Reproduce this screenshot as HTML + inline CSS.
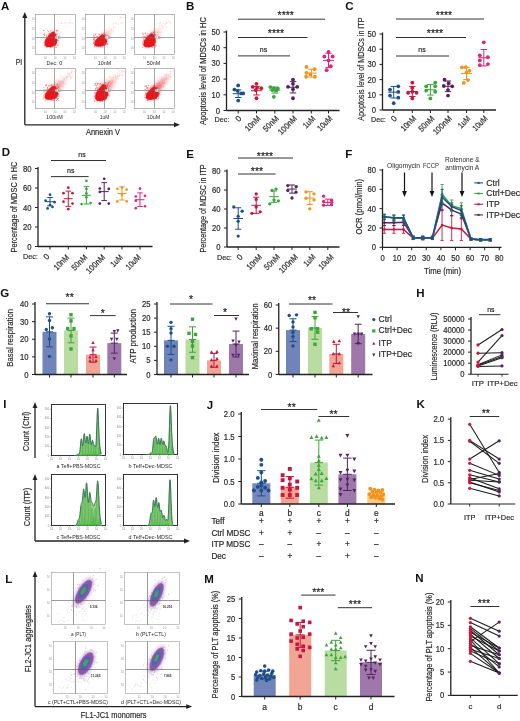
<!DOCTYPE html>
<html><head><meta charset="utf-8"><style>
html,body{margin:0;padding:0;background:#fff;width:520px;height:721px;overflow:hidden;font-family:"Liberation Sans",sans-serif;}
svg{display:block;opacity:0.999;} 
</style></head><body>
<svg width="520" height="721" viewBox="0 0 520 721" font-family="Liberation Sans, sans-serif">
<defs><filter id="blur1" x="-50%" y="-50%" width="200%" height="200%"><feGaussianBlur stdDeviation="1.6"/></filter><filter id="blur2" x="-50%" y="-50%" width="200%" height="200%"><feGaussianBlur stdDeviation="2.5"/></filter><linearGradient id="plume" x1="0" y1="1" x2="1" y2="0"><stop offset="0" stop-color="#e82020" stop-opacity="0.9"/><stop offset="1" stop-color="#f08080" stop-opacity="0.1"/></linearGradient><filter id="blur05" x="-20%" y="-20%" width="140%" height="140%"><feGaussianBlur stdDeviation="0.6"/></filter><linearGradient id="ggrad" x1="0" y1="0" x2="0" y2="1"><stop offset="0" stop-color="#2f9a3c"/><stop offset="1" stop-color="#7cc66a"/></linearGradient></defs>
<rect width="520" height="721" fill="#fff"/>
<text x="1.00" y="9.70" font-size="11.5" text-anchor="start" fill="#111" font-weight="bold">A</text>
<line x1="24.80" y1="16.00" x2="24.80" y2="124.80" stroke="#222" stroke-width="1.3"/>
<path d="M24.8 12 L22.3 18 L27.3 18 Z" fill="#222"/>
<line x1="24.80" y1="124.80" x2="176.00" y2="124.80" stroke="#222" stroke-width="1.3"/>
<path d="M180 124.8 L174 122.3 L174 127.3 Z" fill="#222"/>
<text x="19.00" y="65.00" font-size="9.5" text-anchor="middle" fill="#2a2a2a" stroke="#2a2a2a" stroke-width="0.2" textLength="6.5" lengthAdjust="spacingAndGlyphs">PI</text>
<text x="103.00" y="135.30" font-size="9.5" text-anchor="middle" fill="#2a2a2a" stroke="#2a2a2a" stroke-width="0.2" textLength="34" lengthAdjust="spacingAndGlyphs">Annexin V</text>
<rect x="35.5" y="14.5" width="40.0" height="40.0" fill="#fff" stroke="#9a9a9a" stroke-width="0.7"/>
<ellipse cx="54.3" cy="34.7" rx="5.8" ry="5.3" fill="#f6a0a0" opacity="0.25" transform="rotate(-50 54.3 34.7)" filter="url(#blur2)"/>
<g fill="#f08080" opacity="0.5"><circle cx="58.0" cy="31.0" r="0.45"/><circle cx="56.6" cy="31.5" r="0.45"/><circle cx="65.5" cy="23.8" r="0.45"/><circle cx="56.0" cy="33.0" r="0.45"/><circle cx="69.3" cy="22.3" r="0.45"/><circle cx="67.3" cy="26.9" r="0.45"/><circle cx="70.7" cy="19.6" r="0.45"/><circle cx="64.7" cy="25.9" r="0.45"/><circle cx="61.7" cy="23.2" r="0.4"/><circle cx="61.8" cy="23.4" r="0.4"/><circle cx="64.8" cy="22.9" r="0.4"/><circle cx="61.9" cy="23.3" r="0.4"/><circle cx="61.8" cy="22.8" r="0.4"/><circle cx="59.0" cy="23.4" r="0.4"/><circle cx="70.4" cy="22.5" r="0.4"/><circle cx="61.3" cy="23.0" r="0.4"/><circle cx="72.6" cy="23.5" r="0.4"/><circle cx="63.4" cy="23.1" r="0.4"/><circle cx="68.8" cy="23.0" r="0.4"/><circle cx="64.6" cy="21.9" r="0.4"/><circle cx="70.3" cy="23.1" r="0.4"/><circle cx="66.9" cy="22.9" r="0.4"/><circle cx="71.1" cy="23.7" r="0.4"/><circle cx="66.9" cy="22.7" r="0.4"/></g>
<polygon points="44.5,44.6 45.2,40.1 48.4,35.5 52.3,31.7 54.9,32.5 56.9,37.0 57.5,40.8 55.6,45.4 51.0,46.9 46.5,46.9" fill="#f05050" opacity="0.55" filter="url(#blur1)"/>
<polygon points="44.5,44.6 45.2,40.1 48.4,35.5 52.3,31.7 54.9,32.5 56.9,37.0 57.5,40.8 55.6,45.4 51.0,46.9 46.5,46.9" fill="#e8141c" filter="url(#blur05)"/>
<g fill="#e82020" opacity="0.6"><circle cx="44.0" cy="34.4" r="0.5"/><circle cx="55.4" cy="37.4" r="0.5"/><circle cx="46.1" cy="39.8" r="0.5"/><circle cx="54.0" cy="42.0" r="0.5"/><circle cx="49.1" cy="37.9" r="0.5"/><circle cx="51.1" cy="43.8" r="0.5"/><circle cx="51.3" cy="37.1" r="0.5"/><circle cx="50.8" cy="30.7" r="0.5"/><circle cx="44.2" cy="42.5" r="0.5"/><circle cx="58.2" cy="40.5" r="0.5"/><circle cx="49.4" cy="33.2" r="0.5"/><circle cx="51.0" cy="47.3" r="0.5"/><circle cx="55.0" cy="39.6" r="0.5"/><circle cx="56.3" cy="34.2" r="0.5"/><circle cx="51.2" cy="46.8" r="0.5"/><circle cx="52.1" cy="38.2" r="0.5"/><circle cx="47.5" cy="39.8" r="0.5"/><circle cx="57.8" cy="30.3" r="0.5"/><circle cx="55.2" cy="44.5" r="0.5"/><circle cx="56.7" cy="43.1" r="0.5"/><circle cx="55.6" cy="39.2" r="0.5"/><circle cx="51.9" cy="37.6" r="0.5"/><circle cx="44.3" cy="45.4" r="0.5"/><circle cx="52.0" cy="33.7" r="0.5"/><circle cx="51.0" cy="38.7" r="0.5"/><circle cx="48.8" cy="36.2" r="0.5"/><circle cx="51.5" cy="41.1" r="0.5"/><circle cx="52.6" cy="38.2" r="0.5"/><circle cx="43.9" cy="34.2" r="0.5"/><circle cx="46.1" cy="40.4" r="0.5"/><circle cx="56.3" cy="44.1" r="0.5"/><circle cx="55.4" cy="44.5" r="0.5"/><circle cx="47.3" cy="44.9" r="0.5"/><circle cx="53.5" cy="31.6" r="0.5"/><circle cx="43.8" cy="30.4" r="0.5"/><circle cx="54.8" cy="34.5" r="0.5"/><circle cx="45.1" cy="41.1" r="0.5"/><circle cx="48.6" cy="31.4" r="0.5"/><circle cx="45.9" cy="39.4" r="0.5"/><circle cx="46.0" cy="35.0" r="0.5"/><circle cx="54.1" cy="38.1" r="0.5"/><circle cx="48.3" cy="38.5" r="0.5"/><circle cx="43.9" cy="36.9" r="0.5"/><circle cx="49.8" cy="33.5" r="0.5"/><circle cx="45.1" cy="45.9" r="0.5"/><circle cx="51.1" cy="33.8" r="0.5"/><circle cx="52.5" cy="44.5" r="0.5"/><circle cx="43.8" cy="30.5" r="0.5"/><circle cx="45.7" cy="42.7" r="0.5"/><circle cx="45.9" cy="42.5" r="0.5"/><circle cx="53.6" cy="39.7" r="0.5"/><circle cx="46.8" cy="47.2" r="0.5"/><circle cx="55.4" cy="39.2" r="0.5"/><circle cx="46.8" cy="41.5" r="0.5"/><circle cx="49.4" cy="40.2" r="0.5"/><circle cx="48.3" cy="41.2" r="0.5"/><circle cx="44.4" cy="35.4" r="0.5"/><circle cx="57.9" cy="45.5" r="0.5"/><circle cx="48.1" cy="45.2" r="0.5"/><circle cx="48.1" cy="46.6" r="0.5"/><circle cx="54.6" cy="37.5" r="0.5"/><circle cx="47.3" cy="30.3" r="0.5"/><circle cx="56.6" cy="30.8" r="0.5"/><circle cx="55.7" cy="47.0" r="0.5"/><circle cx="52.0" cy="33.2" r="0.5"/><circle cx="56.4" cy="47.2" r="0.5"/><circle cx="54.0" cy="39.1" r="0.5"/><circle cx="49.1" cy="36.2" r="0.5"/><circle cx="46.6" cy="42.0" r="0.5"/><circle cx="50.0" cy="33.6" r="0.5"/><circle cx="45.1" cy="41.8" r="0.5"/><circle cx="47.9" cy="38.9" r="0.5"/><circle cx="48.4" cy="45.4" r="0.5"/><circle cx="56.9" cy="30.5" r="0.5"/><circle cx="46.5" cy="35.9" r="0.5"/><circle cx="58.2" cy="43.9" r="0.5"/><circle cx="48.6" cy="33.9" r="0.5"/><circle cx="53.6" cy="44.8" r="0.5"/><circle cx="57.4" cy="36.2" r="0.5"/><circle cx="56.7" cy="42.2" r="0.5"/><circle cx="50.7" cy="47.4" r="0.5"/><circle cx="47.0" cy="42.9" r="0.5"/><circle cx="44.8" cy="33.1" r="0.5"/><circle cx="57.1" cy="33.9" r="0.5"/><circle cx="54.8" cy="40.7" r="0.5"/><circle cx="56.0" cy="36.6" r="0.5"/><circle cx="48.6" cy="35.3" r="0.5"/><circle cx="56.4" cy="40.7" r="0.5"/><circle cx="57.7" cy="45.7" r="0.5"/><circle cx="45.5" cy="39.8" r="0.5"/></g>
<line x1="54.50" y1="14.50" x2="54.50" y2="54.50" stroke="#666" stroke-width="0.6"/>
<line x1="35.50" y1="37.50" x2="75.50" y2="37.50" stroke="#666" stroke-width="0.6"/>
<rect x="55.3" y="36.0" width="5" height="3" fill="#fff" opacity="0.8"/>
<text x="55.50" y="38.70" font-size="2.6" text-anchor="start" fill="#555">2.96</text>
<text x="34.50" y="20.30" font-size="2.8" text-anchor="end" fill="#999">10</text>
<text x="34.50" y="29.90" font-size="2.8" text-anchor="end" fill="#999">10</text>
<text x="34.50" y="39.50" font-size="2.8" text-anchor="end" fill="#999">10</text>
<text x="34.50" y="49.10" font-size="2.8" text-anchor="end" fill="#999">10</text>
<text x="45.50" y="58.50" font-size="2.8" text-anchor="middle" fill="#999">10</text>
<text x="55.10" y="58.50" font-size="2.8" text-anchor="middle" fill="#999">10</text>
<text x="64.70" y="58.50" font-size="2.8" text-anchor="middle" fill="#999">10</text>
<text x="74.30" y="58.50" font-size="2.8" text-anchor="middle" fill="#999">10</text>
<text x="54.50" y="64.90" font-size="6.2" text-anchor="middle" fill="#2a2a2a" textLength="15.8" lengthAdjust="spacingAndGlyphs">Dec: 0</text>
<rect x="85.5" y="14.5" width="40.0" height="40.0" fill="#fff" stroke="#9a9a9a" stroke-width="0.7"/>
<ellipse cx="103.9" cy="36.9" rx="6.1" ry="4.2" fill="#f6a0a0" opacity="0.27" transform="rotate(-50 103.9 36.9)" filter="url(#blur2)"/>
<g fill="#f08080" opacity="0.5"><circle cx="121.9" cy="18.7" r="0.45"/><circle cx="106.8" cy="33.7" r="0.45"/><circle cx="114.8" cy="27.2" r="0.45"/><circle cx="113.5" cy="26.0" r="0.45"/><circle cx="109.0" cy="31.6" r="0.45"/><circle cx="124.2" cy="17.4" r="0.45"/><circle cx="111.2" cy="30.1" r="0.45"/><circle cx="103.4" cy="37.0" r="0.45"/><circle cx="111.6" cy="29.7" r="0.45"/><circle cx="113.5" cy="27.7" r="0.45"/><circle cx="110.4" cy="33.4" r="0.45"/><circle cx="121.9" cy="17.0" r="0.45"/><circle cx="120.9" cy="17.8" r="0.45"/><circle cx="120.6" cy="17.2" r="0.45"/><circle cx="113.7" cy="30.9" r="0.45"/><circle cx="106.6" cy="32.2" r="0.45"/><circle cx="115.2" cy="22.6" r="0.4"/><circle cx="121.6" cy="23.2" r="0.4"/><circle cx="115.7" cy="23.6" r="0.4"/><circle cx="121.1" cy="22.8" r="0.4"/><circle cx="121.3" cy="22.5" r="0.4"/><circle cx="121.6" cy="23.5" r="0.4"/><circle cx="118.8" cy="22.9" r="0.4"/><circle cx="113.2" cy="23.3" r="0.4"/><circle cx="118.5" cy="24.0" r="0.4"/><circle cx="112.5" cy="24.4" r="0.4"/><circle cx="121.5" cy="22.7" r="0.4"/><circle cx="118.6" cy="24.7" r="0.4"/><circle cx="115.8" cy="22.4" r="0.4"/><circle cx="116.9" cy="23.2" r="0.4"/><circle cx="113.1" cy="23.5" r="0.4"/><circle cx="121.8" cy="24.0" r="0.4"/></g>
<polygon points="100.1,36.3 110.7,26.1 114.7,30.1 106.5,39.9" fill="url(#plume)" opacity="0.38" filter="url(#blur1)"/>
<polygon points="94.3,44.7 94.9,41.1 98.1,37.5 102.0,34.5 104.5,35.1 106.5,38.7 107.1,41.7 105.2,45.3 100.7,46.5 96.2,46.5" fill="#f05050" opacity="0.55" filter="url(#blur1)"/>
<polygon points="94.3,44.7 94.9,41.1 98.1,37.5 102.0,34.5 104.5,35.1 106.5,38.7 107.1,41.7 105.2,45.3 100.7,46.5 96.2,46.5" fill="#e8141c" filter="url(#blur05)"/>
<g fill="#e82020" opacity="0.6"><circle cx="102.5" cy="34.3" r="0.5"/><circle cx="105.4" cy="43.3" r="0.5"/><circle cx="106.6" cy="35.9" r="0.5"/><circle cx="104.2" cy="34.1" r="0.5"/><circle cx="102.9" cy="37.1" r="0.5"/><circle cx="96.6" cy="45.4" r="0.5"/><circle cx="94.8" cy="40.5" r="0.5"/><circle cx="105.8" cy="36.7" r="0.5"/><circle cx="96.4" cy="45.5" r="0.5"/><circle cx="99.5" cy="43.2" r="0.5"/><circle cx="93.7" cy="38.3" r="0.5"/><circle cx="95.8" cy="42.6" r="0.5"/><circle cx="94.5" cy="46.5" r="0.5"/><circle cx="93.6" cy="43.4" r="0.5"/><circle cx="93.6" cy="36.8" r="0.5"/><circle cx="105.2" cy="35.5" r="0.5"/><circle cx="96.0" cy="42.8" r="0.5"/><circle cx="99.0" cy="33.9" r="0.5"/><circle cx="107.8" cy="35.4" r="0.5"/><circle cx="93.8" cy="38.0" r="0.5"/><circle cx="102.3" cy="43.5" r="0.5"/><circle cx="94.9" cy="38.0" r="0.5"/><circle cx="93.7" cy="39.5" r="0.5"/><circle cx="104.6" cy="43.5" r="0.5"/><circle cx="106.6" cy="43.7" r="0.5"/><circle cx="106.0" cy="43.0" r="0.5"/><circle cx="100.2" cy="36.4" r="0.5"/><circle cx="103.0" cy="37.7" r="0.5"/><circle cx="94.8" cy="39.5" r="0.5"/><circle cx="106.2" cy="35.1" r="0.5"/><circle cx="101.9" cy="38.7" r="0.5"/><circle cx="100.9" cy="35.3" r="0.5"/><circle cx="107.4" cy="36.9" r="0.5"/><circle cx="102.2" cy="39.1" r="0.5"/><circle cx="93.5" cy="41.0" r="0.5"/><circle cx="95.3" cy="34.1" r="0.5"/><circle cx="93.8" cy="35.5" r="0.5"/><circle cx="94.7" cy="42.1" r="0.5"/><circle cx="100.8" cy="46.9" r="0.5"/><circle cx="107.0" cy="47.0" r="0.5"/><circle cx="96.7" cy="39.4" r="0.5"/><circle cx="97.0" cy="41.5" r="0.5"/><circle cx="102.5" cy="44.3" r="0.5"/><circle cx="103.7" cy="36.8" r="0.5"/><circle cx="99.5" cy="40.6" r="0.5"/><circle cx="93.3" cy="33.8" r="0.5"/><circle cx="99.3" cy="34.8" r="0.5"/><circle cx="103.9" cy="36.6" r="0.5"/><circle cx="94.7" cy="35.8" r="0.5"/><circle cx="96.7" cy="36.3" r="0.5"/><circle cx="100.9" cy="39.7" r="0.5"/><circle cx="97.8" cy="42.2" r="0.5"/><circle cx="96.4" cy="45.8" r="0.5"/><circle cx="107.5" cy="43.4" r="0.5"/><circle cx="99.7" cy="40.4" r="0.5"/><circle cx="101.8" cy="34.0" r="0.5"/><circle cx="99.4" cy="40.5" r="0.5"/><circle cx="95.9" cy="34.6" r="0.5"/><circle cx="105.1" cy="38.4" r="0.5"/><circle cx="100.9" cy="46.0" r="0.5"/><circle cx="102.3" cy="37.3" r="0.5"/><circle cx="107.8" cy="38.4" r="0.5"/><circle cx="93.6" cy="42.8" r="0.5"/><circle cx="94.8" cy="37.5" r="0.5"/><circle cx="105.6" cy="42.6" r="0.5"/><circle cx="93.5" cy="39.5" r="0.5"/><circle cx="99.3" cy="40.0" r="0.5"/><circle cx="96.3" cy="41.4" r="0.5"/><circle cx="94.4" cy="37.2" r="0.5"/><circle cx="98.8" cy="46.2" r="0.5"/><circle cx="94.4" cy="43.7" r="0.5"/><circle cx="96.1" cy="41.2" r="0.5"/><circle cx="99.0" cy="39.7" r="0.5"/><circle cx="104.4" cy="38.8" r="0.5"/><circle cx="95.1" cy="35.0" r="0.5"/><circle cx="94.5" cy="45.0" r="0.5"/><circle cx="102.7" cy="46.5" r="0.5"/><circle cx="103.5" cy="33.6" r="0.5"/><circle cx="103.0" cy="44.0" r="0.5"/><circle cx="103.9" cy="40.2" r="0.5"/><circle cx="98.5" cy="39.6" r="0.5"/><circle cx="105.0" cy="37.0" r="0.5"/><circle cx="101.0" cy="39.9" r="0.5"/><circle cx="107.3" cy="44.4" r="0.5"/><circle cx="107.0" cy="44.8" r="0.5"/><circle cx="97.6" cy="36.5" r="0.5"/><circle cx="100.5" cy="36.9" r="0.5"/><circle cx="99.6" cy="42.7" r="0.5"/><circle cx="106.8" cy="41.4" r="0.5"/><circle cx="105.3" cy="34.6" r="0.5"/></g>
<line x1="104.50" y1="14.50" x2="104.50" y2="54.50" stroke="#666" stroke-width="0.6"/>
<line x1="85.50" y1="37.50" x2="125.50" y2="37.50" stroke="#666" stroke-width="0.6"/>
<rect x="105.3" y="36.0" width="5" height="3" fill="#fff" opacity="0.8"/>
<text x="105.50" y="38.70" font-size="2.6" text-anchor="start" fill="#555">2.96</text>
<text x="84.50" y="20.30" font-size="2.8" text-anchor="end" fill="#999">10</text>
<text x="84.50" y="29.90" font-size="2.8" text-anchor="end" fill="#999">10</text>
<text x="84.50" y="39.50" font-size="2.8" text-anchor="end" fill="#999">10</text>
<text x="84.50" y="49.10" font-size="2.8" text-anchor="end" fill="#999">10</text>
<text x="95.50" y="58.50" font-size="2.8" text-anchor="middle" fill="#999">10</text>
<text x="105.10" y="58.50" font-size="2.8" text-anchor="middle" fill="#999">10</text>
<text x="114.70" y="58.50" font-size="2.8" text-anchor="middle" fill="#999">10</text>
<text x="124.30" y="58.50" font-size="2.8" text-anchor="middle" fill="#999">10</text>
<text x="104.50" y="64.90" font-size="6.2" text-anchor="middle" fill="#2a2a2a" textLength="13.4" lengthAdjust="spacingAndGlyphs">10nM</text>
<rect x="134.5" y="14.5" width="40.0" height="40.0" fill="#fff" stroke="#9a9a9a" stroke-width="0.7"/>
<ellipse cx="152.8" cy="36.1" rx="6.4" ry="4.9" fill="#f6a0a0" opacity="0.29" transform="rotate(-50 152.8 36.1)" filter="url(#blur2)"/>
<g fill="#f08080" opacity="0.5"><circle cx="155.1" cy="32.4" r="0.45"/><circle cx="162.8" cy="25.7" r="0.45"/><circle cx="154.1" cy="34.9" r="0.45"/><circle cx="158.3" cy="32.8" r="0.45"/><circle cx="165.6" cy="21.6" r="0.45"/><circle cx="153.1" cy="31.8" r="0.45"/><circle cx="161.5" cy="25.3" r="0.45"/><circle cx="154.2" cy="33.3" r="0.45"/><circle cx="160.8" cy="32.4" r="0.45"/><circle cx="160.0" cy="25.4" r="0.45"/><circle cx="166.8" cy="23.1" r="0.45"/><circle cx="163.6" cy="23.3" r="0.45"/><circle cx="169.5" cy="20.9" r="0.45"/><circle cx="157.9" cy="32.8" r="0.45"/><circle cx="163.0" cy="27.4" r="0.45"/><circle cx="157.8" cy="32.0" r="0.45"/><circle cx="164.8" cy="25.1" r="0.45"/><circle cx="172.9" cy="15.4" r="0.45"/><circle cx="166.2" cy="27.4" r="0.45"/><circle cx="172.3" cy="17.3" r="0.45"/><circle cx="166.1" cy="26.8" r="0.45"/><circle cx="162.5" cy="27.2" r="0.45"/><circle cx="168.9" cy="20.9" r="0.45"/><circle cx="166.4" cy="22.5" r="0.45"/><circle cx="157.9" cy="28.6" r="0.45"/><circle cx="153.4" cy="35.3" r="0.45"/><circle cx="163.8" cy="26.6" r="0.45"/><circle cx="165.1" cy="18.0" r="0.45"/><circle cx="162.0" cy="24.0" r="0.4"/><circle cx="158.1" cy="23.7" r="0.4"/><circle cx="160.5" cy="22.6" r="0.4"/><circle cx="159.9" cy="23.8" r="0.4"/><circle cx="158.3" cy="23.7" r="0.4"/><circle cx="171.1" cy="22.9" r="0.4"/><circle cx="170.3" cy="22.8" r="0.4"/><circle cx="165.0" cy="23.8" r="0.4"/><circle cx="166.7" cy="22.7" r="0.4"/><circle cx="166.4" cy="22.9" r="0.4"/><circle cx="170.9" cy="22.7" r="0.4"/><circle cx="167.8" cy="23.3" r="0.4"/><circle cx="161.0" cy="22.8" r="0.4"/><circle cx="165.0" cy="24.9" r="0.4"/><circle cx="165.4" cy="23.9" r="0.4"/><circle cx="165.8" cy="23.3" r="0.4"/></g>
<polygon points="149.0,35.4 160.3,25.6 164.3,29.6 155.3,39.6" fill="url(#plume)" opacity="0.41" filter="url(#blur1)"/>
<polygon points="143.3,45.2 143.9,41.0 147.1,36.8 150.9,33.3 153.4,34.0 155.3,38.2 155.9,41.7 154.0,45.9 149.6,47.3 145.2,47.3" fill="#f05050" opacity="0.55" filter="url(#blur1)"/>
<polygon points="143.3,45.2 143.9,41.0 147.1,36.8 150.9,33.3 153.4,34.0 155.3,38.2 155.9,41.7 154.0,45.9 149.6,47.3 145.2,47.3" fill="#e8141c" filter="url(#blur05)"/>
<g fill="#e82020" opacity="0.6"><circle cx="142.6" cy="41.8" r="0.5"/><circle cx="151.5" cy="32.9" r="0.5"/><circle cx="151.4" cy="39.4" r="0.5"/><circle cx="152.1" cy="37.6" r="0.5"/><circle cx="152.5" cy="43.8" r="0.5"/><circle cx="142.6" cy="32.9" r="0.5"/><circle cx="152.1" cy="47.4" r="0.5"/><circle cx="145.9" cy="39.2" r="0.5"/><circle cx="150.9" cy="37.1" r="0.5"/><circle cx="147.6" cy="36.9" r="0.5"/><circle cx="147.6" cy="41.5" r="0.5"/><circle cx="146.6" cy="38.0" r="0.5"/><circle cx="153.5" cy="32.3" r="0.5"/><circle cx="150.5" cy="43.7" r="0.5"/><circle cx="146.8" cy="35.5" r="0.5"/><circle cx="153.9" cy="35.7" r="0.5"/><circle cx="145.0" cy="38.9" r="0.5"/><circle cx="152.4" cy="33.5" r="0.5"/><circle cx="147.0" cy="37.3" r="0.5"/><circle cx="154.4" cy="39.0" r="0.5"/><circle cx="154.7" cy="34.6" r="0.5"/><circle cx="147.2" cy="42.4" r="0.5"/><circle cx="155.1" cy="39.2" r="0.5"/><circle cx="145.6" cy="33.8" r="0.5"/><circle cx="150.0" cy="35.0" r="0.5"/><circle cx="154.0" cy="45.4" r="0.5"/><circle cx="145.0" cy="36.4" r="0.5"/><circle cx="154.0" cy="42.2" r="0.5"/><circle cx="154.0" cy="37.5" r="0.5"/><circle cx="144.2" cy="36.6" r="0.5"/><circle cx="153.8" cy="36.3" r="0.5"/><circle cx="147.3" cy="38.6" r="0.5"/><circle cx="148.4" cy="38.5" r="0.5"/><circle cx="155.6" cy="34.4" r="0.5"/><circle cx="142.4" cy="47.1" r="0.5"/><circle cx="155.0" cy="47.8" r="0.5"/><circle cx="148.6" cy="47.2" r="0.5"/><circle cx="155.7" cy="35.5" r="0.5"/><circle cx="153.1" cy="45.4" r="0.5"/><circle cx="151.9" cy="40.3" r="0.5"/><circle cx="146.5" cy="37.4" r="0.5"/><circle cx="145.6" cy="33.0" r="0.5"/><circle cx="150.8" cy="36.5" r="0.5"/><circle cx="154.0" cy="32.6" r="0.5"/><circle cx="155.4" cy="43.1" r="0.5"/><circle cx="155.7" cy="46.3" r="0.5"/><circle cx="155.3" cy="41.2" r="0.5"/><circle cx="142.5" cy="43.9" r="0.5"/><circle cx="144.8" cy="36.7" r="0.5"/><circle cx="151.9" cy="40.4" r="0.5"/><circle cx="148.3" cy="47.0" r="0.5"/><circle cx="151.2" cy="37.4" r="0.5"/><circle cx="146.0" cy="45.8" r="0.5"/><circle cx="149.2" cy="44.5" r="0.5"/><circle cx="147.4" cy="35.1" r="0.5"/><circle cx="150.0" cy="45.1" r="0.5"/><circle cx="144.8" cy="44.6" r="0.5"/><circle cx="155.6" cy="44.9" r="0.5"/><circle cx="154.2" cy="32.0" r="0.5"/><circle cx="151.4" cy="45.8" r="0.5"/><circle cx="143.0" cy="36.3" r="0.5"/><circle cx="146.2" cy="40.4" r="0.5"/><circle cx="148.4" cy="39.5" r="0.5"/><circle cx="153.5" cy="31.9" r="0.5"/><circle cx="143.1" cy="33.9" r="0.5"/><circle cx="144.1" cy="33.0" r="0.5"/><circle cx="156.4" cy="45.7" r="0.5"/><circle cx="143.5" cy="40.0" r="0.5"/><circle cx="146.9" cy="37.0" r="0.5"/><circle cx="147.4" cy="42.3" r="0.5"/><circle cx="150.8" cy="37.7" r="0.5"/><circle cx="145.1" cy="37.2" r="0.5"/><circle cx="144.1" cy="40.8" r="0.5"/><circle cx="152.7" cy="38.0" r="0.5"/><circle cx="143.4" cy="34.8" r="0.5"/><circle cx="147.7" cy="41.6" r="0.5"/><circle cx="153.6" cy="38.0" r="0.5"/><circle cx="153.9" cy="41.9" r="0.5"/><circle cx="148.5" cy="37.9" r="0.5"/><circle cx="149.5" cy="43.2" r="0.5"/><circle cx="148.4" cy="43.1" r="0.5"/><circle cx="149.0" cy="35.8" r="0.5"/><circle cx="150.1" cy="43.1" r="0.5"/><circle cx="143.3" cy="38.7" r="0.5"/><circle cx="148.5" cy="46.1" r="0.5"/><circle cx="155.9" cy="37.9" r="0.5"/><circle cx="155.3" cy="44.6" r="0.5"/><circle cx="146.1" cy="39.4" r="0.5"/><circle cx="144.1" cy="45.0" r="0.5"/><circle cx="151.9" cy="46.2" r="0.5"/></g>
<line x1="154.50" y1="14.50" x2="154.50" y2="54.50" stroke="#666" stroke-width="0.6"/>
<line x1="134.50" y1="37.50" x2="174.50" y2="37.50" stroke="#666" stroke-width="0.6"/>
<rect x="155.3" y="36.0" width="5" height="3" fill="#fff" opacity="0.8"/>
<text x="155.50" y="38.70" font-size="2.6" text-anchor="start" fill="#555">2.96</text>
<text x="133.50" y="20.30" font-size="2.8" text-anchor="end" fill="#999">10</text>
<text x="133.50" y="29.90" font-size="2.8" text-anchor="end" fill="#999">10</text>
<text x="133.50" y="39.50" font-size="2.8" text-anchor="end" fill="#999">10</text>
<text x="133.50" y="49.10" font-size="2.8" text-anchor="end" fill="#999">10</text>
<text x="144.50" y="58.50" font-size="2.8" text-anchor="middle" fill="#999">10</text>
<text x="154.10" y="58.50" font-size="2.8" text-anchor="middle" fill="#999">10</text>
<text x="163.70" y="58.50" font-size="2.8" text-anchor="middle" fill="#999">10</text>
<text x="173.30" y="58.50" font-size="2.8" text-anchor="middle" fill="#999">10</text>
<text x="153.50" y="64.90" font-size="6.2" text-anchor="middle" fill="#2a2a2a" textLength="13.4" lengthAdjust="spacingAndGlyphs">50nM</text>
<rect x="35.5" y="68.5" width="40.0" height="40.0" fill="#fff" stroke="#9a9a9a" stroke-width="0.7"/>
<ellipse cx="54.9" cy="88.5" rx="9.5" ry="4.9" fill="#f6a0a0" opacity="0.40" transform="rotate(-50 54.9 88.5)" filter="url(#blur2)"/>
<g fill="#f08080" opacity="0.5"><circle cx="59.9" cy="86.5" r="0.45"/><circle cx="58.9" cy="87.3" r="0.45"/><circle cx="71.7" cy="70.6" r="0.45"/><circle cx="57.1" cy="85.4" r="0.45"/><circle cx="58.5" cy="87.1" r="0.45"/><circle cx="72.4" cy="70.4" r="0.45"/><circle cx="69.0" cy="76.8" r="0.45"/><circle cx="64.9" cy="75.7" r="0.45"/><circle cx="72.0" cy="75.0" r="0.45"/><circle cx="65.1" cy="77.9" r="0.45"/><circle cx="65.6" cy="83.6" r="0.45"/><circle cx="68.5" cy="73.8" r="0.45"/><circle cx="67.7" cy="71.9" r="0.45"/><circle cx="67.8" cy="74.5" r="0.45"/><circle cx="63.9" cy="79.7" r="0.45"/><circle cx="59.8" cy="84.0" r="0.45"/><circle cx="55.1" cy="87.1" r="0.45"/><circle cx="62.1" cy="80.7" r="0.45"/><circle cx="73.0" cy="73.1" r="0.45"/><circle cx="57.2" cy="85.0" r="0.45"/><circle cx="60.5" cy="82.2" r="0.45"/><circle cx="64.6" cy="79.6" r="0.45"/><circle cx="56.5" cy="90.6" r="0.45"/><circle cx="65.1" cy="80.4" r="0.45"/><circle cx="57.2" cy="86.5" r="0.45"/><circle cx="69.7" cy="75.0" r="0.45"/><circle cx="67.6" cy="76.7" r="0.45"/><circle cx="62.1" cy="84.1" r="0.45"/><circle cx="63.5" cy="81.9" r="0.45"/><circle cx="68.6" cy="76.1" r="0.45"/><circle cx="63.0" cy="83.3" r="0.45"/><circle cx="71.6" cy="72.5" r="0.45"/><circle cx="57.3" cy="90.5" r="0.45"/><circle cx="60.4" cy="84.2" r="0.45"/><circle cx="71.2" cy="72.4" r="0.45"/><circle cx="57.1" cy="88.3" r="0.45"/><circle cx="66.5" cy="78.2" r="0.45"/><circle cx="62.8" cy="86.8" r="0.45"/><circle cx="54.2" cy="86.6" r="0.45"/><circle cx="63.2" cy="82.5" r="0.45"/><circle cx="58.3" cy="85.6" r="0.45"/><circle cx="61.6" cy="85.8" r="0.45"/><circle cx="68.7" cy="74.9" r="0.45"/><circle cx="58.9" cy="86.3" r="0.45"/><circle cx="59.1" cy="84.9" r="0.45"/><circle cx="57.9" cy="87.1" r="0.45"/><circle cx="69.5" cy="73.7" r="0.45"/><circle cx="66.4" cy="75.7" r="0.45"/><circle cx="63.8" cy="81.8" r="0.45"/><circle cx="72.9" cy="71.9" r="0.45"/><circle cx="58.6" cy="81.5" r="0.45"/><circle cx="66.3" cy="76.7" r="0.45"/><circle cx="65.3" cy="77.1" r="0.45"/><circle cx="71.6" cy="72.9" r="0.45"/><circle cx="74.2" cy="71.5" r="0.45"/><circle cx="56.7" cy="87.6" r="0.45"/><circle cx="71.6" cy="71.6" r="0.45"/><circle cx="56.2" cy="85.0" r="0.45"/><circle cx="68.5" cy="76.0" r="0.45"/><circle cx="55.8" cy="88.4" r="0.45"/><circle cx="72.2" cy="75.9" r="0.45"/><circle cx="69.7" cy="74.4" r="0.45"/><circle cx="70.8" cy="76.2" r="0.45"/><circle cx="62.2" cy="82.3" r="0.45"/><circle cx="62.1" cy="81.5" r="0.45"/><circle cx="54.3" cy="87.2" r="0.45"/><circle cx="69.1" cy="73.7" r="0.45"/><circle cx="60.8" cy="81.5" r="0.45"/><circle cx="57.2" cy="85.9" r="0.45"/><circle cx="55.0" cy="87.2" r="0.45"/><circle cx="67.9" cy="76.8" r="0.45"/><circle cx="63.4" cy="81.2" r="0.45"/><circle cx="54.4" cy="84.9" r="0.45"/><circle cx="60.3" cy="82.2" r="0.45"/><circle cx="71.1" cy="77.3" r="0.45"/><circle cx="57.0" cy="89.0" r="0.45"/><circle cx="61.9" cy="81.5" r="0.45"/><circle cx="70.4" cy="74.8" r="0.45"/><circle cx="61.8" cy="82.9" r="0.45"/><circle cx="70.5" cy="73.3" r="0.45"/><circle cx="58.0" cy="83.8" r="0.45"/><circle cx="66.3" cy="77.2" r="0.45"/><circle cx="59.6" cy="84.1" r="0.45"/><circle cx="70.1" cy="75.9" r="0.45"/><circle cx="65.1" cy="77.0" r="0.45"/><circle cx="67.3" cy="74.0" r="0.45"/><circle cx="61.6" cy="82.3" r="0.45"/><circle cx="64.2" cy="79.4" r="0.45"/><circle cx="66.4" cy="77.9" r="0.45"/><circle cx="57.9" cy="87.4" r="0.45"/><circle cx="70.2" cy="78.4" r="0.45"/><circle cx="59.4" cy="82.6" r="0.45"/><circle cx="66.5" cy="79.8" r="0.45"/><circle cx="71.8" cy="77.7" r="0.4"/><circle cx="63.3" cy="78.1" r="0.4"/><circle cx="62.9" cy="77.4" r="0.4"/><circle cx="72.0" cy="77.3" r="0.4"/><circle cx="70.3" cy="77.6" r="0.4"/><circle cx="72.0" cy="76.3" r="0.4"/><circle cx="60.9" cy="76.7" r="0.4"/><circle cx="66.7" cy="76.9" r="0.4"/><circle cx="71.8" cy="77.4" r="0.4"/><circle cx="60.3" cy="75.7" r="0.4"/><circle cx="67.8" cy="76.9" r="0.4"/><circle cx="67.4" cy="76.4" r="0.4"/><circle cx="70.3" cy="76.9" r="0.4"/><circle cx="64.4" cy="78.6" r="0.4"/><circle cx="67.1" cy="78.0" r="0.4"/><circle cx="63.0" cy="76.7" r="0.4"/></g>
<polygon points="50.8,87.8 64.3,76.9 68.3,80.9 57.6,92.0" fill="url(#plume)" opacity="0.60" filter="url(#blur1)"/>
<polygon points="44.7,97.6 45.4,93.4 48.8,89.2 52.9,85.7 55.6,86.4 57.6,90.6 58.3,94.1 56.3,98.3 51.5,99.7 46.7,99.7" fill="#f05050" opacity="0.55" filter="url(#blur1)"/>
<polygon points="44.7,97.6 45.4,93.4 48.8,89.2 52.9,85.7 55.6,86.4 57.6,90.6 58.3,94.1 56.3,98.3 51.5,99.7 46.7,99.7" fill="#e8141c" filter="url(#blur05)"/>
<g fill="#e82020" opacity="0.6"><circle cx="47.2" cy="89.6" r="0.5"/><circle cx="53.4" cy="100.3" r="0.5"/><circle cx="57.7" cy="90.7" r="0.5"/><circle cx="49.9" cy="97.5" r="0.5"/><circle cx="48.1" cy="90.9" r="0.5"/><circle cx="43.8" cy="87.3" r="0.5"/><circle cx="52.1" cy="95.5" r="0.5"/><circle cx="53.2" cy="90.2" r="0.5"/><circle cx="58.5" cy="94.3" r="0.5"/><circle cx="46.1" cy="85.4" r="0.5"/><circle cx="58.8" cy="100.2" r="0.5"/><circle cx="58.0" cy="94.0" r="0.5"/><circle cx="48.5" cy="85.8" r="0.5"/><circle cx="47.6" cy="87.9" r="0.5"/><circle cx="58.1" cy="98.7" r="0.5"/><circle cx="55.8" cy="86.7" r="0.5"/><circle cx="47.3" cy="89.1" r="0.5"/><circle cx="58.4" cy="86.9" r="0.5"/><circle cx="56.0" cy="95.3" r="0.5"/><circle cx="52.2" cy="99.7" r="0.5"/><circle cx="47.7" cy="92.7" r="0.5"/><circle cx="46.1" cy="85.9" r="0.5"/><circle cx="44.1" cy="89.4" r="0.5"/><circle cx="45.5" cy="85.3" r="0.5"/><circle cx="59.1" cy="89.0" r="0.5"/><circle cx="57.5" cy="95.6" r="0.5"/><circle cx="55.0" cy="94.8" r="0.5"/><circle cx="58.5" cy="98.4" r="0.5"/><circle cx="54.9" cy="93.3" r="0.5"/><circle cx="54.5" cy="96.0" r="0.5"/><circle cx="52.3" cy="92.4" r="0.5"/><circle cx="46.0" cy="97.9" r="0.5"/><circle cx="51.2" cy="85.4" r="0.5"/><circle cx="46.2" cy="98.4" r="0.5"/><circle cx="47.6" cy="90.6" r="0.5"/><circle cx="54.3" cy="98.2" r="0.5"/><circle cx="48.7" cy="90.5" r="0.5"/><circle cx="50.2" cy="84.8" r="0.5"/><circle cx="57.3" cy="84.6" r="0.5"/><circle cx="58.6" cy="86.8" r="0.5"/><circle cx="46.1" cy="98.0" r="0.5"/><circle cx="56.5" cy="88.0" r="0.5"/><circle cx="52.3" cy="92.0" r="0.5"/><circle cx="54.9" cy="87.3" r="0.5"/><circle cx="56.5" cy="100.3" r="0.5"/><circle cx="54.7" cy="99.1" r="0.5"/><circle cx="58.3" cy="90.4" r="0.5"/><circle cx="56.9" cy="97.7" r="0.5"/><circle cx="52.8" cy="86.0" r="0.5"/><circle cx="53.3" cy="99.0" r="0.5"/><circle cx="48.4" cy="94.7" r="0.5"/><circle cx="57.6" cy="94.0" r="0.5"/><circle cx="44.2" cy="94.5" r="0.5"/><circle cx="47.6" cy="98.1" r="0.5"/><circle cx="54.0" cy="89.2" r="0.5"/><circle cx="57.6" cy="94.4" r="0.5"/><circle cx="48.9" cy="97.7" r="0.5"/><circle cx="57.6" cy="98.7" r="0.5"/><circle cx="57.4" cy="94.9" r="0.5"/><circle cx="54.5" cy="94.0" r="0.5"/><circle cx="51.9" cy="100.2" r="0.5"/><circle cx="49.1" cy="85.6" r="0.5"/><circle cx="54.8" cy="92.3" r="0.5"/><circle cx="52.1" cy="93.9" r="0.5"/><circle cx="47.5" cy="87.5" r="0.5"/><circle cx="44.7" cy="96.9" r="0.5"/><circle cx="57.8" cy="95.5" r="0.5"/><circle cx="45.4" cy="100.1" r="0.5"/><circle cx="56.5" cy="92.5" r="0.5"/><circle cx="43.6" cy="97.9" r="0.5"/><circle cx="53.4" cy="94.3" r="0.5"/><circle cx="43.9" cy="96.1" r="0.5"/><circle cx="44.1" cy="92.0" r="0.5"/><circle cx="45.9" cy="90.1" r="0.5"/><circle cx="57.5" cy="96.3" r="0.5"/><circle cx="56.4" cy="89.1" r="0.5"/><circle cx="49.7" cy="94.0" r="0.5"/><circle cx="44.1" cy="90.9" r="0.5"/><circle cx="58.9" cy="96.4" r="0.5"/><circle cx="57.1" cy="89.1" r="0.5"/><circle cx="54.4" cy="97.0" r="0.5"/><circle cx="54.6" cy="91.3" r="0.5"/><circle cx="46.3" cy="84.6" r="0.5"/><circle cx="57.5" cy="99.3" r="0.5"/><circle cx="47.9" cy="96.5" r="0.5"/><circle cx="50.0" cy="94.4" r="0.5"/><circle cx="56.8" cy="89.5" r="0.5"/><circle cx="53.3" cy="88.4" r="0.5"/><circle cx="51.6" cy="84.8" r="0.5"/><circle cx="47.7" cy="88.9" r="0.5"/></g>
<line x1="54.50" y1="68.50" x2="54.50" y2="108.50" stroke="#666" stroke-width="0.6"/>
<line x1="35.50" y1="90.50" x2="75.50" y2="90.50" stroke="#666" stroke-width="0.6"/>
<rect x="55.3" y="89.0" width="5" height="3" fill="#fff" opacity="0.8"/>
<text x="55.50" y="91.70" font-size="2.6" text-anchor="start" fill="#555">2.96</text>
<text x="34.50" y="74.30" font-size="2.8" text-anchor="end" fill="#999">10</text>
<text x="34.50" y="83.90" font-size="2.8" text-anchor="end" fill="#999">10</text>
<text x="34.50" y="93.50" font-size="2.8" text-anchor="end" fill="#999">10</text>
<text x="34.50" y="103.10" font-size="2.8" text-anchor="end" fill="#999">10</text>
<text x="45.50" y="112.50" font-size="2.8" text-anchor="middle" fill="#999">10</text>
<text x="55.10" y="112.50" font-size="2.8" text-anchor="middle" fill="#999">10</text>
<text x="64.70" y="112.50" font-size="2.8" text-anchor="middle" fill="#999">10</text>
<text x="74.30" y="112.50" font-size="2.8" text-anchor="middle" fill="#999">10</text>
<text x="54.50" y="118.90" font-size="6.2" text-anchor="middle" fill="#2a2a2a" textLength="16.8" lengthAdjust="spacingAndGlyphs">100nM</text>
<rect x="85.5" y="68.5" width="40.0" height="40.0" fill="#fff" stroke="#9a9a9a" stroke-width="0.7"/>
<ellipse cx="105.0" cy="87.5" rx="9.9" ry="5.9" fill="#f6a0a0" opacity="0.43" transform="rotate(-50 105.0 87.5)" filter="url(#blur2)"/>
<g fill="#f08080" opacity="0.5"><circle cx="115.1" cy="75.5" r="0.45"/><circle cx="102.2" cy="88.1" r="0.45"/><circle cx="116.3" cy="77.4" r="0.45"/><circle cx="112.5" cy="83.0" r="0.45"/><circle cx="115.4" cy="79.3" r="0.45"/><circle cx="111.7" cy="82.6" r="0.45"/><circle cx="107.8" cy="84.8" r="0.45"/><circle cx="115.2" cy="78.5" r="0.45"/><circle cx="120.2" cy="74.9" r="0.45"/><circle cx="123.1" cy="70.7" r="0.45"/><circle cx="119.4" cy="71.5" r="0.45"/><circle cx="110.5" cy="84.2" r="0.45"/><circle cx="122.9" cy="71.2" r="0.45"/><circle cx="111.1" cy="83.5" r="0.45"/><circle cx="105.6" cy="88.9" r="0.45"/><circle cx="105.0" cy="86.1" r="0.45"/><circle cx="110.6" cy="81.8" r="0.45"/><circle cx="107.4" cy="83.7" r="0.45"/><circle cx="106.5" cy="86.9" r="0.45"/><circle cx="117.8" cy="75.8" r="0.45"/><circle cx="116.9" cy="76.9" r="0.45"/><circle cx="106.7" cy="87.7" r="0.45"/><circle cx="122.5" cy="74.7" r="0.45"/><circle cx="122.5" cy="72.2" r="0.45"/><circle cx="107.8" cy="82.4" r="0.45"/><circle cx="106.8" cy="83.5" r="0.45"/><circle cx="123.5" cy="74.9" r="0.45"/><circle cx="105.4" cy="88.4" r="0.45"/><circle cx="118.9" cy="76.0" r="0.45"/><circle cx="113.3" cy="81.0" r="0.45"/><circle cx="108.6" cy="85.9" r="0.45"/><circle cx="117.4" cy="77.1" r="0.45"/><circle cx="108.1" cy="86.9" r="0.45"/><circle cx="111.5" cy="84.1" r="0.45"/><circle cx="117.5" cy="75.1" r="0.45"/><circle cx="106.5" cy="86.7" r="0.45"/><circle cx="113.3" cy="79.8" r="0.45"/><circle cx="119.4" cy="75.7" r="0.45"/><circle cx="119.7" cy="76.4" r="0.45"/><circle cx="108.1" cy="84.7" r="0.45"/><circle cx="115.3" cy="81.2" r="0.45"/><circle cx="120.3" cy="72.3" r="0.45"/><circle cx="115.9" cy="76.6" r="0.45"/><circle cx="112.3" cy="83.3" r="0.45"/><circle cx="124.5" cy="71.0" r="0.45"/><circle cx="112.6" cy="81.0" r="0.45"/><circle cx="109.8" cy="80.9" r="0.45"/><circle cx="111.3" cy="80.0" r="0.45"/><circle cx="115.2" cy="74.7" r="0.45"/><circle cx="110.3" cy="81.4" r="0.45"/><circle cx="113.1" cy="78.3" r="0.45"/><circle cx="111.7" cy="83.0" r="0.45"/><circle cx="116.5" cy="79.2" r="0.45"/><circle cx="108.0" cy="82.8" r="0.45"/><circle cx="117.2" cy="72.5" r="0.45"/><circle cx="108.8" cy="80.9" r="0.45"/><circle cx="117.3" cy="77.1" r="0.45"/><circle cx="118.3" cy="69.8" r="0.45"/><circle cx="119.7" cy="72.0" r="0.45"/><circle cx="109.6" cy="82.4" r="0.45"/><circle cx="111.7" cy="78.4" r="0.45"/><circle cx="118.5" cy="78.9" r="0.45"/><circle cx="113.6" cy="77.6" r="0.45"/><circle cx="115.6" cy="76.1" r="0.45"/><circle cx="118.0" cy="76.7" r="0.45"/><circle cx="111.3" cy="80.5" r="0.45"/><circle cx="116.1" cy="76.9" r="0.45"/><circle cx="112.6" cy="81.4" r="0.45"/><circle cx="106.7" cy="86.9" r="0.45"/><circle cx="109.8" cy="85.6" r="0.45"/><circle cx="109.3" cy="81.0" r="0.45"/><circle cx="108.7" cy="84.6" r="0.45"/><circle cx="111.1" cy="83.6" r="0.45"/><circle cx="107.7" cy="84.9" r="0.45"/><circle cx="105.4" cy="86.7" r="0.45"/><circle cx="112.7" cy="81.5" r="0.45"/><circle cx="122.4" cy="70.6" r="0.45"/><circle cx="117.9" cy="73.7" r="0.45"/><circle cx="105.6" cy="84.7" r="0.45"/><circle cx="123.8" cy="71.7" r="0.45"/><circle cx="110.5" cy="82.8" r="0.45"/><circle cx="104.8" cy="85.5" r="0.45"/><circle cx="104.9" cy="83.5" r="0.45"/><circle cx="109.8" cy="83.0" r="0.45"/><circle cx="111.0" cy="83.5" r="0.45"/><circle cx="123.6" cy="71.0" r="0.45"/><circle cx="110.9" cy="84.0" r="0.45"/><circle cx="109.6" cy="86.0" r="0.45"/><circle cx="112.4" cy="82.4" r="0.45"/><circle cx="105.8" cy="85.0" r="0.45"/><circle cx="110.1" cy="80.8" r="0.45"/><circle cx="104.5" cy="87.1" r="0.45"/><circle cx="121.5" cy="71.4" r="0.45"/><circle cx="111.8" cy="88.1" r="0.45"/><circle cx="108.1" cy="82.6" r="0.45"/><circle cx="113.5" cy="76.3" r="0.45"/><circle cx="107.0" cy="84.9" r="0.45"/><circle cx="112.9" cy="81.0" r="0.45"/><circle cx="112.1" cy="80.3" r="0.45"/><circle cx="117.1" cy="75.9" r="0.45"/><circle cx="105.5" cy="85.4" r="0.45"/><circle cx="120.0" cy="73.4" r="0.45"/><circle cx="116.3" cy="76.4" r="0.45"/><circle cx="115.6" cy="75.5" r="0.45"/><circle cx="119.6" cy="74.1" r="0.45"/><circle cx="120.0" cy="75.4" r="0.45"/><circle cx="121.9" cy="75.8" r="0.45"/><circle cx="115.4" cy="77.6" r="0.45"/><circle cx="118.9" cy="75.0" r="0.45"/><circle cx="115.4" cy="76.6" r="0.4"/><circle cx="113.3" cy="77.1" r="0.4"/><circle cx="110.8" cy="76.4" r="0.4"/><circle cx="109.7" cy="76.7" r="0.4"/><circle cx="111.9" cy="77.8" r="0.4"/><circle cx="118.0" cy="76.3" r="0.4"/><circle cx="109.1" cy="77.0" r="0.4"/><circle cx="122.7" cy="75.7" r="0.4"/><circle cx="118.5" cy="78.4" r="0.4"/><circle cx="111.8" cy="77.6" r="0.4"/><circle cx="117.7" cy="78.2" r="0.4"/><circle cx="110.6" cy="77.0" r="0.4"/><circle cx="112.8" cy="77.6" r="0.4"/><circle cx="117.2" cy="77.1" r="0.4"/><circle cx="114.5" cy="77.7" r="0.4"/><circle cx="109.3" cy="78.0" r="0.4"/></g>
<polygon points="101.0,86.6 115.1,76.2 119.1,80.2 107.6,91.7" fill="url(#plume)" opacity="0.65" filter="url(#blur1)"/>
<polygon points="95.1,98.4 95.8,93.3 99.1,88.3 103.0,84.1 105.7,84.9 107.6,90.0 108.3,94.2 106.3,99.2 101.7,100.9 97.1,100.9" fill="#f05050" opacity="0.55" filter="url(#blur1)"/>
<polygon points="95.1,98.4 95.8,93.3 99.1,88.3 103.0,84.1 105.7,84.9 107.6,90.0 108.3,94.2 106.3,99.2 101.7,100.9 97.1,100.9" fill="#e8141c" filter="url(#blur05)"/>
<g fill="#e82020" opacity="0.6"><circle cx="95.7" cy="89.7" r="0.5"/><circle cx="95.1" cy="83.5" r="0.5"/><circle cx="102.8" cy="96.8" r="0.5"/><circle cx="107.4" cy="85.0" r="0.5"/><circle cx="100.6" cy="88.5" r="0.5"/><circle cx="103.2" cy="91.9" r="0.5"/><circle cx="108.3" cy="89.6" r="0.5"/><circle cx="94.9" cy="95.9" r="0.5"/><circle cx="96.3" cy="94.6" r="0.5"/><circle cx="101.7" cy="100.0" r="0.5"/><circle cx="102.5" cy="94.4" r="0.5"/><circle cx="98.0" cy="93.1" r="0.5"/><circle cx="97.9" cy="96.9" r="0.5"/><circle cx="101.9" cy="85.0" r="0.5"/><circle cx="97.6" cy="89.6" r="0.5"/><circle cx="105.2" cy="85.9" r="0.5"/><circle cx="104.9" cy="95.1" r="0.5"/><circle cx="95.3" cy="95.3" r="0.5"/><circle cx="95.4" cy="84.8" r="0.5"/><circle cx="103.1" cy="87.0" r="0.5"/><circle cx="107.4" cy="91.7" r="0.5"/><circle cx="99.0" cy="97.8" r="0.5"/><circle cx="94.5" cy="96.4" r="0.5"/><circle cx="94.9" cy="85.3" r="0.5"/><circle cx="108.5" cy="95.6" r="0.5"/><circle cx="97.4" cy="84.7" r="0.5"/><circle cx="108.8" cy="95.3" r="0.5"/><circle cx="106.5" cy="85.1" r="0.5"/><circle cx="103.5" cy="89.3" r="0.5"/><circle cx="97.6" cy="88.9" r="0.5"/><circle cx="103.4" cy="89.2" r="0.5"/><circle cx="99.9" cy="85.1" r="0.5"/><circle cx="106.7" cy="94.9" r="0.5"/><circle cx="106.3" cy="90.8" r="0.5"/><circle cx="107.0" cy="92.4" r="0.5"/><circle cx="103.0" cy="93.5" r="0.5"/><circle cx="105.3" cy="90.1" r="0.5"/><circle cx="95.5" cy="83.1" r="0.5"/><circle cx="97.1" cy="83.2" r="0.5"/><circle cx="107.5" cy="91.7" r="0.5"/><circle cx="105.6" cy="82.4" r="0.5"/><circle cx="101.2" cy="99.6" r="0.5"/><circle cx="103.4" cy="90.7" r="0.5"/><circle cx="101.1" cy="84.3" r="0.5"/><circle cx="96.4" cy="85.5" r="0.5"/><circle cx="99.7" cy="89.9" r="0.5"/><circle cx="107.4" cy="85.4" r="0.5"/><circle cx="97.9" cy="87.8" r="0.5"/><circle cx="96.5" cy="88.0" r="0.5"/><circle cx="97.6" cy="91.7" r="0.5"/><circle cx="94.5" cy="100.3" r="0.5"/><circle cx="99.6" cy="100.5" r="0.5"/><circle cx="104.5" cy="95.4" r="0.5"/><circle cx="101.2" cy="100.7" r="0.5"/><circle cx="95.8" cy="95.3" r="0.5"/><circle cx="98.5" cy="95.5" r="0.5"/><circle cx="105.1" cy="85.6" r="0.5"/><circle cx="97.1" cy="82.9" r="0.5"/><circle cx="97.5" cy="83.9" r="0.5"/><circle cx="100.1" cy="101.2" r="0.5"/><circle cx="99.6" cy="88.4" r="0.5"/><circle cx="101.1" cy="87.9" r="0.5"/><circle cx="105.2" cy="96.3" r="0.5"/><circle cx="96.5" cy="87.1" r="0.5"/><circle cx="104.2" cy="100.6" r="0.5"/><circle cx="103.8" cy="90.7" r="0.5"/><circle cx="108.9" cy="82.5" r="0.5"/><circle cx="95.0" cy="97.5" r="0.5"/><circle cx="100.3" cy="83.3" r="0.5"/><circle cx="102.4" cy="101.5" r="0.5"/><circle cx="101.9" cy="89.2" r="0.5"/><circle cx="95.5" cy="83.8" r="0.5"/><circle cx="107.7" cy="91.9" r="0.5"/><circle cx="108.2" cy="83.5" r="0.5"/><circle cx="97.7" cy="83.4" r="0.5"/><circle cx="100.1" cy="83.6" r="0.5"/><circle cx="97.9" cy="90.3" r="0.5"/><circle cx="98.7" cy="83.4" r="0.5"/><circle cx="94.6" cy="101.2" r="0.5"/><circle cx="96.8" cy="92.2" r="0.5"/><circle cx="100.2" cy="92.7" r="0.5"/><circle cx="95.3" cy="88.5" r="0.5"/><circle cx="95.7" cy="92.9" r="0.5"/><circle cx="108.0" cy="94.0" r="0.5"/><circle cx="107.0" cy="86.6" r="0.5"/><circle cx="94.3" cy="92.8" r="0.5"/><circle cx="101.4" cy="93.5" r="0.5"/><circle cx="99.8" cy="94.5" r="0.5"/><circle cx="105.1" cy="100.1" r="0.5"/><circle cx="98.7" cy="91.1" r="0.5"/></g>
<line x1="104.50" y1="68.50" x2="104.50" y2="108.50" stroke="#666" stroke-width="0.6"/>
<line x1="85.50" y1="90.50" x2="125.50" y2="90.50" stroke="#666" stroke-width="0.6"/>
<rect x="105.3" y="89.0" width="5" height="3" fill="#fff" opacity="0.8"/>
<text x="105.50" y="91.70" font-size="2.6" text-anchor="start" fill="#555">2.96</text>
<text x="84.50" y="74.30" font-size="2.8" text-anchor="end" fill="#999">10</text>
<text x="84.50" y="83.90" font-size="2.8" text-anchor="end" fill="#999">10</text>
<text x="84.50" y="93.50" font-size="2.8" text-anchor="end" fill="#999">10</text>
<text x="84.50" y="103.10" font-size="2.8" text-anchor="end" fill="#999">10</text>
<text x="95.50" y="112.50" font-size="2.8" text-anchor="middle" fill="#999">10</text>
<text x="105.10" y="112.50" font-size="2.8" text-anchor="middle" fill="#999">10</text>
<text x="114.70" y="112.50" font-size="2.8" text-anchor="middle" fill="#999">10</text>
<text x="124.30" y="112.50" font-size="2.8" text-anchor="middle" fill="#999">10</text>
<text x="104.50" y="118.90" font-size="6.2" text-anchor="middle" fill="#2a2a2a" textLength="9.5" lengthAdjust="spacingAndGlyphs">1uM</text>
<rect x="134.5" y="68.5" width="40.0" height="40.0" fill="#fff" stroke="#9a9a9a" stroke-width="0.7"/>
<ellipse cx="155.6" cy="89.1" rx="11.9" ry="4.6" fill="#f6a0a0" opacity="0.52" transform="rotate(-50 155.6 89.1)" filter="url(#blur2)"/>
<g fill="#f08080" opacity="0.5"><circle cx="168.8" cy="74.2" r="0.45"/><circle cx="161.7" cy="85.6" r="0.45"/><circle cx="162.6" cy="80.5" r="0.45"/><circle cx="167.2" cy="79.2" r="0.45"/><circle cx="165.2" cy="78.1" r="0.45"/><circle cx="166.8" cy="80.0" r="0.45"/><circle cx="167.9" cy="78.5" r="0.45"/><circle cx="166.9" cy="76.8" r="0.45"/><circle cx="158.1" cy="85.4" r="0.45"/><circle cx="163.0" cy="83.1" r="0.45"/><circle cx="164.2" cy="82.8" r="0.45"/><circle cx="165.2" cy="82.1" r="0.45"/><circle cx="164.0" cy="82.5" r="0.45"/><circle cx="161.7" cy="79.3" r="0.45"/><circle cx="168.6" cy="75.5" r="0.45"/><circle cx="159.7" cy="83.2" r="0.45"/><circle cx="167.3" cy="81.6" r="0.45"/><circle cx="165.2" cy="82.6" r="0.45"/><circle cx="160.7" cy="86.5" r="0.45"/><circle cx="158.5" cy="90.6" r="0.45"/><circle cx="169.1" cy="78.0" r="0.45"/><circle cx="154.7" cy="92.0" r="0.45"/><circle cx="164.5" cy="80.7" r="0.45"/><circle cx="166.0" cy="88.3" r="0.45"/><circle cx="154.4" cy="89.8" r="0.45"/><circle cx="162.6" cy="83.2" r="0.45"/><circle cx="173.2" cy="70.5" r="0.45"/><circle cx="166.9" cy="74.9" r="0.45"/><circle cx="166.3" cy="75.6" r="0.45"/><circle cx="165.9" cy="78.0" r="0.45"/><circle cx="167.0" cy="78.6" r="0.45"/><circle cx="168.0" cy="76.3" r="0.45"/><circle cx="156.2" cy="86.9" r="0.45"/><circle cx="155.8" cy="86.8" r="0.45"/><circle cx="156.5" cy="87.5" r="0.45"/><circle cx="164.7" cy="81.2" r="0.45"/><circle cx="163.6" cy="83.1" r="0.45"/><circle cx="160.5" cy="83.6" r="0.45"/><circle cx="169.2" cy="77.8" r="0.45"/><circle cx="159.9" cy="82.9" r="0.45"/><circle cx="158.6" cy="83.5" r="0.45"/><circle cx="170.5" cy="73.1" r="0.45"/><circle cx="162.6" cy="82.6" r="0.45"/><circle cx="169.6" cy="77.9" r="0.45"/><circle cx="163.7" cy="82.8" r="0.45"/><circle cx="158.2" cy="92.1" r="0.45"/><circle cx="162.4" cy="80.7" r="0.45"/><circle cx="166.6" cy="75.5" r="0.45"/><circle cx="156.7" cy="88.7" r="0.45"/><circle cx="164.4" cy="78.6" r="0.45"/><circle cx="165.8" cy="79.5" r="0.45"/><circle cx="162.1" cy="79.6" r="0.45"/><circle cx="164.9" cy="78.3" r="0.45"/><circle cx="170.6" cy="76.2" r="0.45"/><circle cx="173.0" cy="71.6" r="0.45"/><circle cx="161.3" cy="79.7" r="0.45"/><circle cx="161.0" cy="86.3" r="0.45"/><circle cx="162.4" cy="80.9" r="0.45"/><circle cx="159.4" cy="84.8" r="0.45"/><circle cx="169.4" cy="75.5" r="0.45"/><circle cx="173.4" cy="74.4" r="0.45"/><circle cx="161.3" cy="85.0" r="0.45"/><circle cx="171.0" cy="73.4" r="0.45"/><circle cx="167.1" cy="73.9" r="0.45"/><circle cx="157.2" cy="90.2" r="0.45"/><circle cx="159.4" cy="88.5" r="0.45"/><circle cx="170.4" cy="71.2" r="0.45"/><circle cx="156.9" cy="87.5" r="0.45"/><circle cx="162.0" cy="81.1" r="0.45"/><circle cx="158.7" cy="89.2" r="0.45"/><circle cx="155.6" cy="88.7" r="0.45"/><circle cx="160.9" cy="87.0" r="0.45"/><circle cx="161.4" cy="84.6" r="0.45"/><circle cx="165.5" cy="79.4" r="0.45"/><circle cx="157.5" cy="88.2" r="0.45"/><circle cx="164.7" cy="78.1" r="0.45"/><circle cx="157.6" cy="88.2" r="0.45"/><circle cx="157.6" cy="85.9" r="0.45"/><circle cx="162.5" cy="78.4" r="0.45"/><circle cx="165.9" cy="77.3" r="0.45"/><circle cx="166.7" cy="78.2" r="0.45"/><circle cx="164.7" cy="79.5" r="0.45"/><circle cx="156.6" cy="88.0" r="0.45"/><circle cx="167.8" cy="78.4" r="0.45"/><circle cx="153.8" cy="88.1" r="0.45"/><circle cx="155.5" cy="84.8" r="0.45"/><circle cx="157.3" cy="85.6" r="0.45"/><circle cx="170.4" cy="76.5" r="0.45"/><circle cx="161.0" cy="90.7" r="0.45"/><circle cx="159.0" cy="87.4" r="0.45"/><circle cx="165.7" cy="75.9" r="0.45"/><circle cx="158.7" cy="85.6" r="0.45"/><circle cx="169.7" cy="71.7" r="0.45"/><circle cx="157.7" cy="85.7" r="0.45"/><circle cx="167.8" cy="70.7" r="0.45"/><circle cx="165.4" cy="75.0" r="0.45"/><circle cx="156.8" cy="87.9" r="0.45"/><circle cx="163.8" cy="86.5" r="0.45"/><circle cx="159.9" cy="87.1" r="0.45"/><circle cx="162.2" cy="82.2" r="0.45"/><circle cx="158.3" cy="87.5" r="0.45"/><circle cx="156.6" cy="88.5" r="0.45"/><circle cx="164.4" cy="80.7" r="0.45"/><circle cx="163.5" cy="87.0" r="0.45"/><circle cx="159.5" cy="82.4" r="0.45"/><circle cx="163.9" cy="79.3" r="0.45"/><circle cx="158.5" cy="86.9" r="0.45"/><circle cx="162.9" cy="80.5" r="0.45"/><circle cx="171.5" cy="70.9" r="0.45"/><circle cx="156.0" cy="86.8" r="0.45"/><circle cx="166.8" cy="74.0" r="0.45"/><circle cx="165.3" cy="76.1" r="0.45"/><circle cx="171.9" cy="76.7" r="0.45"/><circle cx="170.3" cy="73.2" r="0.45"/><circle cx="160.3" cy="86.9" r="0.45"/><circle cx="169.0" cy="74.7" r="0.45"/><circle cx="161.9" cy="86.0" r="0.45"/><circle cx="168.2" cy="76.0" r="0.45"/><circle cx="163.6" cy="86.1" r="0.45"/><circle cx="164.8" cy="74.5" r="0.45"/><circle cx="163.6" cy="79.3" r="0.45"/><circle cx="163.9" cy="83.8" r="0.45"/><circle cx="166.1" cy="78.1" r="0.45"/><circle cx="168.9" cy="76.1" r="0.45"/><circle cx="155.3" cy="86.4" r="0.45"/><circle cx="157.1" cy="87.2" r="0.45"/><circle cx="166.3" cy="77.3" r="0.45"/><circle cx="171.0" cy="71.3" r="0.45"/><circle cx="162.1" cy="86.3" r="0.45"/><circle cx="170.7" cy="74.2" r="0.45"/><circle cx="166.8" cy="77.1" r="0.45"/><circle cx="164.0" cy="83.7" r="0.45"/><circle cx="163.0" cy="80.3" r="0.45"/><circle cx="169.2" cy="76.6" r="0.45"/><circle cx="170.1" cy="73.5" r="0.45"/><circle cx="163.5" cy="82.8" r="0.45"/><circle cx="165.1" cy="78.8" r="0.45"/><circle cx="158.1" cy="86.7" r="0.45"/><circle cx="170.1" cy="77.0" r="0.45"/><circle cx="162.2" cy="82.2" r="0.45"/><circle cx="163.9" cy="80.3" r="0.45"/><circle cx="167.3" cy="82.9" r="0.45"/><circle cx="170.4" cy="70.6" r="0.45"/><circle cx="158.7" cy="90.1" r="0.45"/><circle cx="171.2" cy="75.6" r="0.45"/><circle cx="161.9" cy="84.6" r="0.45"/><circle cx="157.4" cy="83.3" r="0.45"/><circle cx="164.8" cy="82.1" r="0.45"/><circle cx="156.6" cy="86.4" r="0.45"/><circle cx="168.3" cy="79.3" r="0.45"/><circle cx="162.0" cy="81.4" r="0.45"/><circle cx="157.6" cy="88.9" r="0.45"/><circle cx="160.3" cy="85.4" r="0.45"/><circle cx="165.9" cy="74.0" r="0.45"/><circle cx="158.5" cy="84.2" r="0.45"/><circle cx="158.2" cy="87.1" r="0.45"/><circle cx="159.8" cy="90.1" r="0.45"/><circle cx="157.3" cy="87.6" r="0.45"/><circle cx="160.4" cy="83.4" r="0.45"/><circle cx="160.0" cy="81.6" r="0.45"/><circle cx="166.2" cy="77.2" r="0.4"/><circle cx="171.3" cy="78.1" r="0.4"/><circle cx="164.5" cy="76.6" r="0.4"/><circle cx="161.2" cy="76.4" r="0.4"/><circle cx="161.4" cy="77.8" r="0.4"/><circle cx="163.7" cy="77.2" r="0.4"/><circle cx="162.9" cy="78.1" r="0.4"/><circle cx="170.2" cy="77.3" r="0.4"/><circle cx="160.0" cy="77.1" r="0.4"/><circle cx="162.2" cy="78.2" r="0.4"/><circle cx="167.0" cy="77.1" r="0.4"/><circle cx="159.3" cy="77.3" r="0.4"/><circle cx="163.8" cy="76.9" r="0.4"/><circle cx="161.4" cy="77.2" r="0.4"/><circle cx="157.7" cy="77.2" r="0.4"/><circle cx="163.1" cy="77.8" r="0.4"/></g>
<polygon points="151.6,88.5 166.5,74.0 170.5,78.0 158.2,92.4" fill="url(#plume)" opacity="0.80" filter="url(#blur1)"/>
<polygon points="145.7,97.7 146.4,93.8 149.7,89.8 153.6,86.5 156.3,87.2 158.2,91.1 158.9,94.4 156.9,98.4 152.3,99.7 147.7,99.7" fill="#f05050" opacity="0.55" filter="url(#blur1)"/>
<polygon points="145.7,97.7 146.4,93.8 149.7,89.8 153.6,86.5 156.3,87.2 158.2,91.1 158.9,94.4 156.9,98.4 152.3,99.7 147.7,99.7" fill="#e8141c" filter="url(#blur05)"/>
<g fill="#e82020" opacity="0.6"><circle cx="153.6" cy="98.1" r="0.5"/><circle cx="155.5" cy="96.4" r="0.5"/><circle cx="148.9" cy="92.7" r="0.5"/><circle cx="155.7" cy="98.7" r="0.5"/><circle cx="148.3" cy="85.4" r="0.5"/><circle cx="145.4" cy="93.0" r="0.5"/><circle cx="157.9" cy="87.5" r="0.5"/><circle cx="156.5" cy="94.9" r="0.5"/><circle cx="157.8" cy="98.9" r="0.5"/><circle cx="146.3" cy="97.2" r="0.5"/><circle cx="146.7" cy="87.0" r="0.5"/><circle cx="150.7" cy="92.6" r="0.5"/><circle cx="145.7" cy="89.4" r="0.5"/><circle cx="147.3" cy="87.2" r="0.5"/><circle cx="146.1" cy="85.5" r="0.5"/><circle cx="147.9" cy="90.1" r="0.5"/><circle cx="151.0" cy="95.7" r="0.5"/><circle cx="153.9" cy="92.6" r="0.5"/><circle cx="149.5" cy="94.5" r="0.5"/><circle cx="147.6" cy="87.9" r="0.5"/><circle cx="146.4" cy="95.3" r="0.5"/><circle cx="146.8" cy="88.6" r="0.5"/><circle cx="150.0" cy="93.7" r="0.5"/><circle cx="154.5" cy="94.2" r="0.5"/><circle cx="153.7" cy="88.1" r="0.5"/><circle cx="158.5" cy="96.4" r="0.5"/><circle cx="150.8" cy="91.2" r="0.5"/><circle cx="153.4" cy="87.0" r="0.5"/><circle cx="154.4" cy="98.9" r="0.5"/><circle cx="150.2" cy="92.8" r="0.5"/><circle cx="148.5" cy="99.0" r="0.5"/><circle cx="150.4" cy="90.7" r="0.5"/><circle cx="155.5" cy="90.8" r="0.5"/><circle cx="158.4" cy="91.4" r="0.5"/><circle cx="153.6" cy="89.8" r="0.5"/><circle cx="153.6" cy="92.3" r="0.5"/><circle cx="146.2" cy="98.7" r="0.5"/><circle cx="147.1" cy="93.9" r="0.5"/><circle cx="154.9" cy="92.3" r="0.5"/><circle cx="149.6" cy="92.1" r="0.5"/><circle cx="159.8" cy="85.4" r="0.5"/><circle cx="158.1" cy="94.4" r="0.5"/><circle cx="151.9" cy="94.9" r="0.5"/><circle cx="154.4" cy="97.8" r="0.5"/><circle cx="159.5" cy="93.0" r="0.5"/><circle cx="150.0" cy="90.7" r="0.5"/><circle cx="158.5" cy="92.5" r="0.5"/><circle cx="145.7" cy="94.1" r="0.5"/><circle cx="146.4" cy="90.4" r="0.5"/><circle cx="154.5" cy="94.5" r="0.5"/><circle cx="152.8" cy="97.8" r="0.5"/><circle cx="153.9" cy="99.9" r="0.5"/><circle cx="157.0" cy="89.2" r="0.5"/><circle cx="156.5" cy="90.7" r="0.5"/><circle cx="159.0" cy="94.6" r="0.5"/><circle cx="151.0" cy="87.8" r="0.5"/><circle cx="157.5" cy="90.5" r="0.5"/><circle cx="144.9" cy="97.4" r="0.5"/><circle cx="144.7" cy="85.9" r="0.5"/><circle cx="145.1" cy="95.0" r="0.5"/><circle cx="153.2" cy="92.5" r="0.5"/><circle cx="158.8" cy="92.3" r="0.5"/><circle cx="147.8" cy="100.3" r="0.5"/><circle cx="146.3" cy="85.9" r="0.5"/><circle cx="148.0" cy="100.0" r="0.5"/><circle cx="151.0" cy="90.6" r="0.5"/><circle cx="150.3" cy="90.8" r="0.5"/><circle cx="156.1" cy="94.9" r="0.5"/><circle cx="148.9" cy="88.1" r="0.5"/><circle cx="157.0" cy="93.7" r="0.5"/><circle cx="152.3" cy="88.2" r="0.5"/><circle cx="159.5" cy="93.2" r="0.5"/><circle cx="158.6" cy="95.4" r="0.5"/><circle cx="154.3" cy="85.6" r="0.5"/><circle cx="158.5" cy="98.2" r="0.5"/><circle cx="145.8" cy="86.4" r="0.5"/><circle cx="154.9" cy="95.3" r="0.5"/><circle cx="147.6" cy="100.2" r="0.5"/><circle cx="146.1" cy="93.8" r="0.5"/><circle cx="152.0" cy="90.2" r="0.5"/><circle cx="154.8" cy="91.9" r="0.5"/><circle cx="156.3" cy="96.9" r="0.5"/><circle cx="144.8" cy="90.1" r="0.5"/><circle cx="152.9" cy="89.7" r="0.5"/><circle cx="153.8" cy="85.6" r="0.5"/><circle cx="146.2" cy="93.0" r="0.5"/><circle cx="147.9" cy="88.3" r="0.5"/><circle cx="150.9" cy="94.2" r="0.5"/><circle cx="154.6" cy="94.3" r="0.5"/><circle cx="152.2" cy="91.8" r="0.5"/></g>
<line x1="154.50" y1="68.50" x2="154.50" y2="108.50" stroke="#666" stroke-width="0.6"/>
<line x1="134.50" y1="90.50" x2="174.50" y2="90.50" stroke="#666" stroke-width="0.6"/>
<rect x="155.3" y="89.0" width="5" height="3" fill="#fff" opacity="0.8"/>
<text x="155.50" y="91.70" font-size="2.6" text-anchor="start" fill="#555">2.96</text>
<text x="133.50" y="74.30" font-size="2.8" text-anchor="end" fill="#999">10</text>
<text x="133.50" y="83.90" font-size="2.8" text-anchor="end" fill="#999">10</text>
<text x="133.50" y="93.50" font-size="2.8" text-anchor="end" fill="#999">10</text>
<text x="133.50" y="103.10" font-size="2.8" text-anchor="end" fill="#999">10</text>
<text x="144.50" y="112.50" font-size="2.8" text-anchor="middle" fill="#999">10</text>
<text x="154.10" y="112.50" font-size="2.8" text-anchor="middle" fill="#999">10</text>
<text x="163.70" y="112.50" font-size="2.8" text-anchor="middle" fill="#999">10</text>
<text x="173.30" y="112.50" font-size="2.8" text-anchor="middle" fill="#999">10</text>
<text x="153.50" y="118.90" font-size="6.2" text-anchor="middle" fill="#2a2a2a" textLength="13.4" lengthAdjust="spacingAndGlyphs">10uM</text>
<text x="186.10" y="9.80" font-size="11.5" text-anchor="start" fill="#111" font-weight="bold">B</text>
<line x1="226.50" y1="30.50" x2="226.50" y2="110.50" stroke="#222" stroke-width="1.3"/>
<line x1="223.50" y1="110.50" x2="226.50" y2="110.50" stroke="#222" stroke-width="1.0"/>
<text x="219.90" y="113.56" font-size="8.5" text-anchor="end" fill="#2a2a2a" stroke="#2a2a2a" stroke-width="0.2" textLength="4.25" lengthAdjust="spacingAndGlyphs">0</text>
<line x1="223.50" y1="94.80" x2="226.50" y2="94.80" stroke="#222" stroke-width="1.0"/>
<text x="219.90" y="97.86" font-size="8.5" text-anchor="end" fill="#2a2a2a" stroke="#2a2a2a" stroke-width="0.2" textLength="8.50" lengthAdjust="spacingAndGlyphs">10</text>
<line x1="223.50" y1="79.10" x2="226.50" y2="79.10" stroke="#222" stroke-width="1.0"/>
<text x="219.90" y="82.16" font-size="8.5" text-anchor="end" fill="#2a2a2a" stroke="#2a2a2a" stroke-width="0.2" textLength="8.50" lengthAdjust="spacingAndGlyphs">20</text>
<line x1="223.50" y1="63.40" x2="226.50" y2="63.40" stroke="#222" stroke-width="1.0"/>
<text x="219.90" y="66.46" font-size="8.5" text-anchor="end" fill="#2a2a2a" stroke="#2a2a2a" stroke-width="0.2" textLength="8.50" lengthAdjust="spacingAndGlyphs">30</text>
<line x1="223.50" y1="47.70" x2="226.50" y2="47.70" stroke="#222" stroke-width="1.0"/>
<text x="219.90" y="50.76" font-size="8.5" text-anchor="end" fill="#2a2a2a" stroke="#2a2a2a" stroke-width="0.2" textLength="8.50" lengthAdjust="spacingAndGlyphs">40</text>
<line x1="223.50" y1="32.00" x2="226.50" y2="32.00" stroke="#222" stroke-width="1.0"/>
<text x="219.90" y="35.06" font-size="8.5" text-anchor="end" fill="#2a2a2a" stroke="#2a2a2a" stroke-width="0.2" textLength="8.50" lengthAdjust="spacingAndGlyphs">50</text>
<line x1="226.50" y1="110.50" x2="339.50" y2="110.50" stroke="#222" stroke-width="1.3"/>
<line x1="238.20" y1="110.50" x2="238.20" y2="113.50" stroke="#222" stroke-width="1.0"/>
<text x="242.00" y="119.00" font-size="8.3" text-anchor="end" fill="#2a2a2a" stroke="#2a2a2a" stroke-width="0.2" transform="rotate(-45 242.00 119.00)">0</text>
<line x1="256.50" y1="110.50" x2="256.50" y2="113.50" stroke="#222" stroke-width="1.0"/>
<text x="261.00" y="119.10" font-size="8.3" text-anchor="end" fill="#2a2a2a" stroke="#2a2a2a" stroke-width="0.2" textLength="18.0" lengthAdjust="spacingAndGlyphs" transform="rotate(-45 261.00 119.10)">10nM</text>
<line x1="274.80" y1="110.50" x2="274.80" y2="113.50" stroke="#222" stroke-width="1.0"/>
<text x="279.30" y="119.10" font-size="8.3" text-anchor="end" fill="#2a2a2a" stroke="#2a2a2a" stroke-width="0.2" textLength="18.5" lengthAdjust="spacingAndGlyphs" transform="rotate(-45 279.30 119.10)">50nM</text>
<line x1="293.00" y1="110.50" x2="293.00" y2="113.50" stroke="#222" stroke-width="1.0"/>
<text x="297.50" y="119.10" font-size="8.3" text-anchor="end" fill="#2a2a2a" stroke="#2a2a2a" stroke-width="0.2" textLength="23.0" lengthAdjust="spacingAndGlyphs" transform="rotate(-45 297.50 119.10)">100nM</text>
<line x1="311.30" y1="110.50" x2="311.30" y2="113.50" stroke="#222" stroke-width="1.0"/>
<text x="315.80" y="119.10" font-size="8.3" text-anchor="end" fill="#2a2a2a" stroke="#2a2a2a" stroke-width="0.2" textLength="13.5" lengthAdjust="spacingAndGlyphs" transform="rotate(-45 315.80 119.10)">1uM</text>
<line x1="328.50" y1="110.50" x2="328.50" y2="113.50" stroke="#222" stroke-width="1.0"/>
<text x="333.00" y="119.10" font-size="8.3" text-anchor="end" fill="#2a2a2a" stroke="#2a2a2a" stroke-width="0.2" textLength="17.5" lengthAdjust="spacingAndGlyphs" transform="rotate(-45 333.00 119.10)">10uM</text>
<text x="214.60" y="121.50" font-size="8" text-anchor="start" fill="#2a2a2a" stroke="#2a2a2a" stroke-width="0.2" textLength="14.8" lengthAdjust="spacingAndGlyphs">Dec:</text>
<circle cx="238.20" cy="85.38" r="1.9" fill="#1d4f8a"/>
<circle cx="234.40" cy="89.62" r="1.9" fill="#1d4f8a"/>
<circle cx="237.70" cy="90.88" r="1.9" fill="#1d4f8a"/>
<circle cx="241.20" cy="93.39" r="1.9" fill="#1d4f8a"/>
<circle cx="243.20" cy="93.39" r="1.9" fill="#1d4f8a"/>
<circle cx="238.20" cy="100.61" r="1.9" fill="#1d4f8a"/>
<line x1="232.70" y1="93.70" x2="243.70" y2="93.70" stroke="#1d4f8a" stroke-width="1.0"/>
<line x1="238.20" y1="89.93" x2="238.20" y2="97.47" stroke="#1d4f8a" stroke-width="1.0"/>
<line x1="235.00" y1="89.93" x2="241.40" y2="89.93" stroke="#1d4f8a" stroke-width="1.0"/>
<line x1="235.00" y1="97.47" x2="241.40" y2="97.47" stroke="#1d4f8a" stroke-width="1.0"/>
<circle cx="256.50" cy="83.81" r="1.9" fill="#c8173e"/>
<circle cx="252.70" cy="86.95" r="1.9" fill="#c8173e"/>
<circle cx="257.10" cy="87.73" r="1.9" fill="#c8173e"/>
<circle cx="261.30" cy="88.21" r="1.9" fill="#c8173e"/>
<circle cx="255.70" cy="90.09" r="1.9" fill="#c8173e"/>
<circle cx="256.50" cy="98.25" r="1.9" fill="#c8173e"/>
<line x1="251.00" y1="90.72" x2="262.00" y2="90.72" stroke="#c8173e" stroke-width="1.0"/>
<line x1="256.50" y1="86.48" x2="256.50" y2="94.96" stroke="#c8173e" stroke-width="1.0"/>
<line x1="253.30" y1="86.48" x2="259.70" y2="86.48" stroke="#c8173e" stroke-width="1.0"/>
<line x1="253.30" y1="94.96" x2="259.70" y2="94.96" stroke="#c8173e" stroke-width="1.0"/>
<circle cx="270.30" cy="87.11" r="1.9" fill="#3aa63a"/>
<circle cx="273.80" cy="88.05" r="1.9" fill="#3aa63a"/>
<circle cx="277.80" cy="88.52" r="1.9" fill="#3aa63a"/>
<circle cx="272.40" cy="90.09" r="1.9" fill="#3aa63a"/>
<circle cx="276.30" cy="90.40" r="1.9" fill="#3aa63a"/>
<circle cx="273.80" cy="96.84" r="1.9" fill="#3aa63a"/>
<line x1="269.30" y1="90.09" x2="280.30" y2="90.09" stroke="#3aa63a" stroke-width="1.0"/>
<line x1="274.80" y1="87.11" x2="274.80" y2="93.07" stroke="#3aa63a" stroke-width="1.0"/>
<line x1="271.60" y1="87.11" x2="278.00" y2="87.11" stroke="#3aa63a" stroke-width="1.0"/>
<line x1="271.60" y1="93.07" x2="278.00" y2="93.07" stroke="#3aa63a" stroke-width="1.0"/>
<circle cx="293.00" cy="79.57" r="1.9" fill="#55235f"/>
<circle cx="293.00" cy="83.81" r="1.9" fill="#55235f"/>
<circle cx="288.00" cy="86.79" r="1.9" fill="#55235f"/>
<circle cx="297.20" cy="86.79" r="1.9" fill="#55235f"/>
<circle cx="293.00" cy="89.31" r="1.9" fill="#55235f"/>
<circle cx="293.00" cy="98.25" r="1.9" fill="#55235f"/>
<line x1="287.50" y1="87.26" x2="298.50" y2="87.26" stroke="#55235f" stroke-width="1.0"/>
<line x1="293.00" y1="81.61" x2="293.00" y2="92.92" stroke="#55235f" stroke-width="1.0"/>
<line x1="289.80" y1="81.61" x2="296.20" y2="81.61" stroke="#55235f" stroke-width="1.0"/>
<line x1="289.80" y1="92.92" x2="296.20" y2="92.92" stroke="#55235f" stroke-width="1.0"/>
<circle cx="306.50" cy="67.01" r="1.9" fill="#f0941e"/>
<circle cx="314.60" cy="69.21" r="1.9" fill="#f0941e"/>
<circle cx="306.50" cy="72.82" r="1.9" fill="#f0941e"/>
<circle cx="310.50" cy="74.39" r="1.9" fill="#f0941e"/>
<circle cx="306.10" cy="76.75" r="1.9" fill="#f0941e"/>
<circle cx="314.90" cy="76.75" r="1.9" fill="#f0941e"/>
<line x1="305.80" y1="73.13" x2="316.80" y2="73.13" stroke="#f0941e" stroke-width="1.0"/>
<line x1="311.30" y1="69.21" x2="311.30" y2="77.06" stroke="#f0941e" stroke-width="1.0"/>
<line x1="308.10" y1="69.21" x2="314.50" y2="69.21" stroke="#f0941e" stroke-width="1.0"/>
<line x1="308.10" y1="77.06" x2="314.50" y2="77.06" stroke="#f0941e" stroke-width="1.0"/>
<circle cx="328.50" cy="51.94" r="1.9" fill="#e0257a"/>
<circle cx="324.30" cy="56.49" r="1.9" fill="#e0257a"/>
<circle cx="332.70" cy="56.49" r="1.9" fill="#e0257a"/>
<circle cx="328.50" cy="60.42" r="1.9" fill="#e0257a"/>
<circle cx="330.80" cy="66.23" r="1.9" fill="#e0257a"/>
<circle cx="326.60" cy="70.15" r="1.9" fill="#e0257a"/>
<line x1="323.00" y1="60.42" x2="334.00" y2="60.42" stroke="#e0257a" stroke-width="1.0"/>
<line x1="328.50" y1="53.20" x2="328.50" y2="67.64" stroke="#e0257a" stroke-width="1.0"/>
<line x1="325.30" y1="53.20" x2="331.70" y2="53.20" stroke="#e0257a" stroke-width="1.0"/>
<line x1="325.30" y1="67.64" x2="331.70" y2="67.64" stroke="#e0257a" stroke-width="1.0"/>
<line x1="238.00" y1="19.20" x2="325.00" y2="19.20" stroke="#333" stroke-width="1.0"/>
<text x="285.75" y="18.80" font-size="10.5" text-anchor="middle" fill="#222" stroke="#2a2a2a" stroke-width="0.2">****</text>
<line x1="238.00" y1="37.50" x2="307.50" y2="37.50" stroke="#333" stroke-width="1.0"/>
<text x="276.00" y="36.70" font-size="10.5" text-anchor="middle" fill="#222" stroke="#2a2a2a" stroke-width="0.2">****</text>
<line x1="238.00" y1="55.90" x2="290.00" y2="55.90" stroke="#333" stroke-width="1.0"/>
<text x="263.50" y="51.50" font-size="8.1" text-anchor="middle" fill="#222" stroke="#2a2a2a" stroke-width="0.2" textLength="7.4" lengthAdjust="spacingAndGlyphs">ns</text>
<text x="205.80" y="71.00" font-size="9.6" text-anchor="middle" fill="#2a2a2a" stroke="#2a2a2a" stroke-width="0.2" textLength="108" lengthAdjust="spacingAndGlyphs" transform="rotate(-90 205.80 71.00)">Apoptosis level of MDSCs in HC</text>
<text x="345.30" y="9.80" font-size="11.5" text-anchor="start" fill="#111" font-weight="bold">C</text>
<line x1="382.50" y1="32.50" x2="382.50" y2="110.00" stroke="#222" stroke-width="1.3"/>
<line x1="379.50" y1="110.00" x2="382.50" y2="110.00" stroke="#222" stroke-width="1.0"/>
<text x="375.90" y="113.06" font-size="8.5" text-anchor="end" fill="#2a2a2a" stroke="#2a2a2a" stroke-width="0.2" textLength="4.25" lengthAdjust="spacingAndGlyphs">0</text>
<line x1="379.50" y1="94.80" x2="382.50" y2="94.80" stroke="#222" stroke-width="1.0"/>
<text x="375.90" y="97.86" font-size="8.5" text-anchor="end" fill="#2a2a2a" stroke="#2a2a2a" stroke-width="0.2" textLength="8.50" lengthAdjust="spacingAndGlyphs">10</text>
<line x1="379.50" y1="79.60" x2="382.50" y2="79.60" stroke="#222" stroke-width="1.0"/>
<text x="375.90" y="82.66" font-size="8.5" text-anchor="end" fill="#2a2a2a" stroke="#2a2a2a" stroke-width="0.2" textLength="8.50" lengthAdjust="spacingAndGlyphs">20</text>
<line x1="379.50" y1="64.40" x2="382.50" y2="64.40" stroke="#222" stroke-width="1.0"/>
<text x="375.90" y="67.46" font-size="8.5" text-anchor="end" fill="#2a2a2a" stroke="#2a2a2a" stroke-width="0.2" textLength="8.50" lengthAdjust="spacingAndGlyphs">30</text>
<line x1="379.50" y1="49.20" x2="382.50" y2="49.20" stroke="#222" stroke-width="1.0"/>
<text x="375.90" y="52.26" font-size="8.5" text-anchor="end" fill="#2a2a2a" stroke="#2a2a2a" stroke-width="0.2" textLength="8.50" lengthAdjust="spacingAndGlyphs">40</text>
<line x1="379.50" y1="34.00" x2="382.50" y2="34.00" stroke="#222" stroke-width="1.0"/>
<text x="375.90" y="37.06" font-size="8.5" text-anchor="end" fill="#2a2a2a" stroke="#2a2a2a" stroke-width="0.2" textLength="8.50" lengthAdjust="spacingAndGlyphs">50</text>
<line x1="382.50" y1="110.00" x2="496.00" y2="110.00" stroke="#222" stroke-width="1.3"/>
<line x1="393.70" y1="110.00" x2="393.70" y2="113.00" stroke="#222" stroke-width="1.0"/>
<text x="397.50" y="119.00" font-size="8.3" text-anchor="end" fill="#2a2a2a" stroke="#2a2a2a" stroke-width="0.2" transform="rotate(-45 397.50 119.00)">0</text>
<line x1="412.30" y1="110.00" x2="412.30" y2="113.00" stroke="#222" stroke-width="1.0"/>
<text x="416.70" y="119.10" font-size="8.3" text-anchor="end" fill="#2a2a2a" stroke="#2a2a2a" stroke-width="0.2" textLength="18.0" lengthAdjust="spacingAndGlyphs" transform="rotate(-45 416.70 119.10)">10nM</text>
<line x1="430.40" y1="110.00" x2="430.40" y2="113.00" stroke="#222" stroke-width="1.0"/>
<text x="434.80" y="119.10" font-size="8.3" text-anchor="end" fill="#2a2a2a" stroke="#2a2a2a" stroke-width="0.2" textLength="18.5" lengthAdjust="spacingAndGlyphs" transform="rotate(-45 434.80 119.10)">50nM</text>
<line x1="448.00" y1="110.00" x2="448.00" y2="113.00" stroke="#222" stroke-width="1.0"/>
<text x="452.40" y="119.10" font-size="8.3" text-anchor="end" fill="#2a2a2a" stroke="#2a2a2a" stroke-width="0.2" textLength="23.0" lengthAdjust="spacingAndGlyphs" transform="rotate(-45 452.40 119.10)">100nM</text>
<line x1="466.50" y1="110.00" x2="466.50" y2="113.00" stroke="#222" stroke-width="1.0"/>
<text x="470.90" y="119.10" font-size="8.3" text-anchor="end" fill="#2a2a2a" stroke="#2a2a2a" stroke-width="0.2" textLength="13.5" lengthAdjust="spacingAndGlyphs" transform="rotate(-45 470.90 119.10)">1uM</text>
<line x1="483.80" y1="110.00" x2="483.80" y2="113.00" stroke="#222" stroke-width="1.0"/>
<text x="488.20" y="119.10" font-size="8.3" text-anchor="end" fill="#2a2a2a" stroke="#2a2a2a" stroke-width="0.2" textLength="17.5" lengthAdjust="spacingAndGlyphs" transform="rotate(-45 488.20 119.10)">10uM</text>
<text x="371.00" y="121.50" font-size="8" text-anchor="start" fill="#2a2a2a" stroke="#2a2a2a" stroke-width="0.2" textLength="14.8" lengthAdjust="spacingAndGlyphs">Dec:</text>
<circle cx="398.30" cy="86.29" r="1.9" fill="#1d4f8a"/>
<circle cx="390.00" cy="89.63" r="1.9" fill="#1d4f8a"/>
<circle cx="398.30" cy="91.91" r="1.9" fill="#1d4f8a"/>
<circle cx="390.00" cy="95.56" r="1.9" fill="#1d4f8a"/>
<circle cx="398.30" cy="97.69" r="1.9" fill="#1d4f8a"/>
<circle cx="393.70" cy="103.16" r="1.9" fill="#1d4f8a"/>
<line x1="388.20" y1="92.22" x2="399.20" y2="92.22" stroke="#1d4f8a" stroke-width="1.0"/>
<line x1="393.70" y1="86.44" x2="393.70" y2="97.99" stroke="#1d4f8a" stroke-width="1.0"/>
<line x1="390.50" y1="86.44" x2="396.90" y2="86.44" stroke="#1d4f8a" stroke-width="1.0"/>
<line x1="390.50" y1="97.99" x2="396.90" y2="97.99" stroke="#1d4f8a" stroke-width="1.0"/>
<circle cx="412.30" cy="82.64" r="1.9" fill="#c8173e"/>
<circle cx="412.30" cy="87.96" r="1.9" fill="#c8173e"/>
<circle cx="408.10" cy="92.82" r="1.9" fill="#c8173e"/>
<circle cx="412.30" cy="91.76" r="1.9" fill="#c8173e"/>
<circle cx="416.50" cy="92.82" r="1.9" fill="#c8173e"/>
<circle cx="412.30" cy="98.45" r="1.9" fill="#c8173e"/>
<line x1="406.80" y1="91.46" x2="417.80" y2="91.46" stroke="#c8173e" stroke-width="1.0"/>
<line x1="412.30" y1="86.44" x2="412.30" y2="96.47" stroke="#c8173e" stroke-width="1.0"/>
<line x1="409.10" y1="86.44" x2="415.50" y2="86.44" stroke="#c8173e" stroke-width="1.0"/>
<line x1="409.10" y1="96.47" x2="415.50" y2="96.47" stroke="#c8173e" stroke-width="1.0"/>
<circle cx="435.20" cy="82.64" r="1.9" fill="#3aa63a"/>
<circle cx="426.20" cy="86.29" r="1.9" fill="#3aa63a"/>
<circle cx="435.20" cy="86.29" r="1.9" fill="#3aa63a"/>
<circle cx="426.20" cy="90.54" r="1.9" fill="#3aa63a"/>
<circle cx="435.20" cy="91.76" r="1.9" fill="#3aa63a"/>
<circle cx="430.40" cy="98.45" r="1.9" fill="#3aa63a"/>
<line x1="424.90" y1="89.78" x2="435.90" y2="89.78" stroke="#3aa63a" stroke-width="1.0"/>
<line x1="430.40" y1="84.46" x2="430.40" y2="95.10" stroke="#3aa63a" stroke-width="1.0"/>
<line x1="427.20" y1="84.46" x2="433.60" y2="84.46" stroke="#3aa63a" stroke-width="1.0"/>
<line x1="427.20" y1="95.10" x2="433.60" y2="95.10" stroke="#3aa63a" stroke-width="1.0"/>
<circle cx="444.50" cy="79.75" r="1.9" fill="#55235f"/>
<circle cx="448.70" cy="83.25" r="1.9" fill="#55235f"/>
<circle cx="443.80" cy="85.98" r="1.9" fill="#55235f"/>
<circle cx="452.20" cy="86.29" r="1.9" fill="#55235f"/>
<circle cx="448.00" cy="90.09" r="1.9" fill="#55235f"/>
<circle cx="448.00" cy="95.56" r="1.9" fill="#55235f"/>
<line x1="442.50" y1="86.29" x2="453.50" y2="86.29" stroke="#55235f" stroke-width="1.0"/>
<line x1="448.00" y1="80.97" x2="448.00" y2="91.61" stroke="#55235f" stroke-width="1.0"/>
<line x1="444.80" y1="80.97" x2="451.20" y2="80.97" stroke="#55235f" stroke-width="1.0"/>
<line x1="444.80" y1="91.61" x2="451.20" y2="91.61" stroke="#55235f" stroke-width="1.0"/>
<circle cx="461.90" cy="67.44" r="1.9" fill="#f0941e"/>
<circle cx="465.70" cy="67.14" r="1.9" fill="#f0941e"/>
<circle cx="469.50" cy="70.63" r="1.9" fill="#f0941e"/>
<circle cx="466.50" cy="72.61" r="1.9" fill="#f0941e"/>
<circle cx="468.00" cy="80.06" r="1.9" fill="#f0941e"/>
<circle cx="463.80" cy="82.94" r="1.9" fill="#f0941e"/>
<line x1="461.00" y1="73.52" x2="472.00" y2="73.52" stroke="#f0941e" stroke-width="1.0"/>
<line x1="466.50" y1="67.44" x2="466.50" y2="79.60" stroke="#f0941e" stroke-width="1.0"/>
<line x1="463.30" y1="67.44" x2="469.70" y2="67.44" stroke="#f0941e" stroke-width="1.0"/>
<line x1="463.30" y1="79.60" x2="469.70" y2="79.60" stroke="#f0941e" stroke-width="1.0"/>
<circle cx="483.80" cy="42.36" r="1.9" fill="#e0257a"/>
<circle cx="479.80" cy="55.28" r="1.9" fill="#e0257a"/>
<circle cx="487.90" cy="57.26" r="1.9" fill="#e0257a"/>
<circle cx="479.80" cy="60.45" r="1.9" fill="#e0257a"/>
<circle cx="479.80" cy="65.16" r="1.9" fill="#e0257a"/>
<circle cx="487.90" cy="64.10" r="1.9" fill="#e0257a"/>
<line x1="478.30" y1="57.71" x2="489.30" y2="57.71" stroke="#e0257a" stroke-width="1.0"/>
<line x1="483.80" y1="49.50" x2="483.80" y2="65.92" stroke="#e0257a" stroke-width="1.0"/>
<line x1="480.60" y1="49.50" x2="487.00" y2="49.50" stroke="#e0257a" stroke-width="1.0"/>
<line x1="480.60" y1="65.92" x2="487.00" y2="65.92" stroke="#e0257a" stroke-width="1.0"/>
<line x1="396.00" y1="19.00" x2="484.00" y2="19.00" stroke="#333" stroke-width="1.0"/>
<text x="444.00" y="18.70" font-size="10.5" text-anchor="middle" fill="#222" stroke="#2a2a2a" stroke-width="0.2">****</text>
<line x1="396.00" y1="37.50" x2="466.00" y2="37.50" stroke="#333" stroke-width="1.0"/>
<text x="435.00" y="36.70" font-size="10.5" text-anchor="middle" fill="#222" stroke="#2a2a2a" stroke-width="0.2">****</text>
<line x1="396.00" y1="56.00" x2="449.00" y2="56.00" stroke="#333" stroke-width="1.0"/>
<text x="422.00" y="51.60" font-size="8.1" text-anchor="middle" fill="#222" stroke="#2a2a2a" stroke-width="0.2" textLength="7.4" lengthAdjust="spacingAndGlyphs">ns</text>
<text x="364.00" y="69.15" font-size="9.6" text-anchor="middle" fill="#2a2a2a" stroke="#2a2a2a" stroke-width="0.2" textLength="103.3" lengthAdjust="spacingAndGlyphs" transform="rotate(-90 364.00 69.15)">Apoptosis level of MDSCs in ITP</text>
<text x="1.80" y="155.50" font-size="11.5" text-anchor="start" fill="#111" font-weight="bold">D</text>
<line x1="38.00" y1="167.00" x2="38.00" y2="246.50" stroke="#222" stroke-width="1.3"/>
<line x1="35.00" y1="246.50" x2="38.00" y2="246.50" stroke="#222" stroke-width="1.0"/>
<text x="31.40" y="249.56" font-size="8.5" text-anchor="end" fill="#2a2a2a" stroke="#2a2a2a" stroke-width="0.2" textLength="4.25" lengthAdjust="spacingAndGlyphs">0</text>
<line x1="35.00" y1="227.00" x2="38.00" y2="227.00" stroke="#222" stroke-width="1.0"/>
<text x="31.40" y="230.06" font-size="8.5" text-anchor="end" fill="#2a2a2a" stroke="#2a2a2a" stroke-width="0.2" textLength="8.50" lengthAdjust="spacingAndGlyphs">20</text>
<line x1="35.00" y1="207.50" x2="38.00" y2="207.50" stroke="#222" stroke-width="1.0"/>
<text x="31.40" y="210.56" font-size="8.5" text-anchor="end" fill="#2a2a2a" stroke="#2a2a2a" stroke-width="0.2" textLength="8.50" lengthAdjust="spacingAndGlyphs">40</text>
<line x1="35.00" y1="188.00" x2="38.00" y2="188.00" stroke="#222" stroke-width="1.0"/>
<text x="31.40" y="191.06" font-size="8.5" text-anchor="end" fill="#2a2a2a" stroke="#2a2a2a" stroke-width="0.2" textLength="8.50" lengthAdjust="spacingAndGlyphs">60</text>
<line x1="35.00" y1="168.50" x2="38.00" y2="168.50" stroke="#222" stroke-width="1.0"/>
<text x="31.40" y="171.56" font-size="8.5" text-anchor="end" fill="#2a2a2a" stroke="#2a2a2a" stroke-width="0.2" textLength="8.50" lengthAdjust="spacingAndGlyphs">80</text>
<line x1="38.00" y1="246.50" x2="152.50" y2="246.50" stroke="#222" stroke-width="1.3"/>
<line x1="50.00" y1="246.50" x2="50.00" y2="249.50" stroke="#222" stroke-width="1.0"/>
<text x="50.00" y="257.10" font-size="8.3" text-anchor="end" fill="#2a2a2a" stroke="#2a2a2a" stroke-width="0.2" transform="rotate(-45 50.00 257.10)">0</text>
<line x1="68.30" y1="246.50" x2="68.30" y2="249.50" stroke="#222" stroke-width="1.0"/>
<text x="69.70" y="257.90" font-size="8.3" text-anchor="end" fill="#2a2a2a" stroke="#2a2a2a" stroke-width="0.2" textLength="18.0" lengthAdjust="spacingAndGlyphs" transform="rotate(-45 69.70 257.90)">10nM</text>
<line x1="86.40" y1="246.50" x2="86.40" y2="249.50" stroke="#222" stroke-width="1.0"/>
<text x="87.80" y="257.90" font-size="8.3" text-anchor="end" fill="#2a2a2a" stroke="#2a2a2a" stroke-width="0.2" textLength="18.5" lengthAdjust="spacingAndGlyphs" transform="rotate(-45 87.80 257.90)">50nM</text>
<line x1="104.20" y1="246.50" x2="104.20" y2="249.50" stroke="#222" stroke-width="1.0"/>
<text x="105.60" y="257.90" font-size="8.3" text-anchor="end" fill="#2a2a2a" stroke="#2a2a2a" stroke-width="0.2" textLength="23.0" lengthAdjust="spacingAndGlyphs" transform="rotate(-45 105.60 257.90)">100nM</text>
<line x1="122.00" y1="246.50" x2="122.00" y2="249.50" stroke="#222" stroke-width="1.0"/>
<text x="123.40" y="257.90" font-size="8.3" text-anchor="end" fill="#2a2a2a" stroke="#2a2a2a" stroke-width="0.2" textLength="13.5" lengthAdjust="spacingAndGlyphs" transform="rotate(-45 123.40 257.90)">1uM</text>
<line x1="140.00" y1="246.50" x2="140.00" y2="249.50" stroke="#222" stroke-width="1.0"/>
<text x="141.40" y="257.90" font-size="8.3" text-anchor="end" fill="#2a2a2a" stroke="#2a2a2a" stroke-width="0.2" textLength="17.5" lengthAdjust="spacingAndGlyphs" transform="rotate(-45 141.40 257.90)">10uM</text>
<text x="23.00" y="259.20" font-size="8" text-anchor="start" fill="#2a2a2a" stroke="#2a2a2a" stroke-width="0.2" textLength="14.8" lengthAdjust="spacingAndGlyphs">Dec:</text>
<circle cx="50.00" cy="194.63" r="1.35" fill="#1d4f8a"/>
<circle cx="45.60" cy="200.68" r="1.35" fill="#1d4f8a"/>
<circle cx="54.60" cy="202.14" r="1.35" fill="#1d4f8a"/>
<circle cx="50.00" cy="205.06" r="1.35" fill="#1d4f8a"/>
<circle cx="47.60" cy="208.47" r="1.35" fill="#1d4f8a"/>
<circle cx="52.50" cy="207.01" r="1.35" fill="#1d4f8a"/>
<line x1="45.50" y1="201.65" x2="54.50" y2="201.65" stroke="#1d4f8a" stroke-width="1.0"/>
<line x1="50.00" y1="197.56" x2="50.00" y2="205.75" stroke="#1d4f8a" stroke-width="1.0"/>
<line x1="47.20" y1="197.56" x2="52.80" y2="197.56" stroke="#1d4f8a" stroke-width="1.0"/>
<line x1="47.20" y1="205.75" x2="52.80" y2="205.75" stroke="#1d4f8a" stroke-width="1.0"/>
<circle cx="68.30" cy="187.71" r="1.35" fill="#c8173e"/>
<circle cx="63.50" cy="193.17" r="1.35" fill="#c8173e"/>
<circle cx="72.50" cy="193.17" r="1.35" fill="#c8173e"/>
<circle cx="63.50" cy="201.65" r="1.35" fill="#c8173e"/>
<circle cx="72.50" cy="203.60" r="1.35" fill="#c8173e"/>
<circle cx="68.30" cy="209.16" r="1.35" fill="#c8173e"/>
<line x1="63.80" y1="198.72" x2="72.80" y2="198.72" stroke="#c8173e" stroke-width="1.0"/>
<line x1="68.30" y1="191.12" x2="68.30" y2="206.33" stroke="#c8173e" stroke-width="1.0"/>
<line x1="65.50" y1="191.12" x2="71.10" y2="191.12" stroke="#c8173e" stroke-width="1.0"/>
<line x1="65.50" y1="206.33" x2="71.10" y2="206.33" stroke="#c8173e" stroke-width="1.0"/>
<circle cx="86.40" cy="180.78" r="1.35" fill="#3aa63a"/>
<circle cx="86.40" cy="189.07" r="1.35" fill="#3aa63a"/>
<circle cx="86.40" cy="193.46" r="1.35" fill="#3aa63a"/>
<circle cx="86.40" cy="197.36" r="1.35" fill="#3aa63a"/>
<circle cx="81.60" cy="204.09" r="1.35" fill="#3aa63a"/>
<circle cx="90.60" cy="203.11" r="1.35" fill="#3aa63a"/>
<line x1="81.90" y1="195.31" x2="90.90" y2="195.31" stroke="#3aa63a" stroke-width="1.0"/>
<line x1="86.40" y1="186.63" x2="86.40" y2="203.99" stroke="#3aa63a" stroke-width="1.0"/>
<line x1="83.60" y1="186.63" x2="89.20" y2="186.63" stroke="#3aa63a" stroke-width="1.0"/>
<line x1="83.60" y1="203.99" x2="89.20" y2="203.99" stroke="#3aa63a" stroke-width="1.0"/>
<circle cx="104.20" cy="178.74" r="1.35" fill="#55235f"/>
<circle cx="99.80" cy="188.49" r="1.35" fill="#55235f"/>
<circle cx="108.80" cy="188.97" r="1.35" fill="#55235f"/>
<circle cx="99.80" cy="191.90" r="1.35" fill="#55235f"/>
<circle cx="99.80" cy="203.60" r="1.35" fill="#55235f"/>
<circle cx="108.80" cy="203.60" r="1.35" fill="#55235f"/>
<line x1="99.70" y1="191.61" x2="108.70" y2="191.61" stroke="#55235f" stroke-width="1.0"/>
<line x1="104.20" y1="182.64" x2="104.20" y2="200.58" stroke="#55235f" stroke-width="1.0"/>
<line x1="101.40" y1="182.64" x2="107.00" y2="182.64" stroke="#55235f" stroke-width="1.0"/>
<line x1="101.40" y1="200.58" x2="107.00" y2="200.58" stroke="#55235f" stroke-width="1.0"/>
<circle cx="117.40" cy="188.78" r="1.35" fill="#f0941e"/>
<circle cx="122.00" cy="187.61" r="1.35" fill="#f0941e"/>
<circle cx="126.60" cy="189.56" r="1.35" fill="#f0941e"/>
<circle cx="122.00" cy="194.82" r="1.35" fill="#f0941e"/>
<circle cx="117.40" cy="201.45" r="1.35" fill="#f0941e"/>
<circle cx="126.60" cy="201.45" r="1.35" fill="#f0941e"/>
<line x1="117.50" y1="193.46" x2="126.50" y2="193.46" stroke="#f0941e" stroke-width="1.0"/>
<line x1="122.00" y1="186.93" x2="122.00" y2="199.99" stroke="#f0941e" stroke-width="1.0"/>
<line x1="119.20" y1="186.93" x2="124.80" y2="186.93" stroke="#f0941e" stroke-width="1.0"/>
<line x1="119.20" y1="199.99" x2="124.80" y2="199.99" stroke="#f0941e" stroke-width="1.0"/>
<circle cx="140.00" cy="188.68" r="1.35" fill="#e0257a"/>
<circle cx="135.80" cy="196.48" r="1.35" fill="#e0257a"/>
<circle cx="145.00" cy="195.80" r="1.35" fill="#e0257a"/>
<circle cx="135.80" cy="200.68" r="1.35" fill="#e0257a"/>
<circle cx="135.80" cy="208.18" r="1.35" fill="#e0257a"/>
<circle cx="145.00" cy="206.23" r="1.35" fill="#e0257a"/>
<line x1="135.50" y1="199.70" x2="144.50" y2="199.70" stroke="#e0257a" stroke-width="1.0"/>
<line x1="140.00" y1="192.88" x2="140.00" y2="206.53" stroke="#e0257a" stroke-width="1.0"/>
<line x1="137.20" y1="192.88" x2="142.80" y2="192.88" stroke="#e0257a" stroke-width="1.0"/>
<line x1="137.20" y1="206.53" x2="142.80" y2="206.53" stroke="#e0257a" stroke-width="1.0"/>
<line x1="51.00" y1="160.50" x2="106.00" y2="160.50" stroke="#333" stroke-width="1.0"/>
<text x="82.00" y="157.10" font-size="8.1" text-anchor="middle" fill="#222" stroke="#2a2a2a" stroke-width="0.2" textLength="7.4" lengthAdjust="spacingAndGlyphs">ns</text>
<line x1="51.00" y1="176.60" x2="88.60" y2="176.60" stroke="#333" stroke-width="1.0"/>
<text x="70.80" y="173.40" font-size="8.1" text-anchor="middle" fill="#222" stroke="#2a2a2a" stroke-width="0.2" textLength="7.4" lengthAdjust="spacingAndGlyphs">ns</text>
<text x="17.20" y="207.00" font-size="9.6" text-anchor="middle" fill="#2a2a2a" stroke="#2a2a2a" stroke-width="0.2" textLength="91" lengthAdjust="spacingAndGlyphs" transform="rotate(-90 17.20 207.00)">Percentage of MDSC in HC</text>
<text x="186.30" y="158.00" font-size="11.5" text-anchor="start" fill="#111" font-weight="bold">E</text>
<line x1="227.00" y1="169.50" x2="227.00" y2="247.00" stroke="#222" stroke-width="1.3"/>
<line x1="224.00" y1="247.00" x2="227.00" y2="247.00" stroke="#222" stroke-width="1.0"/>
<text x="220.40" y="250.06" font-size="8.5" text-anchor="end" fill="#2a2a2a" stroke="#2a2a2a" stroke-width="0.2" textLength="4.25" lengthAdjust="spacingAndGlyphs">0</text>
<line x1="224.00" y1="228.00" x2="227.00" y2="228.00" stroke="#222" stroke-width="1.0"/>
<text x="220.40" y="231.06" font-size="8.5" text-anchor="end" fill="#2a2a2a" stroke="#2a2a2a" stroke-width="0.2" textLength="8.50" lengthAdjust="spacingAndGlyphs">20</text>
<line x1="224.00" y1="209.00" x2="227.00" y2="209.00" stroke="#222" stroke-width="1.0"/>
<text x="220.40" y="212.06" font-size="8.5" text-anchor="end" fill="#2a2a2a" stroke="#2a2a2a" stroke-width="0.2" textLength="8.50" lengthAdjust="spacingAndGlyphs">40</text>
<line x1="224.00" y1="190.00" x2="227.00" y2="190.00" stroke="#222" stroke-width="1.0"/>
<text x="220.40" y="193.06" font-size="8.5" text-anchor="end" fill="#2a2a2a" stroke="#2a2a2a" stroke-width="0.2" textLength="8.50" lengthAdjust="spacingAndGlyphs">60</text>
<line x1="224.00" y1="171.00" x2="227.00" y2="171.00" stroke="#222" stroke-width="1.0"/>
<text x="220.40" y="174.06" font-size="8.5" text-anchor="end" fill="#2a2a2a" stroke="#2a2a2a" stroke-width="0.2" textLength="8.50" lengthAdjust="spacingAndGlyphs">80</text>
<line x1="227.00" y1="247.00" x2="339.50" y2="247.00" stroke="#222" stroke-width="1.3"/>
<line x1="238.20" y1="247.00" x2="238.20" y2="250.00" stroke="#222" stroke-width="1.0"/>
<text x="243.20" y="257.40" font-size="8.3" text-anchor="end" fill="#2a2a2a" stroke="#2a2a2a" stroke-width="0.2" transform="rotate(-45 243.20 257.40)">0</text>
<line x1="256.20" y1="247.00" x2="256.20" y2="250.00" stroke="#222" stroke-width="1.0"/>
<text x="262.60" y="257.50" font-size="8.3" text-anchor="end" fill="#2a2a2a" stroke="#2a2a2a" stroke-width="0.2" textLength="18.0" lengthAdjust="spacingAndGlyphs" transform="rotate(-45 262.60 257.50)">10nM</text>
<line x1="274.00" y1="247.00" x2="274.00" y2="250.00" stroke="#222" stroke-width="1.0"/>
<text x="280.40" y="257.50" font-size="8.3" text-anchor="end" fill="#2a2a2a" stroke="#2a2a2a" stroke-width="0.2" textLength="18.5" lengthAdjust="spacingAndGlyphs" transform="rotate(-45 280.40 257.50)">50nM</text>
<line x1="292.00" y1="247.00" x2="292.00" y2="250.00" stroke="#222" stroke-width="1.0"/>
<text x="298.40" y="257.50" font-size="8.3" text-anchor="end" fill="#2a2a2a" stroke="#2a2a2a" stroke-width="0.2" textLength="23.0" lengthAdjust="spacingAndGlyphs" transform="rotate(-45 298.40 257.50)">100nM</text>
<line x1="309.80" y1="247.00" x2="309.80" y2="250.00" stroke="#222" stroke-width="1.0"/>
<text x="316.20" y="257.50" font-size="8.3" text-anchor="end" fill="#2a2a2a" stroke="#2a2a2a" stroke-width="0.2" textLength="13.5" lengthAdjust="spacingAndGlyphs" transform="rotate(-45 316.20 257.50)">1uM</text>
<line x1="327.80" y1="247.00" x2="327.80" y2="250.00" stroke="#222" stroke-width="1.0"/>
<text x="334.20" y="257.50" font-size="8.3" text-anchor="end" fill="#2a2a2a" stroke="#2a2a2a" stroke-width="0.2" textLength="17.5" lengthAdjust="spacingAndGlyphs" transform="rotate(-45 334.20 257.50)">10uM</text>
<text x="217.00" y="259.70" font-size="8" text-anchor="start" fill="#2a2a2a" stroke="#2a2a2a" stroke-width="0.2" textLength="14.8" lengthAdjust="spacingAndGlyphs">Dec:</text>
<circle cx="233.80" cy="207.00" r="1.65" fill="#1d4f8a"/>
<circle cx="242.10" cy="211.19" r="1.65" fill="#1d4f8a"/>
<circle cx="238.20" cy="216.31" r="1.65" fill="#1d4f8a"/>
<circle cx="238.20" cy="221.35" r="1.65" fill="#1d4f8a"/>
<circle cx="238.20" cy="236.07" r="1.65" fill="#1d4f8a"/>
<line x1="233.40" y1="218.50" x2="243.00" y2="218.50" stroke="#1d4f8a" stroke-width="1.0"/>
<line x1="238.20" y1="207.77" x2="238.20" y2="229.24" stroke="#1d4f8a" stroke-width="1.0"/>
<line x1="235.20" y1="207.77" x2="241.20" y2="207.77" stroke="#1d4f8a" stroke-width="1.0"/>
<line x1="235.20" y1="229.24" x2="241.20" y2="229.24" stroke="#1d4f8a" stroke-width="1.0"/>
<circle cx="256.20" cy="193.90" r="1.65" fill="#c8173e"/>
<circle cx="256.20" cy="199.41" r="1.65" fill="#c8173e"/>
<circle cx="256.20" cy="207.00" r="1.65" fill="#c8173e"/>
<circle cx="251.90" cy="213.28" r="1.65" fill="#c8173e"/>
<circle cx="260.20" cy="211.85" r="1.65" fill="#c8173e"/>
<line x1="251.40" y1="205.30" x2="261.00" y2="205.30" stroke="#c8173e" stroke-width="1.0"/>
<line x1="256.20" y1="197.22" x2="256.20" y2="213.37" stroke="#c8173e" stroke-width="1.0"/>
<line x1="253.20" y1="197.22" x2="259.20" y2="197.22" stroke="#c8173e" stroke-width="1.0"/>
<line x1="253.20" y1="213.37" x2="259.20" y2="213.37" stroke="#c8173e" stroke-width="1.0"/>
<circle cx="272.00" cy="190.47" r="1.65" fill="#3aa63a"/>
<circle cx="276.00" cy="189.05" r="1.65" fill="#3aa63a"/>
<circle cx="274.00" cy="200.07" r="1.65" fill="#3aa63a"/>
<circle cx="269.80" cy="203.78" r="1.65" fill="#3aa63a"/>
<circle cx="278.40" cy="200.93" r="1.65" fill="#3aa63a"/>
<line x1="269.20" y1="196.65" x2="278.80" y2="196.65" stroke="#3aa63a" stroke-width="1.0"/>
<line x1="274.00" y1="190.95" x2="274.00" y2="202.35" stroke="#3aa63a" stroke-width="1.0"/>
<line x1="271.00" y1="190.95" x2="277.00" y2="190.95" stroke="#3aa63a" stroke-width="1.0"/>
<line x1="271.00" y1="202.35" x2="277.00" y2="202.35" stroke="#3aa63a" stroke-width="1.0"/>
<circle cx="287.80" cy="185.53" r="1.65" fill="#55235f"/>
<circle cx="296.20" cy="186.58" r="1.65" fill="#55235f"/>
<circle cx="287.80" cy="190.38" r="1.65" fill="#55235f"/>
<circle cx="296.00" cy="192.19" r="1.65" fill="#55235f"/>
<circle cx="292.00" cy="197.98" r="1.65" fill="#55235f"/>
<line x1="287.20" y1="189.05" x2="296.80" y2="189.05" stroke="#55235f" stroke-width="1.0"/>
<line x1="292.00" y1="184.97" x2="292.00" y2="193.13" stroke="#55235f" stroke-width="1.0"/>
<line x1="289.00" y1="184.97" x2="295.00" y2="184.97" stroke="#55235f" stroke-width="1.0"/>
<line x1="289.00" y1="193.13" x2="295.00" y2="193.13" stroke="#55235f" stroke-width="1.0"/>
<circle cx="306.00" cy="191.90" r="1.65" fill="#f0941e"/>
<circle cx="314.00" cy="193.80" r="1.65" fill="#f0941e"/>
<circle cx="306.00" cy="198.27" r="1.65" fill="#f0941e"/>
<circle cx="314.00" cy="199.97" r="1.65" fill="#f0941e"/>
<circle cx="309.80" cy="208.81" r="1.65" fill="#f0941e"/>
<line x1="305.00" y1="198.07" x2="314.60" y2="198.07" stroke="#f0941e" stroke-width="1.0"/>
<line x1="309.80" y1="191.71" x2="309.80" y2="204.44" stroke="#f0941e" stroke-width="1.0"/>
<line x1="306.80" y1="191.71" x2="312.80" y2="191.71" stroke="#f0941e" stroke-width="1.0"/>
<line x1="306.80" y1="204.44" x2="312.80" y2="204.44" stroke="#f0941e" stroke-width="1.0"/>
<circle cx="323.60" cy="196.18" r="1.65" fill="#e0257a"/>
<circle cx="331.60" cy="200.17" r="1.65" fill="#e0257a"/>
<circle cx="323.60" cy="201.50" r="1.65" fill="#e0257a"/>
<circle cx="331.60" cy="202.35" r="1.65" fill="#e0257a"/>
<circle cx="323.60" cy="205.20" r="1.65" fill="#e0257a"/>
<circle cx="331.60" cy="204.72" r="1.65" fill="#e0257a"/>
<line x1="323.00" y1="202.35" x2="332.60" y2="202.35" stroke="#e0257a" stroke-width="1.0"/>
<line x1="327.80" y1="199.12" x2="327.80" y2="205.58" stroke="#e0257a" stroke-width="1.0"/>
<line x1="324.80" y1="199.12" x2="330.80" y2="199.12" stroke="#e0257a" stroke-width="1.0"/>
<line x1="324.80" y1="205.58" x2="330.80" y2="205.58" stroke="#e0257a" stroke-width="1.0"/>
<line x1="238.00" y1="158.00" x2="293.00" y2="158.00" stroke="#333" stroke-width="1.0"/>
<text x="265.00" y="159.70" font-size="10.5" text-anchor="middle" fill="#222" stroke="#2a2a2a" stroke-width="0.2">****</text>
<line x1="238.00" y1="174.00" x2="275.50" y2="174.00" stroke="#333" stroke-width="1.0"/>
<text x="257.00" y="175.20" font-size="10.5" text-anchor="middle" fill="#222" stroke="#2a2a2a" stroke-width="0.2">***</text>
<text x="206.30" y="208.50" font-size="9.6" text-anchor="middle" fill="#2a2a2a" stroke="#2a2a2a" stroke-width="0.2" textLength="88" lengthAdjust="spacingAndGlyphs" transform="rotate(-90 206.30 208.50)">Percentage of MDSC in ITP</text>
<text x="345.30" y="158.00" font-size="11.5" text-anchor="start" fill="#111" font-weight="bold">F</text>
<line x1="382.50" y1="169.00" x2="382.50" y2="247.30" stroke="#222" stroke-width="1.3"/>
<line x1="379.50" y1="247.30" x2="382.50" y2="247.30" stroke="#222" stroke-width="1.0"/>
<text x="375.90" y="250.36" font-size="8.5" text-anchor="end" fill="#2a2a2a" stroke="#2a2a2a" stroke-width="0.2" textLength="4.25" lengthAdjust="spacingAndGlyphs">0</text>
<line x1="379.50" y1="227.98" x2="382.50" y2="227.98" stroke="#222" stroke-width="1.0"/>
<text x="375.90" y="231.04" font-size="8.5" text-anchor="end" fill="#2a2a2a" stroke="#2a2a2a" stroke-width="0.2" textLength="8.50" lengthAdjust="spacingAndGlyphs">20</text>
<line x1="379.50" y1="208.65" x2="382.50" y2="208.65" stroke="#222" stroke-width="1.0"/>
<text x="375.90" y="211.71" font-size="8.5" text-anchor="end" fill="#2a2a2a" stroke="#2a2a2a" stroke-width="0.2" textLength="8.50" lengthAdjust="spacingAndGlyphs">40</text>
<line x1="379.50" y1="189.32" x2="382.50" y2="189.32" stroke="#222" stroke-width="1.0"/>
<text x="375.90" y="192.38" font-size="8.5" text-anchor="end" fill="#2a2a2a" stroke="#2a2a2a" stroke-width="0.2" textLength="8.50" lengthAdjust="spacingAndGlyphs">60</text>
<line x1="379.50" y1="170.00" x2="382.50" y2="170.00" stroke="#222" stroke-width="1.0"/>
<text x="375.90" y="173.06" font-size="8.5" text-anchor="end" fill="#2a2a2a" stroke="#2a2a2a" stroke-width="0.2" textLength="8.50" lengthAdjust="spacingAndGlyphs">80</text>
<line x1="382.50" y1="247.30" x2="501.50" y2="247.30" stroke="#222" stroke-width="1.3"/>
<line x1="382.50" y1="247.30" x2="382.50" y2="250.30" stroke="#222" stroke-width="1.0"/>
<text x="382.50" y="260.50" font-size="8.5" text-anchor="middle" fill="#2a2a2a" stroke="#2a2a2a" stroke-width="0.2" textLength="4.25" lengthAdjust="spacingAndGlyphs">0</text>
<line x1="397.10" y1="247.30" x2="397.10" y2="250.30" stroke="#222" stroke-width="1.0"/>
<text x="397.10" y="260.50" font-size="8.5" text-anchor="middle" fill="#2a2a2a" stroke="#2a2a2a" stroke-width="0.2" textLength="8.50" lengthAdjust="spacingAndGlyphs">10</text>
<line x1="411.70" y1="247.30" x2="411.70" y2="250.30" stroke="#222" stroke-width="1.0"/>
<text x="411.70" y="260.50" font-size="8.5" text-anchor="middle" fill="#2a2a2a" stroke="#2a2a2a" stroke-width="0.2" textLength="8.50" lengthAdjust="spacingAndGlyphs">20</text>
<line x1="426.30" y1="247.30" x2="426.30" y2="250.30" stroke="#222" stroke-width="1.0"/>
<text x="426.30" y="260.50" font-size="8.5" text-anchor="middle" fill="#2a2a2a" stroke="#2a2a2a" stroke-width="0.2" textLength="8.50" lengthAdjust="spacingAndGlyphs">30</text>
<line x1="440.90" y1="247.30" x2="440.90" y2="250.30" stroke="#222" stroke-width="1.0"/>
<text x="440.90" y="260.50" font-size="8.5" text-anchor="middle" fill="#2a2a2a" stroke="#2a2a2a" stroke-width="0.2" textLength="8.50" lengthAdjust="spacingAndGlyphs">40</text>
<line x1="455.50" y1="247.30" x2="455.50" y2="250.30" stroke="#222" stroke-width="1.0"/>
<text x="455.50" y="260.50" font-size="8.5" text-anchor="middle" fill="#2a2a2a" stroke="#2a2a2a" stroke-width="0.2" textLength="8.50" lengthAdjust="spacingAndGlyphs">50</text>
<line x1="470.10" y1="247.30" x2="470.10" y2="250.30" stroke="#222" stroke-width="1.0"/>
<text x="470.10" y="260.50" font-size="8.5" text-anchor="middle" fill="#2a2a2a" stroke="#2a2a2a" stroke-width="0.2" textLength="8.50" lengthAdjust="spacingAndGlyphs">60</text>
<line x1="484.70" y1="247.30" x2="484.70" y2="250.30" stroke="#222" stroke-width="1.0"/>
<text x="484.70" y="260.50" font-size="8.5" text-anchor="middle" fill="#2a2a2a" stroke="#2a2a2a" stroke-width="0.2" textLength="8.50" lengthAdjust="spacingAndGlyphs">70</text>
<line x1="499.30" y1="247.30" x2="499.30" y2="250.30" stroke="#222" stroke-width="1.0"/>
<text x="499.30" y="260.50" font-size="8.5" text-anchor="middle" fill="#2a2a2a" stroke="#2a2a2a" stroke-width="0.2" textLength="8.50" lengthAdjust="spacingAndGlyphs">80</text>
<text x="442.50" y="274.00" font-size="9.4" text-anchor="middle" fill="#2a2a2a" stroke="#2a2a2a" stroke-width="0.2" textLength="37" lengthAdjust="spacingAndGlyphs">Time (min)</text>
<text x="361.70" y="206.75" font-size="9.6" text-anchor="middle" fill="#2a2a2a" stroke="#2a2a2a" stroke-width="0.2" textLength="55.7" lengthAdjust="spacingAndGlyphs" transform="rotate(-90 361.70 206.75)">OCR (pmol/min)</text>
<line x1="384.25" y1="225.56" x2="384.25" y2="233.29" stroke="#c8173e" stroke-width="0.9"/>
<line x1="382.65" y1="225.56" x2="385.85" y2="225.56" stroke="#c8173e" stroke-width="0.9"/>
<line x1="382.65" y1="233.29" x2="385.85" y2="233.29" stroke="#c8173e" stroke-width="0.9"/>
<line x1="393.89" y1="225.56" x2="393.89" y2="233.29" stroke="#c8173e" stroke-width="0.9"/>
<line x1="392.29" y1="225.56" x2="395.49" y2="225.56" stroke="#c8173e" stroke-width="0.9"/>
<line x1="392.29" y1="233.29" x2="395.49" y2="233.29" stroke="#c8173e" stroke-width="0.9"/>
<line x1="403.52" y1="225.56" x2="403.52" y2="233.29" stroke="#c8173e" stroke-width="0.9"/>
<line x1="401.92" y1="225.56" x2="405.12" y2="225.56" stroke="#c8173e" stroke-width="0.9"/>
<line x1="401.92" y1="233.29" x2="405.12" y2="233.29" stroke="#c8173e" stroke-width="0.9"/>
<line x1="413.16" y1="236.67" x2="413.16" y2="239.57" stroke="#c8173e" stroke-width="0.9"/>
<line x1="411.56" y1="236.67" x2="414.76" y2="236.67" stroke="#c8173e" stroke-width="0.9"/>
<line x1="411.56" y1="239.57" x2="414.76" y2="239.57" stroke="#c8173e" stroke-width="0.9"/>
<line x1="422.80" y1="237.15" x2="422.80" y2="240.05" stroke="#c8173e" stroke-width="0.9"/>
<line x1="421.20" y1="237.15" x2="424.40" y2="237.15" stroke="#c8173e" stroke-width="0.9"/>
<line x1="421.20" y1="240.05" x2="424.40" y2="240.05" stroke="#c8173e" stroke-width="0.9"/>
<line x1="432.43" y1="236.67" x2="432.43" y2="239.57" stroke="#c8173e" stroke-width="0.9"/>
<line x1="430.83" y1="236.67" x2="434.03" y2="236.67" stroke="#c8173e" stroke-width="0.9"/>
<line x1="430.83" y1="239.57" x2="434.03" y2="239.57" stroke="#c8173e" stroke-width="0.9"/>
<line x1="442.07" y1="209.62" x2="442.07" y2="240.54" stroke="#c8173e" stroke-width="0.9"/>
<line x1="440.47" y1="209.62" x2="443.67" y2="209.62" stroke="#c8173e" stroke-width="0.9"/>
<line x1="440.47" y1="240.54" x2="443.67" y2="240.54" stroke="#c8173e" stroke-width="0.9"/>
<line x1="451.70" y1="215.41" x2="451.70" y2="240.54" stroke="#c8173e" stroke-width="0.9"/>
<line x1="450.10" y1="215.41" x2="453.30" y2="215.41" stroke="#c8173e" stroke-width="0.9"/>
<line x1="450.10" y1="240.54" x2="453.30" y2="240.54" stroke="#c8173e" stroke-width="0.9"/>
<line x1="461.34" y1="217.35" x2="461.34" y2="240.54" stroke="#c8173e" stroke-width="0.9"/>
<line x1="459.74" y1="217.35" x2="462.94" y2="217.35" stroke="#c8173e" stroke-width="0.9"/>
<line x1="459.74" y1="240.54" x2="462.94" y2="240.54" stroke="#c8173e" stroke-width="0.9"/>
<line x1="470.98" y1="238.12" x2="470.98" y2="240.05" stroke="#c8173e" stroke-width="0.9"/>
<line x1="469.38" y1="238.12" x2="472.58" y2="238.12" stroke="#c8173e" stroke-width="0.9"/>
<line x1="469.38" y1="240.05" x2="472.58" y2="240.05" stroke="#c8173e" stroke-width="0.9"/>
<line x1="480.61" y1="239.09" x2="480.61" y2="241.02" stroke="#c8173e" stroke-width="0.9"/>
<line x1="479.01" y1="239.09" x2="482.21" y2="239.09" stroke="#c8173e" stroke-width="0.9"/>
<line x1="479.01" y1="241.02" x2="482.21" y2="241.02" stroke="#c8173e" stroke-width="0.9"/>
<line x1="490.25" y1="239.09" x2="490.25" y2="241.02" stroke="#c8173e" stroke-width="0.9"/>
<line x1="488.65" y1="239.09" x2="491.85" y2="239.09" stroke="#c8173e" stroke-width="0.9"/>
<line x1="488.65" y1="241.02" x2="491.85" y2="241.02" stroke="#c8173e" stroke-width="0.9"/>
<polyline points="384.25,229.42 393.89,229.42 403.52,229.42 413.16,238.12 422.80,238.60 432.43,238.12 442.07,225.08 451.70,227.98 461.34,228.94 470.98,239.09 480.61,240.05 490.25,240.05" fill="none" stroke="#c8173e" stroke-width="1.5"/>
<rect x="383.15" y="228.32" width="2.20" height="2.20" fill="#c8173e"/>
<rect x="392.79" y="228.32" width="2.20" height="2.20" fill="#c8173e"/>
<rect x="402.42" y="228.32" width="2.20" height="2.20" fill="#c8173e"/>
<rect x="412.06" y="237.02" width="2.20" height="2.20" fill="#c8173e"/>
<rect x="421.70" y="237.50" width="2.20" height="2.20" fill="#c8173e"/>
<rect x="431.33" y="237.02" width="2.20" height="2.20" fill="#c8173e"/>
<rect x="440.97" y="223.98" width="2.20" height="2.20" fill="#c8173e"/>
<rect x="450.60" y="226.88" width="2.20" height="2.20" fill="#c8173e"/>
<rect x="460.24" y="227.84" width="2.20" height="2.20" fill="#c8173e"/>
<rect x="469.88" y="237.99" width="2.20" height="2.20" fill="#c8173e"/>
<rect x="479.51" y="238.95" width="2.20" height="2.20" fill="#c8173e"/>
<rect x="489.15" y="238.95" width="2.20" height="2.20" fill="#c8173e"/>
<line x1="384.25" y1="219.76" x2="384.25" y2="225.56" stroke="#55235f" stroke-width="0.9"/>
<line x1="382.65" y1="219.76" x2="385.85" y2="219.76" stroke="#55235f" stroke-width="0.9"/>
<line x1="382.65" y1="225.56" x2="385.85" y2="225.56" stroke="#55235f" stroke-width="0.9"/>
<line x1="393.89" y1="219.76" x2="393.89" y2="225.56" stroke="#55235f" stroke-width="0.9"/>
<line x1="392.29" y1="219.76" x2="395.49" y2="219.76" stroke="#55235f" stroke-width="0.9"/>
<line x1="392.29" y1="225.56" x2="395.49" y2="225.56" stroke="#55235f" stroke-width="0.9"/>
<line x1="403.52" y1="219.28" x2="403.52" y2="225.08" stroke="#55235f" stroke-width="0.9"/>
<line x1="401.92" y1="219.28" x2="405.12" y2="219.28" stroke="#55235f" stroke-width="0.9"/>
<line x1="401.92" y1="225.08" x2="405.12" y2="225.08" stroke="#55235f" stroke-width="0.9"/>
<line x1="413.16" y1="236.19" x2="413.16" y2="239.09" stroke="#55235f" stroke-width="0.9"/>
<line x1="411.56" y1="236.19" x2="414.76" y2="236.19" stroke="#55235f" stroke-width="0.9"/>
<line x1="411.56" y1="239.09" x2="414.76" y2="239.09" stroke="#55235f" stroke-width="0.9"/>
<line x1="422.80" y1="236.19" x2="422.80" y2="239.09" stroke="#55235f" stroke-width="0.9"/>
<line x1="421.20" y1="236.19" x2="424.40" y2="236.19" stroke="#55235f" stroke-width="0.9"/>
<line x1="421.20" y1="239.09" x2="424.40" y2="239.09" stroke="#55235f" stroke-width="0.9"/>
<line x1="432.43" y1="236.19" x2="432.43" y2="239.09" stroke="#55235f" stroke-width="0.9"/>
<line x1="430.83" y1="236.19" x2="434.03" y2="236.19" stroke="#55235f" stroke-width="0.9"/>
<line x1="430.83" y1="239.09" x2="434.03" y2="239.09" stroke="#55235f" stroke-width="0.9"/>
<line x1="442.07" y1="195.12" x2="442.07" y2="210.58" stroke="#55235f" stroke-width="0.9"/>
<line x1="440.47" y1="195.12" x2="443.67" y2="195.12" stroke="#55235f" stroke-width="0.9"/>
<line x1="440.47" y1="210.58" x2="443.67" y2="210.58" stroke="#55235f" stroke-width="0.9"/>
<line x1="451.70" y1="204.30" x2="451.70" y2="215.90" stroke="#55235f" stroke-width="0.9"/>
<line x1="450.10" y1="204.30" x2="453.30" y2="204.30" stroke="#55235f" stroke-width="0.9"/>
<line x1="450.10" y1="215.90" x2="453.30" y2="215.90" stroke="#55235f" stroke-width="0.9"/>
<line x1="461.34" y1="209.13" x2="461.34" y2="218.80" stroke="#55235f" stroke-width="0.9"/>
<line x1="459.74" y1="209.13" x2="462.94" y2="209.13" stroke="#55235f" stroke-width="0.9"/>
<line x1="459.74" y1="218.80" x2="462.94" y2="218.80" stroke="#55235f" stroke-width="0.9"/>
<line x1="470.98" y1="238.12" x2="470.98" y2="240.05" stroke="#55235f" stroke-width="0.9"/>
<line x1="469.38" y1="238.12" x2="472.58" y2="238.12" stroke="#55235f" stroke-width="0.9"/>
<line x1="469.38" y1="240.05" x2="472.58" y2="240.05" stroke="#55235f" stroke-width="0.9"/>
<line x1="480.61" y1="239.09" x2="480.61" y2="241.02" stroke="#55235f" stroke-width="0.9"/>
<line x1="479.01" y1="239.09" x2="482.21" y2="239.09" stroke="#55235f" stroke-width="0.9"/>
<line x1="479.01" y1="241.02" x2="482.21" y2="241.02" stroke="#55235f" stroke-width="0.9"/>
<line x1="490.25" y1="239.09" x2="490.25" y2="241.02" stroke="#55235f" stroke-width="0.9"/>
<line x1="488.65" y1="239.09" x2="491.85" y2="239.09" stroke="#55235f" stroke-width="0.9"/>
<line x1="488.65" y1="241.02" x2="491.85" y2="241.02" stroke="#55235f" stroke-width="0.9"/>
<polyline points="384.25,222.66 393.89,222.66 403.52,222.18 413.16,237.64 422.80,237.64 432.43,237.64 442.07,202.85 451.70,210.10 461.34,213.96 470.98,239.09 480.61,240.05 490.25,240.05" fill="none" stroke="#55235f" stroke-width="1.5"/>
<rect x="383.15" y="221.56" width="2.20" height="2.20" fill="#55235f"/>
<rect x="392.79" y="221.56" width="2.20" height="2.20" fill="#55235f"/>
<rect x="402.42" y="221.08" width="2.20" height="2.20" fill="#55235f"/>
<rect x="412.06" y="236.54" width="2.20" height="2.20" fill="#55235f"/>
<rect x="421.70" y="236.54" width="2.20" height="2.20" fill="#55235f"/>
<rect x="431.33" y="236.54" width="2.20" height="2.20" fill="#55235f"/>
<rect x="440.97" y="201.75" width="2.20" height="2.20" fill="#55235f"/>
<rect x="450.60" y="209.00" width="2.20" height="2.20" fill="#55235f"/>
<rect x="460.24" y="212.86" width="2.20" height="2.20" fill="#55235f"/>
<rect x="469.88" y="237.99" width="2.20" height="2.20" fill="#55235f"/>
<rect x="479.51" y="238.95" width="2.20" height="2.20" fill="#55235f"/>
<rect x="489.15" y="238.95" width="2.20" height="2.20" fill="#55235f"/>
<line x1="384.25" y1="213.96" x2="384.25" y2="218.80" stroke="#3aa63a" stroke-width="0.9"/>
<line x1="382.65" y1="213.96" x2="385.85" y2="213.96" stroke="#3aa63a" stroke-width="0.9"/>
<line x1="382.65" y1="218.80" x2="385.85" y2="218.80" stroke="#3aa63a" stroke-width="0.9"/>
<line x1="393.89" y1="215.41" x2="393.89" y2="221.21" stroke="#3aa63a" stroke-width="0.9"/>
<line x1="392.29" y1="215.41" x2="395.49" y2="215.41" stroke="#3aa63a" stroke-width="0.9"/>
<line x1="392.29" y1="221.21" x2="395.49" y2="221.21" stroke="#3aa63a" stroke-width="0.9"/>
<line x1="403.52" y1="215.41" x2="403.52" y2="221.21" stroke="#3aa63a" stroke-width="0.9"/>
<line x1="401.92" y1="215.41" x2="405.12" y2="215.41" stroke="#3aa63a" stroke-width="0.9"/>
<line x1="401.92" y1="221.21" x2="405.12" y2="221.21" stroke="#3aa63a" stroke-width="0.9"/>
<line x1="413.16" y1="236.19" x2="413.16" y2="239.09" stroke="#3aa63a" stroke-width="0.9"/>
<line x1="411.56" y1="236.19" x2="414.76" y2="236.19" stroke="#3aa63a" stroke-width="0.9"/>
<line x1="411.56" y1="239.09" x2="414.76" y2="239.09" stroke="#3aa63a" stroke-width="0.9"/>
<line x1="422.80" y1="236.19" x2="422.80" y2="239.09" stroke="#3aa63a" stroke-width="0.9"/>
<line x1="421.20" y1="236.19" x2="424.40" y2="236.19" stroke="#3aa63a" stroke-width="0.9"/>
<line x1="421.20" y1="239.09" x2="424.40" y2="239.09" stroke="#3aa63a" stroke-width="0.9"/>
<line x1="432.43" y1="236.19" x2="432.43" y2="239.09" stroke="#3aa63a" stroke-width="0.9"/>
<line x1="430.83" y1="236.19" x2="434.03" y2="236.19" stroke="#3aa63a" stroke-width="0.9"/>
<line x1="430.83" y1="239.09" x2="434.03" y2="239.09" stroke="#3aa63a" stroke-width="0.9"/>
<line x1="442.07" y1="184.49" x2="442.07" y2="203.82" stroke="#3aa63a" stroke-width="0.9"/>
<line x1="440.47" y1="184.49" x2="443.67" y2="184.49" stroke="#3aa63a" stroke-width="0.9"/>
<line x1="440.47" y1="203.82" x2="443.67" y2="203.82" stroke="#3aa63a" stroke-width="0.9"/>
<line x1="451.70" y1="199.95" x2="451.70" y2="211.55" stroke="#3aa63a" stroke-width="0.9"/>
<line x1="450.10" y1="199.95" x2="453.30" y2="199.95" stroke="#3aa63a" stroke-width="0.9"/>
<line x1="450.10" y1="211.55" x2="453.30" y2="211.55" stroke="#3aa63a" stroke-width="0.9"/>
<line x1="461.34" y1="202.85" x2="461.34" y2="214.45" stroke="#3aa63a" stroke-width="0.9"/>
<line x1="459.74" y1="202.85" x2="462.94" y2="202.85" stroke="#3aa63a" stroke-width="0.9"/>
<line x1="459.74" y1="214.45" x2="462.94" y2="214.45" stroke="#3aa63a" stroke-width="0.9"/>
<line x1="470.98" y1="238.12" x2="470.98" y2="240.05" stroke="#3aa63a" stroke-width="0.9"/>
<line x1="469.38" y1="238.12" x2="472.58" y2="238.12" stroke="#3aa63a" stroke-width="0.9"/>
<line x1="469.38" y1="240.05" x2="472.58" y2="240.05" stroke="#3aa63a" stroke-width="0.9"/>
<line x1="480.61" y1="239.09" x2="480.61" y2="241.02" stroke="#3aa63a" stroke-width="0.9"/>
<line x1="479.01" y1="239.09" x2="482.21" y2="239.09" stroke="#3aa63a" stroke-width="0.9"/>
<line x1="479.01" y1="241.02" x2="482.21" y2="241.02" stroke="#3aa63a" stroke-width="0.9"/>
<line x1="490.25" y1="239.09" x2="490.25" y2="241.02" stroke="#3aa63a" stroke-width="0.9"/>
<line x1="488.65" y1="239.09" x2="491.85" y2="239.09" stroke="#3aa63a" stroke-width="0.9"/>
<line x1="488.65" y1="241.02" x2="491.85" y2="241.02" stroke="#3aa63a" stroke-width="0.9"/>
<polyline points="384.25,216.38 393.89,218.31 403.52,218.31 413.16,237.64 422.80,237.64 432.43,237.64 442.07,194.16 451.70,205.75 461.34,208.65 470.98,239.09 480.61,240.05 490.25,240.05" fill="none" stroke="#3aa63a" stroke-width="1.5"/>
<rect x="383.15" y="215.28" width="2.20" height="2.20" fill="#3aa63a"/>
<rect x="392.79" y="217.21" width="2.20" height="2.20" fill="#3aa63a"/>
<rect x="402.42" y="217.21" width="2.20" height="2.20" fill="#3aa63a"/>
<rect x="412.06" y="236.54" width="2.20" height="2.20" fill="#3aa63a"/>
<rect x="421.70" y="236.54" width="2.20" height="2.20" fill="#3aa63a"/>
<rect x="431.33" y="236.54" width="2.20" height="2.20" fill="#3aa63a"/>
<rect x="440.97" y="193.06" width="2.20" height="2.20" fill="#3aa63a"/>
<rect x="450.60" y="204.65" width="2.20" height="2.20" fill="#3aa63a"/>
<rect x="460.24" y="207.55" width="2.20" height="2.20" fill="#3aa63a"/>
<rect x="469.88" y="237.99" width="2.20" height="2.20" fill="#3aa63a"/>
<rect x="479.51" y="238.95" width="2.20" height="2.20" fill="#3aa63a"/>
<rect x="489.15" y="238.95" width="2.20" height="2.20" fill="#3aa63a"/>
<line x1="384.25" y1="214.45" x2="384.25" y2="219.28" stroke="#1d4f8a" stroke-width="0.9"/>
<line x1="382.65" y1="214.45" x2="385.85" y2="214.45" stroke="#1d4f8a" stroke-width="0.9"/>
<line x1="382.65" y1="219.28" x2="385.85" y2="219.28" stroke="#1d4f8a" stroke-width="0.9"/>
<line x1="393.89" y1="214.93" x2="393.89" y2="220.73" stroke="#1d4f8a" stroke-width="0.9"/>
<line x1="392.29" y1="214.93" x2="395.49" y2="214.93" stroke="#1d4f8a" stroke-width="0.9"/>
<line x1="392.29" y1="220.73" x2="395.49" y2="220.73" stroke="#1d4f8a" stroke-width="0.9"/>
<line x1="403.52" y1="214.93" x2="403.52" y2="220.73" stroke="#1d4f8a" stroke-width="0.9"/>
<line x1="401.92" y1="214.93" x2="405.12" y2="214.93" stroke="#1d4f8a" stroke-width="0.9"/>
<line x1="401.92" y1="220.73" x2="405.12" y2="220.73" stroke="#1d4f8a" stroke-width="0.9"/>
<line x1="413.16" y1="236.19" x2="413.16" y2="239.09" stroke="#1d4f8a" stroke-width="0.9"/>
<line x1="411.56" y1="236.19" x2="414.76" y2="236.19" stroke="#1d4f8a" stroke-width="0.9"/>
<line x1="411.56" y1="239.09" x2="414.76" y2="239.09" stroke="#1d4f8a" stroke-width="0.9"/>
<line x1="422.80" y1="236.19" x2="422.80" y2="239.09" stroke="#1d4f8a" stroke-width="0.9"/>
<line x1="421.20" y1="236.19" x2="424.40" y2="236.19" stroke="#1d4f8a" stroke-width="0.9"/>
<line x1="421.20" y1="239.09" x2="424.40" y2="239.09" stroke="#1d4f8a" stroke-width="0.9"/>
<line x1="432.43" y1="236.19" x2="432.43" y2="239.09" stroke="#1d4f8a" stroke-width="0.9"/>
<line x1="430.83" y1="236.19" x2="434.03" y2="236.19" stroke="#1d4f8a" stroke-width="0.9"/>
<line x1="430.83" y1="239.09" x2="434.03" y2="239.09" stroke="#1d4f8a" stroke-width="0.9"/>
<line x1="442.07" y1="189.32" x2="442.07" y2="204.78" stroke="#1d4f8a" stroke-width="0.9"/>
<line x1="440.47" y1="189.32" x2="443.67" y2="189.32" stroke="#1d4f8a" stroke-width="0.9"/>
<line x1="440.47" y1="204.78" x2="443.67" y2="204.78" stroke="#1d4f8a" stroke-width="0.9"/>
<line x1="451.70" y1="202.85" x2="451.70" y2="210.58" stroke="#1d4f8a" stroke-width="0.9"/>
<line x1="450.10" y1="202.85" x2="453.30" y2="202.85" stroke="#1d4f8a" stroke-width="0.9"/>
<line x1="450.10" y1="210.58" x2="453.30" y2="210.58" stroke="#1d4f8a" stroke-width="0.9"/>
<line x1="461.34" y1="205.75" x2="461.34" y2="215.41" stroke="#1d4f8a" stroke-width="0.9"/>
<line x1="459.74" y1="205.75" x2="462.94" y2="205.75" stroke="#1d4f8a" stroke-width="0.9"/>
<line x1="459.74" y1="215.41" x2="462.94" y2="215.41" stroke="#1d4f8a" stroke-width="0.9"/>
<line x1="470.98" y1="238.12" x2="470.98" y2="240.05" stroke="#1d4f8a" stroke-width="0.9"/>
<line x1="469.38" y1="238.12" x2="472.58" y2="238.12" stroke="#1d4f8a" stroke-width="0.9"/>
<line x1="469.38" y1="240.05" x2="472.58" y2="240.05" stroke="#1d4f8a" stroke-width="0.9"/>
<line x1="480.61" y1="238.60" x2="480.61" y2="240.54" stroke="#1d4f8a" stroke-width="0.9"/>
<line x1="479.01" y1="238.60" x2="482.21" y2="238.60" stroke="#1d4f8a" stroke-width="0.9"/>
<line x1="479.01" y1="240.54" x2="482.21" y2="240.54" stroke="#1d4f8a" stroke-width="0.9"/>
<line x1="490.25" y1="238.60" x2="490.25" y2="240.54" stroke="#1d4f8a" stroke-width="0.9"/>
<line x1="488.65" y1="238.60" x2="491.85" y2="238.60" stroke="#1d4f8a" stroke-width="0.9"/>
<line x1="488.65" y1="240.54" x2="491.85" y2="240.54" stroke="#1d4f8a" stroke-width="0.9"/>
<polyline points="384.25,216.86 393.89,217.83 403.52,217.83 413.16,237.64 422.80,237.64 432.43,237.64 442.07,197.06 451.70,206.72 461.34,210.58 470.98,239.09 480.61,239.57 490.25,239.57" fill="none" stroke="#1d4f8a" stroke-width="1.5"/>
<rect x="383.15" y="215.76" width="2.20" height="2.20" fill="#1d4f8a"/>
<rect x="392.79" y="216.73" width="2.20" height="2.20" fill="#1d4f8a"/>
<rect x="402.42" y="216.73" width="2.20" height="2.20" fill="#1d4f8a"/>
<rect x="412.06" y="236.54" width="2.20" height="2.20" fill="#1d4f8a"/>
<rect x="421.70" y="236.54" width="2.20" height="2.20" fill="#1d4f8a"/>
<rect x="431.33" y="236.54" width="2.20" height="2.20" fill="#1d4f8a"/>
<rect x="440.97" y="195.96" width="2.20" height="2.20" fill="#1d4f8a"/>
<rect x="450.60" y="205.62" width="2.20" height="2.20" fill="#1d4f8a"/>
<rect x="460.24" y="209.48" width="2.20" height="2.20" fill="#1d4f8a"/>
<rect x="469.88" y="237.99" width="2.20" height="2.20" fill="#1d4f8a"/>
<rect x="479.51" y="238.47" width="2.20" height="2.20" fill="#1d4f8a"/>
<rect x="489.15" y="238.47" width="2.20" height="2.20" fill="#1d4f8a"/>
<text x="403.50" y="168.30" font-size="6.6" text-anchor="middle" fill="#2a2a2a" textLength="33" lengthAdjust="spacingAndGlyphs">Oligomycin</text>
<text x="431.00" y="168.30" font-size="6.6" text-anchor="middle" fill="#2a2a2a" textLength="16" lengthAdjust="spacingAndGlyphs">FCCP</text>
<text x="462.30" y="161.80" font-size="6.6" text-anchor="middle" fill="#2a2a2a" textLength="34.5" lengthAdjust="spacingAndGlyphs">Rotenone &amp;</text>
<text x="462.30" y="170.30" font-size="6.6" text-anchor="middle" fill="#2a2a2a" textLength="34" lengthAdjust="spacingAndGlyphs">antimycin A</text>
<line x1="404.50" y1="172.50" x2="404.50" y2="192.00" stroke="#111" stroke-width="1.2"/>
<path d="M404.5 197 L402.1 191 L406.9 191 Z" fill="#111"/>
<line x1="432.00" y1="172.50" x2="432.00" y2="192.00" stroke="#111" stroke-width="1.2"/>
<path d="M432 197 L429.6 191 L434.4 191 Z" fill="#111"/>
<line x1="462.00" y1="172.50" x2="462.00" y2="192.00" stroke="#111" stroke-width="1.2"/>
<path d="M462 197 L459.6 191 L464.4 191 Z" fill="#111"/>
<line x1="474.30" y1="182.90" x2="483.00" y2="182.90" stroke="#1d4f8a" stroke-width="1.1"/>
<rect x="477.60" y="181.90" width="2.00" height="2.00" fill="#1d4f8a"/>
<text x="486.30" y="185.60" font-size="8.6" text-anchor="start" fill="#2a2a2a" stroke="#2a2a2a" stroke-width="0.2">Ctrl</text>
<line x1="474.30" y1="193.50" x2="483.00" y2="193.50" stroke="#3aa63a" stroke-width="1.1"/>
<rect x="477.60" y="192.50" width="2.00" height="2.00" fill="#3aa63a"/>
<text x="486.30" y="196.20" font-size="8.6" text-anchor="start" fill="#2a2a2a" stroke="#2a2a2a" stroke-width="0.2">Ctrl+Dec</text>
<line x1="474.30" y1="204.30" x2="483.00" y2="204.30" stroke="#c8173e" stroke-width="1.1"/>
<rect x="477.60" y="203.30" width="2.00" height="2.00" fill="#c8173e"/>
<text x="486.30" y="207.00" font-size="8.6" text-anchor="start" fill="#2a2a2a" stroke="#2a2a2a" stroke-width="0.2">ITP</text>
<line x1="474.30" y1="214.90" x2="483.00" y2="214.90" stroke="#55235f" stroke-width="1.1"/>
<rect x="477.60" y="213.90" width="2.00" height="2.00" fill="#55235f"/>
<text x="486.30" y="217.60" font-size="8.6" text-anchor="start" fill="#2a2a2a" stroke="#2a2a2a" stroke-width="0.2">ITP+Dec</text>
<text x="0.30" y="297.00" font-size="11.5" text-anchor="start" fill="#111" font-weight="bold">G</text>
<rect x="42.50" y="331.85" width="14.00" height="42.65" fill="#7184b9"/>
<rect x="64.00" y="330.44" width="14.00" height="44.06" fill="#b9dca1"/>
<rect x="86.00" y="354.67" width="14.00" height="19.83" fill="#f2a593"/>
<rect x="107.30" y="343.13" width="14.00" height="31.37" fill="#9f78ab"/>
<line x1="35.00" y1="302.00" x2="35.00" y2="374.50" stroke="#222" stroke-width="1.3"/>
<line x1="32.00" y1="374.50" x2="35.00" y2="374.50" stroke="#222" stroke-width="1.0"/>
<text x="28.40" y="377.56" font-size="8.5" text-anchor="end" fill="#2a2a2a" stroke="#2a2a2a" stroke-width="0.2" textLength="4.25" lengthAdjust="spacingAndGlyphs">0</text>
<line x1="32.00" y1="356.88" x2="35.00" y2="356.88" stroke="#222" stroke-width="1.0"/>
<text x="28.40" y="359.94" font-size="8.5" text-anchor="end" fill="#2a2a2a" stroke="#2a2a2a" stroke-width="0.2" textLength="8.50" lengthAdjust="spacingAndGlyphs">10</text>
<line x1="32.00" y1="339.25" x2="35.00" y2="339.25" stroke="#222" stroke-width="1.0"/>
<text x="28.40" y="342.31" font-size="8.5" text-anchor="end" fill="#2a2a2a" stroke="#2a2a2a" stroke-width="0.2" textLength="8.50" lengthAdjust="spacingAndGlyphs">20</text>
<line x1="32.00" y1="321.62" x2="35.00" y2="321.62" stroke="#222" stroke-width="1.0"/>
<text x="28.40" y="324.69" font-size="8.5" text-anchor="end" fill="#2a2a2a" stroke="#2a2a2a" stroke-width="0.2" textLength="8.50" lengthAdjust="spacingAndGlyphs">30</text>
<line x1="32.00" y1="304.00" x2="35.00" y2="304.00" stroke="#222" stroke-width="1.0"/>
<text x="28.40" y="307.06" font-size="8.5" text-anchor="end" fill="#2a2a2a" stroke="#2a2a2a" stroke-width="0.2" textLength="8.50" lengthAdjust="spacingAndGlyphs">40</text>
<line x1="35.00" y1="374.50" x2="127.00" y2="374.50" stroke="#222" stroke-width="1.3"/>
<line x1="49.50" y1="374.50" x2="49.50" y2="377.50" stroke="#222" stroke-width="1.0"/>
<circle cx="49.50" cy="313.69" r="1.7" fill="#1d4f8a"/>
<circle cx="49.50" cy="320.57" r="1.7" fill="#1d4f8a"/>
<circle cx="46.30" cy="329.56" r="1.7" fill="#1d4f8a"/>
<circle cx="52.40" cy="327.79" r="1.7" fill="#1d4f8a"/>
<circle cx="49.50" cy="339.07" r="1.7" fill="#1d4f8a"/>
<circle cx="49.50" cy="356.35" r="1.7" fill="#1d4f8a"/>
<line x1="46.00" y1="331.85" x2="53.00" y2="331.85" stroke="#1d4f8a" stroke-width="1.0"/>
<line x1="49.50" y1="316.87" x2="49.50" y2="346.83" stroke="#1d4f8a" stroke-width="1.0"/>
<line x1="46.00" y1="316.87" x2="53.00" y2="316.87" stroke="#1d4f8a" stroke-width="1.0"/>
<line x1="46.00" y1="346.83" x2="53.00" y2="346.83" stroke="#1d4f8a" stroke-width="1.0"/>
<line x1="71.00" y1="374.50" x2="71.00" y2="377.50" stroke="#222" stroke-width="1.0"/>
<rect x="69.30" y="313.05" width="3.40" height="3.40" fill="#3aa63a"/>
<rect x="69.30" y="319.22" width="3.40" height="3.40" fill="#3aa63a"/>
<rect x="66.00" y="326.98" width="3.40" height="3.40" fill="#3aa63a"/>
<rect x="72.30" y="326.98" width="3.40" height="3.40" fill="#3aa63a"/>
<rect x="69.30" y="334.20" width="3.40" height="3.40" fill="#3aa63a"/>
<rect x="69.30" y="347.24" width="3.40" height="3.40" fill="#3aa63a"/>
<line x1="67.50" y1="330.44" x2="74.50" y2="330.44" stroke="#3aa63a" stroke-width="1.0"/>
<line x1="71.00" y1="318.10" x2="71.00" y2="342.77" stroke="#3aa63a" stroke-width="1.0"/>
<line x1="67.50" y1="318.10" x2="74.50" y2="318.10" stroke="#3aa63a" stroke-width="1.0"/>
<line x1="67.50" y1="342.77" x2="74.50" y2="342.77" stroke="#3aa63a" stroke-width="1.0"/>
<line x1="93.00" y1="374.50" x2="93.00" y2="377.50" stroke="#222" stroke-width="1.0"/>
<path d="M93.00 340.73L94.70 343.96L91.30 343.96Z" fill="#c8173e"/>
<path d="M93.00 348.13L94.70 351.36L91.30 351.36Z" fill="#c8173e"/>
<path d="M90.00 355.18L91.70 358.41L88.30 358.41Z" fill="#c8173e"/>
<path d="M96.00 354.65L97.70 357.88L94.30 357.88Z" fill="#c8173e"/>
<path d="M90.00 359.06L91.70 362.29L88.30 362.29Z" fill="#c8173e"/>
<path d="M96.00 358.71L97.70 361.94L94.30 361.94Z" fill="#c8173e"/>
<line x1="89.50" y1="354.67" x2="96.50" y2="354.67" stroke="#c8173e" stroke-width="1.0"/>
<line x1="93.00" y1="347.09" x2="93.00" y2="362.25" stroke="#c8173e" stroke-width="1.0"/>
<line x1="89.50" y1="347.09" x2="96.50" y2="347.09" stroke="#c8173e" stroke-width="1.0"/>
<line x1="89.50" y1="362.25" x2="96.50" y2="362.25" stroke="#c8173e" stroke-width="1.0"/>
<line x1="114.30" y1="374.50" x2="114.30" y2="377.50" stroke="#222" stroke-width="1.0"/>
<path d="M114.30 333.19L116.00 329.96L112.60 329.96Z" fill="#55235f"/>
<path d="M117.80 332.48L119.50 329.25L116.10 329.25Z" fill="#55235f"/>
<path d="M111.60 340.94L113.30 337.71L109.90 337.71Z" fill="#55235f"/>
<path d="M116.80 340.94L118.50 337.71L115.10 337.71Z" fill="#55235f"/>
<path d="M114.30 360.51L116.00 357.28L112.60 357.28Z" fill="#55235f"/>
<line x1="110.80" y1="343.13" x2="117.80" y2="343.13" stroke="#55235f" stroke-width="1.0"/>
<line x1="114.30" y1="333.08" x2="114.30" y2="353.17" stroke="#55235f" stroke-width="1.0"/>
<line x1="110.80" y1="333.08" x2="117.80" y2="333.08" stroke="#55235f" stroke-width="1.0"/>
<line x1="110.80" y1="353.17" x2="117.80" y2="353.17" stroke="#55235f" stroke-width="1.0"/>
<rect x="164.00" y="340.38" width="14.00" height="34.12" fill="#7184b9"/>
<rect x="185.50" y="339.53" width="14.00" height="34.97" fill="#b9dca1"/>
<rect x="207.00" y="360.40" width="14.00" height="14.10" fill="#f2a593"/>
<rect x="229.00" y="344.04" width="14.00" height="30.46" fill="#9f78ab"/>
<line x1="157.00" y1="302.00" x2="157.00" y2="374.50" stroke="#222" stroke-width="1.3"/>
<line x1="154.00" y1="374.50" x2="157.00" y2="374.50" stroke="#222" stroke-width="1.0"/>
<text x="150.40" y="377.56" font-size="8.5" text-anchor="end" fill="#2a2a2a" stroke="#2a2a2a" stroke-width="0.2" textLength="4.25" lengthAdjust="spacingAndGlyphs">0</text>
<line x1="154.00" y1="360.40" x2="157.00" y2="360.40" stroke="#222" stroke-width="1.0"/>
<text x="150.40" y="363.46" font-size="8.5" text-anchor="end" fill="#2a2a2a" stroke="#2a2a2a" stroke-width="0.2" textLength="4.25" lengthAdjust="spacingAndGlyphs">5</text>
<line x1="154.00" y1="346.30" x2="157.00" y2="346.30" stroke="#222" stroke-width="1.0"/>
<text x="150.40" y="349.36" font-size="8.5" text-anchor="end" fill="#2a2a2a" stroke="#2a2a2a" stroke-width="0.2" textLength="8.50" lengthAdjust="spacingAndGlyphs">10</text>
<line x1="154.00" y1="332.20" x2="157.00" y2="332.20" stroke="#222" stroke-width="1.0"/>
<text x="150.40" y="335.26" font-size="8.5" text-anchor="end" fill="#2a2a2a" stroke="#2a2a2a" stroke-width="0.2" textLength="8.50" lengthAdjust="spacingAndGlyphs">15</text>
<line x1="154.00" y1="318.10" x2="157.00" y2="318.10" stroke="#222" stroke-width="1.0"/>
<text x="150.40" y="321.16" font-size="8.5" text-anchor="end" fill="#2a2a2a" stroke="#2a2a2a" stroke-width="0.2" textLength="8.50" lengthAdjust="spacingAndGlyphs">20</text>
<line x1="154.00" y1="304.00" x2="157.00" y2="304.00" stroke="#222" stroke-width="1.0"/>
<text x="150.40" y="307.06" font-size="8.5" text-anchor="end" fill="#2a2a2a" stroke="#2a2a2a" stroke-width="0.2" textLength="8.50" lengthAdjust="spacingAndGlyphs">25</text>
<line x1="157.00" y1="374.50" x2="249.00" y2="374.50" stroke="#222" stroke-width="1.3"/>
<line x1="171.00" y1="374.50" x2="171.00" y2="377.50" stroke="#222" stroke-width="1.0"/>
<circle cx="171.00" cy="322.33" r="1.7" fill="#1d4f8a"/>
<circle cx="171.00" cy="328.82" r="1.7" fill="#1d4f8a"/>
<circle cx="171.00" cy="333.05" r="1.7" fill="#1d4f8a"/>
<circle cx="167.50" cy="346.30" r="1.7" fill="#1d4f8a"/>
<circle cx="174.00" cy="346.30" r="1.7" fill="#1d4f8a"/>
<circle cx="171.00" cy="359.84" r="1.7" fill="#1d4f8a"/>
<line x1="167.50" y1="340.38" x2="174.50" y2="340.38" stroke="#1d4f8a" stroke-width="1.0"/>
<line x1="171.00" y1="326.28" x2="171.00" y2="354.48" stroke="#1d4f8a" stroke-width="1.0"/>
<line x1="167.50" y1="326.28" x2="174.50" y2="326.28" stroke="#1d4f8a" stroke-width="1.0"/>
<line x1="167.50" y1="354.48" x2="174.50" y2="354.48" stroke="#1d4f8a" stroke-width="1.0"/>
<line x1="192.50" y1="374.50" x2="192.50" y2="377.50" stroke="#222" stroke-width="1.0"/>
<rect x="190.80" y="317.53" width="3.40" height="3.40" fill="#3aa63a"/>
<rect x="187.30" y="331.63" width="3.40" height="3.40" fill="#3aa63a"/>
<rect x="193.80" y="332.76" width="3.40" height="3.40" fill="#3aa63a"/>
<rect x="190.80" y="339.81" width="3.40" height="3.40" fill="#3aa63a"/>
<rect x="190.80" y="344.32" width="3.40" height="3.40" fill="#3aa63a"/>
<rect x="190.80" y="355.88" width="3.40" height="3.40" fill="#3aa63a"/>
<line x1="189.00" y1="339.53" x2="196.00" y2="339.53" stroke="#3aa63a" stroke-width="1.0"/>
<line x1="192.50" y1="326.84" x2="192.50" y2="352.22" stroke="#3aa63a" stroke-width="1.0"/>
<line x1="189.00" y1="326.84" x2="196.00" y2="326.84" stroke="#3aa63a" stroke-width="1.0"/>
<line x1="189.00" y1="352.22" x2="196.00" y2="352.22" stroke="#3aa63a" stroke-width="1.0"/>
<line x1="214.00" y1="374.50" x2="214.00" y2="377.50" stroke="#222" stroke-width="1.0"/>
<path d="M211.50 350.35L213.20 353.58L209.80 353.58Z" fill="#c8173e"/>
<path d="M217.00 349.79L218.70 353.02L215.30 353.02Z" fill="#c8173e"/>
<path d="M211.50 357.97L213.20 361.20L209.80 361.20Z" fill="#c8173e"/>
<path d="M217.00 356.84L218.70 360.07L215.30 360.07Z" fill="#c8173e"/>
<path d="M211.50 364.17L213.20 367.40L209.80 367.40Z" fill="#c8173e"/>
<path d="M217.00 364.17L218.70 367.40L215.30 367.40Z" fill="#c8173e"/>
<line x1="210.50" y1="360.40" x2="217.50" y2="360.40" stroke="#c8173e" stroke-width="1.0"/>
<line x1="214.00" y1="353.49" x2="214.00" y2="367.31" stroke="#c8173e" stroke-width="1.0"/>
<line x1="210.50" y1="353.49" x2="217.50" y2="353.49" stroke="#c8173e" stroke-width="1.0"/>
<line x1="210.50" y1="367.31" x2="217.50" y2="367.31" stroke="#c8173e" stroke-width="1.0"/>
<line x1="236.00" y1="374.50" x2="236.00" y2="377.50" stroke="#222" stroke-width="1.0"/>
<path d="M236.00 320.82L237.70 317.59L234.30 317.59Z" fill="#55235f"/>
<path d="M233.00 342.81L234.70 339.58L231.30 339.58Z" fill="#55235f"/>
<path d="M239.00 343.66L240.70 340.43L237.30 340.43Z" fill="#55235f"/>
<path d="M236.00 347.04L237.70 343.81L234.30 343.81Z" fill="#55235f"/>
<path d="M233.00 356.91L234.70 353.68L231.30 353.68Z" fill="#55235f"/>
<path d="M238.50 356.91L240.20 353.68L236.80 353.68Z" fill="#55235f"/>
<line x1="232.50" y1="344.04" x2="239.50" y2="344.04" stroke="#55235f" stroke-width="1.0"/>
<line x1="236.00" y1="331.07" x2="236.00" y2="357.02" stroke="#55235f" stroke-width="1.0"/>
<line x1="232.50" y1="331.07" x2="239.50" y2="331.07" stroke="#55235f" stroke-width="1.0"/>
<line x1="232.50" y1="357.02" x2="239.50" y2="357.02" stroke="#55235f" stroke-width="1.0"/>
<rect x="286.00" y="330.14" width="14.00" height="44.36" fill="#7184b9"/>
<rect x="308.00" y="327.94" width="14.00" height="46.56" fill="#b9dca1"/>
<rect x="329.30" y="353.88" width="14.00" height="20.62" fill="#f2a593"/>
<rect x="351.20" y="333.96" width="14.00" height="40.54" fill="#9f78ab"/>
<line x1="278.75" y1="303.00" x2="278.75" y2="374.50" stroke="#222" stroke-width="1.3"/>
<line x1="275.75" y1="374.50" x2="278.75" y2="374.50" stroke="#222" stroke-width="1.0"/>
<text x="272.15" y="377.56" font-size="8.5" text-anchor="end" fill="#2a2a2a" stroke="#2a2a2a" stroke-width="0.2" textLength="4.25" lengthAdjust="spacingAndGlyphs">0</text>
<line x1="275.75" y1="351.33" x2="278.75" y2="351.33" stroke="#222" stroke-width="1.0"/>
<text x="272.15" y="354.39" font-size="8.5" text-anchor="end" fill="#2a2a2a" stroke="#2a2a2a" stroke-width="0.2" textLength="8.50" lengthAdjust="spacingAndGlyphs">20</text>
<line x1="275.75" y1="328.17" x2="278.75" y2="328.17" stroke="#222" stroke-width="1.0"/>
<text x="272.15" y="331.23" font-size="8.5" text-anchor="end" fill="#2a2a2a" stroke="#2a2a2a" stroke-width="0.2" textLength="8.50" lengthAdjust="spacingAndGlyphs">40</text>
<line x1="275.75" y1="305.00" x2="278.75" y2="305.00" stroke="#222" stroke-width="1.0"/>
<text x="272.15" y="308.06" font-size="8.5" text-anchor="end" fill="#2a2a2a" stroke="#2a2a2a" stroke-width="0.2" textLength="8.50" lengthAdjust="spacingAndGlyphs">60</text>
<line x1="278.75" y1="374.50" x2="372.50" y2="374.50" stroke="#222" stroke-width="1.3"/>
<line x1="293.00" y1="374.50" x2="293.00" y2="377.50" stroke="#222" stroke-width="1.0"/>
<circle cx="289.20" cy="315.43" r="1.7" fill="#1d4f8a"/>
<circle cx="296.50" cy="314.85" r="1.7" fill="#1d4f8a"/>
<circle cx="293.00" cy="321.91" r="1.7" fill="#1d4f8a"/>
<circle cx="293.00" cy="327.01" r="1.7" fill="#1d4f8a"/>
<circle cx="293.00" cy="332.22" r="1.7" fill="#1d4f8a"/>
<circle cx="293.00" cy="336.62" r="1.7" fill="#1d4f8a"/>
<circle cx="293.00" cy="346.00" r="1.7" fill="#1d4f8a"/>
<line x1="289.50" y1="330.14" x2="296.50" y2="330.14" stroke="#1d4f8a" stroke-width="1.0"/>
<line x1="293.00" y1="318.78" x2="293.00" y2="341.49" stroke="#1d4f8a" stroke-width="1.0"/>
<line x1="289.50" y1="318.78" x2="296.50" y2="318.78" stroke="#1d4f8a" stroke-width="1.0"/>
<line x1="289.50" y1="341.49" x2="296.50" y2="341.49" stroke="#1d4f8a" stroke-width="1.0"/>
<line x1="315.00" y1="374.50" x2="315.00" y2="377.50" stroke="#222" stroke-width="1.0"/>
<rect x="313.30" y="310.71" width="3.40" height="3.40" fill="#3aa63a"/>
<rect x="313.30" y="316.04" width="3.40" height="3.40" fill="#3aa63a"/>
<rect x="309.50" y="327.05" width="3.40" height="3.40" fill="#3aa63a"/>
<rect x="315.90" y="327.05" width="3.40" height="3.40" fill="#3aa63a"/>
<rect x="315.90" y="330.52" width="3.40" height="3.40" fill="#3aa63a"/>
<rect x="313.30" y="342.68" width="3.40" height="3.40" fill="#3aa63a"/>
<line x1="311.50" y1="327.94" x2="318.50" y2="327.94" stroke="#3aa63a" stroke-width="1.0"/>
<line x1="315.00" y1="316.58" x2="315.00" y2="339.29" stroke="#3aa63a" stroke-width="1.0"/>
<line x1="311.50" y1="316.58" x2="318.50" y2="316.58" stroke="#3aa63a" stroke-width="1.0"/>
<line x1="311.50" y1="339.29" x2="318.50" y2="339.29" stroke="#3aa63a" stroke-width="1.0"/>
<line x1="336.30" y1="374.50" x2="336.30" y2="377.50" stroke="#222" stroke-width="1.0"/>
<path d="M333.80 339.85L335.50 343.08L332.10 343.08Z" fill="#c8173e"/>
<path d="M339.30 339.04L341.00 342.27L337.60 342.27Z" fill="#c8173e"/>
<path d="M333.30 352.01L335.00 355.24L331.60 355.24Z" fill="#c8173e"/>
<path d="M339.30 352.01L341.00 355.24L337.60 355.24Z" fill="#c8173e"/>
<path d="M333.30 364.06L335.00 367.29L331.60 367.29Z" fill="#c8173e"/>
<path d="M339.30 361.05L341.00 364.28L337.60 364.28Z" fill="#c8173e"/>
<line x1="332.80" y1="353.88" x2="339.80" y2="353.88" stroke="#c8173e" stroke-width="1.0"/>
<line x1="336.30" y1="344.27" x2="336.30" y2="363.50" stroke="#c8173e" stroke-width="1.0"/>
<line x1="332.80" y1="344.27" x2="339.80" y2="344.27" stroke="#c8173e" stroke-width="1.0"/>
<line x1="332.80" y1="363.50" x2="339.80" y2="363.50" stroke="#c8173e" stroke-width="1.0"/>
<line x1="358.20" y1="374.50" x2="358.20" y2="377.50" stroke="#222" stroke-width="1.0"/>
<path d="M358.20 318.45L359.90 315.22L356.50 315.22Z" fill="#55235f"/>
<path d="M354.40 335.83L356.10 332.60L352.70 332.60Z" fill="#55235f"/>
<path d="M358.20 335.83L359.90 332.60L356.50 332.60Z" fill="#55235f"/>
<path d="M361.70 335.83L363.40 332.60L360.00 332.60Z" fill="#55235f"/>
<path d="M358.20 345.33L359.90 342.10L356.50 342.10Z" fill="#55235f"/>
<line x1="354.70" y1="333.96" x2="361.70" y2="333.96" stroke="#55235f" stroke-width="1.0"/>
<line x1="358.20" y1="324.23" x2="358.20" y2="343.69" stroke="#55235f" stroke-width="1.0"/>
<line x1="354.70" y1="324.23" x2="361.70" y2="324.23" stroke="#55235f" stroke-width="1.0"/>
<line x1="354.70" y1="343.69" x2="361.70" y2="343.69" stroke="#55235f" stroke-width="1.0"/>
<line x1="46.00" y1="303.75" x2="89.00" y2="303.75" stroke="#333" stroke-width="1.0"/>
<text x="69.70" y="301.45" font-size="10.5" text-anchor="middle" fill="#222" stroke="#2a2a2a" stroke-width="0.2">**</text>
<line x1="90.00" y1="315.60" x2="115.60" y2="315.60" stroke="#333" stroke-width="1.0"/>
<text x="102.70" y="316.70" font-size="10.5" text-anchor="middle" fill="#222" stroke="#2a2a2a" stroke-width="0.2">*</text>
<line x1="170.00" y1="304.00" x2="212.50" y2="304.00" stroke="#333" stroke-width="1.0"/>
<text x="191.00" y="303.20" font-size="10.5" text-anchor="middle" fill="#222" stroke="#2a2a2a" stroke-width="0.2">*</text>
<line x1="214.00" y1="315.50" x2="239.00" y2="315.50" stroke="#333" stroke-width="1.0"/>
<text x="225.00" y="316.20" font-size="10.5" text-anchor="middle" fill="#222" stroke="#2a2a2a" stroke-width="0.2">*</text>
<line x1="289.00" y1="304.00" x2="332.50" y2="304.00" stroke="#333" stroke-width="1.0"/>
<text x="312.00" y="303.70" font-size="10.5" text-anchor="middle" fill="#222" stroke="#2a2a2a" stroke-width="0.2">**</text>
<line x1="333.00" y1="312.50" x2="358.00" y2="312.50" stroke="#333" stroke-width="1.0"/>
<text x="346.00" y="315.70" font-size="10.5" text-anchor="middle" fill="#222" stroke="#2a2a2a" stroke-width="0.2">**</text>
<text x="13.50" y="337.80" font-size="9.4" text-anchor="middle" fill="#2a2a2a" stroke="#2a2a2a" stroke-width="0.2" textLength="57.8" lengthAdjust="spacingAndGlyphs" transform="rotate(-90 13.50 337.80)">Basal respiration</text>
<text x="136.25" y="336.20" font-size="9.4" text-anchor="middle" fill="#2a2a2a" stroke="#2a2a2a" stroke-width="0.2" textLength="54.6" lengthAdjust="spacingAndGlyphs" transform="rotate(-90 136.25 336.20)">ATP production</text>
<text x="258.10" y="336.35" font-size="9.4" text-anchor="middle" fill="#2a2a2a" stroke="#2a2a2a" stroke-width="0.2" textLength="66" lengthAdjust="spacingAndGlyphs" transform="rotate(-90 258.10 336.35)">Maximal respiration</text>
<circle cx="373.80" cy="319.60" r="1.6" fill="#1d4f8a"/>
<text x="378.60" y="322.10" font-size="8.5" text-anchor="start" fill="#2a2a2a" stroke="#2a2a2a" stroke-width="0.2">Ctrl</text>
<rect x="372.20" y="329.30" width="3.20" height="3.20" fill="#3aa63a"/>
<text x="378.60" y="333.40" font-size="8.5" text-anchor="start" fill="#2a2a2a" stroke="#2a2a2a" stroke-width="0.2">Ctrl+Dec</text>
<path d="M373.80 341.74L375.40 344.78L372.20 344.78Z" fill="#c8173e"/>
<text x="378.60" y="346.00" font-size="8.5" text-anchor="start" fill="#2a2a2a" stroke="#2a2a2a" stroke-width="0.2">ITP</text>
<path d="M373.80 356.66L375.40 353.62L372.20 353.62Z" fill="#55235f"/>
<text x="378.60" y="357.40" font-size="8.5" text-anchor="start" fill="#2a2a2a" stroke="#2a2a2a" stroke-width="0.2">ITP+Dec</text>
<text x="416.30" y="297.00" font-size="11.5" text-anchor="start" fill="#111" font-weight="bold">H</text>
<line x1="471.00" y1="317.00" x2="471.00" y2="374.20" stroke="#222" stroke-width="1.3"/>
<line x1="468.00" y1="374.20" x2="471.00" y2="374.20" stroke="#222" stroke-width="1.0"/>
<text x="464.40" y="377.26" font-size="8.5" text-anchor="end" fill="#2a2a2a" stroke="#2a2a2a" stroke-width="0.2" textLength="4.25" lengthAdjust="spacingAndGlyphs">0</text>
<line x1="468.00" y1="363.16" x2="471.00" y2="363.16" stroke="#222" stroke-width="1.0"/>
<text x="464.40" y="366.22" font-size="8.5" text-anchor="end" fill="#2a2a2a" stroke="#2a2a2a" stroke-width="0.2" textLength="21.25" lengthAdjust="spacingAndGlyphs">10000</text>
<line x1="468.00" y1="352.12" x2="471.00" y2="352.12" stroke="#222" stroke-width="1.0"/>
<text x="464.40" y="355.18" font-size="8.5" text-anchor="end" fill="#2a2a2a" stroke="#2a2a2a" stroke-width="0.2" textLength="21.25" lengthAdjust="spacingAndGlyphs">20000</text>
<line x1="468.00" y1="341.08" x2="471.00" y2="341.08" stroke="#222" stroke-width="1.0"/>
<text x="464.40" y="344.14" font-size="8.5" text-anchor="end" fill="#2a2a2a" stroke="#2a2a2a" stroke-width="0.2" textLength="21.25" lengthAdjust="spacingAndGlyphs">30000</text>
<line x1="468.00" y1="330.04" x2="471.00" y2="330.04" stroke="#222" stroke-width="1.0"/>
<text x="464.40" y="333.10" font-size="8.5" text-anchor="end" fill="#2a2a2a" stroke="#2a2a2a" stroke-width="0.2" textLength="21.25" lengthAdjust="spacingAndGlyphs">40000</text>
<line x1="468.00" y1="319.00" x2="471.00" y2="319.00" stroke="#222" stroke-width="1.0"/>
<text x="464.40" y="322.06" font-size="8.5" text-anchor="end" fill="#2a2a2a" stroke="#2a2a2a" stroke-width="0.2" textLength="21.25" lengthAdjust="spacingAndGlyphs">50000</text>
<line x1="471.00" y1="374.20" x2="508.50" y2="374.20" stroke="#222" stroke-width="1.1"/>
<line x1="478.00" y1="374.20" x2="478.00" y2="376.70" stroke="#222" stroke-width="0.9"/>
<line x1="502.00" y1="374.20" x2="502.00" y2="376.70" stroke="#222" stroke-width="0.9"/>
<line x1="478.00" y1="344.94" x2="502.00" y2="329.49" stroke="#1a1a1a" stroke-width="1.05"/>
<line x1="478.00" y1="353.22" x2="502.00" y2="352.67" stroke="#1a1a1a" stroke-width="1.05"/>
<line x1="478.00" y1="362.06" x2="502.00" y2="335.56" stroke="#1a1a1a" stroke-width="1.05"/>
<line x1="478.00" y1="364.82" x2="502.00" y2="354.88" stroke="#1a1a1a" stroke-width="1.05"/>
<line x1="478.00" y1="365.37" x2="502.00" y2="356.54" stroke="#1a1a1a" stroke-width="1.05"/>
<line x1="478.00" y1="365.92" x2="502.00" y2="357.64" stroke="#1a1a1a" stroke-width="1.05"/>
<line x1="478.00" y1="366.47" x2="502.00" y2="365.92" stroke="#1a1a1a" stroke-width="1.05"/>
<circle cx="478.00" cy="344.94" r="1.6" fill="#c8173e"/>
<circle cx="502.00" cy="329.49" r="1.6" fill="#55235f"/>
<circle cx="478.00" cy="353.22" r="1.6" fill="#c8173e"/>
<circle cx="502.00" cy="352.67" r="1.6" fill="#55235f"/>
<circle cx="478.00" cy="362.06" r="1.6" fill="#c8173e"/>
<circle cx="502.00" cy="335.56" r="1.6" fill="#55235f"/>
<circle cx="478.00" cy="364.82" r="1.6" fill="#c8173e"/>
<circle cx="502.00" cy="354.88" r="1.6" fill="#55235f"/>
<circle cx="478.00" cy="365.37" r="1.6" fill="#c8173e"/>
<circle cx="502.00" cy="356.54" r="1.6" fill="#55235f"/>
<circle cx="478.00" cy="365.92" r="1.6" fill="#c8173e"/>
<circle cx="502.00" cy="357.64" r="1.6" fill="#55235f"/>
<circle cx="478.00" cy="366.47" r="1.6" fill="#c8173e"/>
<circle cx="502.00" cy="365.92" r="1.6" fill="#55235f"/>
<line x1="479.00" y1="314.70" x2="500.40" y2="314.70" stroke="#333" stroke-width="1.0"/>
<text x="490.85" y="312.10" font-size="8.1" text-anchor="middle" fill="#222" stroke="#2a2a2a" stroke-width="0.2" textLength="7.4" lengthAdjust="spacingAndGlyphs">ns</text>
<text x="477.80" y="385.50" font-size="7.8" text-anchor="middle" fill="#2a2a2a" stroke="#2a2a2a" stroke-width="0.2">ITP</text>
<text x="502.50" y="385.50" font-size="7.8" text-anchor="middle" fill="#2a2a2a" stroke="#2a2a2a" stroke-width="0.2">ITP+Dec</text>
<text x="437.00" y="346.50" font-size="9.4" text-anchor="middle" fill="#2a2a2a" stroke="#2a2a2a" stroke-width="0.2" textLength="67.7" lengthAdjust="spacingAndGlyphs" transform="rotate(-90 437.00 346.50)">Luminescence (RLU)</text>
<text x="3.30" y="407.50" font-size="11.5" text-anchor="start" fill="#111" font-weight="bold">I</text>
<line x1="35.00" y1="406.00" x2="35.00" y2="458.00" stroke="#222" stroke-width="1.3"/>
<path d="M35 402 L32.6 408 L37.4 408 Z" fill="#222"/>
<line x1="35.00" y1="478.00" x2="35.00" y2="541.00" stroke="#222" stroke-width="1.3"/>
<path d="M35 474 L32.6 480 L37.4 480 Z" fill="#222"/>
<line x1="35.00" y1="541.00" x2="186.00" y2="541.00" stroke="#222" stroke-width="1.3"/>
<path d="M190 541 L184 538.6 L184 543.4 Z" fill="#222"/>
<text x="29.50" y="431.40" font-size="9.6" text-anchor="middle" fill="#2a2a2a" stroke="#2a2a2a" stroke-width="0.2" textLength="39.6" lengthAdjust="spacingAndGlyphs" transform="rotate(-90 29.50 431.40)">Count (Ctrl)</text>
<text x="29.50" y="507.00" font-size="9.6" text-anchor="middle" fill="#2a2a2a" stroke="#2a2a2a" stroke-width="0.2" textLength="38.5" lengthAdjust="spacingAndGlyphs" transform="rotate(-90 29.50 507.00)">Count (ITP)</text>
<rect x="51.5" y="404.5" width="54.0" height="51.0" fill="#fff" stroke="#222" stroke-width="0.9"/>
<path d="M74.2 455.5 L74.4 455.5 L74.7 455.5 L74.9 455.5 L75.2 455.5 L75.4 455.5 L75.7 455.4 L75.9 455.4 L76.2 455.3 L76.4 455.2 L76.7 455.0 L76.9 454.8 L77.2 454.5 L77.4 454.3 L77.6 454.1 L77.9 454.0 L78.1 454.0 L78.4 454.1 L78.6 454.2 L78.9 454.3 L79.1 454.2 L79.4 453.8 L79.6 452.9 L79.9 451.3 L80.1 449.2 L80.4 446.6 L80.6 443.8 L80.9 441.2 L81.1 439.4 L81.4 438.7 L81.6 439.2 L81.9 440.7 L82.1 442.8 L82.4 444.7 L82.6 445.8 L82.8 445.7 L83.1 444.3 L83.3 441.8 L83.6 438.8 L83.8 436.0 L84.1 434.1 L84.3 433.6 L84.6 434.6 L84.8 436.7 L85.1 439.3 L85.3 441.6 L85.6 442.9 L85.8 442.9 L86.1 441.6 L86.3 439.7 L86.6 437.7 L86.8 436.4 L87.1 436.2 L87.3 437.2 L87.6 439.2 L87.8 441.4 L88.1 443.1 L88.3 443.8 L88.5 443.1 L88.8 441.3 L89.0 438.8 L89.3 436.2 L89.5 434.5 L89.8 434.1 L90.0 435.2 L90.3 437.4 L90.5 440.1 L90.8 442.6 L91.0 444.2 L91.3 444.8 L91.5 444.2 L91.8 442.9 L92.0 441.5 L92.3 440.5 L92.5 440.2 L92.8 440.8 L93.0 442.1 L93.3 443.5 L93.5 444.7 L93.7 445.4 L94.0 445.6 L94.2 445.4 L94.5 445.2 L94.7 445.3 L95.0 445.8 L95.2 446.5 L95.5 447.0 L95.7 446.6 L96.0 444.9 L96.2 441.3 L96.5 435.8 L96.7 428.8 L97.0 421.2 L97.2 414.3 L97.5 409.6 L97.7 408.0 L98.0 409.8 L98.2 414.4 L98.5 420.6 L98.7 427.1 L99.0 433.0 L99.2 437.8 L99.4 441.4 L99.7 444.2 L99.9 446.4 L100.2 448.4 L100.4 450.2 L100.7 451.8 L100.9 453.0 L101.2 454.0 L101.18 455.5 L74.18 455.5 Z" fill="#9ad785"/>
<path d="M74.2 455.5 L74.4 455.5 L74.7 455.5 L74.9 455.5 L75.2 455.5 L75.4 455.5 L75.7 455.5 L75.9 455.5 L76.2 455.5 L76.4 455.5 L76.7 455.5 L76.9 455.5 L77.2 455.5 L77.4 455.5 L77.6 455.5 L77.9 455.5 L78.1 455.5 L78.4 455.4 L78.6 455.4 L78.9 455.2 L79.1 454.8 L79.4 454.2 L79.6 453.1 L79.9 451.5 L80.1 449.3 L80.4 446.6 L80.6 443.8 L80.9 441.2 L81.1 439.4 L81.4 438.8 L81.6 439.4 L81.9 441.2 L82.1 443.8 L82.4 446.7 L82.6 449.3 L82.8 451.5 L83.1 453.1 L83.3 454.2 L83.6 454.8 L83.8 455.2 L84.1 455.4 L84.3 455.4 L84.6 455.5 L84.8 455.5 L85.1 455.5 L85.3 455.5 L85.6 455.5 L85.8 455.5 L86.1 455.5 L86.3 455.5 L86.6 455.5 L86.8 455.5 L87.1 455.5 L87.3 455.5 L87.6 455.5 L87.8 455.5 L88.1 455.5 L88.3 455.5 L88.5 455.5 L88.8 455.5 L89.0 455.5 L89.3 455.5 L89.5 455.5 L89.8 455.5 L90.0 455.5 L90.3 455.5 L90.5 455.5 L90.8 455.5 L91.0 455.5 L91.3 455.5 L91.5 455.5 L91.8 455.5 L92.0 455.5 L92.3 455.5 L92.5 455.5 L92.8 455.5 L93.0 455.5 L93.3 455.5 L93.5 455.5 L93.7 455.5 L94.0 455.5 L94.2 455.5 L94.5 455.5 L94.7 455.5 L95.0 455.5 L95.2 455.5 L95.5 455.5 L95.7 455.5 L96.0 455.5 L96.2 455.5 L96.5 455.5 L96.7 455.5 L97.0 455.5 L97.2 455.5 L97.5 455.5 L97.7 455.5 L98.0 455.5 L98.2 455.5 L98.5 455.5 L98.7 455.5 L99.0 455.5 L99.2 455.5 L99.4 455.5 L99.7 455.5 L99.9 455.5 L100.2 455.5 L100.4 455.5 L100.7 455.5 L100.9 455.5 L101.2 455.5 Z" fill="#5cb84f" fill-opacity="0.45" stroke="#3f9a45" stroke-width="0.35"/>
<path d="M74.2 455.5 L74.4 455.5 L74.7 455.5 L74.9 455.5 L75.2 455.5 L75.4 455.5 L75.7 455.5 L75.9 455.5 L76.2 455.5 L76.4 455.5 L76.7 455.5 L76.9 455.5 L77.2 455.5 L77.4 455.5 L77.6 455.5 L77.9 455.5 L78.1 455.5 L78.4 455.5 L78.6 455.5 L78.9 455.5 L79.1 455.5 L79.4 455.5 L79.6 455.5 L79.9 455.5 L80.1 455.5 L80.4 455.5 L80.6 455.5 L80.9 455.5 L81.1 455.5 L81.4 455.4 L81.6 455.3 L81.9 455.0 L82.1 454.5 L82.4 453.5 L82.6 452.0 L82.8 449.7 L83.1 446.7 L83.3 443.2 L83.6 439.5 L83.8 436.3 L84.1 434.3 L84.3 433.9 L84.6 435.1 L84.8 437.7 L85.1 441.2 L85.3 444.9 L85.6 448.2 L85.8 450.9 L86.1 452.8 L86.3 454.0 L86.6 454.8 L86.8 455.2 L87.1 455.4 L87.3 455.4 L87.6 455.5 L87.8 455.5 L88.1 455.5 L88.3 455.5 L88.5 455.5 L88.8 455.5 L89.0 455.5 L89.3 455.5 L89.5 455.5 L89.8 455.5 L90.0 455.5 L90.3 455.5 L90.5 455.5 L90.8 455.5 L91.0 455.5 L91.3 455.5 L91.5 455.5 L91.8 455.5 L92.0 455.5 L92.3 455.5 L92.5 455.5 L92.8 455.5 L93.0 455.5 L93.3 455.5 L93.5 455.5 L93.7 455.5 L94.0 455.5 L94.2 455.5 L94.5 455.5 L94.7 455.5 L95.0 455.5 L95.2 455.5 L95.5 455.5 L95.7 455.5 L96.0 455.5 L96.2 455.5 L96.5 455.5 L96.7 455.5 L97.0 455.5 L97.2 455.5 L97.5 455.5 L97.7 455.5 L98.0 455.5 L98.2 455.5 L98.5 455.5 L98.7 455.5 L99.0 455.5 L99.2 455.5 L99.4 455.5 L99.7 455.5 L99.9 455.5 L100.2 455.5 L100.4 455.5 L100.7 455.5 L100.9 455.5 L101.2 455.5 Z" fill="#5cb84f" fill-opacity="0.45" stroke="#3f9a45" stroke-width="0.35"/>
<path d="M74.2 455.5 L74.4 455.5 L74.7 455.5 L74.9 455.5 L75.2 455.5 L75.4 455.5 L75.7 455.5 L75.9 455.5 L76.2 455.5 L76.4 455.5 L76.7 455.5 L76.9 455.5 L77.2 455.5 L77.4 455.5 L77.6 455.5 L77.9 455.5 L78.1 455.5 L78.4 455.5 L78.6 455.5 L78.9 455.5 L79.1 455.5 L79.4 455.5 L79.6 455.5 L79.9 455.5 L80.1 455.5 L80.4 455.5 L80.6 455.5 L80.9 455.5 L81.1 455.5 L81.4 455.5 L81.6 455.5 L81.9 455.5 L82.1 455.5 L82.4 455.5 L82.6 455.5 L82.8 455.5 L83.1 455.5 L83.3 455.5 L83.6 455.5 L83.8 455.5 L84.1 455.4 L84.3 455.3 L84.6 455.0 L84.8 454.5 L85.1 453.7 L85.3 452.2 L85.6 450.2 L85.8 447.5 L86.1 444.3 L86.3 441.2 L86.6 438.5 L86.8 436.8 L87.1 436.6 L87.3 437.8 L87.6 440.2 L87.8 443.3 L88.1 446.5 L88.3 449.4 L88.5 451.6 L88.8 453.3 L89.0 454.3 L89.3 454.9 L89.5 455.2 L89.8 455.4 L90.0 455.5 L90.3 455.5 L90.5 455.5 L90.8 455.5 L91.0 455.5 L91.3 455.5 L91.5 455.5 L91.8 455.5 L92.0 455.5 L92.3 455.5 L92.5 455.5 L92.8 455.5 L93.0 455.5 L93.3 455.5 L93.5 455.5 L93.7 455.5 L94.0 455.5 L94.2 455.5 L94.5 455.5 L94.7 455.5 L95.0 455.5 L95.2 455.5 L95.5 455.5 L95.7 455.5 L96.0 455.5 L96.2 455.5 L96.5 455.5 L96.7 455.5 L97.0 455.5 L97.2 455.5 L97.5 455.5 L97.7 455.5 L98.0 455.5 L98.2 455.5 L98.5 455.5 L98.7 455.5 L99.0 455.5 L99.2 455.5 L99.4 455.5 L99.7 455.5 L99.9 455.5 L100.2 455.5 L100.4 455.5 L100.7 455.5 L100.9 455.5 L101.2 455.5 Z" fill="#5cb84f" fill-opacity="0.45" stroke="#3f9a45" stroke-width="0.35"/>
<path d="M74.2 455.5 L74.4 455.5 L74.7 455.5 L74.9 455.5 L75.2 455.5 L75.4 455.5 L75.7 455.5 L75.9 455.5 L76.2 455.5 L76.4 455.5 L76.7 455.5 L76.9 455.5 L77.2 455.5 L77.4 455.5 L77.6 455.5 L77.9 455.5 L78.1 455.5 L78.4 455.5 L78.6 455.5 L78.9 455.5 L79.1 455.5 L79.4 455.5 L79.6 455.5 L79.9 455.5 L80.1 455.5 L80.4 455.5 L80.6 455.5 L80.9 455.5 L81.1 455.5 L81.4 455.5 L81.6 455.5 L81.9 455.5 L82.1 455.5 L82.4 455.5 L82.6 455.5 L82.8 455.5 L83.1 455.5 L83.3 455.5 L83.6 455.5 L83.8 455.5 L84.1 455.5 L84.3 455.5 L84.6 455.5 L84.8 455.5 L85.1 455.5 L85.3 455.5 L85.6 455.5 L85.8 455.5 L86.1 455.5 L86.3 455.5 L86.6 455.5 L86.8 455.4 L87.1 455.3 L87.3 455.0 L87.6 454.5 L87.8 453.6 L88.1 452.1 L88.3 449.9 L88.5 447.0 L88.8 443.5 L89.0 440.0 L89.3 436.9 L89.5 434.9 L89.8 434.4 L90.0 435.6 L90.3 438.1 L90.5 441.5 L90.8 445.1 L91.0 448.3 L91.3 451.0 L91.5 452.8 L91.8 454.1 L92.0 454.8 L92.3 455.2 L92.5 455.4 L92.8 455.4 L93.0 455.5 L93.3 455.5 L93.5 455.5 L93.7 455.5 L94.0 455.5 L94.2 455.5 L94.5 455.5 L94.7 455.5 L95.0 455.5 L95.2 455.5 L95.5 455.5 L95.7 455.5 L96.0 455.5 L96.2 455.5 L96.5 455.5 L96.7 455.5 L97.0 455.5 L97.2 455.5 L97.5 455.5 L97.7 455.5 L98.0 455.5 L98.2 455.5 L98.5 455.5 L98.7 455.5 L99.0 455.5 L99.2 455.5 L99.4 455.5 L99.7 455.5 L99.9 455.5 L100.2 455.5 L100.4 455.5 L100.7 455.5 L100.9 455.5 L101.2 455.5 Z" fill="#5cb84f" fill-opacity="0.45" stroke="#3f9a45" stroke-width="0.35"/>
<path d="M74.2 455.5 L74.4 455.5 L74.7 455.5 L74.9 455.5 L75.2 455.5 L75.4 455.5 L75.7 455.5 L75.9 455.5 L76.2 455.5 L76.4 455.5 L76.7 455.5 L76.9 455.5 L77.2 455.5 L77.4 455.5 L77.6 455.5 L77.9 455.5 L78.1 455.5 L78.4 455.5 L78.6 455.5 L78.9 455.5 L79.1 455.5 L79.4 455.5 L79.6 455.5 L79.9 455.5 L80.1 455.5 L80.4 455.5 L80.6 455.5 L80.9 455.5 L81.1 455.5 L81.4 455.5 L81.6 455.5 L81.9 455.5 L82.1 455.5 L82.4 455.5 L82.6 455.5 L82.8 455.5 L83.1 455.5 L83.3 455.5 L83.6 455.5 L83.8 455.5 L84.1 455.5 L84.3 455.5 L84.6 455.5 L84.8 455.5 L85.1 455.5 L85.3 455.5 L85.6 455.5 L85.8 455.5 L86.1 455.5 L86.3 455.5 L86.6 455.5 L86.8 455.5 L87.1 455.5 L87.3 455.5 L87.6 455.5 L87.8 455.5 L88.1 455.5 L88.3 455.5 L88.5 455.5 L88.8 455.5 L89.0 455.5 L89.3 455.5 L89.5 455.4 L89.8 455.3 L90.0 455.1 L90.3 454.8 L90.5 454.1 L90.8 453.0 L91.0 451.4 L91.3 449.3 L91.5 446.9 L91.8 444.4 L92.0 442.3 L92.3 441.0 L92.5 440.8 L92.8 441.7 L93.0 443.6 L93.3 446.0 L93.5 448.5 L93.7 450.7 L94.0 452.5 L94.2 453.7 L94.5 454.6 L94.7 455.0 L95.0 455.3 L95.2 455.4 L95.5 455.5 L95.7 455.5 L96.0 455.5 L96.2 455.5 L96.5 455.5 L96.7 455.5 L97.0 455.5 L97.2 455.5 L97.5 455.5 L97.7 455.5 L98.0 455.5 L98.2 455.5 L98.5 455.5 L98.7 455.5 L99.0 455.5 L99.2 455.5 L99.4 455.5 L99.7 455.5 L99.9 455.5 L100.2 455.5 L100.4 455.5 L100.7 455.5 L100.9 455.5 L101.2 455.5 Z" fill="#5cb84f" fill-opacity="0.45" stroke="#3f9a45" stroke-width="0.35"/>
<path d="M74.2 455.5 L74.4 455.5 L74.7 455.5 L74.9 455.5 L75.2 455.5 L75.4 455.5 L75.7 455.5 L75.9 455.5 L76.2 455.5 L76.4 455.5 L76.7 455.5 L76.9 455.5 L77.2 455.5 L77.4 455.5 L77.6 455.5 L77.9 455.5 L78.1 455.5 L78.4 455.5 L78.6 455.5 L78.9 455.5 L79.1 455.5 L79.4 455.5 L79.6 455.5 L79.9 455.5 L80.1 455.5 L80.4 455.5 L80.6 455.5 L80.9 455.5 L81.1 455.5 L81.4 455.5 L81.6 455.5 L81.9 455.5 L82.1 455.5 L82.4 455.5 L82.6 455.5 L82.8 455.5 L83.1 455.5 L83.3 455.5 L83.6 455.5 L83.8 455.5 L84.1 455.5 L84.3 455.5 L84.6 455.5 L84.8 455.5 L85.1 455.5 L85.3 455.5 L85.6 455.5 L85.8 455.5 L86.1 455.5 L86.3 455.5 L86.6 455.5 L86.8 455.5 L87.1 455.5 L87.3 455.5 L87.6 455.5 L87.8 455.5 L88.1 455.5 L88.3 455.5 L88.5 455.5 L88.8 455.5 L89.0 455.5 L89.3 455.5 L89.5 455.5 L89.8 455.5 L90.0 455.5 L90.3 455.5 L90.5 455.5 L90.8 455.5 L91.0 455.5 L91.3 455.5 L91.5 455.5 L91.8 455.5 L92.0 455.4 L92.3 455.3 L92.5 455.1 L92.8 454.7 L93.0 454.0 L93.3 453.0 L93.5 451.8 L93.7 450.2 L94.0 448.6 L94.2 447.2 L94.5 446.2 L94.7 446.0 L95.0 446.5 L95.2 447.6 L95.5 449.1 L95.7 450.7 L96.0 452.2 L96.2 453.4 L96.5 454.3 L96.7 454.8 L97.0 455.2 L97.2 455.3 L97.5 455.4 L97.7 455.5 L98.0 455.5 L98.2 455.5 L98.5 455.5 L98.7 455.5 L99.0 455.5 L99.2 455.5 L99.4 455.5 L99.7 455.5 L99.9 455.5 L100.2 455.5 L100.4 455.5 L100.7 455.5 L100.9 455.5 L101.2 455.5 Z" fill="#5cb84f" fill-opacity="0.45" stroke="#3f9a45" stroke-width="0.35"/>
<path d="M74.2 455.5 L74.4 455.5 L74.7 455.5 L74.9 455.5 L75.2 455.5 L75.4 455.5 L75.7 455.5 L75.9 455.5 L76.2 455.5 L76.4 455.5 L76.7 455.5 L76.9 455.5 L77.2 455.5 L77.4 455.5 L77.6 455.5 L77.9 455.5 L78.1 455.5 L78.4 455.5 L78.6 455.5 L78.9 455.5 L79.1 455.5 L79.4 455.5 L79.6 455.5 L79.9 455.5 L80.1 455.5 L80.4 455.5 L80.6 455.5 L80.9 455.5 L81.1 455.5 L81.4 455.5 L81.6 455.5 L81.9 455.5 L82.1 455.5 L82.4 455.5 L82.6 455.5 L82.8 455.5 L83.1 455.5 L83.3 455.5 L83.6 455.5 L83.8 455.5 L84.1 455.5 L84.3 455.5 L84.6 455.5 L84.8 455.5 L85.1 455.5 L85.3 455.5 L85.6 455.5 L85.8 455.5 L86.1 455.5 L86.3 455.5 L86.6 455.5 L86.8 455.5 L87.1 455.5 L87.3 455.5 L87.6 455.5 L87.8 455.5 L88.1 455.5 L88.3 455.5 L88.5 455.5 L88.8 455.5 L89.0 455.5 L89.3 455.5 L89.5 455.5 L89.8 455.5 L90.0 455.5 L90.3 455.5 L90.5 455.5 L90.8 455.5 L91.0 455.5 L91.3 455.5 L91.5 455.5 L91.8 455.5 L92.0 455.5 L92.3 455.5 L92.5 455.5 L92.8 455.5 L93.0 455.5 L93.3 455.5 L93.5 455.5 L93.7 455.5 L94.0 455.5 L94.2 455.5 L94.5 455.4 L94.7 455.3 L95.0 455.1 L95.2 454.5 L95.5 453.4 L95.7 451.4 L96.0 448.2 L96.2 443.4 L96.5 437.1 L96.7 429.5 L97.0 421.6 L97.2 414.7 L97.5 410.2 L97.7 409.0 L98.0 411.4 L98.2 416.9 L98.5 424.3 L98.7 432.2 L99.0 439.4 L99.2 445.3 L99.4 449.5 L99.7 452.2 L99.9 453.9 L100.2 454.7 L100.4 455.2 L100.7 455.4 L100.9 455.5 L101.2 455.5 Z" fill="#5cb84f" fill-opacity="0.45" stroke="#3f9a45" stroke-width="0.35"/>
<path d="M74.2 455.5 L74.4 455.5 L74.7 455.5 L74.9 455.5 L75.2 455.5 L75.4 455.5 L75.7 455.5 L75.9 455.5 L76.2 455.5 L76.4 455.5 L76.7 455.5 L76.9 455.5 L77.2 455.5 L77.4 455.5 L77.6 455.5 L77.9 455.5 L78.1 455.5 L78.4 455.5 L78.6 455.5 L78.9 455.5 L79.1 455.5 L79.4 455.5 L79.6 455.5 L79.9 455.5 L80.1 455.5 L80.4 455.5 L80.6 455.5 L80.9 455.5 L81.1 455.5 L81.4 455.5 L81.6 455.5 L81.9 455.5 L82.1 455.5 L82.4 455.5 L82.6 455.5 L82.8 455.5 L83.1 455.5 L83.3 455.5 L83.6 455.5 L83.8 455.5 L84.1 455.5 L84.3 455.5 L84.6 455.5 L84.8 455.5 L85.1 455.5 L85.3 455.5 L85.6 455.5 L85.8 455.5 L86.1 455.5 L86.3 455.5 L86.6 455.5 L86.8 455.5 L87.1 455.5 L87.3 455.5 L87.6 455.5 L87.8 455.5 L88.1 455.5 L88.3 455.5 L88.5 455.5 L88.8 455.5 L89.0 455.5 L89.3 455.5 L89.5 455.5 L89.8 455.5 L90.0 455.5 L90.3 455.5 L90.5 455.5 L90.8 455.5 L91.0 455.5 L91.3 455.5 L91.5 455.5 L91.8 455.5 L92.0 455.5 L92.3 455.5 L92.5 455.5 L92.8 455.5 L93.0 455.5 L93.3 455.5 L93.5 455.5 L93.7 455.5 L94.0 455.5 L94.2 455.5 L94.5 455.5 L94.7 455.5 L95.0 455.5 L95.2 455.5 L95.5 455.5 L95.7 455.5 L96.0 455.5 L96.2 455.5 L96.5 455.5 L96.7 455.5 L97.0 455.4 L97.2 455.3 L97.5 455.0 L97.7 454.6 L98.0 454.0 L98.2 453.0 L98.5 451.8 L98.7 450.4 L99.0 449.1 L99.2 448.0 L99.4 447.4 L99.7 447.4 L99.9 448.1 L100.2 449.2 L100.4 450.5 L100.7 451.9 L100.9 453.1 L101.2 454.0 Z" fill="#5cb84f" fill-opacity="0.45" stroke="#3f9a45" stroke-width="0.35"/>
<path d="M74.2 455.5 L74.4 455.5 L74.7 455.5 L74.9 455.5 L75.2 455.5 L75.4 455.5 L75.7 455.4 L75.9 455.4 L76.2 455.3 L76.4 455.2 L76.7 455.0 L76.9 454.8 L77.2 454.5 L77.4 454.3 L77.6 454.1 L77.9 454.0 L78.1 454.0 L78.4 454.1 L78.6 454.2 L78.9 454.3 L79.1 454.2 L79.4 453.8 L79.6 452.9 L79.9 451.3 L80.1 449.2 L80.4 446.6 L80.6 443.8 L80.9 441.2 L81.1 439.4 L81.4 438.7 L81.6 439.2 L81.9 440.7 L82.1 442.8 L82.4 444.7 L82.6 445.8 L82.8 445.7 L83.1 444.3 L83.3 441.8 L83.6 438.8 L83.8 436.0 L84.1 434.1 L84.3 433.6 L84.6 434.6 L84.8 436.7 L85.1 439.3 L85.3 441.6 L85.6 442.9 L85.8 442.9 L86.1 441.6 L86.3 439.7 L86.6 437.7 L86.8 436.4 L87.1 436.2 L87.3 437.2 L87.6 439.2 L87.8 441.4 L88.1 443.1 L88.3 443.8 L88.5 443.1 L88.8 441.3 L89.0 438.8 L89.3 436.2 L89.5 434.5 L89.8 434.1 L90.0 435.2 L90.3 437.4 L90.5 440.1 L90.8 442.6 L91.0 444.2 L91.3 444.8 L91.5 444.2 L91.8 442.9 L92.0 441.5 L92.3 440.5 L92.5 440.2 L92.8 440.8 L93.0 442.1 L93.3 443.5 L93.5 444.7 L93.7 445.4 L94.0 445.6 L94.2 445.4 L94.5 445.2 L94.7 445.3 L95.0 445.8 L95.2 446.5 L95.5 447.0 L95.7 446.6 L96.0 444.9 L96.2 441.3 L96.5 435.8 L96.7 428.8 L97.0 421.2 L97.2 414.3 L97.5 409.6 L97.7 408.0 L98.0 409.8 L98.2 414.4 L98.5 420.6 L98.7 427.1 L99.0 433.0 L99.2 437.8 L99.4 441.4 L99.7 444.2 L99.9 446.4 L100.2 448.4 L100.4 450.2 L100.7 451.8 L100.9 453.0 L101.2 454.0" fill="none" stroke="#2f6e50" stroke-width="0.9"/>
<text x="49.30" y="456.50" font-size="2.7" text-anchor="end" fill="#888">0</text>
<line x1="50.20" y1="455.50" x2="51.50" y2="455.50" stroke="#444" stroke-width="0.4"/>
<text x="49.30" y="447.23" font-size="2.7" text-anchor="end" fill="#888">100</text>
<line x1="50.20" y1="446.23" x2="51.50" y2="446.23" stroke="#444" stroke-width="0.4"/>
<text x="49.30" y="437.95" font-size="2.7" text-anchor="end" fill="#888">200</text>
<line x1="50.20" y1="436.95" x2="51.50" y2="436.95" stroke="#444" stroke-width="0.4"/>
<text x="49.30" y="428.68" font-size="2.7" text-anchor="end" fill="#888">300</text>
<line x1="50.20" y1="427.68" x2="51.50" y2="427.68" stroke="#444" stroke-width="0.4"/>
<text x="49.30" y="419.41" font-size="2.7" text-anchor="end" fill="#888">400</text>
<line x1="50.20" y1="418.41" x2="51.50" y2="418.41" stroke="#444" stroke-width="0.4"/>
<text x="49.30" y="410.14" font-size="2.7" text-anchor="end" fill="#888">500</text>
<line x1="50.20" y1="409.14" x2="51.50" y2="409.14" stroke="#444" stroke-width="0.4"/>
<text x="51.50" y="460.30" font-size="2.7" text-anchor="middle" fill="#888">10</text>
<line x1="51.50" y1="455.50" x2="51.50" y2="456.70" stroke="#444" stroke-width="0.4"/>
<text x="60.50" y="460.30" font-size="2.7" text-anchor="middle" fill="#888">10</text>
<line x1="60.50" y1="455.50" x2="60.50" y2="456.70" stroke="#444" stroke-width="0.4"/>
<text x="69.50" y="460.30" font-size="2.7" text-anchor="middle" fill="#888">10</text>
<line x1="69.50" y1="455.50" x2="69.50" y2="456.70" stroke="#444" stroke-width="0.4"/>
<text x="78.50" y="460.30" font-size="2.7" text-anchor="middle" fill="#888">10</text>
<line x1="78.50" y1="455.50" x2="78.50" y2="456.70" stroke="#444" stroke-width="0.4"/>
<text x="87.50" y="460.30" font-size="2.7" text-anchor="middle" fill="#888">10</text>
<line x1="87.50" y1="455.50" x2="87.50" y2="456.70" stroke="#444" stroke-width="0.4"/>
<text x="96.50" y="460.30" font-size="2.7" text-anchor="middle" fill="#888">10</text>
<line x1="96.50" y1="455.50" x2="96.50" y2="456.70" stroke="#444" stroke-width="0.4"/>
<text x="105.50" y="460.30" font-size="2.7" text-anchor="middle" fill="#888">10</text>
<line x1="105.50" y1="455.50" x2="105.50" y2="456.70" stroke="#444" stroke-width="0.4"/>
<text x="78.50" y="467.50" font-size="6.2" text-anchor="middle" fill="#2a2a2a" textLength="44" lengthAdjust="spacingAndGlyphs">a Teff+PBS-MDSC</text>
<rect x="123.5" y="403.5" width="54.0" height="51.0" fill="#fff" stroke="#222" stroke-width="0.9"/>
<path d="M146.7 454.5 L147.0 454.5 L147.2 454.5 L147.5 454.5 L147.7 454.5 L148.0 454.5 L148.2 454.4 L148.5 454.4 L148.7 454.3 L149.0 454.2 L149.2 454.0 L149.5 453.7 L149.7 453.5 L150.0 453.2 L150.2 453.1 L150.5 453.0 L150.7 453.0 L151.0 453.1 L151.2 453.3 L151.5 453.3 L151.7 453.2 L152.0 452.8 L152.2 451.9 L152.5 450.4 L152.7 448.3 L153.0 445.8 L153.2 443.2 L153.5 440.8 L153.7 439.0 L154.0 438.0 L154.2 437.7 L154.5 437.8 L154.7 437.8 L155.0 437.6 L155.2 436.9 L155.5 436.2 L155.7 435.9 L156.0 436.4 L156.2 437.7 L156.5 439.7 L156.7 441.8 L157.0 443.5 L157.2 444.3 L157.5 444.0 L157.7 442.7 L158.0 441.0 L158.2 439.3 L158.5 438.3 L158.7 438.3 L159.0 439.4 L159.2 441.1 L159.5 442.9 L159.7 444.3 L160.0 444.7 L160.2 444.0 L160.5 442.5 L160.7 440.7 L161.0 439.1 L161.2 438.2 L161.5 438.4 L161.7 439.6 L162.0 441.4 L162.2 443.2 L162.5 444.4 L162.7 444.7 L163.0 444.2 L163.2 443.0 L163.5 441.8 L163.7 440.9 L164.0 440.8 L164.2 441.4 L164.5 442.6 L164.7 443.9 L165.0 445.0 L165.2 445.7 L165.5 445.8 L165.7 445.7 L166.0 445.7 L166.2 446.0 L166.5 446.7 L166.7 447.8 L167.0 449.2 L167.2 450.5 L167.5 451.7 L167.7 452.3 L168.0 452.4 L168.2 451.5 L168.5 449.5 L168.7 446.0 L169.0 440.7 L169.2 433.7 L169.5 425.7 L169.7 417.5 L170.0 410.7 L170.2 406.4 L170.5 405.6 L170.7 408.2 L171.0 413.4 L171.2 419.9 L171.5 426.6 L171.7 432.5 L172.0 437.4 L172.2 441.2 L172.5 444.3 L172.7 446.8 L173.0 448.9 L173.2 450.6 L173.5 452.0 L173.7 453.0 L174.0 453.7 L173.99 454.5 L146.72 454.5 Z" fill="#9ad785"/>
<path d="M146.7 454.5 L147.0 454.5 L147.2 454.5 L147.5 454.5 L147.7 454.5 L148.0 454.5 L148.2 454.5 L148.5 454.5 L148.7 454.5 L149.0 454.5 L149.2 454.5 L149.5 454.5 L149.7 454.5 L150.0 454.5 L150.2 454.5 L150.5 454.5 L150.7 454.5 L151.0 454.4 L151.2 454.4 L151.5 454.2 L151.7 453.8 L152.0 453.1 L152.2 452.1 L152.5 450.5 L152.7 448.4 L153.0 445.9 L153.2 443.3 L153.5 441.1 L153.7 439.8 L154.0 439.5 L154.2 440.5 L154.5 442.4 L154.7 444.8 L155.0 447.4 L155.2 449.7 L155.5 451.5 L155.7 452.8 L156.0 453.6 L156.2 454.0 L156.5 454.3 L156.7 454.4 L157.0 454.5 L157.2 454.5 L157.5 454.5 L157.7 454.5 L158.0 454.5 L158.2 454.5 L158.5 454.5 L158.7 454.5 L159.0 454.5 L159.2 454.5 L159.5 454.5 L159.7 454.5 L160.0 454.5 L160.2 454.5 L160.5 454.5 L160.7 454.5 L161.0 454.5 L161.2 454.5 L161.5 454.5 L161.7 454.5 L162.0 454.5 L162.2 454.5 L162.5 454.5 L162.7 454.5 L163.0 454.5 L163.2 454.5 L163.5 454.5 L163.7 454.5 L164.0 454.5 L164.2 454.5 L164.5 454.5 L164.7 454.5 L165.0 454.5 L165.2 454.5 L165.5 454.5 L165.7 454.5 L166.0 454.5 L166.2 454.5 L166.5 454.5 L166.7 454.5 L167.0 454.5 L167.2 454.5 L167.5 454.5 L167.7 454.5 L168.0 454.5 L168.2 454.5 L168.5 454.5 L168.7 454.5 L169.0 454.5 L169.2 454.5 L169.5 454.5 L169.7 454.5 L170.0 454.5 L170.2 454.5 L170.5 454.5 L170.7 454.5 L171.0 454.5 L171.2 454.5 L171.5 454.5 L171.7 454.5 L172.0 454.5 L172.2 454.5 L172.5 454.5 L172.7 454.5 L173.0 454.5 L173.2 454.5 L173.5 454.5 L173.7 454.5 L174.0 454.5 Z" fill="#5cb84f" fill-opacity="0.45" stroke="#3f9a45" stroke-width="0.35"/>
<path d="M146.7 454.5 L147.0 454.5 L147.2 454.5 L147.5 454.5 L147.7 454.5 L148.0 454.5 L148.2 454.5 L148.5 454.5 L148.7 454.5 L149.0 454.5 L149.2 454.5 L149.5 454.5 L149.7 454.5 L150.0 454.5 L150.2 454.5 L150.5 454.5 L150.7 454.5 L151.0 454.5 L151.2 454.5 L151.5 454.5 L151.7 454.5 L152.0 454.5 L152.2 454.5 L152.5 454.5 L152.7 454.5 L153.0 454.4 L153.2 454.3 L153.5 454.1 L153.7 453.7 L154.0 453.0 L154.2 451.7 L154.5 449.9 L154.7 447.5 L155.0 444.7 L155.2 441.8 L155.5 439.3 L155.7 437.7 L156.0 437.5 L156.2 438.6 L156.5 440.7 L156.7 443.5 L157.0 446.4 L157.2 449.1 L157.5 451.1 L157.7 452.5 L158.0 453.5 L158.2 454.0 L158.5 454.3 L158.7 454.4 L159.0 454.5 L159.2 454.5 L159.5 454.5 L159.7 454.5 L160.0 454.5 L160.2 454.5 L160.5 454.5 L160.7 454.5 L161.0 454.5 L161.2 454.5 L161.5 454.5 L161.7 454.5 L162.0 454.5 L162.2 454.5 L162.5 454.5 L162.7 454.5 L163.0 454.5 L163.2 454.5 L163.5 454.5 L163.7 454.5 L164.0 454.5 L164.2 454.5 L164.5 454.5 L164.7 454.5 L165.0 454.5 L165.2 454.5 L165.5 454.5 L165.7 454.5 L166.0 454.5 L166.2 454.5 L166.5 454.5 L166.7 454.5 L167.0 454.5 L167.2 454.5 L167.5 454.5 L167.7 454.5 L168.0 454.5 L168.2 454.5 L168.5 454.5 L168.7 454.5 L169.0 454.5 L169.2 454.5 L169.5 454.5 L169.7 454.5 L170.0 454.5 L170.2 454.5 L170.5 454.5 L170.7 454.5 L171.0 454.5 L171.2 454.5 L171.5 454.5 L171.7 454.5 L172.0 454.5 L172.2 454.5 L172.5 454.5 L172.7 454.5 L173.0 454.5 L173.2 454.5 L173.5 454.5 L173.7 454.5 L174.0 454.5 Z" fill="#5cb84f" fill-opacity="0.45" stroke="#3f9a45" stroke-width="0.35"/>
<path d="M146.7 454.5 L147.0 454.5 L147.2 454.5 L147.5 454.5 L147.7 454.5 L148.0 454.5 L148.2 454.5 L148.5 454.5 L148.7 454.5 L149.0 454.5 L149.2 454.5 L149.5 454.5 L149.7 454.5 L150.0 454.5 L150.2 454.5 L150.5 454.5 L150.7 454.5 L151.0 454.5 L151.2 454.5 L151.5 454.5 L151.7 454.5 L152.0 454.5 L152.2 454.5 L152.5 454.5 L152.7 454.5 L153.0 454.5 L153.2 454.5 L153.5 454.5 L153.7 454.5 L154.0 454.5 L154.2 454.5 L154.5 454.5 L154.7 454.5 L155.0 454.5 L155.2 454.5 L155.5 454.5 L155.7 454.4 L156.0 454.3 L156.2 454.1 L156.5 453.6 L156.7 452.8 L157.0 451.6 L157.2 449.8 L157.5 447.4 L157.7 444.7 L158.0 442.0 L158.2 439.8 L158.5 438.6 L158.7 438.6 L159.0 439.9 L159.2 442.1 L159.5 444.8 L159.7 447.5 L160.0 449.8 L160.2 451.6 L160.5 452.9 L160.7 453.7 L161.0 454.1 L161.2 454.3 L161.5 454.4 L161.7 454.5 L162.0 454.5 L162.2 454.5 L162.5 454.5 L162.7 454.5 L163.0 454.5 L163.2 454.5 L163.5 454.5 L163.7 454.5 L164.0 454.5 L164.2 454.5 L164.5 454.5 L164.7 454.5 L165.0 454.5 L165.2 454.5 L165.5 454.5 L165.7 454.5 L166.0 454.5 L166.2 454.5 L166.5 454.5 L166.7 454.5 L167.0 454.5 L167.2 454.5 L167.5 454.5 L167.7 454.5 L168.0 454.5 L168.2 454.5 L168.5 454.5 L168.7 454.5 L169.0 454.5 L169.2 454.5 L169.5 454.5 L169.7 454.5 L170.0 454.5 L170.2 454.5 L170.5 454.5 L170.7 454.5 L171.0 454.5 L171.2 454.5 L171.5 454.5 L171.7 454.5 L172.0 454.5 L172.2 454.5 L172.5 454.5 L172.7 454.5 L173.0 454.5 L173.2 454.5 L173.5 454.5 L173.7 454.5 L174.0 454.5 Z" fill="#5cb84f" fill-opacity="0.45" stroke="#3f9a45" stroke-width="0.35"/>
<path d="M146.7 454.5 L147.0 454.5 L147.2 454.5 L147.5 454.5 L147.7 454.5 L148.0 454.5 L148.2 454.5 L148.5 454.5 L148.7 454.5 L149.0 454.5 L149.2 454.5 L149.5 454.5 L149.7 454.5 L150.0 454.5 L150.2 454.5 L150.5 454.5 L150.7 454.5 L151.0 454.5 L151.2 454.5 L151.5 454.5 L151.7 454.5 L152.0 454.5 L152.2 454.5 L152.5 454.5 L152.7 454.5 L153.0 454.5 L153.2 454.5 L153.5 454.5 L153.7 454.5 L154.0 454.5 L154.2 454.5 L154.5 454.5 L154.7 454.5 L155.0 454.5 L155.2 454.5 L155.5 454.5 L155.7 454.5 L156.0 454.5 L156.2 454.5 L156.5 454.5 L156.7 454.5 L157.0 454.5 L157.2 454.5 L157.5 454.5 L157.7 454.5 L158.0 454.5 L158.2 454.5 L158.5 454.4 L158.7 454.3 L159.0 454.0 L159.2 453.5 L159.5 452.6 L159.7 451.3 L160.0 449.3 L160.2 446.9 L160.5 444.1 L160.7 441.5 L161.0 439.5 L161.2 438.5 L161.5 438.8 L161.7 440.3 L162.0 442.7 L162.2 445.4 L162.5 448.0 L162.7 450.3 L163.0 451.9 L163.2 453.1 L163.5 453.8 L163.7 454.2 L164.0 454.3 L164.2 454.4 L164.5 454.5 L164.7 454.5 L165.0 454.5 L165.2 454.5 L165.5 454.5 L165.7 454.5 L166.0 454.5 L166.2 454.5 L166.5 454.5 L166.7 454.5 L167.0 454.5 L167.2 454.5 L167.5 454.5 L167.7 454.5 L168.0 454.5 L168.2 454.5 L168.5 454.5 L168.7 454.5 L169.0 454.5 L169.2 454.5 L169.5 454.5 L169.7 454.5 L170.0 454.5 L170.2 454.5 L170.5 454.5 L170.7 454.5 L171.0 454.5 L171.2 454.5 L171.5 454.5 L171.7 454.5 L172.0 454.5 L172.2 454.5 L172.5 454.5 L172.7 454.5 L173.0 454.5 L173.2 454.5 L173.5 454.5 L173.7 454.5 L174.0 454.5 Z" fill="#5cb84f" fill-opacity="0.45" stroke="#3f9a45" stroke-width="0.35"/>
<path d="M146.7 454.5 L147.0 454.5 L147.2 454.5 L147.5 454.5 L147.7 454.5 L148.0 454.5 L148.2 454.5 L148.5 454.5 L148.7 454.5 L149.0 454.5 L149.2 454.5 L149.5 454.5 L149.7 454.5 L150.0 454.5 L150.2 454.5 L150.5 454.5 L150.7 454.5 L151.0 454.5 L151.2 454.5 L151.5 454.5 L151.7 454.5 L152.0 454.5 L152.2 454.5 L152.5 454.5 L152.7 454.5 L153.0 454.5 L153.2 454.5 L153.5 454.5 L153.7 454.5 L154.0 454.5 L154.2 454.5 L154.5 454.5 L154.7 454.5 L155.0 454.5 L155.2 454.5 L155.5 454.5 L155.7 454.5 L156.0 454.5 L156.2 454.5 L156.5 454.5 L156.7 454.5 L157.0 454.5 L157.2 454.5 L157.5 454.5 L157.7 454.5 L158.0 454.5 L158.2 454.5 L158.5 454.5 L158.7 454.5 L159.0 454.5 L159.2 454.5 L159.5 454.5 L159.7 454.5 L160.0 454.5 L160.2 454.5 L160.5 454.5 L160.7 454.5 L161.0 454.4 L161.2 454.4 L161.5 454.2 L161.7 453.9 L162.0 453.3 L162.2 452.3 L162.5 450.8 L162.7 449.0 L163.0 446.7 L163.2 444.5 L163.5 442.6 L163.7 441.4 L164.0 441.3 L164.2 442.2 L164.5 443.9 L164.7 446.1 L165.0 448.4 L165.2 450.4 L165.5 451.9 L165.7 453.0 L166.0 453.7 L166.2 454.1 L166.5 454.3 L166.7 454.4 L167.0 454.5 L167.2 454.5 L167.5 454.5 L167.7 454.5 L168.0 454.5 L168.2 454.5 L168.5 454.5 L168.7 454.5 L169.0 454.5 L169.2 454.5 L169.5 454.5 L169.7 454.5 L170.0 454.5 L170.2 454.5 L170.5 454.5 L170.7 454.5 L171.0 454.5 L171.2 454.5 L171.5 454.5 L171.7 454.5 L172.0 454.5 L172.2 454.5 L172.5 454.5 L172.7 454.5 L173.0 454.5 L173.2 454.5 L173.5 454.5 L173.7 454.5 L174.0 454.5 Z" fill="#5cb84f" fill-opacity="0.45" stroke="#3f9a45" stroke-width="0.35"/>
<path d="M146.7 454.5 L147.0 454.5 L147.2 454.5 L147.5 454.5 L147.7 454.5 L148.0 454.5 L148.2 454.5 L148.5 454.5 L148.7 454.5 L149.0 454.5 L149.2 454.5 L149.5 454.5 L149.7 454.5 L150.0 454.5 L150.2 454.5 L150.5 454.5 L150.7 454.5 L151.0 454.5 L151.2 454.5 L151.5 454.5 L151.7 454.5 L152.0 454.5 L152.2 454.5 L152.5 454.5 L152.7 454.5 L153.0 454.5 L153.2 454.5 L153.5 454.5 L153.7 454.5 L154.0 454.5 L154.2 454.5 L154.5 454.5 L154.7 454.5 L155.0 454.5 L155.2 454.5 L155.5 454.5 L155.7 454.5 L156.0 454.5 L156.2 454.5 L156.5 454.5 L156.7 454.5 L157.0 454.5 L157.2 454.5 L157.5 454.5 L157.7 454.5 L158.0 454.5 L158.2 454.5 L158.5 454.5 L158.7 454.5 L159.0 454.5 L159.2 454.5 L159.5 454.5 L159.7 454.5 L160.0 454.5 L160.2 454.5 L160.5 454.5 L160.7 454.5 L161.0 454.5 L161.2 454.5 L161.5 454.5 L161.7 454.5 L162.0 454.5 L162.2 454.5 L162.5 454.5 L162.7 454.5 L163.0 454.5 L163.2 454.5 L163.5 454.4 L163.7 454.3 L164.0 454.1 L164.2 453.8 L164.5 453.2 L164.7 452.3 L165.0 451.2 L165.2 449.8 L165.5 448.4 L165.7 447.2 L166.0 446.5 L166.2 446.3 L166.5 446.8 L166.7 447.9 L167.0 449.2 L167.2 450.6 L167.5 451.9 L167.7 452.9 L168.0 453.6 L168.2 454.0 L168.5 454.3 L168.7 454.4 L169.0 454.5 L169.2 454.5 L169.5 454.5 L169.7 454.5 L170.0 454.5 L170.2 454.5 L170.5 454.5 L170.7 454.5 L171.0 454.5 L171.2 454.5 L171.5 454.5 L171.7 454.5 L172.0 454.5 L172.2 454.5 L172.5 454.5 L172.7 454.5 L173.0 454.5 L173.2 454.5 L173.5 454.5 L173.7 454.5 L174.0 454.5 Z" fill="#5cb84f" fill-opacity="0.45" stroke="#3f9a45" stroke-width="0.35"/>
<path d="M146.7 454.5 L147.0 454.5 L147.2 454.5 L147.5 454.5 L147.7 454.5 L148.0 454.5 L148.2 454.5 L148.5 454.5 L148.7 454.5 L149.0 454.5 L149.2 454.5 L149.5 454.5 L149.7 454.5 L150.0 454.5 L150.2 454.5 L150.5 454.5 L150.7 454.5 L151.0 454.5 L151.2 454.5 L151.5 454.5 L151.7 454.5 L152.0 454.5 L152.2 454.5 L152.5 454.5 L152.7 454.5 L153.0 454.5 L153.2 454.5 L153.5 454.5 L153.7 454.5 L154.0 454.5 L154.2 454.5 L154.5 454.5 L154.7 454.5 L155.0 454.5 L155.2 454.5 L155.5 454.5 L155.7 454.5 L156.0 454.5 L156.2 454.5 L156.5 454.5 L156.7 454.5 L157.0 454.5 L157.2 454.5 L157.5 454.5 L157.7 454.5 L158.0 454.5 L158.2 454.5 L158.5 454.5 L158.7 454.5 L159.0 454.5 L159.2 454.5 L159.5 454.5 L159.7 454.5 L160.0 454.5 L160.2 454.5 L160.5 454.5 L160.7 454.5 L161.0 454.5 L161.2 454.5 L161.5 454.5 L161.7 454.5 L162.0 454.5 L162.2 454.5 L162.5 454.5 L162.7 454.5 L163.0 454.5 L163.2 454.5 L163.5 454.5 L163.7 454.5 L164.0 454.5 L164.2 454.5 L164.5 454.5 L164.7 454.5 L165.0 454.5 L165.2 454.5 L165.5 454.5 L165.7 454.5 L166.0 454.5 L166.2 454.5 L166.5 454.5 L166.7 454.5 L167.0 454.5 L167.2 454.4 L167.5 454.3 L167.7 454.0 L168.0 453.3 L168.2 452.0 L168.5 449.7 L168.7 446.1 L169.0 440.7 L169.2 433.8 L169.5 425.8 L169.7 417.7 L170.0 411.1 L170.2 407.3 L170.5 407.2 L170.7 410.7 L171.0 417.2 L171.2 425.1 L171.5 433.2 L171.7 440.3 L172.0 445.7 L172.2 449.5 L172.5 451.9 L172.7 453.2 L173.0 453.9 L173.2 454.3 L173.5 454.4 L173.7 454.5 L174.0 454.5 Z" fill="#5cb84f" fill-opacity="0.45" stroke="#3f9a45" stroke-width="0.35"/>
<path d="M146.7 454.5 L147.0 454.5 L147.2 454.5 L147.5 454.5 L147.7 454.5 L148.0 454.5 L148.2 454.5 L148.5 454.5 L148.7 454.5 L149.0 454.5 L149.2 454.5 L149.5 454.5 L149.7 454.5 L150.0 454.5 L150.2 454.5 L150.5 454.5 L150.7 454.5 L151.0 454.5 L151.2 454.5 L151.5 454.5 L151.7 454.5 L152.0 454.5 L152.2 454.5 L152.5 454.5 L152.7 454.5 L153.0 454.5 L153.2 454.5 L153.5 454.5 L153.7 454.5 L154.0 454.5 L154.2 454.5 L154.5 454.5 L154.7 454.5 L155.0 454.5 L155.2 454.5 L155.5 454.5 L155.7 454.5 L156.0 454.5 L156.2 454.5 L156.5 454.5 L156.7 454.5 L157.0 454.5 L157.2 454.5 L157.5 454.5 L157.7 454.5 L158.0 454.5 L158.2 454.5 L158.5 454.5 L158.7 454.5 L159.0 454.5 L159.2 454.5 L159.5 454.5 L159.7 454.5 L160.0 454.5 L160.2 454.5 L160.5 454.5 L160.7 454.5 L161.0 454.5 L161.2 454.5 L161.5 454.5 L161.7 454.5 L162.0 454.5 L162.2 454.5 L162.5 454.5 L162.7 454.5 L163.0 454.5 L163.2 454.5 L163.5 454.5 L163.7 454.5 L164.0 454.5 L164.2 454.5 L164.5 454.5 L164.7 454.5 L165.0 454.5 L165.2 454.5 L165.5 454.5 L165.7 454.5 L166.0 454.5 L166.2 454.5 L166.5 454.5 L166.7 454.5 L167.0 454.5 L167.2 454.5 L167.5 454.5 L167.7 454.5 L168.0 454.5 L168.2 454.5 L168.5 454.5 L168.7 454.5 L169.0 454.5 L169.2 454.5 L169.5 454.4 L169.7 454.3 L170.0 454.0 L170.2 453.6 L170.5 452.9 L170.7 452.0 L171.0 450.7 L171.2 449.3 L171.5 447.9 L171.7 446.8 L172.0 446.2 L172.2 446.2 L172.5 446.9 L172.7 448.0 L173.0 449.5 L173.2 450.9 L173.5 452.1 L173.7 453.0 L174.0 453.7 Z" fill="#5cb84f" fill-opacity="0.45" stroke="#3f9a45" stroke-width="0.35"/>
<path d="M146.7 454.5 L147.0 454.5 L147.2 454.5 L147.5 454.5 L147.7 454.5 L148.0 454.5 L148.2 454.4 L148.5 454.4 L148.7 454.3 L149.0 454.2 L149.2 454.0 L149.5 453.7 L149.7 453.5 L150.0 453.2 L150.2 453.1 L150.5 453.0 L150.7 453.0 L151.0 453.1 L151.2 453.3 L151.5 453.3 L151.7 453.2 L152.0 452.8 L152.2 451.9 L152.5 450.4 L152.7 448.3 L153.0 445.8 L153.2 443.2 L153.5 440.8 L153.7 439.0 L154.0 438.0 L154.2 437.7 L154.5 437.8 L154.7 437.8 L155.0 437.6 L155.2 436.9 L155.5 436.2 L155.7 435.9 L156.0 436.4 L156.2 437.7 L156.5 439.7 L156.7 441.8 L157.0 443.5 L157.2 444.3 L157.5 444.0 L157.7 442.7 L158.0 441.0 L158.2 439.3 L158.5 438.3 L158.7 438.3 L159.0 439.4 L159.2 441.1 L159.5 442.9 L159.7 444.3 L160.0 444.7 L160.2 444.0 L160.5 442.5 L160.7 440.7 L161.0 439.1 L161.2 438.2 L161.5 438.4 L161.7 439.6 L162.0 441.4 L162.2 443.2 L162.5 444.4 L162.7 444.7 L163.0 444.2 L163.2 443.0 L163.5 441.8 L163.7 440.9 L164.0 440.8 L164.2 441.4 L164.5 442.6 L164.7 443.9 L165.0 445.0 L165.2 445.7 L165.5 445.8 L165.7 445.7 L166.0 445.7 L166.2 446.0 L166.5 446.7 L166.7 447.8 L167.0 449.2 L167.2 450.5 L167.5 451.7 L167.7 452.3 L168.0 452.4 L168.2 451.5 L168.5 449.5 L168.7 446.0 L169.0 440.7 L169.2 433.7 L169.5 425.7 L169.7 417.5 L170.0 410.7 L170.2 406.4 L170.5 405.6 L170.7 408.2 L171.0 413.4 L171.2 419.9 L171.5 426.6 L171.7 432.5 L172.0 437.4 L172.2 441.2 L172.5 444.3 L172.7 446.8 L173.0 448.9 L173.2 450.6 L173.5 452.0 L173.7 453.0 L174.0 453.7" fill="none" stroke="#2f6e50" stroke-width="0.9"/>
<text x="121.30" y="455.50" font-size="2.7" text-anchor="end" fill="#888">0</text>
<line x1="122.20" y1="454.50" x2="123.50" y2="454.50" stroke="#444" stroke-width="0.4"/>
<text x="121.30" y="446.23" font-size="2.7" text-anchor="end" fill="#888">100</text>
<line x1="122.20" y1="445.23" x2="123.50" y2="445.23" stroke="#444" stroke-width="0.4"/>
<text x="121.30" y="436.95" font-size="2.7" text-anchor="end" fill="#888">200</text>
<line x1="122.20" y1="435.95" x2="123.50" y2="435.95" stroke="#444" stroke-width="0.4"/>
<text x="121.30" y="427.68" font-size="2.7" text-anchor="end" fill="#888">300</text>
<line x1="122.20" y1="426.68" x2="123.50" y2="426.68" stroke="#444" stroke-width="0.4"/>
<text x="121.30" y="418.41" font-size="2.7" text-anchor="end" fill="#888">400</text>
<line x1="122.20" y1="417.41" x2="123.50" y2="417.41" stroke="#444" stroke-width="0.4"/>
<text x="121.30" y="409.14" font-size="2.7" text-anchor="end" fill="#888">500</text>
<line x1="122.20" y1="408.14" x2="123.50" y2="408.14" stroke="#444" stroke-width="0.4"/>
<text x="123.50" y="459.30" font-size="2.7" text-anchor="middle" fill="#888">10</text>
<line x1="123.50" y1="454.50" x2="123.50" y2="455.70" stroke="#444" stroke-width="0.4"/>
<text x="132.50" y="459.30" font-size="2.7" text-anchor="middle" fill="#888">10</text>
<line x1="132.50" y1="454.50" x2="132.50" y2="455.70" stroke="#444" stroke-width="0.4"/>
<text x="141.50" y="459.30" font-size="2.7" text-anchor="middle" fill="#888">10</text>
<line x1="141.50" y1="454.50" x2="141.50" y2="455.70" stroke="#444" stroke-width="0.4"/>
<text x="150.50" y="459.30" font-size="2.7" text-anchor="middle" fill="#888">10</text>
<line x1="150.50" y1="454.50" x2="150.50" y2="455.70" stroke="#444" stroke-width="0.4"/>
<text x="159.50" y="459.30" font-size="2.7" text-anchor="middle" fill="#888">10</text>
<line x1="159.50" y1="454.50" x2="159.50" y2="455.70" stroke="#444" stroke-width="0.4"/>
<text x="168.50" y="459.30" font-size="2.7" text-anchor="middle" fill="#888">10</text>
<line x1="168.50" y1="454.50" x2="168.50" y2="455.70" stroke="#444" stroke-width="0.4"/>
<text x="177.50" y="459.30" font-size="2.7" text-anchor="middle" fill="#888">10</text>
<line x1="177.50" y1="454.50" x2="177.50" y2="455.70" stroke="#444" stroke-width="0.4"/>
<text x="150.50" y="467.50" font-size="6.2" text-anchor="middle" fill="#2a2a2a" textLength="44" lengthAdjust="spacingAndGlyphs">b Teff+Dec-MDSC</text>
<rect x="51.5" y="474.5" width="54.0" height="51.0" fill="#fff" stroke="#222" stroke-width="0.9"/>
<path d="M74.7 525.5 L75.0 525.5 L75.2 525.5 L75.5 525.4 L75.7 525.4 L75.9 525.2 L76.2 525.1 L76.4 524.8 L76.7 524.3 L76.9 523.8 L77.2 523.1 L77.4 522.3 L77.7 521.5 L77.9 520.7 L78.2 520.1 L78.4 519.6 L78.6 519.2 L78.9 518.8 L79.1 518.4 L79.4 517.6 L79.6 516.4 L79.9 514.8 L80.1 512.7 L80.4 510.4 L80.6 508.0 L80.9 506.0 L81.1 504.5 L81.3 503.6 L81.6 503.0 L81.8 502.5 L82.1 501.7 L82.3 500.2 L82.6 498.0 L82.8 495.4 L83.1 492.6 L83.3 490.2 L83.5 488.9 L83.8 489.0 L84.0 490.3 L84.3 492.5 L84.5 494.9 L84.8 496.8 L85.0 497.5 L85.3 496.6 L85.5 494.3 L85.8 490.9 L86.0 487.3 L86.2 484.3 L86.5 482.8 L86.7 483.1 L87.0 485.3 L87.2 488.9 L87.5 493.3 L87.7 497.6 L88.0 500.8 L88.2 502.6 L88.5 502.6 L88.7 501.2 L88.9 498.8 L89.2 496.1 L89.4 493.8 L89.7 492.5 L89.9 492.4 L90.2 493.4 L90.4 495.3 L90.7 497.4 L90.9 499.4 L91.2 500.9 L91.4 501.8 L91.6 502.2 L91.9 502.4 L92.1 502.6 L92.4 503.0 L92.6 503.7 L92.9 504.4 L93.1 505.2 L93.4 505.8 L93.6 506.1 L93.8 506.0 L94.1 505.6 L94.3 504.9 L94.6 504.2 L94.8 503.4 L95.1 502.9 L95.3 502.4 L95.6 501.9 L95.8 501.1 L96.1 499.6 L96.3 497.2 L96.5 493.9 L96.8 490.1 L97.0 486.1 L97.3 482.9 L97.5 480.9 L97.8 480.8 L98.0 482.5 L98.3 486.0 L98.5 490.5 L98.8 495.6 L99.0 500.6 L99.2 505.2 L99.5 509.2 L99.7 512.5 L100.0 515.2 L100.2 517.5 L100.5 519.4 L100.7 521.0 L101.0 522.3 L101.2 523.3 L101.5 524.1 L101.45 525.5 L74.72 525.5 Z" fill="#9ad785"/>
<path d="M74.7 525.5 L75.0 525.5 L75.2 525.5 L75.5 525.4 L75.7 525.4 L75.9 525.2 L76.2 525.1 L76.4 524.8 L76.7 524.3 L76.9 523.8 L77.2 523.1 L77.4 522.3 L77.7 521.5 L77.9 520.8 L78.2 520.3 L78.4 520.0 L78.6 520.1 L78.9 520.4 L79.1 521.0 L79.4 521.7 L79.6 522.5 L79.9 523.2 L80.1 523.9 L80.4 524.4 L80.6 524.8 L80.9 525.1 L81.1 525.3 L81.3 525.4 L81.6 525.4 L81.8 525.5 L82.1 525.5 L82.3 525.5 L82.6 525.5 L82.8 525.5 L83.1 525.5 L83.3 525.5 L83.5 525.5 L83.8 525.5 L84.0 525.5 L84.3 525.5 L84.5 525.5 L84.8 525.5 L85.0 525.5 L85.3 525.5 L85.5 525.5 L85.8 525.5 L86.0 525.5 L86.2 525.5 L86.5 525.5 L86.7 525.5 L87.0 525.5 L87.2 525.5 L87.5 525.5 L87.7 525.5 L88.0 525.5 L88.2 525.5 L88.5 525.5 L88.7 525.5 L88.9 525.5 L89.2 525.5 L89.4 525.5 L89.7 525.5 L89.9 525.5 L90.2 525.5 L90.4 525.5 L90.7 525.5 L90.9 525.5 L91.2 525.5 L91.4 525.5 L91.6 525.5 L91.9 525.5 L92.1 525.5 L92.4 525.5 L92.6 525.5 L92.9 525.5 L93.1 525.5 L93.4 525.5 L93.6 525.5 L93.8 525.5 L94.1 525.5 L94.3 525.5 L94.6 525.5 L94.8 525.5 L95.1 525.5 L95.3 525.5 L95.6 525.5 L95.8 525.5 L96.1 525.5 L96.3 525.5 L96.5 525.5 L96.8 525.5 L97.0 525.5 L97.3 525.5 L97.5 525.5 L97.8 525.5 L98.0 525.5 L98.3 525.5 L98.5 525.5 L98.8 525.5 L99.0 525.5 L99.2 525.5 L99.5 525.5 L99.7 525.5 L100.0 525.5 L100.2 525.5 L100.5 525.5 L100.7 525.5 L101.0 525.5 L101.2 525.5 L101.5 525.5 Z" fill="#5cb84f" fill-opacity="0.45" stroke="#3f9a45" stroke-width="0.35"/>
<path d="M74.7 525.5 L75.0 525.5 L75.2 525.5 L75.5 525.5 L75.7 525.5 L75.9 525.5 L76.2 525.5 L76.4 525.5 L76.7 525.5 L76.9 525.5 L77.2 525.5 L77.4 525.5 L77.7 525.4 L77.9 525.4 L78.2 525.3 L78.4 525.0 L78.6 524.6 L78.9 523.9 L79.1 522.9 L79.4 521.4 L79.6 519.5 L79.9 517.1 L80.1 514.4 L80.4 511.6 L80.6 509.1 L80.9 507.3 L81.1 506.3 L81.3 506.4 L81.6 507.5 L81.8 509.5 L82.1 512.0 L82.3 514.8 L82.6 517.5 L82.8 519.8 L83.1 521.7 L83.3 523.1 L83.5 524.1 L83.8 524.7 L84.0 525.1 L84.3 525.3 L84.5 525.4 L84.8 525.5 L85.0 525.5 L85.3 525.5 L85.5 525.5 L85.8 525.5 L86.0 525.5 L86.2 525.5 L86.5 525.5 L86.7 525.5 L87.0 525.5 L87.2 525.5 L87.5 525.5 L87.7 525.5 L88.0 525.5 L88.2 525.5 L88.5 525.5 L88.7 525.5 L88.9 525.5 L89.2 525.5 L89.4 525.5 L89.7 525.5 L89.9 525.5 L90.2 525.5 L90.4 525.5 L90.7 525.5 L90.9 525.5 L91.2 525.5 L91.4 525.5 L91.6 525.5 L91.9 525.5 L92.1 525.5 L92.4 525.5 L92.6 525.5 L92.9 525.5 L93.1 525.5 L93.4 525.5 L93.6 525.5 L93.8 525.5 L94.1 525.5 L94.3 525.5 L94.6 525.5 L94.8 525.5 L95.1 525.5 L95.3 525.5 L95.6 525.5 L95.8 525.5 L96.1 525.5 L96.3 525.5 L96.5 525.5 L96.8 525.5 L97.0 525.5 L97.3 525.5 L97.5 525.5 L97.8 525.5 L98.0 525.5 L98.3 525.5 L98.5 525.5 L98.8 525.5 L99.0 525.5 L99.2 525.5 L99.5 525.5 L99.7 525.5 L100.0 525.5 L100.2 525.5 L100.5 525.5 L100.7 525.5 L101.0 525.5 L101.2 525.5 L101.5 525.5 Z" fill="#5cb84f" fill-opacity="0.45" stroke="#3f9a45" stroke-width="0.35"/>
<path d="M74.7 525.5 L75.0 525.5 L75.2 525.5 L75.5 525.5 L75.7 525.5 L75.9 525.5 L76.2 525.5 L76.4 525.5 L76.7 525.5 L76.9 525.5 L77.2 525.5 L77.4 525.5 L77.7 525.5 L77.9 525.5 L78.2 525.5 L78.4 525.5 L78.6 525.5 L78.9 525.5 L79.1 525.5 L79.4 525.5 L79.6 525.5 L79.9 525.5 L80.1 525.4 L80.4 525.3 L80.6 525.1 L80.9 524.7 L81.1 524.0 L81.3 522.9 L81.6 521.1 L81.8 518.6 L82.1 515.1 L82.3 510.9 L82.6 506.1 L82.8 501.1 L83.1 496.5 L83.3 492.9 L83.5 490.9 L83.8 490.8 L84.0 492.6 L84.3 496.0 L84.5 500.6 L84.8 505.6 L85.0 510.4 L85.3 514.7 L85.5 518.2 L85.8 520.9 L86.0 522.7 L86.2 523.9 L86.5 524.6 L86.7 525.1 L87.0 525.3 L87.2 525.4 L87.5 525.5 L87.7 525.5 L88.0 525.5 L88.2 525.5 L88.5 525.5 L88.7 525.5 L88.9 525.5 L89.2 525.5 L89.4 525.5 L89.7 525.5 L89.9 525.5 L90.2 525.5 L90.4 525.5 L90.7 525.5 L90.9 525.5 L91.2 525.5 L91.4 525.5 L91.6 525.5 L91.9 525.5 L92.1 525.5 L92.4 525.5 L92.6 525.5 L92.9 525.5 L93.1 525.5 L93.4 525.5 L93.6 525.5 L93.8 525.5 L94.1 525.5 L94.3 525.5 L94.6 525.5 L94.8 525.5 L95.1 525.5 L95.3 525.5 L95.6 525.5 L95.8 525.5 L96.1 525.5 L96.3 525.5 L96.5 525.5 L96.8 525.5 L97.0 525.5 L97.3 525.5 L97.5 525.5 L97.8 525.5 L98.0 525.5 L98.3 525.5 L98.5 525.5 L98.8 525.5 L99.0 525.5 L99.2 525.5 L99.5 525.5 L99.7 525.5 L100.0 525.5 L100.2 525.5 L100.5 525.5 L100.7 525.5 L101.0 525.5 L101.2 525.5 L101.5 525.5 Z" fill="#5cb84f" fill-opacity="0.45" stroke="#3f9a45" stroke-width="0.35"/>
<path d="M74.7 525.5 L75.0 525.5 L75.2 525.5 L75.5 525.5 L75.7 525.5 L75.9 525.5 L76.2 525.5 L76.4 525.5 L76.7 525.5 L76.9 525.5 L77.2 525.5 L77.4 525.5 L77.7 525.5 L77.9 525.5 L78.2 525.5 L78.4 525.5 L78.6 525.5 L78.9 525.5 L79.1 525.5 L79.4 525.5 L79.6 525.5 L79.9 525.5 L80.1 525.5 L80.4 525.5 L80.6 525.5 L80.9 525.5 L81.1 525.5 L81.3 525.5 L81.6 525.5 L81.8 525.5 L82.1 525.5 L82.3 525.5 L82.6 525.5 L82.8 525.5 L83.1 525.4 L83.3 525.2 L83.5 525.0 L83.8 524.5 L84.0 523.6 L84.3 522.1 L84.5 519.9 L84.8 516.8 L85.0 512.6 L85.3 507.4 L85.5 501.5 L85.8 495.6 L86.0 490.1 L86.2 486.0 L86.5 483.8 L86.7 484.0 L87.0 486.4 L87.2 490.7 L87.5 496.2 L87.7 502.2 L88.0 508.0 L88.2 513.1 L88.5 517.2 L88.7 520.2 L88.9 522.3 L89.2 523.7 L89.4 524.5 L89.7 525.0 L89.9 525.3 L90.2 525.4 L90.4 525.5 L90.7 525.5 L90.9 525.5 L91.2 525.5 L91.4 525.5 L91.6 525.5 L91.9 525.5 L92.1 525.5 L92.4 525.5 L92.6 525.5 L92.9 525.5 L93.1 525.5 L93.4 525.5 L93.6 525.5 L93.8 525.5 L94.1 525.5 L94.3 525.5 L94.6 525.5 L94.8 525.5 L95.1 525.5 L95.3 525.5 L95.6 525.5 L95.8 525.5 L96.1 525.5 L96.3 525.5 L96.5 525.5 L96.8 525.5 L97.0 525.5 L97.3 525.5 L97.5 525.5 L97.8 525.5 L98.0 525.5 L98.3 525.5 L98.5 525.5 L98.8 525.5 L99.0 525.5 L99.2 525.5 L99.5 525.5 L99.7 525.5 L100.0 525.5 L100.2 525.5 L100.5 525.5 L100.7 525.5 L101.0 525.5 L101.2 525.5 L101.5 525.5 Z" fill="#5cb84f" fill-opacity="0.45" stroke="#3f9a45" stroke-width="0.35"/>
<path d="M74.7 525.5 L75.0 525.5 L75.2 525.5 L75.5 525.5 L75.7 525.5 L75.9 525.5 L76.2 525.5 L76.4 525.5 L76.7 525.5 L76.9 525.5 L77.2 525.5 L77.4 525.5 L77.7 525.5 L77.9 525.5 L78.2 525.5 L78.4 525.5 L78.6 525.5 L78.9 525.5 L79.1 525.5 L79.4 525.5 L79.6 525.5 L79.9 525.5 L80.1 525.5 L80.4 525.5 L80.6 525.5 L80.9 525.5 L81.1 525.5 L81.3 525.5 L81.6 525.5 L81.8 525.5 L82.1 525.5 L82.3 525.5 L82.6 525.5 L82.8 525.5 L83.1 525.5 L83.3 525.5 L83.5 525.5 L83.8 525.5 L84.0 525.5 L84.3 525.5 L84.5 525.5 L84.8 525.5 L85.0 525.5 L85.3 525.5 L85.5 525.5 L85.8 525.5 L86.0 525.5 L86.2 525.4 L86.5 525.3 L86.7 525.0 L87.0 524.6 L87.2 523.9 L87.5 522.7 L87.7 520.9 L88.0 518.3 L88.2 515.0 L88.5 511.0 L88.7 506.5 L88.9 502.1 L89.2 498.2 L89.4 495.4 L89.7 494.2 L89.9 494.7 L90.2 496.9 L90.4 500.3 L90.7 504.6 L90.9 509.1 L91.2 513.3 L91.4 517.0 L91.6 519.9 L91.9 522.0 L92.1 523.4 L92.4 524.3 L92.6 524.9 L92.9 525.2 L93.1 525.4 L93.4 525.4 L93.6 525.5 L93.8 525.5 L94.1 525.5 L94.3 525.5 L94.6 525.5 L94.8 525.5 L95.1 525.5 L95.3 525.5 L95.6 525.5 L95.8 525.5 L96.1 525.5 L96.3 525.5 L96.5 525.5 L96.8 525.5 L97.0 525.5 L97.3 525.5 L97.5 525.5 L97.8 525.5 L98.0 525.5 L98.3 525.5 L98.5 525.5 L98.8 525.5 L99.0 525.5 L99.2 525.5 L99.5 525.5 L99.7 525.5 L100.0 525.5 L100.2 525.5 L100.5 525.5 L100.7 525.5 L101.0 525.5 L101.2 525.5 L101.5 525.5 Z" fill="#5cb84f" fill-opacity="0.45" stroke="#3f9a45" stroke-width="0.35"/>
<path d="M74.7 525.5 L75.0 525.5 L75.2 525.5 L75.5 525.5 L75.7 525.5 L75.9 525.5 L76.2 525.5 L76.4 525.5 L76.7 525.5 L76.9 525.5 L77.2 525.5 L77.4 525.5 L77.7 525.5 L77.9 525.5 L78.2 525.5 L78.4 525.5 L78.6 525.5 L78.9 525.5 L79.1 525.5 L79.4 525.5 L79.6 525.5 L79.9 525.5 L80.1 525.5 L80.4 525.5 L80.6 525.5 L80.9 525.5 L81.1 525.5 L81.3 525.5 L81.6 525.5 L81.8 525.5 L82.1 525.5 L82.3 525.5 L82.6 525.5 L82.8 525.5 L83.1 525.5 L83.3 525.5 L83.5 525.5 L83.8 525.5 L84.0 525.5 L84.3 525.5 L84.5 525.5 L84.8 525.5 L85.0 525.5 L85.3 525.5 L85.5 525.5 L85.8 525.5 L86.0 525.5 L86.2 525.5 L86.5 525.5 L86.7 525.5 L87.0 525.5 L87.2 525.5 L87.5 525.5 L87.7 525.5 L88.0 525.5 L88.2 525.5 L88.5 525.5 L88.7 525.4 L88.9 525.3 L89.2 525.1 L89.4 524.8 L89.7 524.3 L89.9 523.4 L90.2 522.2 L90.4 520.5 L90.7 518.4 L90.9 516.0 L91.2 513.5 L91.4 511.2 L91.6 509.3 L91.9 508.1 L92.1 508.0 L92.4 508.7 L92.6 510.4 L92.9 512.6 L93.1 515.1 L93.4 517.6 L93.6 519.8 L93.8 521.6 L94.1 523.0 L94.3 524.0 L94.6 524.6 L94.8 525.0 L95.1 525.3 L95.3 525.4 L95.6 525.4 L95.8 525.5 L96.1 525.5 L96.3 525.5 L96.5 525.5 L96.8 525.5 L97.0 525.5 L97.3 525.5 L97.5 525.5 L97.8 525.5 L98.0 525.5 L98.3 525.5 L98.5 525.5 L98.8 525.5 L99.0 525.5 L99.2 525.5 L99.5 525.5 L99.7 525.5 L100.0 525.5 L100.2 525.5 L100.5 525.5 L100.7 525.5 L101.0 525.5 L101.2 525.5 L101.5 525.5 Z" fill="#5cb84f" fill-opacity="0.45" stroke="#3f9a45" stroke-width="0.35"/>
<path d="M74.7 525.5 L75.0 525.5 L75.2 525.5 L75.5 525.5 L75.7 525.5 L75.9 525.5 L76.2 525.5 L76.4 525.5 L76.7 525.5 L76.9 525.5 L77.2 525.5 L77.4 525.5 L77.7 525.5 L77.9 525.5 L78.2 525.5 L78.4 525.5 L78.6 525.5 L78.9 525.5 L79.1 525.5 L79.4 525.5 L79.6 525.5 L79.9 525.5 L80.1 525.5 L80.4 525.5 L80.6 525.5 L80.9 525.5 L81.1 525.5 L81.3 525.5 L81.6 525.5 L81.8 525.5 L82.1 525.5 L82.3 525.5 L82.6 525.5 L82.8 525.5 L83.1 525.5 L83.3 525.5 L83.5 525.5 L83.8 525.5 L84.0 525.5 L84.3 525.5 L84.5 525.5 L84.8 525.5 L85.0 525.5 L85.3 525.5 L85.5 525.5 L85.8 525.5 L86.0 525.5 L86.2 525.5 L86.5 525.5 L86.7 525.5 L87.0 525.5 L87.2 525.5 L87.5 525.5 L87.7 525.5 L88.0 525.5 L88.2 525.5 L88.5 525.5 L88.7 525.5 L88.9 525.5 L89.2 525.5 L89.4 525.5 L89.7 525.5 L89.9 525.5 L90.2 525.5 L90.4 525.4 L90.7 525.4 L90.9 525.2 L91.2 525.0 L91.4 524.7 L91.6 524.1 L91.9 523.4 L92.1 522.5 L92.4 521.3 L92.6 520.1 L92.9 518.9 L93.1 517.8 L93.4 517.1 L93.6 516.9 L93.8 517.1 L94.1 517.7 L94.3 518.7 L94.6 519.9 L94.8 521.1 L95.1 522.3 L95.3 523.3 L95.6 524.0 L95.8 524.6 L96.1 525.0 L96.3 525.2 L96.5 525.3 L96.8 525.4 L97.0 525.5 L97.3 525.5 L97.5 525.5 L97.8 525.5 L98.0 525.5 L98.3 525.5 L98.5 525.5 L98.8 525.5 L99.0 525.5 L99.2 525.5 L99.5 525.5 L99.7 525.5 L100.0 525.5 L100.2 525.5 L100.5 525.5 L100.7 525.5 L101.0 525.5 L101.2 525.5 L101.5 525.5 Z" fill="#5cb84f" fill-opacity="0.45" stroke="#3f9a45" stroke-width="0.35"/>
<path d="M74.7 525.5 L75.0 525.5 L75.2 525.5 L75.5 525.5 L75.7 525.5 L75.9 525.5 L76.2 525.5 L76.4 525.5 L76.7 525.5 L76.9 525.5 L77.2 525.5 L77.4 525.5 L77.7 525.5 L77.9 525.5 L78.2 525.5 L78.4 525.5 L78.6 525.5 L78.9 525.5 L79.1 525.5 L79.4 525.5 L79.6 525.5 L79.9 525.5 L80.1 525.5 L80.4 525.5 L80.6 525.5 L80.9 525.5 L81.1 525.5 L81.3 525.5 L81.6 525.5 L81.8 525.5 L82.1 525.5 L82.3 525.5 L82.6 525.5 L82.8 525.5 L83.1 525.5 L83.3 525.5 L83.5 525.5 L83.8 525.5 L84.0 525.5 L84.3 525.5 L84.5 525.5 L84.8 525.5 L85.0 525.5 L85.3 525.5 L85.5 525.5 L85.8 525.5 L86.0 525.5 L86.2 525.5 L86.5 525.5 L86.7 525.5 L87.0 525.5 L87.2 525.5 L87.5 525.5 L87.7 525.5 L88.0 525.5 L88.2 525.5 L88.5 525.5 L88.7 525.5 L88.9 525.5 L89.2 525.5 L89.4 525.5 L89.7 525.5 L89.9 525.5 L90.2 525.5 L90.4 525.5 L90.7 525.5 L90.9 525.5 L91.2 525.5 L91.4 525.5 L91.6 525.5 L91.9 525.4 L92.1 525.3 L92.4 525.1 L92.6 524.8 L92.9 524.3 L93.1 523.4 L93.4 522.2 L93.6 520.5 L93.8 518.4 L94.1 516.0 L94.3 513.5 L94.6 511.1 L94.8 509.2 L95.1 508.1 L95.3 507.9 L95.6 508.7 L95.8 510.4 L96.1 512.6 L96.3 515.1 L96.5 517.6 L96.8 519.8 L97.0 521.6 L97.3 523.0 L97.5 524.0 L97.8 524.6 L98.0 525.0 L98.3 525.3 L98.5 525.4 L98.8 525.4 L99.0 525.5 L99.2 525.5 L99.5 525.5 L99.7 525.5 L100.0 525.5 L100.2 525.5 L100.5 525.5 L100.7 525.5 L101.0 525.5 L101.2 525.5 L101.5 525.5 Z" fill="#5cb84f" fill-opacity="0.45" stroke="#3f9a45" stroke-width="0.35"/>
<path d="M74.7 525.5 L75.0 525.5 L75.2 525.5 L75.5 525.5 L75.7 525.5 L75.9 525.5 L76.2 525.5 L76.4 525.5 L76.7 525.5 L76.9 525.5 L77.2 525.5 L77.4 525.5 L77.7 525.5 L77.9 525.5 L78.2 525.5 L78.4 525.5 L78.6 525.5 L78.9 525.5 L79.1 525.5 L79.4 525.5 L79.6 525.5 L79.9 525.5 L80.1 525.5 L80.4 525.5 L80.6 525.5 L80.9 525.5 L81.1 525.5 L81.3 525.5 L81.6 525.5 L81.8 525.5 L82.1 525.5 L82.3 525.5 L82.6 525.5 L82.8 525.5 L83.1 525.5 L83.3 525.5 L83.5 525.5 L83.8 525.5 L84.0 525.5 L84.3 525.5 L84.5 525.5 L84.8 525.5 L85.0 525.5 L85.3 525.5 L85.5 525.5 L85.8 525.5 L86.0 525.5 L86.2 525.5 L86.5 525.5 L86.7 525.5 L87.0 525.5 L87.2 525.5 L87.5 525.5 L87.7 525.5 L88.0 525.5 L88.2 525.5 L88.5 525.5 L88.7 525.5 L88.9 525.5 L89.2 525.5 L89.4 525.5 L89.7 525.5 L89.9 525.5 L90.2 525.5 L90.4 525.5 L90.7 525.5 L90.9 525.5 L91.2 525.5 L91.4 525.5 L91.6 525.5 L91.9 525.5 L92.1 525.5 L92.4 525.5 L92.6 525.5 L92.9 525.5 L93.1 525.5 L93.4 525.5 L93.6 525.5 L93.8 525.5 L94.1 525.4 L94.3 525.3 L94.6 525.0 L94.8 524.5 L95.1 523.7 L95.3 522.3 L95.6 520.2 L95.8 517.2 L96.1 513.1 L96.3 508.0 L96.5 502.1 L96.8 496.0 L97.0 490.4 L97.3 486.0 L97.5 483.5 L97.8 483.3 L98.0 485.4 L98.3 489.5 L98.5 495.0 L98.8 501.1 L99.0 507.0 L99.2 512.3 L99.5 516.5 L99.7 519.8 L100.0 522.0 L100.2 523.5 L100.5 524.4 L100.7 525.0 L101.0 525.2 L101.2 525.4 L101.5 525.4 Z" fill="#5cb84f" fill-opacity="0.45" stroke="#3f9a45" stroke-width="0.35"/>
<path d="M74.7 525.5 L75.0 525.5 L75.2 525.5 L75.5 525.5 L75.7 525.5 L75.9 525.5 L76.2 525.5 L76.4 525.5 L76.7 525.5 L76.9 525.5 L77.2 525.5 L77.4 525.5 L77.7 525.5 L77.9 525.5 L78.2 525.5 L78.4 525.5 L78.6 525.5 L78.9 525.5 L79.1 525.5 L79.4 525.5 L79.6 525.5 L79.9 525.5 L80.1 525.5 L80.4 525.5 L80.6 525.5 L80.9 525.5 L81.1 525.5 L81.3 525.5 L81.6 525.5 L81.8 525.5 L82.1 525.5 L82.3 525.5 L82.6 525.5 L82.8 525.5 L83.1 525.5 L83.3 525.5 L83.5 525.5 L83.8 525.5 L84.0 525.5 L84.3 525.5 L84.5 525.5 L84.8 525.5 L85.0 525.5 L85.3 525.5 L85.5 525.5 L85.8 525.5 L86.0 525.5 L86.2 525.5 L86.5 525.5 L86.7 525.5 L87.0 525.5 L87.2 525.5 L87.5 525.5 L87.7 525.5 L88.0 525.5 L88.2 525.5 L88.5 525.5 L88.7 525.5 L88.9 525.5 L89.2 525.5 L89.4 525.5 L89.7 525.5 L89.9 525.5 L90.2 525.5 L90.4 525.5 L90.7 525.5 L90.9 525.5 L91.2 525.5 L91.4 525.5 L91.6 525.5 L91.9 525.5 L92.1 525.5 L92.4 525.5 L92.6 525.5 L92.9 525.5 L93.1 525.5 L93.4 525.5 L93.6 525.5 L93.8 525.5 L94.1 525.5 L94.3 525.5 L94.6 525.5 L94.8 525.5 L95.1 525.5 L95.3 525.5 L95.6 525.5 L95.8 525.5 L96.1 525.5 L96.3 525.5 L96.5 525.4 L96.8 525.3 L97.0 525.1 L97.3 524.9 L97.5 524.4 L97.8 523.9 L98.0 523.1 L98.3 522.2 L98.5 521.1 L98.8 520.1 L99.0 519.1 L99.2 518.4 L99.5 518.1 L99.7 518.2 L100.0 518.7 L100.2 519.5 L100.5 520.5 L100.7 521.5 L101.0 522.6 L101.2 523.4 L101.5 524.1 Z" fill="#5cb84f" fill-opacity="0.45" stroke="#3f9a45" stroke-width="0.35"/>
<path d="M74.7 525.5 L75.0 525.5 L75.2 525.5 L75.5 525.4 L75.7 525.4 L75.9 525.2 L76.2 525.1 L76.4 524.8 L76.7 524.3 L76.9 523.8 L77.2 523.1 L77.4 522.3 L77.7 521.5 L77.9 520.7 L78.2 520.1 L78.4 519.6 L78.6 519.2 L78.9 518.8 L79.1 518.4 L79.4 517.6 L79.6 516.4 L79.9 514.8 L80.1 512.7 L80.4 510.4 L80.6 508.0 L80.9 506.0 L81.1 504.5 L81.3 503.6 L81.6 503.0 L81.8 502.5 L82.1 501.7 L82.3 500.2 L82.6 498.0 L82.8 495.4 L83.1 492.6 L83.3 490.2 L83.5 488.9 L83.8 489.0 L84.0 490.3 L84.3 492.5 L84.5 494.9 L84.8 496.8 L85.0 497.5 L85.3 496.6 L85.5 494.3 L85.8 490.9 L86.0 487.3 L86.2 484.3 L86.5 482.8 L86.7 483.1 L87.0 485.3 L87.2 488.9 L87.5 493.3 L87.7 497.6 L88.0 500.8 L88.2 502.6 L88.5 502.6 L88.7 501.2 L88.9 498.8 L89.2 496.1 L89.4 493.8 L89.7 492.5 L89.9 492.4 L90.2 493.4 L90.4 495.3 L90.7 497.4 L90.9 499.4 L91.2 500.9 L91.4 501.8 L91.6 502.2 L91.9 502.4 L92.1 502.6 L92.4 503.0 L92.6 503.7 L92.9 504.4 L93.1 505.2 L93.4 505.8 L93.6 506.1 L93.8 506.0 L94.1 505.6 L94.3 504.9 L94.6 504.2 L94.8 503.4 L95.1 502.9 L95.3 502.4 L95.6 501.9 L95.8 501.1 L96.1 499.6 L96.3 497.2 L96.5 493.9 L96.8 490.1 L97.0 486.1 L97.3 482.9 L97.5 480.9 L97.8 480.8 L98.0 482.5 L98.3 486.0 L98.5 490.5 L98.8 495.6 L99.0 500.6 L99.2 505.2 L99.5 509.2 L99.7 512.5 L100.0 515.2 L100.2 517.5 L100.5 519.4 L100.7 521.0 L101.0 522.3 L101.2 523.3 L101.5 524.1" fill="none" stroke="#2f6e50" stroke-width="0.9"/>
<text x="49.30" y="526.50" font-size="2.7" text-anchor="end" fill="#888">0</text>
<line x1="50.20" y1="525.50" x2="51.50" y2="525.50" stroke="#444" stroke-width="0.4"/>
<text x="49.30" y="517.23" font-size="2.7" text-anchor="end" fill="#888">100</text>
<line x1="50.20" y1="516.23" x2="51.50" y2="516.23" stroke="#444" stroke-width="0.4"/>
<text x="49.30" y="507.95" font-size="2.7" text-anchor="end" fill="#888">200</text>
<line x1="50.20" y1="506.95" x2="51.50" y2="506.95" stroke="#444" stroke-width="0.4"/>
<text x="49.30" y="498.68" font-size="2.7" text-anchor="end" fill="#888">300</text>
<line x1="50.20" y1="497.68" x2="51.50" y2="497.68" stroke="#444" stroke-width="0.4"/>
<text x="49.30" y="489.41" font-size="2.7" text-anchor="end" fill="#888">400</text>
<line x1="50.20" y1="488.41" x2="51.50" y2="488.41" stroke="#444" stroke-width="0.4"/>
<text x="49.30" y="480.14" font-size="2.7" text-anchor="end" fill="#888">500</text>
<line x1="50.20" y1="479.14" x2="51.50" y2="479.14" stroke="#444" stroke-width="0.4"/>
<text x="51.50" y="530.30" font-size="2.7" text-anchor="middle" fill="#888">10</text>
<line x1="51.50" y1="525.50" x2="51.50" y2="526.70" stroke="#444" stroke-width="0.4"/>
<text x="60.50" y="530.30" font-size="2.7" text-anchor="middle" fill="#888">10</text>
<line x1="60.50" y1="525.50" x2="60.50" y2="526.70" stroke="#444" stroke-width="0.4"/>
<text x="69.50" y="530.30" font-size="2.7" text-anchor="middle" fill="#888">10</text>
<line x1="69.50" y1="525.50" x2="69.50" y2="526.70" stroke="#444" stroke-width="0.4"/>
<text x="78.50" y="530.30" font-size="2.7" text-anchor="middle" fill="#888">10</text>
<line x1="78.50" y1="525.50" x2="78.50" y2="526.70" stroke="#444" stroke-width="0.4"/>
<text x="87.50" y="530.30" font-size="2.7" text-anchor="middle" fill="#888">10</text>
<line x1="87.50" y1="525.50" x2="87.50" y2="526.70" stroke="#444" stroke-width="0.4"/>
<text x="96.50" y="530.30" font-size="2.7" text-anchor="middle" fill="#888">10</text>
<line x1="96.50" y1="525.50" x2="96.50" y2="526.70" stroke="#444" stroke-width="0.4"/>
<text x="105.50" y="530.30" font-size="2.7" text-anchor="middle" fill="#888">10</text>
<line x1="105.50" y1="525.50" x2="105.50" y2="526.70" stroke="#444" stroke-width="0.4"/>
<text x="78.50" y="538.50" font-size="6.2" text-anchor="middle" fill="#2a2a2a" textLength="44" lengthAdjust="spacingAndGlyphs">c Teff+PBS-MDSC</text>
<rect x="123.5" y="474.5" width="54.0" height="51.0" fill="#fff" stroke="#222" stroke-width="0.9"/>
<path d="M147.3 525.5 L147.5 525.4 L147.7 525.4 L148.0 525.3 L148.2 525.2 L148.4 525.1 L148.7 524.8 L148.9 524.5 L149.1 523.9 L149.4 523.2 L149.6 522.1 L149.8 520.7 L150.1 519.1 L150.3 517.3 L150.6 515.6 L150.8 514.2 L151.0 513.3 L151.3 512.9 L151.5 512.9 L151.7 513.0 L152.0 512.8 L152.2 512.1 L152.4 510.6 L152.7 508.3 L152.9 505.5 L153.1 502.9 L153.4 500.9 L153.6 500.0 L153.8 500.4 L154.1 501.8 L154.3 503.7 L154.6 505.4 L154.8 506.4 L155.0 506.2 L155.3 504.7 L155.5 502.5 L155.7 500.1 L156.0 498.2 L156.2 497.5 L156.4 498.0 L156.7 499.8 L156.9 502.4 L157.1 504.9 L157.4 506.7 L157.6 507.5 L157.8 507.2 L158.1 505.9 L158.3 504.4 L158.6 503.1 L158.8 502.5 L159.0 503.1 L159.3 504.5 L159.5 506.6 L159.7 508.7 L160.0 510.4 L160.2 511.3 L160.4 511.5 L160.7 511.1 L160.9 510.5 L161.1 510.1 L161.4 510.3 L161.6 511.2 L161.8 512.6 L162.1 514.2 L162.3 515.8 L162.6 516.9 L162.8 517.4 L163.0 517.4 L163.3 516.8 L163.5 516.1 L163.7 515.5 L164.0 515.3 L164.2 515.6 L164.4 516.3 L164.7 517.4 L164.9 518.5 L165.1 519.5 L165.4 520.2 L165.6 520.5 L165.9 520.4 L166.1 520.0 L166.3 519.6 L166.6 519.4 L166.8 519.4 L167.0 519.7 L167.3 520.0 L167.5 520.3 L167.7 520.2 L168.0 519.3 L168.2 517.2 L168.4 513.8 L168.7 508.8 L168.9 502.6 L169.1 495.7 L169.4 489.0 L169.6 483.6 L169.9 480.3 L170.1 479.7 L170.3 482.0 L170.6 486.7 L170.8 492.9 L171.0 499.6 L171.3 506.0 L171.5 511.5 L171.7 515.8 L172.0 519.0 L172.2 521.3 L172.4 522.8 L172.7 523.8 L172.9 524.5 L172.91 525.5 L147.26 525.5 Z" fill="#9ad785"/>
<path d="M147.3 525.5 L147.5 525.5 L147.7 525.5 L148.0 525.5 L148.2 525.4 L148.4 525.4 L148.7 525.2 L148.9 524.9 L149.1 524.4 L149.4 523.7 L149.6 522.6 L149.8 521.2 L150.1 519.5 L150.3 517.7 L150.6 516.0 L150.8 514.6 L151.0 513.8 L151.3 513.8 L151.5 514.5 L151.7 515.9 L152.0 517.6 L152.2 519.4 L152.4 521.1 L152.7 522.5 L152.9 523.6 L153.1 524.4 L153.4 524.9 L153.6 525.2 L153.8 525.3 L154.1 525.4 L154.3 525.5 L154.6 525.5 L154.8 525.5 L155.0 525.5 L155.3 525.5 L155.5 525.5 L155.7 525.5 L156.0 525.5 L156.2 525.5 L156.4 525.5 L156.7 525.5 L156.9 525.5 L157.1 525.5 L157.4 525.5 L157.6 525.5 L157.8 525.5 L158.1 525.5 L158.3 525.5 L158.6 525.5 L158.8 525.5 L159.0 525.5 L159.3 525.5 L159.5 525.5 L159.7 525.5 L160.0 525.5 L160.2 525.5 L160.4 525.5 L160.7 525.5 L160.9 525.5 L161.1 525.5 L161.4 525.5 L161.6 525.5 L161.8 525.5 L162.1 525.5 L162.3 525.5 L162.6 525.5 L162.8 525.5 L163.0 525.5 L163.3 525.5 L163.5 525.5 L163.7 525.5 L164.0 525.5 L164.2 525.5 L164.4 525.5 L164.7 525.5 L164.9 525.5 L165.1 525.5 L165.4 525.5 L165.6 525.5 L165.9 525.5 L166.1 525.5 L166.3 525.5 L166.6 525.5 L166.8 525.5 L167.0 525.5 L167.3 525.5 L167.5 525.5 L167.7 525.5 L168.0 525.5 L168.2 525.5 L168.4 525.5 L168.7 525.5 L168.9 525.5 L169.1 525.5 L169.4 525.5 L169.6 525.5 L169.9 525.5 L170.1 525.5 L170.3 525.5 L170.6 525.5 L170.8 525.5 L171.0 525.5 L171.3 525.5 L171.5 525.5 L171.7 525.5 L172.0 525.5 L172.2 525.5 L172.4 525.5 L172.7 525.5 L172.9 525.5 Z" fill="#5cb84f" fill-opacity="0.45" stroke="#3f9a45" stroke-width="0.35"/>
<path d="M147.3 525.5 L147.5 525.5 L147.7 525.5 L148.0 525.5 L148.2 525.5 L148.4 525.5 L148.7 525.5 L148.9 525.5 L149.1 525.5 L149.4 525.5 L149.6 525.5 L149.8 525.5 L150.1 525.5 L150.3 525.5 L150.6 525.4 L150.8 525.3 L151.0 525.1 L151.3 524.6 L151.5 523.9 L151.7 522.6 L152.0 520.8 L152.2 518.2 L152.4 514.9 L152.7 511.2 L152.9 507.4 L153.1 504.1 L153.4 501.7 L153.6 500.8 L153.8 501.5 L154.1 503.6 L154.3 506.9 L154.6 510.6 L154.8 514.4 L155.0 517.7 L155.3 520.4 L155.5 522.4 L155.7 523.7 L156.0 524.5 L156.2 525.0 L156.4 525.3 L156.7 525.4 L156.9 525.5 L157.1 525.5 L157.4 525.5 L157.6 525.5 L157.8 525.5 L158.1 525.5 L158.3 525.5 L158.6 525.5 L158.8 525.5 L159.0 525.5 L159.3 525.5 L159.5 525.5 L159.7 525.5 L160.0 525.5 L160.2 525.5 L160.4 525.5 L160.7 525.5 L160.9 525.5 L161.1 525.5 L161.4 525.5 L161.6 525.5 L161.8 525.5 L162.1 525.5 L162.3 525.5 L162.6 525.5 L162.8 525.5 L163.0 525.5 L163.3 525.5 L163.5 525.5 L163.7 525.5 L164.0 525.5 L164.2 525.5 L164.4 525.5 L164.7 525.5 L164.9 525.5 L165.1 525.5 L165.4 525.5 L165.6 525.5 L165.9 525.5 L166.1 525.5 L166.3 525.5 L166.6 525.5 L166.8 525.5 L167.0 525.5 L167.3 525.5 L167.5 525.5 L167.7 525.5 L168.0 525.5 L168.2 525.5 L168.4 525.5 L168.7 525.5 L168.9 525.5 L169.1 525.5 L169.4 525.5 L169.6 525.5 L169.9 525.5 L170.1 525.5 L170.3 525.5 L170.6 525.5 L170.8 525.5 L171.0 525.5 L171.3 525.5 L171.5 525.5 L171.7 525.5 L172.0 525.5 L172.2 525.5 L172.4 525.5 L172.7 525.5 L172.9 525.5 Z" fill="#5cb84f" fill-opacity="0.45" stroke="#3f9a45" stroke-width="0.35"/>
<path d="M147.3 525.5 L147.5 525.5 L147.7 525.5 L148.0 525.5 L148.2 525.5 L148.4 525.5 L148.7 525.5 L148.9 525.5 L149.1 525.5 L149.4 525.5 L149.6 525.5 L149.8 525.5 L150.1 525.5 L150.3 525.5 L150.6 525.5 L150.8 525.5 L151.0 525.5 L151.3 525.5 L151.5 525.5 L151.7 525.5 L152.0 525.5 L152.2 525.5 L152.4 525.5 L152.7 525.5 L152.9 525.5 L153.1 525.4 L153.4 525.3 L153.6 525.0 L153.8 524.6 L154.1 523.7 L154.3 522.4 L154.6 520.3 L154.8 517.5 L155.0 513.9 L155.3 509.8 L155.5 505.7 L155.7 502.0 L156.0 499.4 L156.2 498.3 L156.4 499.0 L156.7 501.4 L156.9 504.9 L157.1 509.1 L157.4 513.2 L157.6 516.9 L157.8 519.9 L158.1 522.0 L158.3 523.5 L158.6 524.4 L158.8 525.0 L159.0 525.2 L159.3 525.4 L159.5 525.5 L159.7 525.5 L160.0 525.5 L160.2 525.5 L160.4 525.5 L160.7 525.5 L160.9 525.5 L161.1 525.5 L161.4 525.5 L161.6 525.5 L161.8 525.5 L162.1 525.5 L162.3 525.5 L162.6 525.5 L162.8 525.5 L163.0 525.5 L163.3 525.5 L163.5 525.5 L163.7 525.5 L164.0 525.5 L164.2 525.5 L164.4 525.5 L164.7 525.5 L164.9 525.5 L165.1 525.5 L165.4 525.5 L165.6 525.5 L165.9 525.5 L166.1 525.5 L166.3 525.5 L166.6 525.5 L166.8 525.5 L167.0 525.5 L167.3 525.5 L167.5 525.5 L167.7 525.5 L168.0 525.5 L168.2 525.5 L168.4 525.5 L168.7 525.5 L168.9 525.5 L169.1 525.5 L169.4 525.5 L169.6 525.5 L169.9 525.5 L170.1 525.5 L170.3 525.5 L170.6 525.5 L170.8 525.5 L171.0 525.5 L171.3 525.5 L171.5 525.5 L171.7 525.5 L172.0 525.5 L172.2 525.5 L172.4 525.5 L172.7 525.5 L172.9 525.5 Z" fill="#5cb84f" fill-opacity="0.45" stroke="#3f9a45" stroke-width="0.35"/>
<path d="M147.3 525.5 L147.5 525.5 L147.7 525.5 L148.0 525.5 L148.2 525.5 L148.4 525.5 L148.7 525.5 L148.9 525.5 L149.1 525.5 L149.4 525.5 L149.6 525.5 L149.8 525.5 L150.1 525.5 L150.3 525.5 L150.6 525.5 L150.8 525.5 L151.0 525.5 L151.3 525.5 L151.5 525.5 L151.7 525.5 L152.0 525.5 L152.2 525.5 L152.4 525.5 L152.7 525.5 L152.9 525.5 L153.1 525.5 L153.4 525.5 L153.6 525.5 L153.8 525.5 L154.1 525.5 L154.3 525.5 L154.6 525.5 L154.8 525.5 L155.0 525.5 L155.3 525.5 L155.5 525.5 L155.7 525.4 L156.0 525.3 L156.2 525.1 L156.4 524.7 L156.7 524.1 L156.9 523.0 L157.1 521.3 L157.4 519.0 L157.6 516.2 L157.8 512.8 L158.1 509.4 L158.3 506.4 L158.6 504.3 L158.8 503.4 L159.0 504.0 L159.3 505.9 L159.5 508.7 L159.7 512.1 L160.0 515.5 L160.2 518.5 L160.4 520.9 L160.7 522.7 L160.9 523.9 L161.1 524.6 L161.4 525.1 L161.6 525.3 L161.8 525.4 L162.1 525.5 L162.3 525.5 L162.6 525.5 L162.8 525.5 L163.0 525.5 L163.3 525.5 L163.5 525.5 L163.7 525.5 L164.0 525.5 L164.2 525.5 L164.4 525.5 L164.7 525.5 L164.9 525.5 L165.1 525.5 L165.4 525.5 L165.6 525.5 L165.9 525.5 L166.1 525.5 L166.3 525.5 L166.6 525.5 L166.8 525.5 L167.0 525.5 L167.3 525.5 L167.5 525.5 L167.7 525.5 L168.0 525.5 L168.2 525.5 L168.4 525.5 L168.7 525.5 L168.9 525.5 L169.1 525.5 L169.4 525.5 L169.6 525.5 L169.9 525.5 L170.1 525.5 L170.3 525.5 L170.6 525.5 L170.8 525.5 L171.0 525.5 L171.3 525.5 L171.5 525.5 L171.7 525.5 L172.0 525.5 L172.2 525.5 L172.4 525.5 L172.7 525.5 L172.9 525.5 Z" fill="#5cb84f" fill-opacity="0.45" stroke="#3f9a45" stroke-width="0.35"/>
<path d="M147.3 525.5 L147.5 525.5 L147.7 525.5 L148.0 525.5 L148.2 525.5 L148.4 525.5 L148.7 525.5 L148.9 525.5 L149.1 525.5 L149.4 525.5 L149.6 525.5 L149.8 525.5 L150.1 525.5 L150.3 525.5 L150.6 525.5 L150.8 525.5 L151.0 525.5 L151.3 525.5 L151.5 525.5 L151.7 525.5 L152.0 525.5 L152.2 525.5 L152.4 525.5 L152.7 525.5 L152.9 525.5 L153.1 525.5 L153.4 525.5 L153.6 525.5 L153.8 525.5 L154.1 525.5 L154.3 525.5 L154.6 525.5 L154.8 525.5 L155.0 525.5 L155.3 525.5 L155.5 525.5 L155.7 525.5 L156.0 525.5 L156.2 525.5 L156.4 525.5 L156.7 525.5 L156.9 525.5 L157.1 525.5 L157.4 525.5 L157.6 525.5 L157.8 525.5 L158.1 525.5 L158.3 525.4 L158.6 525.3 L158.8 525.2 L159.0 524.8 L159.3 524.3 L159.5 523.4 L159.7 522.1 L160.0 520.4 L160.2 518.4 L160.4 516.1 L160.7 513.9 L160.9 512.2 L161.1 511.1 L161.4 510.9 L161.6 511.7 L161.8 513.3 L162.1 515.4 L162.3 517.6 L162.6 519.8 L162.8 521.6 L163.0 523.0 L163.3 524.0 L163.5 524.7 L163.7 525.1 L164.0 525.3 L164.2 525.4 L164.4 525.5 L164.7 525.5 L164.9 525.5 L165.1 525.5 L165.4 525.5 L165.6 525.5 L165.9 525.5 L166.1 525.5 L166.3 525.5 L166.6 525.5 L166.8 525.5 L167.0 525.5 L167.3 525.5 L167.5 525.5 L167.7 525.5 L168.0 525.5 L168.2 525.5 L168.4 525.5 L168.7 525.5 L168.9 525.5 L169.1 525.5 L169.4 525.5 L169.6 525.5 L169.9 525.5 L170.1 525.5 L170.3 525.5 L170.6 525.5 L170.8 525.5 L171.0 525.5 L171.3 525.5 L171.5 525.5 L171.7 525.5 L172.0 525.5 L172.2 525.5 L172.4 525.5 L172.7 525.5 L172.9 525.5 Z" fill="#5cb84f" fill-opacity="0.45" stroke="#3f9a45" stroke-width="0.35"/>
<path d="M147.3 525.5 L147.5 525.5 L147.7 525.5 L148.0 525.5 L148.2 525.5 L148.4 525.5 L148.7 525.5 L148.9 525.5 L149.1 525.5 L149.4 525.5 L149.6 525.5 L149.8 525.5 L150.1 525.5 L150.3 525.5 L150.6 525.5 L150.8 525.5 L151.0 525.5 L151.3 525.5 L151.5 525.5 L151.7 525.5 L152.0 525.5 L152.2 525.5 L152.4 525.5 L152.7 525.5 L152.9 525.5 L153.1 525.5 L153.4 525.5 L153.6 525.5 L153.8 525.5 L154.1 525.5 L154.3 525.5 L154.6 525.5 L154.8 525.5 L155.0 525.5 L155.3 525.5 L155.5 525.5 L155.7 525.5 L156.0 525.5 L156.2 525.5 L156.4 525.5 L156.7 525.5 L156.9 525.5 L157.1 525.5 L157.4 525.5 L157.6 525.5 L157.8 525.5 L158.1 525.5 L158.3 525.5 L158.6 525.5 L158.8 525.5 L159.0 525.5 L159.3 525.5 L159.5 525.5 L159.7 525.5 L160.0 525.5 L160.2 525.5 L160.4 525.5 L160.7 525.5 L160.9 525.5 L161.1 525.4 L161.4 525.3 L161.6 525.2 L161.8 524.9 L162.1 524.4 L162.3 523.6 L162.6 522.6 L162.8 521.3 L163.0 519.9 L163.3 518.3 L163.5 517.0 L163.7 516.0 L164.0 515.6 L164.2 515.8 L164.4 516.6 L164.7 517.9 L164.9 519.4 L165.1 520.9 L165.4 522.3 L165.6 523.4 L165.9 524.2 L166.1 524.8 L166.3 525.1 L166.6 525.3 L166.8 525.4 L167.0 525.5 L167.3 525.5 L167.5 525.5 L167.7 525.5 L168.0 525.5 L168.2 525.5 L168.4 525.5 L168.7 525.5 L168.9 525.5 L169.1 525.5 L169.4 525.5 L169.6 525.5 L169.9 525.5 L170.1 525.5 L170.3 525.5 L170.6 525.5 L170.8 525.5 L171.0 525.5 L171.3 525.5 L171.5 525.5 L171.7 525.5 L172.0 525.5 L172.2 525.5 L172.4 525.5 L172.7 525.5 L172.9 525.5 Z" fill="#5cb84f" fill-opacity="0.45" stroke="#3f9a45" stroke-width="0.35"/>
<path d="M147.3 525.5 L147.5 525.5 L147.7 525.5 L148.0 525.5 L148.2 525.5 L148.4 525.5 L148.7 525.5 L148.9 525.5 L149.1 525.5 L149.4 525.5 L149.6 525.5 L149.8 525.5 L150.1 525.5 L150.3 525.5 L150.6 525.5 L150.8 525.5 L151.0 525.5 L151.3 525.5 L151.5 525.5 L151.7 525.5 L152.0 525.5 L152.2 525.5 L152.4 525.5 L152.7 525.5 L152.9 525.5 L153.1 525.5 L153.4 525.5 L153.6 525.5 L153.8 525.5 L154.1 525.5 L154.3 525.5 L154.6 525.5 L154.8 525.5 L155.0 525.5 L155.3 525.5 L155.5 525.5 L155.7 525.5 L156.0 525.5 L156.2 525.5 L156.4 525.5 L156.7 525.5 L156.9 525.5 L157.1 525.5 L157.4 525.5 L157.6 525.5 L157.8 525.5 L158.1 525.5 L158.3 525.5 L158.6 525.5 L158.8 525.5 L159.0 525.5 L159.3 525.5 L159.5 525.5 L159.7 525.5 L160.0 525.5 L160.2 525.5 L160.4 525.5 L160.7 525.5 L160.9 525.5 L161.1 525.5 L161.4 525.5 L161.6 525.5 L161.8 525.5 L162.1 525.5 L162.3 525.5 L162.6 525.5 L162.8 525.5 L163.0 525.5 L163.3 525.5 L163.5 525.5 L163.7 525.5 L164.0 525.4 L164.2 525.4 L164.4 525.2 L164.7 525.0 L164.9 524.6 L165.1 524.1 L165.4 523.4 L165.6 522.6 L165.9 521.6 L166.1 520.8 L166.3 520.1 L166.6 519.7 L166.8 519.6 L167.0 519.9 L167.3 520.6 L167.5 521.4 L167.7 522.4 L168.0 523.2 L168.2 524.0 L168.4 524.5 L168.7 524.9 L168.9 525.2 L169.1 525.3 L169.4 525.4 L169.6 525.5 L169.9 525.5 L170.1 525.5 L170.3 525.5 L170.6 525.5 L170.8 525.5 L171.0 525.5 L171.3 525.5 L171.5 525.5 L171.7 525.5 L172.0 525.5 L172.2 525.5 L172.4 525.5 L172.7 525.5 L172.9 525.5 Z" fill="#5cb84f" fill-opacity="0.45" stroke="#3f9a45" stroke-width="0.35"/>
<path d="M147.3 525.5 L147.5 525.5 L147.7 525.5 L148.0 525.5 L148.2 525.5 L148.4 525.5 L148.7 525.5 L148.9 525.5 L149.1 525.5 L149.4 525.5 L149.6 525.5 L149.8 525.5 L150.1 525.5 L150.3 525.5 L150.6 525.5 L150.8 525.5 L151.0 525.5 L151.3 525.5 L151.5 525.5 L151.7 525.5 L152.0 525.5 L152.2 525.5 L152.4 525.5 L152.7 525.5 L152.9 525.5 L153.1 525.5 L153.4 525.5 L153.6 525.5 L153.8 525.5 L154.1 525.5 L154.3 525.5 L154.6 525.5 L154.8 525.5 L155.0 525.5 L155.3 525.5 L155.5 525.5 L155.7 525.5 L156.0 525.5 L156.2 525.5 L156.4 525.5 L156.7 525.5 L156.9 525.5 L157.1 525.5 L157.4 525.5 L157.6 525.5 L157.8 525.5 L158.1 525.5 L158.3 525.5 L158.6 525.5 L158.8 525.5 L159.0 525.5 L159.3 525.5 L159.5 525.5 L159.7 525.5 L160.0 525.5 L160.2 525.5 L160.4 525.5 L160.7 525.5 L160.9 525.5 L161.1 525.5 L161.4 525.5 L161.6 525.5 L161.8 525.5 L162.1 525.5 L162.3 525.5 L162.6 525.5 L162.8 525.5 L163.0 525.5 L163.3 525.5 L163.5 525.5 L163.7 525.5 L164.0 525.5 L164.2 525.5 L164.4 525.5 L164.7 525.5 L164.9 525.5 L165.1 525.5 L165.4 525.5 L165.6 525.5 L165.9 525.5 L166.1 525.5 L166.3 525.5 L166.6 525.5 L166.8 525.4 L167.0 525.3 L167.3 525.0 L167.5 524.4 L167.7 523.3 L168.0 521.6 L168.2 518.8 L168.4 514.7 L168.7 509.4 L168.9 503.0 L169.1 496.0 L169.4 489.2 L169.6 483.8 L169.9 480.7 L170.1 480.4 L170.3 482.9 L170.6 487.9 L170.8 494.4 L171.0 501.5 L171.3 508.1 L171.5 513.7 L171.7 518.0 L172.0 521.0 L172.2 523.0 L172.4 524.2 L172.7 524.9 L172.9 525.2 Z" fill="#5cb84f" fill-opacity="0.45" stroke="#3f9a45" stroke-width="0.35"/>
<path d="M147.3 525.5 L147.5 525.4 L147.7 525.4 L148.0 525.3 L148.2 525.2 L148.4 525.1 L148.7 524.8 L148.9 524.5 L149.1 523.9 L149.4 523.2 L149.6 522.1 L149.8 520.7 L150.1 519.1 L150.3 517.3 L150.6 515.6 L150.8 514.2 L151.0 513.3 L151.3 512.9 L151.5 512.9 L151.7 513.0 L152.0 512.8 L152.2 512.1 L152.4 510.6 L152.7 508.3 L152.9 505.5 L153.1 502.9 L153.4 500.9 L153.6 500.0 L153.8 500.4 L154.1 501.8 L154.3 503.7 L154.6 505.4 L154.8 506.4 L155.0 506.2 L155.3 504.7 L155.5 502.5 L155.7 500.1 L156.0 498.2 L156.2 497.5 L156.4 498.0 L156.7 499.8 L156.9 502.4 L157.1 504.9 L157.4 506.7 L157.6 507.5 L157.8 507.2 L158.1 505.9 L158.3 504.4 L158.6 503.1 L158.8 502.5 L159.0 503.1 L159.3 504.5 L159.5 506.6 L159.7 508.7 L160.0 510.4 L160.2 511.3 L160.4 511.5 L160.7 511.1 L160.9 510.5 L161.1 510.1 L161.4 510.3 L161.6 511.2 L161.8 512.6 L162.1 514.2 L162.3 515.8 L162.6 516.9 L162.8 517.4 L163.0 517.4 L163.3 516.8 L163.5 516.1 L163.7 515.5 L164.0 515.3 L164.2 515.6 L164.4 516.3 L164.7 517.4 L164.9 518.5 L165.1 519.5 L165.4 520.2 L165.6 520.5 L165.9 520.4 L166.1 520.0 L166.3 519.6 L166.6 519.4 L166.8 519.4 L167.0 519.7 L167.3 520.0 L167.5 520.3 L167.7 520.2 L168.0 519.3 L168.2 517.2 L168.4 513.8 L168.7 508.8 L168.9 502.6 L169.1 495.7 L169.4 489.0 L169.6 483.6 L169.9 480.3 L170.1 479.7 L170.3 482.0 L170.6 486.7 L170.8 492.9 L171.0 499.6 L171.3 506.0 L171.5 511.5 L171.7 515.8 L172.0 519.0 L172.2 521.3 L172.4 522.8 L172.7 523.8 L172.9 524.5" fill="none" stroke="#2f6e50" stroke-width="0.9"/>
<text x="121.30" y="526.50" font-size="2.7" text-anchor="end" fill="#888">0</text>
<line x1="122.20" y1="525.50" x2="123.50" y2="525.50" stroke="#444" stroke-width="0.4"/>
<text x="121.30" y="517.23" font-size="2.7" text-anchor="end" fill="#888">100</text>
<line x1="122.20" y1="516.23" x2="123.50" y2="516.23" stroke="#444" stroke-width="0.4"/>
<text x="121.30" y="507.95" font-size="2.7" text-anchor="end" fill="#888">200</text>
<line x1="122.20" y1="506.95" x2="123.50" y2="506.95" stroke="#444" stroke-width="0.4"/>
<text x="121.30" y="498.68" font-size="2.7" text-anchor="end" fill="#888">300</text>
<line x1="122.20" y1="497.68" x2="123.50" y2="497.68" stroke="#444" stroke-width="0.4"/>
<text x="121.30" y="489.41" font-size="2.7" text-anchor="end" fill="#888">400</text>
<line x1="122.20" y1="488.41" x2="123.50" y2="488.41" stroke="#444" stroke-width="0.4"/>
<text x="121.30" y="480.14" font-size="2.7" text-anchor="end" fill="#888">500</text>
<line x1="122.20" y1="479.14" x2="123.50" y2="479.14" stroke="#444" stroke-width="0.4"/>
<text x="123.50" y="530.30" font-size="2.7" text-anchor="middle" fill="#888">10</text>
<line x1="123.50" y1="525.50" x2="123.50" y2="526.70" stroke="#444" stroke-width="0.4"/>
<text x="132.50" y="530.30" font-size="2.7" text-anchor="middle" fill="#888">10</text>
<line x1="132.50" y1="525.50" x2="132.50" y2="526.70" stroke="#444" stroke-width="0.4"/>
<text x="141.50" y="530.30" font-size="2.7" text-anchor="middle" fill="#888">10</text>
<line x1="141.50" y1="525.50" x2="141.50" y2="526.70" stroke="#444" stroke-width="0.4"/>
<text x="150.50" y="530.30" font-size="2.7" text-anchor="middle" fill="#888">10</text>
<line x1="150.50" y1="525.50" x2="150.50" y2="526.70" stroke="#444" stroke-width="0.4"/>
<text x="159.50" y="530.30" font-size="2.7" text-anchor="middle" fill="#888">10</text>
<line x1="159.50" y1="525.50" x2="159.50" y2="526.70" stroke="#444" stroke-width="0.4"/>
<text x="168.50" y="530.30" font-size="2.7" text-anchor="middle" fill="#888">10</text>
<line x1="168.50" y1="525.50" x2="168.50" y2="526.70" stroke="#444" stroke-width="0.4"/>
<text x="177.50" y="530.30" font-size="2.7" text-anchor="middle" fill="#888">10</text>
<line x1="177.50" y1="525.50" x2="177.50" y2="526.70" stroke="#444" stroke-width="0.4"/>
<text x="150.50" y="538.50" font-size="6.2" text-anchor="middle" fill="#2a2a2a" textLength="44" lengthAdjust="spacingAndGlyphs">d Teff+Dec-MDSC</text>
<text x="206.80" y="409.00" font-size="11.5" text-anchor="start" fill="#111" font-weight="bold">J</text>
<rect x="252.30" y="483.30" width="18.00" height="20.70" fill="#7687bb"/>
<rect x="280.80" y="487.35" width="18.00" height="16.65" fill="#f2a593"/>
<rect x="309.80" y="462.60" width="18.00" height="41.40" fill="#b9dca1"/>
<rect x="338.40" y="474.30" width="18.00" height="29.70" fill="#9f78ab"/>
<rect x="367.30" y="494.55" width="18.00" height="9.45" fill="#fcca85"/>
<line x1="241.25" y1="412.00" x2="241.25" y2="504.00" stroke="#222" stroke-width="1.3"/>
<line x1="238.25" y1="504.00" x2="241.25" y2="504.00" stroke="#222" stroke-width="1.0"/>
<text x="234.65" y="507.06" font-size="8.5" text-anchor="end" fill="#2a2a2a" stroke="#2a2a2a" stroke-width="0.2" textLength="10.79" lengthAdjust="spacingAndGlyphs">0.0</text>
<line x1="238.25" y1="481.50" x2="241.25" y2="481.50" stroke="#222" stroke-width="1.0"/>
<text x="234.65" y="484.56" font-size="8.5" text-anchor="end" fill="#2a2a2a" stroke="#2a2a2a" stroke-width="0.2" textLength="10.79" lengthAdjust="spacingAndGlyphs">0.5</text>
<line x1="238.25" y1="459.00" x2="241.25" y2="459.00" stroke="#222" stroke-width="1.0"/>
<text x="234.65" y="462.06" font-size="8.5" text-anchor="end" fill="#2a2a2a" stroke="#2a2a2a" stroke-width="0.2" textLength="10.79" lengthAdjust="spacingAndGlyphs">1.0</text>
<line x1="238.25" y1="436.50" x2="241.25" y2="436.50" stroke="#222" stroke-width="1.0"/>
<text x="234.65" y="439.56" font-size="8.5" text-anchor="end" fill="#2a2a2a" stroke="#2a2a2a" stroke-width="0.2" textLength="10.79" lengthAdjust="spacingAndGlyphs">1.5</text>
<line x1="238.25" y1="414.00" x2="241.25" y2="414.00" stroke="#222" stroke-width="1.0"/>
<text x="234.65" y="417.06" font-size="8.5" text-anchor="end" fill="#2a2a2a" stroke="#2a2a2a" stroke-width="0.2" textLength="10.79" lengthAdjust="spacingAndGlyphs">2.0</text>
<line x1="241.25" y1="504.00" x2="395.00" y2="504.00" stroke="#222" stroke-width="1.3"/>
<line x1="261.30" y1="504.00" x2="261.30" y2="507.00" stroke="#222" stroke-width="1.0"/>
<circle cx="261.30" cy="459.68" r="1.95" fill="#1d4f8a"/>
<circle cx="261.30" cy="464.85" r="1.95" fill="#1d4f8a"/>
<circle cx="261.30" cy="472.50" r="1.95" fill="#1d4f8a"/>
<circle cx="257.80" cy="477.90" r="1.95" fill="#1d4f8a"/>
<circle cx="265.10" cy="481.05" r="1.95" fill="#1d4f8a"/>
<circle cx="261.30" cy="482.40" r="1.95" fill="#1d4f8a"/>
<circle cx="261.30" cy="485.55" r="1.95" fill="#1d4f8a"/>
<circle cx="257.80" cy="486.90" r="1.95" fill="#1d4f8a"/>
<circle cx="265.10" cy="487.80" r="1.95" fill="#1d4f8a"/>
<circle cx="253.90" cy="490.50" r="1.95" fill="#1d4f8a"/>
<circle cx="261.30" cy="490.50" r="1.95" fill="#1d4f8a"/>
<circle cx="268.50" cy="490.50" r="1.95" fill="#1d4f8a"/>
<line x1="257.10" y1="483.30" x2="265.50" y2="483.30" stroke="#1d4f8a" stroke-width="1.0"/>
<line x1="261.30" y1="470.70" x2="261.30" y2="495.90" stroke="#1d4f8a" stroke-width="1.0"/>
<line x1="257.10" y1="470.70" x2="265.50" y2="470.70" stroke="#1d4f8a" stroke-width="1.0"/>
<line x1="257.10" y1="495.90" x2="265.50" y2="495.90" stroke="#1d4f8a" stroke-width="1.0"/>
<line x1="289.80" y1="504.00" x2="289.80" y2="507.00" stroke="#222" stroke-width="1.0"/>
<rect x="287.85" y="466.95" width="3.90" height="3.90" fill="#c8173e"/>
<rect x="280.65" y="473.25" width="3.90" height="3.90" fill="#c8173e"/>
<rect x="287.85" y="476.40" width="3.90" height="3.90" fill="#c8173e"/>
<rect x="280.65" y="478.20" width="3.90" height="3.90" fill="#c8173e"/>
<rect x="295.25" y="479.55" width="3.90" height="3.90" fill="#c8173e"/>
<rect x="287.85" y="482.70" width="3.90" height="3.90" fill="#c8173e"/>
<rect x="280.65" y="485.85" width="3.90" height="3.90" fill="#c8173e"/>
<rect x="295.25" y="485.85" width="3.90" height="3.90" fill="#c8173e"/>
<rect x="287.85" y="487.65" width="3.90" height="3.90" fill="#c8173e"/>
<rect x="280.65" y="493.05" width="3.90" height="3.90" fill="#c8173e"/>
<rect x="287.85" y="493.05" width="3.90" height="3.90" fill="#c8173e"/>
<rect x="295.25" y="493.05" width="3.90" height="3.90" fill="#c8173e"/>
<line x1="285.60" y1="487.35" x2="294.00" y2="487.35" stroke="#c8173e" stroke-width="1.0"/>
<line x1="289.80" y1="476.55" x2="289.80" y2="498.15" stroke="#c8173e" stroke-width="1.0"/>
<line x1="285.60" y1="476.55" x2="294.00" y2="476.55" stroke="#c8173e" stroke-width="1.0"/>
<line x1="285.60" y1="498.15" x2="294.00" y2="498.15" stroke="#c8173e" stroke-width="1.0"/>
<line x1="318.80" y1="504.00" x2="318.80" y2="507.00" stroke="#222" stroke-width="1.0"/>
<path d="M318.80 418.16L320.75 421.86L316.85 421.86Z" fill="#3aa63a"/>
<path d="M311.40 435.25L313.35 438.96L309.45 438.96Z" fill="#3aa63a"/>
<path d="M316.60 434.36L318.55 438.06L314.65 438.06Z" fill="#3aa63a"/>
<path d="M321.70 435.71L323.65 439.41L319.75 439.41Z" fill="#3aa63a"/>
<path d="M326.40 435.25L328.35 438.96L324.45 438.96Z" fill="#3aa63a"/>
<path d="M318.80 454.16L320.75 457.86L316.85 457.86Z" fill="#3aa63a"/>
<path d="M318.80 458.66L320.75 462.36L316.85 462.36Z" fill="#3aa63a"/>
<path d="M318.80 463.16L320.75 466.86L316.85 466.86Z" fill="#3aa63a"/>
<path d="M318.80 467.21L320.75 470.91L316.85 470.91Z" fill="#3aa63a"/>
<path d="M315.70 471.71L317.65 475.41L313.75 475.41Z" fill="#3aa63a"/>
<path d="M321.70 471.25L323.65 474.96L319.75 474.96Z" fill="#3aa63a"/>
<path d="M311.40 476.66L313.35 480.36L309.45 480.36Z" fill="#3aa63a"/>
<path d="M326.40 476.21L328.35 479.91L324.45 479.91Z" fill="#3aa63a"/>
<path d="M315.70 478.46L317.65 482.16L313.75 482.16Z" fill="#3aa63a"/>
<path d="M321.70 478.46L323.65 482.16L319.75 482.16Z" fill="#3aa63a"/>
<path d="M318.80 485.66L320.75 489.36L316.85 489.36Z" fill="#3aa63a"/>
<line x1="314.60" y1="462.60" x2="323.00" y2="462.60" stroke="#3aa63a" stroke-width="1.0"/>
<line x1="318.80" y1="440.10" x2="318.80" y2="485.10" stroke="#3aa63a" stroke-width="1.0"/>
<line x1="314.60" y1="440.10" x2="323.00" y2="440.10" stroke="#3aa63a" stroke-width="1.0"/>
<line x1="314.60" y1="485.10" x2="323.00" y2="485.10" stroke="#3aa63a" stroke-width="1.0"/>
<line x1="347.40" y1="504.00" x2="347.40" y2="507.00" stroke="#222" stroke-width="1.0"/>
<path d="M347.40 437.75L349.35 434.04L345.45 434.04Z" fill="#55235f"/>
<path d="M340.50 457.54L342.45 453.84L338.55 453.84Z" fill="#55235f"/>
<path d="M347.40 457.54L349.35 453.84L345.45 453.84Z" fill="#55235f"/>
<path d="M354.30 461.14L356.25 457.44L352.35 457.44Z" fill="#55235f"/>
<path d="M347.40 472.39L349.35 468.69L345.45 468.69Z" fill="#55235f"/>
<path d="M340.50 474.64L342.45 470.94L338.55 470.94Z" fill="#55235f"/>
<path d="M354.30 473.29L356.25 469.59L352.35 469.59Z" fill="#55235f"/>
<path d="M340.50 481.84L342.45 478.14L338.55 478.14Z" fill="#55235f"/>
<path d="M347.40 481.39L349.35 477.69L345.45 477.69Z" fill="#55235f"/>
<path d="M354.30 482.29L356.25 478.59L352.35 478.59Z" fill="#55235f"/>
<path d="M347.40 487.25L349.35 483.54L345.45 483.54Z" fill="#55235f"/>
<path d="M340.50 491.29L342.45 487.59L338.55 487.59Z" fill="#55235f"/>
<path d="M354.30 492.64L356.25 488.94L352.35 488.94Z" fill="#55235f"/>
<path d="M340.50 496.69L342.45 492.99L338.55 492.99Z" fill="#55235f"/>
<line x1="343.20" y1="474.30" x2="351.60" y2="474.30" stroke="#55235f" stroke-width="1.0"/>
<line x1="347.40" y1="458.10" x2="347.40" y2="490.50" stroke="#55235f" stroke-width="1.0"/>
<line x1="343.20" y1="458.10" x2="351.60" y2="458.10" stroke="#55235f" stroke-width="1.0"/>
<line x1="343.20" y1="490.50" x2="351.60" y2="490.50" stroke="#55235f" stroke-width="1.0"/>
<line x1="376.30" y1="504.00" x2="376.30" y2="507.00" stroke="#222" stroke-width="1.0"/>
<circle cx="370.30" cy="488.70" r="1.95" fill="#f0941e"/>
<circle cx="374.30" cy="489.60" r="1.95" fill="#f0941e"/>
<circle cx="378.30" cy="490.50" r="1.95" fill="#f0941e"/>
<circle cx="382.30" cy="490.05" r="1.95" fill="#f0941e"/>
<circle cx="372.30" cy="491.85" r="1.95" fill="#f0941e"/>
<circle cx="376.30" cy="492.30" r="1.95" fill="#f0941e"/>
<circle cx="380.30" cy="492.75" r="1.95" fill="#f0941e"/>
<circle cx="383.30" cy="494.10" r="1.95" fill="#f0941e"/>
<circle cx="369.30" cy="494.10" r="1.95" fill="#f0941e"/>
<circle cx="373.30" cy="495.00" r="1.95" fill="#f0941e"/>
<circle cx="377.30" cy="495.45" r="1.95" fill="#f0941e"/>
<circle cx="381.30" cy="496.35" r="1.95" fill="#f0941e"/>
<circle cx="371.30" cy="497.25" r="1.95" fill="#f0941e"/>
<circle cx="375.30" cy="497.70" r="1.95" fill="#f0941e"/>
<circle cx="379.30" cy="498.60" r="1.95" fill="#f0941e"/>
<circle cx="382.30" cy="499.50" r="1.95" fill="#f0941e"/>
<text x="261.30" y="515.60" font-size="8.4" text-anchor="middle" fill="#2a2a2a" stroke="#2a2a2a" stroke-width="0.2">a</text>
<text x="289.80" y="515.60" font-size="8.4" text-anchor="middle" fill="#2a2a2a" stroke="#2a2a2a" stroke-width="0.2">b</text>
<text x="318.80" y="515.60" font-size="8.4" text-anchor="middle" fill="#2a2a2a" stroke="#2a2a2a" stroke-width="0.2">c</text>
<text x="347.40" y="515.60" font-size="8.4" text-anchor="middle" fill="#2a2a2a" stroke="#2a2a2a" stroke-width="0.2">d</text>
<text x="376.30" y="515.60" font-size="8.4" text-anchor="middle" fill="#2a2a2a" stroke="#2a2a2a" stroke-width="0.2">e</text>
<text x="211.40" y="524.20" font-size="8.2" text-anchor="start" fill="#2a2a2a" stroke="#2a2a2a" stroke-width="0.2">Teff</text>
<text x="261.30" y="524.20" font-size="8.2" text-anchor="middle" fill="#2a2a2a" stroke="#2a2a2a" stroke-width="0.2">+</text>
<text x="289.80" y="524.20" font-size="8.2" text-anchor="middle" fill="#2a2a2a" stroke="#2a2a2a" stroke-width="0.2">+</text>
<text x="318.80" y="524.20" font-size="8.2" text-anchor="middle" fill="#2a2a2a" stroke="#2a2a2a" stroke-width="0.2">+</text>
<text x="347.40" y="524.20" font-size="8.2" text-anchor="middle" fill="#2a2a2a" stroke="#2a2a2a" stroke-width="0.2">+</text>
<text x="376.30" y="524.20" font-size="8.2" text-anchor="middle" fill="#2a2a2a" stroke="#2a2a2a" stroke-width="0.2">+</text>
<text x="211.40" y="536.20" font-size="8.2" text-anchor="start" fill="#2a2a2a" stroke="#2a2a2a" stroke-width="0.2">Ctrl MDSC</text>
<text x="261.30" y="536.20" font-size="8.2" text-anchor="middle" fill="#2a2a2a" stroke="#2a2a2a" stroke-width="0.2">+</text>
<text x="289.80" y="536.20" font-size="8.2" text-anchor="middle" fill="#2a2a2a" stroke="#2a2a2a" stroke-width="0.2">+</text>
<text x="318.80" y="536.20" font-size="8.2" text-anchor="middle" fill="#2a2a2a" stroke="#2a2a2a" stroke-width="0.2">–</text>
<text x="347.40" y="536.20" font-size="8.2" text-anchor="middle" fill="#2a2a2a" stroke="#2a2a2a" stroke-width="0.2">–</text>
<text x="376.30" y="536.20" font-size="8.2" text-anchor="middle" fill="#2a2a2a" stroke="#2a2a2a" stroke-width="0.2">–</text>
<text x="211.40" y="547.30" font-size="8.2" text-anchor="start" fill="#2a2a2a" stroke="#2a2a2a" stroke-width="0.2">ITP MDSC</text>
<text x="261.30" y="547.30" font-size="8.2" text-anchor="middle" fill="#2a2a2a" stroke="#2a2a2a" stroke-width="0.2">–</text>
<text x="289.80" y="547.30" font-size="8.2" text-anchor="middle" fill="#2a2a2a" stroke="#2a2a2a" stroke-width="0.2">–</text>
<text x="318.80" y="547.30" font-size="8.2" text-anchor="middle" fill="#2a2a2a" stroke="#2a2a2a" stroke-width="0.2">+</text>
<text x="347.40" y="547.30" font-size="8.2" text-anchor="middle" fill="#2a2a2a" stroke="#2a2a2a" stroke-width="0.2">+</text>
<text x="376.30" y="547.30" font-size="8.2" text-anchor="middle" fill="#2a2a2a" stroke="#2a2a2a" stroke-width="0.2">–</text>
<text x="211.40" y="558.50" font-size="8.2" text-anchor="start" fill="#2a2a2a" stroke="#2a2a2a" stroke-width="0.2">Dec</text>
<text x="261.30" y="558.50" font-size="8.2" text-anchor="middle" fill="#2a2a2a" stroke="#2a2a2a" stroke-width="0.2">–</text>
<text x="289.80" y="558.50" font-size="8.2" text-anchor="middle" fill="#2a2a2a" stroke="#2a2a2a" stroke-width="0.2">+</text>
<text x="318.80" y="558.50" font-size="8.2" text-anchor="middle" fill="#2a2a2a" stroke="#2a2a2a" stroke-width="0.2">–</text>
<text x="347.40" y="558.50" font-size="8.2" text-anchor="middle" fill="#2a2a2a" stroke="#2a2a2a" stroke-width="0.2">+</text>
<text x="376.30" y="558.50" font-size="8.2" text-anchor="middle" fill="#2a2a2a" stroke="#2a2a2a" stroke-width="0.2">–</text>
<line x1="261.00" y1="409.50" x2="317.20" y2="409.50" stroke="#333" stroke-width="1.0"/>
<text x="291.70" y="410.70" font-size="10.5" text-anchor="middle" fill="#222" stroke="#2a2a2a" stroke-width="0.2">**</text>
<line x1="318.50" y1="416.50" x2="349.20" y2="416.50" stroke="#333" stroke-width="1.0"/>
<text x="333.60" y="417.90" font-size="10.5" text-anchor="middle" fill="#222" stroke="#2a2a2a" stroke-width="0.2">**</text>
<text x="219.00" y="457.90" font-size="9.6" text-anchor="middle" fill="#2a2a2a" stroke="#2a2a2a" stroke-width="0.2" textLength="50.4" lengthAdjust="spacingAndGlyphs" transform="rotate(-90 219.00 457.90)">Division index</text>
<text x="416.60" y="407.70" font-size="11.5" text-anchor="start" fill="#111" font-weight="bold">K</text>
<line x1="450.80" y1="417.20" x2="450.80" y2="504.00" stroke="#222" stroke-width="1.3"/>
<line x1="447.80" y1="504.00" x2="450.80" y2="504.00" stroke="#222" stroke-width="1.0"/>
<text x="444.20" y="507.06" font-size="8.5" text-anchor="end" fill="#2a2a2a" stroke="#2a2a2a" stroke-width="0.2" textLength="10.79" lengthAdjust="spacingAndGlyphs">0.0</text>
<line x1="447.80" y1="482.80" x2="450.80" y2="482.80" stroke="#222" stroke-width="1.0"/>
<text x="444.20" y="485.86" font-size="8.5" text-anchor="end" fill="#2a2a2a" stroke="#2a2a2a" stroke-width="0.2" textLength="10.79" lengthAdjust="spacingAndGlyphs">0.5</text>
<line x1="447.80" y1="461.60" x2="450.80" y2="461.60" stroke="#222" stroke-width="1.0"/>
<text x="444.20" y="464.66" font-size="8.5" text-anchor="end" fill="#2a2a2a" stroke="#2a2a2a" stroke-width="0.2" textLength="10.79" lengthAdjust="spacingAndGlyphs">1.0</text>
<line x1="447.80" y1="440.40" x2="450.80" y2="440.40" stroke="#222" stroke-width="1.0"/>
<text x="444.20" y="443.46" font-size="8.5" text-anchor="end" fill="#2a2a2a" stroke="#2a2a2a" stroke-width="0.2" textLength="10.79" lengthAdjust="spacingAndGlyphs">1.5</text>
<line x1="447.80" y1="419.20" x2="450.80" y2="419.20" stroke="#222" stroke-width="1.0"/>
<text x="444.20" y="422.26" font-size="8.5" text-anchor="end" fill="#2a2a2a" stroke="#2a2a2a" stroke-width="0.2" textLength="10.79" lengthAdjust="spacingAndGlyphs">2.0</text>
<line x1="450.80" y1="504.00" x2="515.40" y2="504.00" stroke="#222" stroke-width="1.1"/>
<line x1="469.70" y1="504.00" x2="469.70" y2="506.50" stroke="#222" stroke-width="0.9"/>
<line x1="499.20" y1="504.00" x2="499.20" y2="506.50" stroke="#222" stroke-width="0.9"/>
<line x1="469.70" y1="424.29" x2="499.20" y2="472.41" stroke="#1a1a1a" stroke-width="1.05"/>
<line x1="469.70" y1="440.40" x2="499.20" y2="459.06" stroke="#1a1a1a" stroke-width="1.05"/>
<line x1="469.70" y1="441.25" x2="499.20" y2="463.30" stroke="#1a1a1a" stroke-width="1.05"/>
<line x1="469.70" y1="459.06" x2="499.20" y2="440.82" stroke="#1a1a1a" stroke-width="1.05"/>
<line x1="469.70" y1="463.30" x2="499.20" y2="475.38" stroke="#1a1a1a" stroke-width="1.05"/>
<line x1="469.70" y1="470.29" x2="499.20" y2="478.98" stroke="#1a1a1a" stroke-width="1.05"/>
<line x1="469.70" y1="474.74" x2="499.20" y2="481.95" stroke="#1a1a1a" stroke-width="1.05"/>
<line x1="469.70" y1="477.71" x2="499.20" y2="488.74" stroke="#1a1a1a" stroke-width="1.05"/>
<line x1="469.70" y1="479.41" x2="499.20" y2="473.47" stroke="#1a1a1a" stroke-width="1.05"/>
<line x1="469.70" y1="480.26" x2="499.20" y2="481.95" stroke="#1a1a1a" stroke-width="1.05"/>
<line x1="469.70" y1="481.95" x2="499.20" y2="491.92" stroke="#1a1a1a" stroke-width="1.05"/>
<line x1="469.70" y1="482.80" x2="499.20" y2="490.43" stroke="#1a1a1a" stroke-width="1.05"/>
<line x1="469.70" y1="488.31" x2="499.20" y2="495.94" stroke="#1a1a1a" stroke-width="1.05"/>
<circle cx="469.70" cy="424.29" r="1.6" fill="#c8173e"/>
<circle cx="499.20" cy="472.41" r="1.6" fill="#55235f"/>
<circle cx="469.70" cy="440.40" r="1.6" fill="#c8173e"/>
<circle cx="499.20" cy="459.06" r="1.6" fill="#55235f"/>
<circle cx="469.70" cy="441.25" r="1.6" fill="#c8173e"/>
<circle cx="499.20" cy="463.30" r="1.6" fill="#55235f"/>
<circle cx="469.70" cy="459.06" r="1.6" fill="#c8173e"/>
<circle cx="499.20" cy="440.82" r="1.6" fill="#55235f"/>
<circle cx="469.70" cy="463.30" r="1.6" fill="#c8173e"/>
<circle cx="499.20" cy="475.38" r="1.6" fill="#55235f"/>
<circle cx="469.70" cy="470.29" r="1.6" fill="#c8173e"/>
<circle cx="499.20" cy="478.98" r="1.6" fill="#55235f"/>
<circle cx="469.70" cy="474.74" r="1.6" fill="#c8173e"/>
<circle cx="499.20" cy="481.95" r="1.6" fill="#55235f"/>
<circle cx="469.70" cy="477.71" r="1.6" fill="#c8173e"/>
<circle cx="499.20" cy="488.74" r="1.6" fill="#55235f"/>
<circle cx="469.70" cy="479.41" r="1.6" fill="#c8173e"/>
<circle cx="499.20" cy="473.47" r="1.6" fill="#55235f"/>
<circle cx="469.70" cy="480.26" r="1.6" fill="#c8173e"/>
<circle cx="499.20" cy="481.95" r="1.6" fill="#55235f"/>
<circle cx="469.70" cy="481.95" r="1.6" fill="#c8173e"/>
<circle cx="499.20" cy="491.92" r="1.6" fill="#55235f"/>
<circle cx="469.70" cy="482.80" r="1.6" fill="#c8173e"/>
<circle cx="499.20" cy="490.43" r="1.6" fill="#55235f"/>
<circle cx="469.70" cy="488.31" r="1.6" fill="#c8173e"/>
<circle cx="499.20" cy="495.94" r="1.6" fill="#55235f"/>
<line x1="469.70" y1="416.50" x2="499.20" y2="416.50" stroke="#333" stroke-width="1.0"/>
<text x="485.80" y="417.30" font-size="10.5" text-anchor="middle" fill="#222" stroke="#2a2a2a" stroke-width="0.2">**</text>
<text x="469.70" y="519.50" font-size="7.4" text-anchor="middle" fill="#2a2a2a" stroke="#2a2a2a" stroke-width="0.2">ITP</text>
<text x="499.50" y="519.50" font-size="7.4" text-anchor="middle" fill="#2a2a2a" stroke="#2a2a2a" stroke-width="0.2">ITP+Dec</text>
<text x="428.00" y="459.00" font-size="9.6" text-anchor="middle" fill="#2a2a2a" stroke="#2a2a2a" stroke-width="0.2" textLength="48.2" lengthAdjust="spacingAndGlyphs" transform="rotate(-90 428.00 459.00)">Division index</text>
<text x="5.30" y="582.50" font-size="11.5" text-anchor="start" fill="#111" font-weight="bold">L</text>
<line x1="35.00" y1="575.00" x2="35.00" y2="706.60" stroke="#222" stroke-width="1.3"/>
<path d="M35 571 L32.6 577 L37.4 577 Z" fill="#222"/>
<line x1="35.00" y1="706.60" x2="188.00" y2="706.60" stroke="#222" stroke-width="1.3"/>
<path d="M192.2 706.6 L186.2 704.2 L186.2 709 Z" fill="#222"/>
<text x="31.00" y="638.50" font-size="9.2" text-anchor="middle" fill="#2a2a2a" stroke="#2a2a2a" stroke-width="0.2" textLength="66.9" lengthAdjust="spacingAndGlyphs" transform="rotate(-90 31.00 638.50)">FL2-JC1 aggregates</text>
<text x="113.60" y="718.20" font-size="9" text-anchor="middle" fill="#2a2a2a" stroke="#2a2a2a" stroke-width="0.2" textLength="65.8" lengthAdjust="spacingAndGlyphs">FL1-JC1 monomers</text>
<rect x="51.5" y="572.5" width="54.0" height="52.0" fill="#fff" stroke="#999" stroke-width="0.6"/>
<g fill="#a8a8a8" opacity="0.55"><circle cx="69.6" cy="607.3" r="0.4"/><circle cx="66.9" cy="610.6" r="0.4"/><circle cx="77.6" cy="606.4" r="0.4"/><circle cx="67.6" cy="620.2" r="0.4"/><circle cx="90.0" cy="595.1" r="0.4"/><circle cx="72.3" cy="606.4" r="0.4"/><circle cx="71.3" cy="603.9" r="0.4"/><circle cx="79.4" cy="606.9" r="0.4"/><circle cx="87.9" cy="593.0" r="0.4"/><circle cx="62.4" cy="620.7" r="0.4"/><circle cx="81.5" cy="597.8" r="0.4"/><circle cx="79.8" cy="599.8" r="0.4"/><circle cx="74.1" cy="611.1" r="0.4"/><circle cx="81.4" cy="599.6" r="0.4"/><circle cx="73.3" cy="610.9" r="0.4"/><circle cx="77.3" cy="595.3" r="0.4"/><circle cx="82.9" cy="600.7" r="0.4"/><circle cx="67.4" cy="610.3" r="0.4"/><circle cx="80.1" cy="600.8" r="0.4"/><circle cx="82.5" cy="597.7" r="0.4"/><circle cx="69.7" cy="612.6" r="0.4"/><circle cx="75.3" cy="605.7" r="0.4"/><circle cx="73.1" cy="612.7" r="0.4"/><circle cx="80.2" cy="594.9" r="0.4"/><circle cx="67.7" cy="612.1" r="0.4"/><circle cx="75.5" cy="603.9" r="0.4"/><circle cx="57.5" cy="620.9" r="0.4"/><circle cx="72.4" cy="607.3" r="0.4"/><circle cx="58.4" cy="613.9" r="0.4"/><circle cx="71.3" cy="606.4" r="0.4"/><circle cx="68.3" cy="608.7" r="0.4"/><circle cx="66.3" cy="607.9" r="0.4"/><circle cx="73.3" cy="610.8" r="0.4"/><circle cx="82.4" cy="594.6" r="0.4"/><circle cx="58.7" cy="621.6" r="0.4"/><circle cx="64.6" cy="621.4" r="0.4"/><circle cx="80.1" cy="593.8" r="0.4"/><circle cx="66.7" cy="609.4" r="0.4"/><circle cx="81.3" cy="598.2" r="0.4"/><circle cx="65.7" cy="604.3" r="0.4"/><circle cx="63.7" cy="621.8" r="0.4"/><circle cx="73.6" cy="599.0" r="0.4"/><circle cx="73.9" cy="598.9" r="0.4"/><circle cx="77.1" cy="596.8" r="0.4"/><circle cx="77.8" cy="600.7" r="0.4"/><circle cx="82.7" cy="587.8" r="0.4"/><circle cx="82.4" cy="598.4" r="0.4"/><circle cx="57.0" cy="613.9" r="0.4"/><circle cx="63.5" cy="617.4" r="0.4"/><circle cx="64.7" cy="617.7" r="0.4"/><circle cx="86.6" cy="591.0" r="0.4"/><circle cx="76.3" cy="597.1" r="0.4"/><circle cx="67.8" cy="606.4" r="0.4"/><circle cx="63.1" cy="617.6" r="0.4"/><circle cx="76.0" cy="608.1" r="0.4"/><circle cx="84.1" cy="593.6" r="0.4"/><circle cx="60.1" cy="620.5" r="0.4"/><circle cx="60.8" cy="623.8" r="0.4"/><circle cx="76.2" cy="598.3" r="0.4"/><circle cx="72.6" cy="601.9" r="0.4"/><circle cx="81.3" cy="609.3" r="0.4"/><circle cx="78.1" cy="611.6" r="0.4"/><circle cx="77.3" cy="601.7" r="0.4"/><circle cx="77.1" cy="602.1" r="0.4"/><circle cx="79.3" cy="612.6" r="0.4"/><circle cx="82.9" cy="608.5" r="0.4"/><circle cx="84.4" cy="620.7" r="0.4"/><circle cx="88.0" cy="601.4" r="0.4"/><circle cx="88.7" cy="606.9" r="0.4"/><circle cx="82.0" cy="602.0" r="0.4"/><circle cx="80.0" cy="607.0" r="0.4"/><circle cx="81.3" cy="611.7" r="0.4"/><circle cx="81.1" cy="605.8" r="0.4"/><circle cx="82.5" cy="603.9" r="0.4"/><circle cx="84.0" cy="618.9" r="0.4"/><circle cx="82.9" cy="613.7" r="0.4"/><circle cx="84.1" cy="602.3" r="0.4"/><circle cx="77.8" cy="604.5" r="0.4"/><circle cx="89.6" cy="603.3" r="0.4"/><circle cx="84.3" cy="601.3" r="0.4"/><circle cx="84.6" cy="609.3" r="0.4"/><circle cx="74.4" cy="602.8" r="0.4"/><circle cx="82.5" cy="620.6" r="0.4"/><circle cx="81.1" cy="603.0" r="0.4"/><circle cx="81.2" cy="603.1" r="0.4"/><circle cx="74.4" cy="607.1" r="0.4"/><circle cx="77.3" cy="607.3" r="0.4"/><circle cx="82.7" cy="604.9" r="0.4"/><circle cx="75.3" cy="610.6" r="0.4"/><circle cx="82.6" cy="600.7" r="0.4"/><circle cx="85.8" cy="605.3" r="0.4"/><circle cx="79.3" cy="607.3" r="0.4"/><circle cx="78.4" cy="604.2" r="0.4"/><circle cx="86.5" cy="613.4" r="0.4"/><circle cx="80.1" cy="611.3" r="0.4"/><circle cx="79.6" cy="623.8" r="0.4"/><circle cx="85.0" cy="614.0" r="0.4"/><circle cx="83.2" cy="607.3" r="0.4"/><circle cx="77.5" cy="603.9" r="0.4"/><circle cx="83.1" cy="608.7" r="0.4"/><circle cx="87.0" cy="615.9" r="0.4"/><circle cx="83.8" cy="611.2" r="0.4"/><circle cx="71.8" cy="610.0" r="0.4"/><circle cx="82.7" cy="608.0" r="0.4"/><circle cx="80.7" cy="602.5" r="0.4"/><circle cx="84.9" cy="602.9" r="0.4"/><circle cx="82.8" cy="601.5" r="0.4"/><circle cx="84.2" cy="610.9" r="0.4"/><circle cx="80.0" cy="604.7" r="0.4"/><circle cx="82.7" cy="601.5" r="0.4"/><circle cx="78.2" cy="605.6" r="0.4"/><circle cx="80.1" cy="605.1" r="0.4"/><circle cx="83.8" cy="607.7" r="0.4"/><circle cx="81.7" cy="609.7" r="0.4"/><circle cx="83.0" cy="616.9" r="0.4"/><circle cx="85.5" cy="615.3" r="0.4"/><circle cx="78.0" cy="604.8" r="0.4"/><circle cx="73.3" cy="602.1" r="0.4"/><circle cx="80.2" cy="603.0" r="0.4"/><circle cx="83.6" cy="601.7" r="0.4"/><circle cx="86.6" cy="608.7" r="0.4"/><circle cx="80.4" cy="606.9" r="0.4"/><circle cx="76.7" cy="614.4" r="0.4"/><circle cx="76.7" cy="615.1" r="0.4"/><circle cx="77.6" cy="608.2" r="0.4"/><circle cx="81.0" cy="601.0" r="0.4"/><circle cx="84.9" cy="610.8" r="0.4"/><circle cx="81.0" cy="604.1" r="0.4"/><circle cx="78.7" cy="607.6" r="0.4"/><circle cx="78.1" cy="604.5" r="0.4"/></g>
<g fill="#9a60b0" opacity="0.5"><circle cx="87.0" cy="592.0" r="0.5"/><circle cx="86.0" cy="587.1" r="0.5"/><circle cx="84.5" cy="584.5" r="0.5"/><circle cx="93.1" cy="581.8" r="0.5"/><circle cx="92.5" cy="578.8" r="0.5"/><circle cx="83.8" cy="603.3" r="0.5"/><circle cx="80.4" cy="591.1" r="0.5"/><circle cx="68.7" cy="602.6" r="0.5"/><circle cx="86.7" cy="590.5" r="0.5"/><circle cx="86.7" cy="598.0" r="0.5"/><circle cx="85.8" cy="593.0" r="0.5"/><circle cx="76.8" cy="597.2" r="0.5"/><circle cx="80.5" cy="600.5" r="0.5"/><circle cx="84.1" cy="591.1" r="0.5"/><circle cx="85.2" cy="589.5" r="0.5"/><circle cx="77.5" cy="584.4" r="0.5"/><circle cx="88.6" cy="588.1" r="0.5"/><circle cx="88.5" cy="584.5" r="0.5"/><circle cx="77.1" cy="594.8" r="0.5"/><circle cx="86.1" cy="583.2" r="0.5"/><circle cx="88.5" cy="585.9" r="0.5"/><circle cx="80.4" cy="598.3" r="0.5"/><circle cx="90.5" cy="582.7" r="0.5"/><circle cx="77.1" cy="602.9" r="0.5"/><circle cx="83.3" cy="594.0" r="0.5"/><circle cx="85.1" cy="593.2" r="0.5"/><circle cx="81.6" cy="595.9" r="0.5"/><circle cx="89.9" cy="585.2" r="0.5"/><circle cx="85.9" cy="590.3" r="0.5"/><circle cx="91.6" cy="585.7" r="0.5"/><circle cx="81.6" cy="584.3" r="0.5"/><circle cx="76.3" cy="599.4" r="0.5"/><circle cx="80.8" cy="589.7" r="0.5"/><circle cx="76.5" cy="602.6" r="0.5"/><circle cx="76.8" cy="596.3" r="0.5"/><circle cx="77.6" cy="595.3" r="0.5"/><circle cx="86.8" cy="591.9" r="0.5"/><circle cx="79.3" cy="592.7" r="0.5"/><circle cx="84.2" cy="586.2" r="0.5"/><circle cx="81.4" cy="592.7" r="0.5"/><circle cx="86.2" cy="599.2" r="0.5"/><circle cx="89.9" cy="589.5" r="0.5"/><circle cx="90.2" cy="582.7" r="0.5"/><circle cx="76.5" cy="607.2" r="0.5"/><circle cx="82.8" cy="583.6" r="0.5"/><circle cx="83.7" cy="599.4" r="0.5"/><circle cx="89.2" cy="588.8" r="0.5"/><circle cx="81.9" cy="599.1" r="0.5"/><circle cx="85.1" cy="593.7" r="0.5"/><circle cx="76.8" cy="601.5" r="0.5"/><circle cx="71.0" cy="606.1" r="0.5"/><circle cx="80.7" cy="595.1" r="0.5"/><circle cx="79.3" cy="594.4" r="0.5"/><circle cx="85.2" cy="588.0" r="0.5"/><circle cx="78.4" cy="602.5" r="0.5"/><circle cx="88.2" cy="583.0" r="0.5"/><circle cx="81.4" cy="602.6" r="0.5"/><circle cx="79.8" cy="584.4" r="0.5"/><circle cx="81.8" cy="591.5" r="0.5"/><circle cx="93.4" cy="575.4" r="0.5"/><circle cx="79.4" cy="602.2" r="0.5"/><circle cx="83.2" cy="580.5" r="0.5"/><circle cx="82.1" cy="591.5" r="0.5"/><circle cx="88.5" cy="586.3" r="0.5"/><circle cx="80.7" cy="598.0" r="0.5"/><circle cx="78.9" cy="588.8" r="0.5"/><circle cx="80.7" cy="602.1" r="0.5"/><circle cx="93.9" cy="589.7" r="0.5"/><circle cx="85.4" cy="592.5" r="0.5"/><circle cx="81.0" cy="604.4" r="0.5"/><circle cx="75.7" cy="598.9" r="0.5"/><circle cx="82.9" cy="587.3" r="0.5"/><circle cx="94.1" cy="570.4" r="0.5"/><circle cx="75.5" cy="602.5" r="0.5"/><circle cx="84.2" cy="584.2" r="0.5"/><circle cx="91.0" cy="586.6" r="0.5"/><circle cx="76.9" cy="605.9" r="0.5"/><circle cx="84.2" cy="591.7" r="0.5"/><circle cx="86.3" cy="590.9" r="0.5"/><circle cx="82.7" cy="596.1" r="0.5"/><circle cx="83.9" cy="598.5" r="0.5"/><circle cx="89.1" cy="588.9" r="0.5"/><circle cx="83.6" cy="592.3" r="0.5"/><circle cx="78.3" cy="593.7" r="0.5"/><circle cx="79.4" cy="585.9" r="0.5"/><circle cx="91.6" cy="582.0" r="0.5"/><circle cx="76.5" cy="606.4" r="0.5"/><circle cx="93.4" cy="584.0" r="0.5"/><circle cx="82.4" cy="594.9" r="0.5"/><circle cx="76.3" cy="606.5" r="0.5"/><circle cx="88.7" cy="586.4" r="0.5"/><circle cx="84.2" cy="591.1" r="0.5"/><circle cx="83.1" cy="585.7" r="0.5"/><circle cx="72.6" cy="603.7" r="0.5"/><circle cx="96.1" cy="579.4" r="0.5"/><circle cx="78.3" cy="588.1" r="0.5"/><circle cx="82.8" cy="587.3" r="0.5"/><circle cx="100.0" cy="568.6" r="0.5"/><circle cx="75.7" cy="597.1" r="0.5"/><circle cx="80.2" cy="592.3" r="0.5"/><circle cx="78.4" cy="594.4" r="0.5"/><circle cx="87.6" cy="592.6" r="0.5"/><circle cx="80.5" cy="597.8" r="0.5"/><circle cx="77.5" cy="588.0" r="0.5"/><circle cx="82.5" cy="592.8" r="0.5"/><circle cx="76.6" cy="600.6" r="0.5"/><circle cx="82.9" cy="588.0" r="0.5"/><circle cx="86.7" cy="592.8" r="0.5"/><circle cx="91.8" cy="587.8" r="0.5"/><circle cx="89.8" cy="583.2" r="0.5"/><circle cx="83.6" cy="590.5" r="0.5"/><circle cx="98.0" cy="585.3" r="0.5"/><circle cx="85.5" cy="598.8" r="0.5"/><circle cx="89.0" cy="584.4" r="0.5"/><circle cx="87.4" cy="587.0" r="0.5"/><circle cx="90.6" cy="581.5" r="0.5"/><circle cx="80.5" cy="598.5" r="0.5"/><circle cx="79.9" cy="602.3" r="0.5"/><circle cx="85.1" cy="593.0" r="0.5"/><circle cx="90.8" cy="582.6" r="0.5"/><circle cx="80.2" cy="593.3" r="0.5"/><circle cx="71.4" cy="609.7" r="0.5"/><circle cx="77.1" cy="604.0" r="0.5"/><circle cx="83.2" cy="598.8" r="0.5"/><circle cx="80.6" cy="587.1" r="0.5"/><circle cx="79.3" cy="595.7" r="0.5"/><circle cx="89.4" cy="584.9" r="0.5"/><circle cx="80.3" cy="591.2" r="0.5"/><circle cx="79.8" cy="590.9" r="0.5"/><circle cx="90.4" cy="584.4" r="0.5"/><circle cx="79.2" cy="597.1" r="0.5"/><circle cx="95.4" cy="590.2" r="0.5"/><circle cx="75.3" cy="599.9" r="0.5"/><circle cx="91.7" cy="581.5" r="0.5"/><circle cx="89.0" cy="589.2" r="0.5"/><circle cx="81.9" cy="598.3" r="0.5"/><circle cx="82.6" cy="589.4" r="0.5"/><circle cx="89.8" cy="577.8" r="0.5"/><circle cx="75.0" cy="606.2" r="0.5"/><circle cx="72.4" cy="605.4" r="0.5"/></g>
<ellipse cx="83.6" cy="591.7" rx="16.5" ry="7.2" fill="#c4a0d4" opacity="0.55" transform="rotate(-58 83.6 591.7)" filter="url(#blur1)"/>
<ellipse cx="83.6" cy="591.7" rx="13.5" ry="5.5" fill="#8c58a8" transform="rotate(-58 83.6 591.7)" filter="url(#blur05)"/>
<ellipse cx="84.1" cy="591.2" rx="8.2" ry="3.4" fill="#4f62b4" transform="rotate(-58 83.6 591.7)" filter="url(#blur05)"/>
<ellipse cx="84.4" cy="590.9" rx="4.2" ry="1.8" fill="#46a35a" transform="rotate(-58 83.6 591.7)" filter="url(#blur05)"/>
<line x1="73.50" y1="572.50" x2="73.50" y2="624.50" stroke="#555" stroke-width="0.6"/>
<line x1="51.50" y1="600.50" x2="105.50" y2="600.50" stroke="#555" stroke-width="0.6"/>
<text x="93.62" y="607.50" font-size="3.2" text-anchor="middle" fill="#333" font-weight="bold">5.136</text>
<text x="50.00" y="577.70" font-size="2.8" text-anchor="end" fill="#999">10</text>
<text x="50.00" y="590.70" font-size="2.8" text-anchor="end" fill="#999">10</text>
<text x="50.00" y="603.70" font-size="2.8" text-anchor="end" fill="#999">10</text>
<text x="50.00" y="616.70" font-size="2.8" text-anchor="end" fill="#999">10</text>
<text x="65.00" y="628.50" font-size="2.8" text-anchor="middle" fill="#999">10</text>
<text x="77.96" y="628.50" font-size="2.8" text-anchor="middle" fill="#999">10</text>
<text x="90.92" y="628.50" font-size="2.8" text-anchor="middle" fill="#999">10</text>
<text x="103.88" y="628.50" font-size="2.8" text-anchor="middle" fill="#999">10</text>
<text x="78.50" y="635.50" font-size="5.6" text-anchor="middle" fill="#2a2a2a" textLength="15" lengthAdjust="spacingAndGlyphs">a (PLT)</text>
<rect x="124.5" y="572.5" width="55.0" height="52.0" fill="#fff" stroke="#999" stroke-width="0.6"/>
<g fill="#a8a8a8" opacity="0.55"><circle cx="137.0" cy="606.4" r="0.4"/><circle cx="139.9" cy="608.4" r="0.4"/><circle cx="132.7" cy="616.3" r="0.4"/><circle cx="154.7" cy="600.7" r="0.4"/><circle cx="136.9" cy="614.8" r="0.4"/><circle cx="142.3" cy="619.8" r="0.4"/><circle cx="147.5" cy="602.0" r="0.4"/><circle cx="132.0" cy="621.3" r="0.4"/><circle cx="137.5" cy="617.2" r="0.4"/><circle cx="138.3" cy="610.8" r="0.4"/><circle cx="143.1" cy="604.2" r="0.4"/><circle cx="146.6" cy="603.6" r="0.4"/><circle cx="163.8" cy="593.2" r="0.4"/><circle cx="149.3" cy="603.7" r="0.4"/><circle cx="145.0" cy="615.9" r="0.4"/><circle cx="144.5" cy="607.9" r="0.4"/><circle cx="156.5" cy="594.4" r="0.4"/><circle cx="141.1" cy="614.0" r="0.4"/><circle cx="156.0" cy="594.6" r="0.4"/><circle cx="148.8" cy="601.5" r="0.4"/><circle cx="153.3" cy="601.8" r="0.4"/><circle cx="140.7" cy="621.1" r="0.4"/><circle cx="133.8" cy="615.6" r="0.4"/><circle cx="137.3" cy="614.8" r="0.4"/><circle cx="151.2" cy="605.7" r="0.4"/><circle cx="150.3" cy="605.0" r="0.4"/><circle cx="132.9" cy="619.6" r="0.4"/><circle cx="156.7" cy="609.1" r="0.4"/><circle cx="137.7" cy="621.2" r="0.4"/><circle cx="140.5" cy="613.7" r="0.4"/><circle cx="132.8" cy="618.2" r="0.4"/><circle cx="145.1" cy="607.2" r="0.4"/><circle cx="152.2" cy="594.9" r="0.4"/><circle cx="155.0" cy="598.8" r="0.4"/><circle cx="156.3" cy="593.8" r="0.4"/><circle cx="136.9" cy="609.1" r="0.4"/><circle cx="144.1" cy="614.3" r="0.4"/><circle cx="146.3" cy="605.3" r="0.4"/><circle cx="136.1" cy="620.3" r="0.4"/><circle cx="149.9" cy="607.6" r="0.4"/><circle cx="147.0" cy="606.7" r="0.4"/><circle cx="152.7" cy="602.2" r="0.4"/><circle cx="149.3" cy="602.5" r="0.4"/><circle cx="141.6" cy="612.8" r="0.4"/><circle cx="135.7" cy="622.8" r="0.4"/><circle cx="149.0" cy="607.7" r="0.4"/><circle cx="159.6" cy="595.9" r="0.4"/><circle cx="148.3" cy="601.3" r="0.4"/><circle cx="140.8" cy="621.7" r="0.4"/><circle cx="150.8" cy="601.7" r="0.4"/><circle cx="143.2" cy="604.3" r="0.4"/><circle cx="141.9" cy="612.8" r="0.4"/><circle cx="145.7" cy="599.6" r="0.4"/><circle cx="149.3" cy="595.5" r="0.4"/><circle cx="152.4" cy="599.5" r="0.4"/><circle cx="157.4" cy="593.8" r="0.4"/><circle cx="155.1" cy="596.2" r="0.4"/><circle cx="151.9" cy="608.7" r="0.4"/><circle cx="149.9" cy="608.5" r="0.4"/><circle cx="159.7" cy="608.6" r="0.4"/><circle cx="162.9" cy="603.8" r="0.4"/><circle cx="154.1" cy="611.0" r="0.4"/><circle cx="154.2" cy="613.6" r="0.4"/><circle cx="147.6" cy="608.7" r="0.4"/><circle cx="160.4" cy="609.8" r="0.4"/><circle cx="160.0" cy="605.1" r="0.4"/><circle cx="151.8" cy="603.8" r="0.4"/><circle cx="153.2" cy="612.0" r="0.4"/><circle cx="147.9" cy="615.0" r="0.4"/><circle cx="154.7" cy="604.3" r="0.4"/><circle cx="152.8" cy="614.5" r="0.4"/><circle cx="155.4" cy="607.8" r="0.4"/><circle cx="159.5" cy="609.7" r="0.4"/><circle cx="146.8" cy="609.1" r="0.4"/><circle cx="151.9" cy="613.6" r="0.4"/><circle cx="156.0" cy="611.2" r="0.4"/><circle cx="157.7" cy="619.7" r="0.4"/><circle cx="157.6" cy="608.5" r="0.4"/><circle cx="151.7" cy="606.6" r="0.4"/><circle cx="157.7" cy="610.2" r="0.4"/><circle cx="158.7" cy="616.4" r="0.4"/><circle cx="152.3" cy="622.1" r="0.4"/><circle cx="154.3" cy="607.9" r="0.4"/><circle cx="151.6" cy="605.1" r="0.4"/><circle cx="155.6" cy="611.2" r="0.4"/><circle cx="151.4" cy="609.7" r="0.4"/><circle cx="151.6" cy="617.1" r="0.4"/><circle cx="159.0" cy="604.1" r="0.4"/><circle cx="155.6" cy="604.0" r="0.4"/><circle cx="155.5" cy="604.8" r="0.4"/><circle cx="153.3" cy="613.2" r="0.4"/><circle cx="152.1" cy="616.3" r="0.4"/><circle cx="156.8" cy="603.6" r="0.4"/><circle cx="153.8" cy="603.6" r="0.4"/><circle cx="156.1" cy="608.3" r="0.4"/><circle cx="155.5" cy="605.0" r="0.4"/><circle cx="151.7" cy="609.4" r="0.4"/><circle cx="150.7" cy="611.6" r="0.4"/><circle cx="158.2" cy="622.0" r="0.4"/><circle cx="153.6" cy="608.0" r="0.4"/><circle cx="152.2" cy="603.9" r="0.4"/><circle cx="159.2" cy="603.7" r="0.4"/><circle cx="154.1" cy="608.0" r="0.4"/><circle cx="154.2" cy="610.4" r="0.4"/><circle cx="153.1" cy="612.3" r="0.4"/><circle cx="149.6" cy="612.0" r="0.4"/><circle cx="149.1" cy="611.9" r="0.4"/><circle cx="156.1" cy="605.0" r="0.4"/><circle cx="160.5" cy="608.4" r="0.4"/><circle cx="157.7" cy="609.5" r="0.4"/><circle cx="148.5" cy="615.6" r="0.4"/><circle cx="151.0" cy="610.4" r="0.4"/><circle cx="159.9" cy="612.9" r="0.4"/><circle cx="158.9" cy="606.2" r="0.4"/><circle cx="153.1" cy="607.5" r="0.4"/><circle cx="153.4" cy="617.7" r="0.4"/><circle cx="150.7" cy="613.0" r="0.4"/><circle cx="156.6" cy="619.8" r="0.4"/><circle cx="165.6" cy="605.8" r="0.4"/><circle cx="147.8" cy="606.4" r="0.4"/><circle cx="150.9" cy="619.0" r="0.4"/><circle cx="157.0" cy="608.9" r="0.4"/><circle cx="158.4" cy="607.4" r="0.4"/><circle cx="148.2" cy="607.4" r="0.4"/><circle cx="153.7" cy="603.3" r="0.4"/><circle cx="155.2" cy="605.8" r="0.4"/><circle cx="155.4" cy="607.8" r="0.4"/></g>
<g fill="#9a60b0" opacity="0.5"><circle cx="157.9" cy="602.9" r="0.5"/><circle cx="159.0" cy="592.7" r="0.5"/><circle cx="151.0" cy="605.6" r="0.5"/><circle cx="155.8" cy="587.4" r="0.5"/><circle cx="159.2" cy="586.5" r="0.5"/><circle cx="157.6" cy="591.7" r="0.5"/><circle cx="160.7" cy="594.7" r="0.5"/><circle cx="159.6" cy="599.5" r="0.5"/><circle cx="151.6" cy="599.0" r="0.5"/><circle cx="156.1" cy="588.4" r="0.5"/><circle cx="157.9" cy="598.4" r="0.5"/><circle cx="155.8" cy="584.0" r="0.5"/><circle cx="163.4" cy="593.6" r="0.5"/><circle cx="159.9" cy="586.1" r="0.5"/><circle cx="153.9" cy="598.5" r="0.5"/><circle cx="152.2" cy="602.4" r="0.5"/><circle cx="155.7" cy="595.8" r="0.5"/><circle cx="159.9" cy="586.2" r="0.5"/><circle cx="154.8" cy="606.2" r="0.5"/><circle cx="152.0" cy="601.6" r="0.5"/><circle cx="155.3" cy="595.2" r="0.5"/><circle cx="152.7" cy="601.4" r="0.5"/><circle cx="162.1" cy="578.7" r="0.5"/><circle cx="159.3" cy="597.1" r="0.5"/><circle cx="161.2" cy="590.5" r="0.5"/><circle cx="154.1" cy="586.2" r="0.5"/><circle cx="154.2" cy="600.9" r="0.5"/><circle cx="161.8" cy="592.9" r="0.5"/><circle cx="157.6" cy="591.1" r="0.5"/><circle cx="156.2" cy="594.2" r="0.5"/><circle cx="159.3" cy="593.8" r="0.5"/><circle cx="153.4" cy="596.0" r="0.5"/><circle cx="156.9" cy="602.1" r="0.5"/><circle cx="163.5" cy="587.0" r="0.5"/><circle cx="161.7" cy="589.8" r="0.5"/><circle cx="158.5" cy="595.6" r="0.5"/><circle cx="152.7" cy="601.8" r="0.5"/><circle cx="156.3" cy="600.7" r="0.5"/><circle cx="154.5" cy="598.6" r="0.5"/><circle cx="161.7" cy="593.6" r="0.5"/><circle cx="151.5" cy="599.0" r="0.5"/><circle cx="156.3" cy="587.6" r="0.5"/><circle cx="156.6" cy="590.8" r="0.5"/><circle cx="151.4" cy="593.1" r="0.5"/><circle cx="157.6" cy="589.1" r="0.5"/><circle cx="159.4" cy="603.6" r="0.5"/><circle cx="168.5" cy="594.2" r="0.5"/><circle cx="157.1" cy="591.4" r="0.5"/><circle cx="161.4" cy="596.0" r="0.5"/><circle cx="157.8" cy="595.5" r="0.5"/><circle cx="155.9" cy="589.9" r="0.5"/><circle cx="155.7" cy="593.2" r="0.5"/><circle cx="155.0" cy="604.5" r="0.5"/><circle cx="159.0" cy="590.2" r="0.5"/><circle cx="148.3" cy="598.5" r="0.5"/><circle cx="158.0" cy="591.2" r="0.5"/><circle cx="151.0" cy="606.4" r="0.5"/><circle cx="151.7" cy="605.3" r="0.5"/><circle cx="158.1" cy="594.2" r="0.5"/><circle cx="157.8" cy="593.4" r="0.5"/><circle cx="151.9" cy="602.2" r="0.5"/><circle cx="154.4" cy="598.0" r="0.5"/><circle cx="159.2" cy="593.6" r="0.5"/><circle cx="155.0" cy="580.0" r="0.5"/><circle cx="157.4" cy="591.7" r="0.5"/><circle cx="166.6" cy="580.0" r="0.5"/><circle cx="152.4" cy="606.7" r="0.5"/><circle cx="157.7" cy="599.6" r="0.5"/><circle cx="153.0" cy="601.9" r="0.5"/><circle cx="156.0" cy="595.5" r="0.5"/><circle cx="149.8" cy="596.4" r="0.5"/><circle cx="160.9" cy="592.8" r="0.5"/><circle cx="153.7" cy="593.9" r="0.5"/><circle cx="158.9" cy="594.0" r="0.5"/><circle cx="156.1" cy="595.9" r="0.5"/><circle cx="158.2" cy="583.5" r="0.5"/><circle cx="149.7" cy="596.2" r="0.5"/><circle cx="152.4" cy="598.7" r="0.5"/><circle cx="151.7" cy="600.5" r="0.5"/><circle cx="162.0" cy="581.9" r="0.5"/><circle cx="162.3" cy="598.3" r="0.5"/><circle cx="151.8" cy="592.9" r="0.5"/><circle cx="155.4" cy="590.7" r="0.5"/><circle cx="158.6" cy="581.7" r="0.5"/><circle cx="150.4" cy="596.7" r="0.5"/><circle cx="154.2" cy="592.7" r="0.5"/><circle cx="155.4" cy="594.7" r="0.5"/><circle cx="157.2" cy="600.2" r="0.5"/><circle cx="159.9" cy="588.3" r="0.5"/><circle cx="150.8" cy="599.6" r="0.5"/><circle cx="164.1" cy="595.9" r="0.5"/><circle cx="153.1" cy="596.9" r="0.5"/><circle cx="151.4" cy="598.2" r="0.5"/><circle cx="153.0" cy="601.2" r="0.5"/><circle cx="161.3" cy="584.7" r="0.5"/><circle cx="150.6" cy="596.2" r="0.5"/><circle cx="157.3" cy="593.2" r="0.5"/><circle cx="149.7" cy="601.9" r="0.5"/><circle cx="159.3" cy="596.3" r="0.5"/><circle cx="159.3" cy="590.6" r="0.5"/><circle cx="156.5" cy="597.4" r="0.5"/><circle cx="162.5" cy="597.5" r="0.5"/><circle cx="152.0" cy="602.1" r="0.5"/><circle cx="160.1" cy="585.5" r="0.5"/><circle cx="161.2" cy="584.7" r="0.5"/><circle cx="156.1" cy="593.2" r="0.5"/><circle cx="149.5" cy="603.1" r="0.5"/><circle cx="165.6" cy="580.1" r="0.5"/><circle cx="161.2" cy="591.7" r="0.5"/><circle cx="161.3" cy="592.0" r="0.5"/><circle cx="155.2" cy="596.3" r="0.5"/><circle cx="158.9" cy="587.4" r="0.5"/><circle cx="151.7" cy="603.7" r="0.5"/><circle cx="156.6" cy="599.3" r="0.5"/><circle cx="151.4" cy="598.4" r="0.5"/><circle cx="159.8" cy="599.0" r="0.5"/><circle cx="157.0" cy="595.2" r="0.5"/><circle cx="157.5" cy="595.0" r="0.5"/><circle cx="163.5" cy="590.0" r="0.5"/><circle cx="155.0" cy="607.9" r="0.5"/><circle cx="155.8" cy="594.3" r="0.5"/><circle cx="164.0" cy="577.8" r="0.5"/><circle cx="165.6" cy="582.4" r="0.5"/><circle cx="154.7" cy="602.5" r="0.5"/><circle cx="158.7" cy="589.4" r="0.5"/><circle cx="148.2" cy="610.5" r="0.5"/><circle cx="153.0" cy="594.6" r="0.5"/><circle cx="162.0" cy="581.7" r="0.5"/><circle cx="154.6" cy="597.1" r="0.5"/><circle cx="152.0" cy="599.2" r="0.5"/><circle cx="157.8" cy="594.4" r="0.5"/><circle cx="154.8" cy="598.1" r="0.5"/><circle cx="153.6" cy="605.1" r="0.5"/><circle cx="154.8" cy="600.2" r="0.5"/><circle cx="152.3" cy="600.4" r="0.5"/><circle cx="154.1" cy="591.7" r="0.5"/><circle cx="164.6" cy="577.4" r="0.5"/><circle cx="154.4" cy="594.3" r="0.5"/><circle cx="165.6" cy="585.3" r="0.5"/><circle cx="153.9" cy="590.9" r="0.5"/></g>
<ellipse cx="156.7" cy="594.7" rx="15.4" ry="6.5" fill="#c4a0d4" opacity="0.55" transform="rotate(-65 156.7 594.7)" filter="url(#blur1)"/>
<ellipse cx="156.7" cy="594.7" rx="12.6" ry="5.0" fill="#8c58a8" transform="rotate(-65 156.7 594.7)" filter="url(#blur05)"/>
<ellipse cx="157.2" cy="594.2" rx="7.7" ry="3.1" fill="#4f62b4" transform="rotate(-65 156.7 594.7)" filter="url(#blur05)"/>
<ellipse cx="157.5" cy="593.9" rx="3.9" ry="1.7" fill="#46a35a" transform="rotate(-65 156.7 594.7)" filter="url(#blur05)"/>
<line x1="147.50" y1="572.50" x2="147.50" y2="624.50" stroke="#555" stroke-width="0.6"/>
<line x1="124.50" y1="600.50" x2="179.50" y2="600.50" stroke="#555" stroke-width="0.6"/>
<text x="167.40" y="607.50" font-size="3.2" text-anchor="middle" fill="#333" font-weight="bold">16.216</text>
<text x="123.00" y="577.70" font-size="2.8" text-anchor="end" fill="#999">10</text>
<text x="123.00" y="590.70" font-size="2.8" text-anchor="end" fill="#999">10</text>
<text x="123.00" y="603.70" font-size="2.8" text-anchor="end" fill="#999">10</text>
<text x="123.00" y="616.70" font-size="2.8" text-anchor="end" fill="#999">10</text>
<text x="138.25" y="628.50" font-size="2.8" text-anchor="middle" fill="#999">10</text>
<text x="151.45" y="628.50" font-size="2.8" text-anchor="middle" fill="#999">10</text>
<text x="164.65" y="628.50" font-size="2.8" text-anchor="middle" fill="#999">10</text>
<text x="177.85" y="628.50" font-size="2.8" text-anchor="middle" fill="#999">10</text>
<text x="151.00" y="635.50" font-size="5.6" text-anchor="middle" fill="#2a2a2a" textLength="30" lengthAdjust="spacingAndGlyphs">b (PLT+CTL)</text>
<rect x="53.5" y="641.5" width="54.0" height="52.0" fill="#fff" stroke="#999" stroke-width="0.6"/>
<g fill="#a8a8a8" opacity="0.55"><circle cx="70.5" cy="673.5" r="0.4"/><circle cx="68.2" cy="687.0" r="0.4"/><circle cx="70.1" cy="678.6" r="0.4"/><circle cx="71.8" cy="672.1" r="0.4"/><circle cx="63.3" cy="687.4" r="0.4"/><circle cx="89.2" cy="667.1" r="0.4"/><circle cx="62.3" cy="686.2" r="0.4"/><circle cx="71.8" cy="678.8" r="0.4"/><circle cx="66.4" cy="687.3" r="0.4"/><circle cx="71.6" cy="687.7" r="0.4"/><circle cx="62.8" cy="688.5" r="0.4"/><circle cx="67.8" cy="680.7" r="0.4"/><circle cx="80.4" cy="671.6" r="0.4"/><circle cx="78.7" cy="669.5" r="0.4"/><circle cx="72.9" cy="674.3" r="0.4"/><circle cx="61.1" cy="682.0" r="0.4"/><circle cx="83.8" cy="660.5" r="0.4"/><circle cx="68.6" cy="676.2" r="0.4"/><circle cx="64.7" cy="690.6" r="0.4"/><circle cx="75.4" cy="672.9" r="0.4"/><circle cx="63.8" cy="687.1" r="0.4"/><circle cx="74.8" cy="679.3" r="0.4"/><circle cx="71.2" cy="678.4" r="0.4"/><circle cx="77.1" cy="679.5" r="0.4"/><circle cx="62.0" cy="692.7" r="0.4"/><circle cx="80.5" cy="673.8" r="0.4"/><circle cx="65.9" cy="688.4" r="0.4"/><circle cx="76.9" cy="664.4" r="0.4"/><circle cx="68.4" cy="684.7" r="0.4"/><circle cx="66.1" cy="678.6" r="0.4"/><circle cx="69.9" cy="681.5" r="0.4"/><circle cx="55.8" cy="683.7" r="0.4"/><circle cx="85.2" cy="662.3" r="0.4"/><circle cx="70.9" cy="675.9" r="0.4"/><circle cx="77.6" cy="676.4" r="0.4"/><circle cx="71.4" cy="675.5" r="0.4"/><circle cx="86.1" cy="662.7" r="0.4"/><circle cx="70.5" cy="680.8" r="0.4"/><circle cx="79.6" cy="663.4" r="0.4"/><circle cx="79.3" cy="673.2" r="0.4"/><circle cx="65.8" cy="679.2" r="0.4"/><circle cx="67.4" cy="685.0" r="0.4"/><circle cx="59.2" cy="687.4" r="0.4"/><circle cx="70.0" cy="669.9" r="0.4"/><circle cx="85.2" cy="660.1" r="0.4"/><circle cx="80.5" cy="670.9" r="0.4"/><circle cx="73.9" cy="676.8" r="0.4"/><circle cx="78.9" cy="669.6" r="0.4"/><circle cx="83.6" cy="667.4" r="0.4"/><circle cx="86.8" cy="663.2" r="0.4"/><circle cx="79.7" cy="669.3" r="0.4"/><circle cx="67.3" cy="687.5" r="0.4"/><circle cx="74.0" cy="670.1" r="0.4"/><circle cx="59.7" cy="686.3" r="0.4"/><circle cx="71.3" cy="682.8" r="0.4"/><circle cx="68.8" cy="680.1" r="0.4"/><circle cx="61.9" cy="692.8" r="0.4"/><circle cx="76.0" cy="663.0" r="0.4"/><circle cx="74.2" cy="681.1" r="0.4"/><circle cx="81.4" cy="673.7" r="0.4"/><circle cx="82.0" cy="678.3" r="0.4"/><circle cx="84.1" cy="679.0" r="0.4"/><circle cx="84.3" cy="672.3" r="0.4"/><circle cx="81.7" cy="676.9" r="0.4"/><circle cx="85.1" cy="680.0" r="0.4"/><circle cx="85.5" cy="689.5" r="0.4"/><circle cx="77.6" cy="672.0" r="0.4"/><circle cx="86.1" cy="679.5" r="0.4"/><circle cx="77.8" cy="681.5" r="0.4"/><circle cx="83.8" cy="680.8" r="0.4"/><circle cx="88.4" cy="683.9" r="0.4"/><circle cx="84.5" cy="681.8" r="0.4"/><circle cx="84.1" cy="679.9" r="0.4"/><circle cx="81.1" cy="682.4" r="0.4"/><circle cx="88.8" cy="673.7" r="0.4"/><circle cx="82.2" cy="678.7" r="0.4"/><circle cx="83.4" cy="678.9" r="0.4"/><circle cx="80.0" cy="671.9" r="0.4"/><circle cx="83.0" cy="676.0" r="0.4"/><circle cx="84.6" cy="681.8" r="0.4"/><circle cx="83.8" cy="674.4" r="0.4"/><circle cx="84.9" cy="678.1" r="0.4"/><circle cx="88.8" cy="676.1" r="0.4"/><circle cx="77.6" cy="682.4" r="0.4"/><circle cx="86.6" cy="676.2" r="0.4"/><circle cx="87.8" cy="680.1" r="0.4"/><circle cx="86.8" cy="681.1" r="0.4"/><circle cx="84.7" cy="680.0" r="0.4"/><circle cx="81.5" cy="676.1" r="0.4"/><circle cx="80.5" cy="676.2" r="0.4"/><circle cx="80.8" cy="677.3" r="0.4"/><circle cx="84.7" cy="676.5" r="0.4"/><circle cx="84.6" cy="677.8" r="0.4"/><circle cx="88.6" cy="673.7" r="0.4"/><circle cx="91.0" cy="676.9" r="0.4"/><circle cx="89.0" cy="682.5" r="0.4"/><circle cx="79.7" cy="682.0" r="0.4"/><circle cx="83.0" cy="676.0" r="0.4"/><circle cx="88.8" cy="683.3" r="0.4"/><circle cx="85.8" cy="687.9" r="0.4"/><circle cx="87.2" cy="673.0" r="0.4"/><circle cx="86.2" cy="672.3" r="0.4"/><circle cx="87.1" cy="682.8" r="0.4"/><circle cx="83.0" cy="676.9" r="0.4"/><circle cx="85.2" cy="678.3" r="0.4"/><circle cx="87.3" cy="680.3" r="0.4"/><circle cx="88.7" cy="679.2" r="0.4"/><circle cx="79.5" cy="673.9" r="0.4"/><circle cx="78.1" cy="673.9" r="0.4"/><circle cx="85.3" cy="680.9" r="0.4"/><circle cx="80.8" cy="678.7" r="0.4"/><circle cx="81.2" cy="677.8" r="0.4"/><circle cx="79.6" cy="676.8" r="0.4"/><circle cx="83.1" cy="678.2" r="0.4"/><circle cx="87.9" cy="676.2" r="0.4"/><circle cx="87.6" cy="681.6" r="0.4"/><circle cx="89.6" cy="675.2" r="0.4"/><circle cx="80.1" cy="675.5" r="0.4"/><circle cx="78.6" cy="680.3" r="0.4"/><circle cx="84.9" cy="675.5" r="0.4"/><circle cx="85.6" cy="673.4" r="0.4"/><circle cx="85.0" cy="673.3" r="0.4"/><circle cx="86.8" cy="672.2" r="0.4"/><circle cx="88.4" cy="679.9" r="0.4"/><circle cx="76.0" cy="685.7" r="0.4"/><circle cx="90.2" cy="675.2" r="0.4"/><circle cx="84.7" cy="672.5" r="0.4"/><circle cx="85.1" cy="690.0" r="0.4"/><circle cx="81.1" cy="672.8" r="0.4"/></g>
<g fill="#9a60b0" opacity="0.5"><circle cx="82.6" cy="661.6" r="0.5"/><circle cx="82.1" cy="668.9" r="0.5"/><circle cx="87.2" cy="664.3" r="0.5"/><circle cx="74.1" cy="674.0" r="0.5"/><circle cx="91.3" cy="652.2" r="0.5"/><circle cx="87.6" cy="657.3" r="0.5"/><circle cx="90.3" cy="671.9" r="0.5"/><circle cx="78.8" cy="670.2" r="0.5"/><circle cx="88.5" cy="659.0" r="0.5"/><circle cx="80.7" cy="674.7" r="0.5"/><circle cx="83.8" cy="656.0" r="0.5"/><circle cx="86.6" cy="668.6" r="0.5"/><circle cx="85.4" cy="646.8" r="0.5"/><circle cx="83.7" cy="668.2" r="0.5"/><circle cx="79.9" cy="668.1" r="0.5"/><circle cx="85.9" cy="667.7" r="0.5"/><circle cx="85.0" cy="672.1" r="0.5"/><circle cx="91.7" cy="659.4" r="0.5"/><circle cx="89.8" cy="652.4" r="0.5"/><circle cx="89.1" cy="665.6" r="0.5"/><circle cx="93.5" cy="656.7" r="0.5"/><circle cx="82.9" cy="665.7" r="0.5"/><circle cx="80.0" cy="671.6" r="0.5"/><circle cx="81.3" cy="668.7" r="0.5"/><circle cx="87.3" cy="667.5" r="0.5"/><circle cx="88.9" cy="657.7" r="0.5"/><circle cx="81.8" cy="671.1" r="0.5"/><circle cx="90.3" cy="662.1" r="0.5"/><circle cx="89.4" cy="663.5" r="0.5"/><circle cx="85.8" cy="669.0" r="0.5"/><circle cx="87.5" cy="658.0" r="0.5"/><circle cx="87.3" cy="670.7" r="0.5"/><circle cx="84.7" cy="671.3" r="0.5"/><circle cx="84.0" cy="664.7" r="0.5"/><circle cx="83.7" cy="664.5" r="0.5"/><circle cx="91.6" cy="666.8" r="0.5"/><circle cx="90.8" cy="653.6" r="0.5"/><circle cx="90.6" cy="661.9" r="0.5"/><circle cx="90.4" cy="669.5" r="0.5"/><circle cx="88.1" cy="664.4" r="0.5"/><circle cx="79.1" cy="668.0" r="0.5"/><circle cx="80.4" cy="669.1" r="0.5"/><circle cx="88.7" cy="656.1" r="0.5"/><circle cx="87.8" cy="656.9" r="0.5"/><circle cx="83.2" cy="670.2" r="0.5"/><circle cx="79.3" cy="663.4" r="0.5"/><circle cx="90.0" cy="665.2" r="0.5"/><circle cx="81.5" cy="662.9" r="0.5"/><circle cx="79.5" cy="666.5" r="0.5"/><circle cx="82.2" cy="663.5" r="0.5"/><circle cx="86.2" cy="664.6" r="0.5"/><circle cx="87.0" cy="652.7" r="0.5"/><circle cx="83.9" cy="679.9" r="0.5"/><circle cx="86.4" cy="660.0" r="0.5"/><circle cx="84.9" cy="658.6" r="0.5"/><circle cx="87.0" cy="666.9" r="0.5"/><circle cx="85.3" cy="665.8" r="0.5"/><circle cx="88.0" cy="660.8" r="0.5"/><circle cx="86.8" cy="666.0" r="0.5"/><circle cx="94.8" cy="656.9" r="0.5"/><circle cx="85.3" cy="670.7" r="0.5"/><circle cx="74.8" cy="673.8" r="0.5"/><circle cx="89.2" cy="661.8" r="0.5"/><circle cx="85.4" cy="651.5" r="0.5"/><circle cx="88.1" cy="655.4" r="0.5"/><circle cx="85.8" cy="667.4" r="0.5"/><circle cx="88.0" cy="652.6" r="0.5"/><circle cx="78.1" cy="673.9" r="0.5"/><circle cx="89.4" cy="666.3" r="0.5"/><circle cx="86.4" cy="660.6" r="0.5"/><circle cx="82.7" cy="666.1" r="0.5"/><circle cx="84.2" cy="654.3" r="0.5"/><circle cx="80.8" cy="666.7" r="0.5"/><circle cx="90.4" cy="656.3" r="0.5"/><circle cx="86.0" cy="669.3" r="0.5"/><circle cx="96.2" cy="652.3" r="0.5"/><circle cx="80.7" cy="671.9" r="0.5"/><circle cx="84.3" cy="652.9" r="0.5"/><circle cx="80.3" cy="671.0" r="0.5"/><circle cx="85.2" cy="658.7" r="0.5"/><circle cx="86.0" cy="662.3" r="0.5"/><circle cx="83.3" cy="659.4" r="0.5"/><circle cx="71.3" cy="674.7" r="0.5"/><circle cx="89.7" cy="664.1" r="0.5"/><circle cx="82.6" cy="657.7" r="0.5"/><circle cx="78.9" cy="674.7" r="0.5"/><circle cx="76.9" cy="666.6" r="0.5"/><circle cx="81.4" cy="666.1" r="0.5"/><circle cx="86.7" cy="665.0" r="0.5"/><circle cx="87.2" cy="662.7" r="0.5"/><circle cx="87.5" cy="659.9" r="0.5"/><circle cx="83.2" cy="666.0" r="0.5"/><circle cx="89.2" cy="655.2" r="0.5"/><circle cx="94.1" cy="661.0" r="0.5"/><circle cx="85.3" cy="648.4" r="0.5"/><circle cx="89.6" cy="664.3" r="0.5"/><circle cx="82.1" cy="665.4" r="0.5"/><circle cx="78.7" cy="672.0" r="0.5"/><circle cx="79.9" cy="660.4" r="0.5"/><circle cx="83.2" cy="662.3" r="0.5"/><circle cx="82.5" cy="661.7" r="0.5"/><circle cx="86.7" cy="663.3" r="0.5"/><circle cx="81.3" cy="667.1" r="0.5"/><circle cx="91.3" cy="658.4" r="0.5"/><circle cx="84.5" cy="669.5" r="0.5"/><circle cx="80.2" cy="670.4" r="0.5"/><circle cx="73.8" cy="682.1" r="0.5"/><circle cx="86.7" cy="658.3" r="0.5"/><circle cx="85.9" cy="658.6" r="0.5"/><circle cx="86.5" cy="661.4" r="0.5"/><circle cx="89.1" cy="673.7" r="0.5"/><circle cx="78.6" cy="667.0" r="0.5"/><circle cx="87.9" cy="663.6" r="0.5"/><circle cx="86.8" cy="661.2" r="0.5"/><circle cx="90.5" cy="662.1" r="0.5"/><circle cx="83.7" cy="657.2" r="0.5"/><circle cx="91.9" cy="652.1" r="0.5"/><circle cx="81.3" cy="678.7" r="0.5"/><circle cx="86.3" cy="665.1" r="0.5"/><circle cx="91.2" cy="649.5" r="0.5"/><circle cx="80.6" cy="666.1" r="0.5"/><circle cx="88.6" cy="663.5" r="0.5"/><circle cx="87.8" cy="661.3" r="0.5"/><circle cx="79.2" cy="678.2" r="0.5"/><circle cx="88.1" cy="655.6" r="0.5"/><circle cx="80.8" cy="665.5" r="0.5"/><circle cx="81.8" cy="659.4" r="0.5"/><circle cx="92.0" cy="650.6" r="0.5"/><circle cx="79.9" cy="665.6" r="0.5"/><circle cx="90.9" cy="661.7" r="0.5"/><circle cx="84.4" cy="667.7" r="0.5"/><circle cx="90.0" cy="663.3" r="0.5"/><circle cx="92.0" cy="661.6" r="0.5"/><circle cx="89.2" cy="677.4" r="0.5"/><circle cx="80.6" cy="665.1" r="0.5"/><circle cx="83.8" cy="670.5" r="0.5"/><circle cx="96.3" cy="662.6" r="0.5"/><circle cx="87.8" cy="654.2" r="0.5"/><circle cx="83.2" cy="665.1" r="0.5"/><circle cx="83.2" cy="667.3" r="0.5"/></g>
<ellipse cx="85.8" cy="663.7" rx="15.1" ry="7.8" fill="#c4a0d4" opacity="0.55" transform="rotate(-62 85.8 663.7)" filter="url(#blur1)"/>
<ellipse cx="85.8" cy="663.7" rx="12.3" ry="6.0" fill="#8c58a8" transform="rotate(-62 85.8 663.7)" filter="url(#blur05)"/>
<ellipse cx="86.3" cy="663.2" rx="7.5" ry="3.7" fill="#4f62b4" transform="rotate(-62 85.8 663.7)" filter="url(#blur05)"/>
<ellipse cx="86.6" cy="662.9" rx="3.8" ry="2.0" fill="#46a35a" transform="rotate(-62 85.8 663.7)" filter="url(#blur05)"/>
<line x1="75.50" y1="641.50" x2="75.50" y2="693.50" stroke="#555" stroke-width="0.6"/>
<line x1="53.50" y1="669.50" x2="107.50" y2="669.50" stroke="#555" stroke-width="0.6"/>
<text x="95.62" y="676.50" font-size="3.2" text-anchor="middle" fill="#333" font-weight="bold">11.245</text>
<text x="52.00" y="646.70" font-size="2.8" text-anchor="end" fill="#999">10</text>
<text x="52.00" y="659.70" font-size="2.8" text-anchor="end" fill="#999">10</text>
<text x="52.00" y="672.70" font-size="2.8" text-anchor="end" fill="#999">10</text>
<text x="52.00" y="685.70" font-size="2.8" text-anchor="end" fill="#999">10</text>
<text x="67.00" y="697.50" font-size="2.8" text-anchor="middle" fill="#999">10</text>
<text x="79.96" y="697.50" font-size="2.8" text-anchor="middle" fill="#999">10</text>
<text x="92.92" y="697.50" font-size="2.8" text-anchor="middle" fill="#999">10</text>
<text x="105.88" y="697.50" font-size="2.8" text-anchor="middle" fill="#999">10</text>
<text x="78.00" y="703.50" font-size="5.6" text-anchor="middle" fill="#2a2a2a" textLength="60" lengthAdjust="spacingAndGlyphs">c (PLT+CTL+PBS-MDSC)</text>
<rect x="125.5" y="641.5" width="54.0" height="52.0" fill="#fff" stroke="#999" stroke-width="0.6"/>
<g fill="#a8a8a8" opacity="0.55"><circle cx="137.9" cy="679.1" r="0.4"/><circle cx="155.2" cy="668.7" r="0.4"/><circle cx="138.0" cy="691.7" r="0.4"/><circle cx="134.6" cy="686.8" r="0.4"/><circle cx="135.1" cy="685.0" r="0.4"/><circle cx="151.0" cy="673.7" r="0.4"/><circle cx="141.2" cy="682.6" r="0.4"/><circle cx="155.7" cy="663.3" r="0.4"/><circle cx="157.3" cy="661.4" r="0.4"/><circle cx="148.8" cy="667.0" r="0.4"/><circle cx="144.5" cy="676.0" r="0.4"/><circle cx="143.4" cy="680.0" r="0.4"/><circle cx="156.3" cy="658.8" r="0.4"/><circle cx="145.3" cy="669.4" r="0.4"/><circle cx="135.3" cy="684.0" r="0.4"/><circle cx="139.0" cy="689.5" r="0.4"/><circle cx="135.5" cy="684.7" r="0.4"/><circle cx="145.8" cy="682.2" r="0.4"/><circle cx="139.5" cy="686.2" r="0.4"/><circle cx="146.7" cy="682.4" r="0.4"/><circle cx="152.8" cy="666.8" r="0.4"/><circle cx="158.0" cy="664.7" r="0.4"/><circle cx="155.6" cy="664.1" r="0.4"/><circle cx="131.9" cy="689.6" r="0.4"/><circle cx="155.9" cy="663.6" r="0.4"/><circle cx="150.7" cy="670.0" r="0.4"/><circle cx="141.3" cy="686.2" r="0.4"/><circle cx="152.2" cy="674.4" r="0.4"/><circle cx="145.1" cy="672.7" r="0.4"/><circle cx="149.8" cy="672.3" r="0.4"/><circle cx="137.0" cy="684.8" r="0.4"/><circle cx="143.3" cy="686.3" r="0.4"/><circle cx="146.2" cy="674.8" r="0.4"/><circle cx="143.5" cy="679.5" r="0.4"/><circle cx="135.3" cy="690.8" r="0.4"/><circle cx="140.4" cy="686.5" r="0.4"/><circle cx="132.4" cy="689.2" r="0.4"/><circle cx="156.8" cy="667.1" r="0.4"/><circle cx="149.5" cy="676.0" r="0.4"/><circle cx="143.8" cy="675.0" r="0.4"/><circle cx="127.3" cy="689.9" r="0.4"/><circle cx="151.3" cy="674.5" r="0.4"/><circle cx="154.0" cy="670.8" r="0.4"/><circle cx="142.3" cy="683.3" r="0.4"/><circle cx="138.0" cy="685.8" r="0.4"/><circle cx="147.9" cy="682.3" r="0.4"/><circle cx="153.8" cy="673.9" r="0.4"/><circle cx="134.1" cy="685.9" r="0.4"/><circle cx="140.8" cy="684.6" r="0.4"/><circle cx="138.0" cy="685.8" r="0.4"/><circle cx="154.2" cy="669.9" r="0.4"/><circle cx="144.7" cy="680.1" r="0.4"/><circle cx="136.2" cy="682.9" r="0.4"/><circle cx="161.5" cy="663.6" r="0.4"/><circle cx="137.7" cy="684.6" r="0.4"/><circle cx="153.7" cy="664.9" r="0.4"/><circle cx="134.1" cy="687.0" r="0.4"/><circle cx="142.7" cy="679.0" r="0.4"/><circle cx="147.3" cy="664.0" r="0.4"/><circle cx="145.9" cy="669.8" r="0.4"/><circle cx="150.0" cy="671.4" r="0.4"/><circle cx="149.3" cy="678.1" r="0.4"/><circle cx="156.4" cy="670.0" r="0.4"/><circle cx="158.0" cy="675.1" r="0.4"/><circle cx="156.7" cy="676.7" r="0.4"/><circle cx="151.7" cy="687.0" r="0.4"/><circle cx="154.3" cy="670.8" r="0.4"/><circle cx="155.8" cy="668.2" r="0.4"/><circle cx="154.5" cy="671.3" r="0.4"/><circle cx="153.1" cy="683.3" r="0.4"/><circle cx="162.1" cy="667.6" r="0.4"/><circle cx="149.9" cy="672.7" r="0.4"/><circle cx="158.0" cy="678.6" r="0.4"/><circle cx="153.1" cy="680.7" r="0.4"/><circle cx="157.5" cy="671.9" r="0.4"/><circle cx="159.3" cy="667.8" r="0.4"/><circle cx="154.0" cy="681.5" r="0.4"/><circle cx="154.5" cy="667.8" r="0.4"/><circle cx="157.9" cy="668.7" r="0.4"/><circle cx="150.2" cy="684.0" r="0.4"/><circle cx="155.0" cy="683.2" r="0.4"/><circle cx="157.3" cy="674.2" r="0.4"/><circle cx="161.6" cy="668.2" r="0.4"/><circle cx="151.7" cy="668.2" r="0.4"/><circle cx="146.5" cy="671.8" r="0.4"/><circle cx="152.3" cy="668.8" r="0.4"/><circle cx="151.6" cy="674.0" r="0.4"/><circle cx="156.7" cy="677.3" r="0.4"/><circle cx="162.1" cy="670.7" r="0.4"/><circle cx="155.6" cy="670.9" r="0.4"/><circle cx="151.9" cy="671.2" r="0.4"/><circle cx="158.3" cy="673.8" r="0.4"/><circle cx="147.3" cy="669.6" r="0.4"/><circle cx="156.3" cy="680.5" r="0.4"/><circle cx="152.3" cy="674.4" r="0.4"/><circle cx="155.6" cy="668.0" r="0.4"/><circle cx="156.3" cy="671.0" r="0.4"/><circle cx="156.1" cy="671.5" r="0.4"/><circle cx="159.3" cy="670.7" r="0.4"/><circle cx="157.6" cy="670.4" r="0.4"/><circle cx="149.4" cy="668.5" r="0.4"/><circle cx="155.0" cy="677.4" r="0.4"/><circle cx="159.2" cy="668.1" r="0.4"/><circle cx="155.0" cy="674.9" r="0.4"/><circle cx="155.1" cy="670.1" r="0.4"/><circle cx="153.5" cy="675.6" r="0.4"/><circle cx="160.5" cy="674.3" r="0.4"/><circle cx="162.0" cy="678.0" r="0.4"/><circle cx="161.5" cy="673.7" r="0.4"/><circle cx="157.8" cy="678.1" r="0.4"/><circle cx="153.7" cy="679.2" r="0.4"/><circle cx="152.2" cy="670.9" r="0.4"/><circle cx="159.1" cy="677.2" r="0.4"/><circle cx="153.7" cy="669.1" r="0.4"/><circle cx="151.4" cy="676.1" r="0.4"/><circle cx="147.9" cy="668.6" r="0.4"/><circle cx="157.6" cy="673.1" r="0.4"/><circle cx="156.7" cy="676.2" r="0.4"/><circle cx="151.1" cy="671.2" r="0.4"/><circle cx="158.8" cy="671.1" r="0.4"/><circle cx="158.3" cy="669.7" r="0.4"/><circle cx="150.7" cy="683.2" r="0.4"/><circle cx="153.2" cy="674.7" r="0.4"/><circle cx="158.9" cy="671.9" r="0.4"/><circle cx="148.5" cy="675.1" r="0.4"/><circle cx="157.3" cy="690.4" r="0.4"/><circle cx="150.9" cy="670.2" r="0.4"/><circle cx="148.7" cy="672.8" r="0.4"/><circle cx="157.3" cy="670.3" r="0.4"/></g>
<g fill="#9a60b0" opacity="0.5"><circle cx="160.6" cy="656.4" r="0.5"/><circle cx="161.1" cy="668.2" r="0.5"/><circle cx="165.2" cy="658.0" r="0.5"/><circle cx="158.0" cy="661.4" r="0.5"/><circle cx="158.1" cy="656.1" r="0.5"/><circle cx="159.1" cy="656.9" r="0.5"/><circle cx="161.0" cy="653.5" r="0.5"/><circle cx="158.9" cy="659.0" r="0.5"/><circle cx="162.4" cy="648.7" r="0.5"/><circle cx="159.8" cy="654.7" r="0.5"/><circle cx="148.1" cy="671.2" r="0.5"/><circle cx="150.3" cy="663.2" r="0.5"/><circle cx="150.2" cy="660.6" r="0.5"/><circle cx="156.7" cy="656.1" r="0.5"/><circle cx="162.6" cy="650.7" r="0.5"/><circle cx="152.4" cy="667.3" r="0.5"/><circle cx="155.5" cy="657.5" r="0.5"/><circle cx="153.0" cy="659.8" r="0.5"/><circle cx="155.6" cy="664.2" r="0.5"/><circle cx="159.6" cy="662.7" r="0.5"/><circle cx="147.9" cy="672.4" r="0.5"/><circle cx="160.2" cy="663.4" r="0.5"/><circle cx="163.2" cy="652.1" r="0.5"/><circle cx="165.1" cy="654.2" r="0.5"/><circle cx="158.9" cy="653.8" r="0.5"/><circle cx="155.8" cy="656.5" r="0.5"/><circle cx="157.5" cy="660.9" r="0.5"/><circle cx="155.8" cy="662.4" r="0.5"/><circle cx="152.0" cy="660.0" r="0.5"/><circle cx="154.3" cy="669.8" r="0.5"/><circle cx="159.6" cy="659.8" r="0.5"/><circle cx="156.8" cy="659.5" r="0.5"/><circle cx="157.1" cy="656.5" r="0.5"/><circle cx="164.7" cy="650.7" r="0.5"/><circle cx="155.6" cy="654.7" r="0.5"/><circle cx="155.9" cy="662.9" r="0.5"/><circle cx="160.9" cy="650.8" r="0.5"/><circle cx="158.5" cy="659.8" r="0.5"/><circle cx="157.1" cy="657.9" r="0.5"/><circle cx="156.7" cy="668.4" r="0.5"/><circle cx="155.5" cy="658.6" r="0.5"/><circle cx="153.0" cy="657.9" r="0.5"/><circle cx="146.4" cy="668.1" r="0.5"/><circle cx="154.6" cy="654.6" r="0.5"/><circle cx="154.1" cy="656.6" r="0.5"/><circle cx="149.3" cy="670.5" r="0.5"/><circle cx="152.6" cy="663.2" r="0.5"/><circle cx="163.4" cy="647.4" r="0.5"/><circle cx="157.4" cy="664.3" r="0.5"/><circle cx="159.3" cy="662.9" r="0.5"/><circle cx="154.7" cy="671.3" r="0.5"/><circle cx="151.2" cy="665.6" r="0.5"/><circle cx="154.6" cy="656.2" r="0.5"/><circle cx="150.3" cy="669.9" r="0.5"/><circle cx="151.3" cy="658.9" r="0.5"/><circle cx="157.9" cy="651.2" r="0.5"/><circle cx="154.2" cy="663.1" r="0.5"/><circle cx="160.0" cy="660.2" r="0.5"/><circle cx="149.6" cy="674.0" r="0.5"/><circle cx="160.5" cy="653.3" r="0.5"/><circle cx="153.5" cy="658.1" r="0.5"/><circle cx="156.6" cy="656.2" r="0.5"/><circle cx="154.3" cy="656.8" r="0.5"/><circle cx="155.4" cy="661.1" r="0.5"/><circle cx="154.7" cy="670.8" r="0.5"/><circle cx="152.8" cy="658.3" r="0.5"/><circle cx="156.3" cy="661.1" r="0.5"/><circle cx="152.8" cy="660.1" r="0.5"/><circle cx="152.3" cy="658.9" r="0.5"/><circle cx="154.5" cy="672.3" r="0.5"/><circle cx="167.8" cy="649.9" r="0.5"/><circle cx="168.3" cy="645.4" r="0.5"/><circle cx="152.1" cy="664.9" r="0.5"/><circle cx="159.2" cy="650.9" r="0.5"/><circle cx="155.6" cy="661.6" r="0.5"/><circle cx="154.4" cy="654.4" r="0.5"/><circle cx="158.3" cy="659.6" r="0.5"/><circle cx="153.1" cy="674.9" r="0.5"/><circle cx="157.1" cy="652.7" r="0.5"/><circle cx="164.2" cy="647.1" r="0.5"/><circle cx="162.8" cy="658.0" r="0.5"/><circle cx="148.2" cy="677.0" r="0.5"/><circle cx="164.4" cy="653.8" r="0.5"/><circle cx="156.2" cy="659.2" r="0.5"/><circle cx="153.3" cy="664.0" r="0.5"/><circle cx="147.2" cy="661.8" r="0.5"/><circle cx="152.0" cy="661.9" r="0.5"/><circle cx="153.5" cy="662.7" r="0.5"/><circle cx="155.5" cy="662.7" r="0.5"/><circle cx="155.6" cy="659.2" r="0.5"/><circle cx="154.4" cy="663.3" r="0.5"/><circle cx="155.4" cy="661.2" r="0.5"/><circle cx="162.2" cy="650.0" r="0.5"/><circle cx="149.7" cy="659.1" r="0.5"/><circle cx="143.6" cy="665.2" r="0.5"/><circle cx="162.9" cy="654.6" r="0.5"/><circle cx="154.1" cy="661.4" r="0.5"/><circle cx="160.0" cy="656.7" r="0.5"/><circle cx="150.2" cy="670.9" r="0.5"/><circle cx="152.2" cy="659.6" r="0.5"/><circle cx="163.7" cy="650.4" r="0.5"/><circle cx="154.6" cy="663.3" r="0.5"/><circle cx="153.5" cy="662.3" r="0.5"/><circle cx="158.3" cy="663.3" r="0.5"/><circle cx="155.5" cy="658.5" r="0.5"/><circle cx="155.2" cy="664.3" r="0.5"/><circle cx="149.3" cy="663.0" r="0.5"/><circle cx="160.8" cy="662.3" r="0.5"/><circle cx="155.0" cy="664.1" r="0.5"/><circle cx="159.6" cy="662.2" r="0.5"/><circle cx="154.9" cy="654.2" r="0.5"/><circle cx="162.7" cy="647.1" r="0.5"/><circle cx="152.3" cy="664.8" r="0.5"/><circle cx="160.0" cy="660.2" r="0.5"/><circle cx="153.8" cy="660.1" r="0.5"/><circle cx="165.7" cy="652.2" r="0.5"/><circle cx="156.0" cy="661.8" r="0.5"/><circle cx="157.2" cy="656.2" r="0.5"/><circle cx="156.6" cy="667.0" r="0.5"/><circle cx="148.0" cy="664.3" r="0.5"/><circle cx="162.0" cy="656.7" r="0.5"/><circle cx="157.4" cy="652.5" r="0.5"/><circle cx="152.9" cy="659.4" r="0.5"/><circle cx="148.1" cy="659.5" r="0.5"/><circle cx="157.7" cy="667.1" r="0.5"/><circle cx="157.7" cy="669.7" r="0.5"/><circle cx="151.9" cy="655.3" r="0.5"/><circle cx="157.3" cy="651.3" r="0.5"/><circle cx="158.2" cy="655.1" r="0.5"/><circle cx="155.1" cy="661.4" r="0.5"/><circle cx="150.2" cy="667.3" r="0.5"/><circle cx="160.5" cy="664.4" r="0.5"/><circle cx="155.8" cy="663.6" r="0.5"/><circle cx="161.8" cy="657.7" r="0.5"/><circle cx="156.6" cy="661.1" r="0.5"/><circle cx="160.8" cy="669.1" r="0.5"/><circle cx="152.5" cy="669.9" r="0.5"/><circle cx="156.1" cy="661.8" r="0.5"/><circle cx="153.8" cy="662.2" r="0.5"/><circle cx="162.9" cy="653.6" r="0.5"/></g>
<ellipse cx="156.8" cy="659.2" rx="15.4" ry="6.8" fill="#c4a0d4" opacity="0.55" transform="rotate(-64 156.8 659.2)" filter="url(#blur1)"/>
<ellipse cx="156.8" cy="659.2" rx="12.6" ry="5.2" fill="#8c58a8" transform="rotate(-64 156.8 659.2)" filter="url(#blur05)"/>
<ellipse cx="157.3" cy="658.7" rx="7.7" ry="3.2" fill="#4f62b4" transform="rotate(-64 156.8 659.2)" filter="url(#blur05)"/>
<ellipse cx="157.6" cy="658.4" rx="3.9" ry="1.7" fill="#46a35a" transform="rotate(-64 156.8 659.2)" filter="url(#blur05)"/>
<line x1="147.50" y1="641.50" x2="147.50" y2="693.50" stroke="#555" stroke-width="0.6"/>
<line x1="125.50" y1="669.50" x2="179.50" y2="669.50" stroke="#555" stroke-width="0.6"/>
<text x="167.62" y="676.50" font-size="3.2" text-anchor="middle" fill="#333" font-weight="bold">7.865</text>
<text x="124.00" y="646.70" font-size="2.8" text-anchor="end" fill="#999">10</text>
<text x="124.00" y="659.70" font-size="2.8" text-anchor="end" fill="#999">10</text>
<text x="124.00" y="672.70" font-size="2.8" text-anchor="end" fill="#999">10</text>
<text x="124.00" y="685.70" font-size="2.8" text-anchor="end" fill="#999">10</text>
<text x="139.00" y="697.50" font-size="2.8" text-anchor="middle" fill="#999">10</text>
<text x="151.96" y="697.50" font-size="2.8" text-anchor="middle" fill="#999">10</text>
<text x="164.92" y="697.50" font-size="2.8" text-anchor="middle" fill="#999">10</text>
<text x="177.88" y="697.50" font-size="2.8" text-anchor="middle" fill="#999">10</text>
<text x="151.00" y="703.50" font-size="5.6" text-anchor="middle" fill="#2a2a2a" textLength="60" lengthAdjust="spacingAndGlyphs">d (PLT+CTL+Dec-MDSC)</text>
<text x="204.30" y="582.50" font-size="11.5" text-anchor="start" fill="#111" font-weight="bold">M</text>
<rect x="253.70" y="675.05" width="22.00" height="21.45" fill="#7184b9"/>
<rect x="289.20" y="634.88" width="22.00" height="61.62" fill="#f2a593"/>
<rect x="324.70" y="650.48" width="22.00" height="46.02" fill="#b9dca1"/>
<rect x="360.00" y="662.38" width="22.00" height="34.12" fill="#9f78ab"/>
<line x1="241.75" y1="597.00" x2="241.75" y2="696.50" stroke="#222" stroke-width="1.3"/>
<line x1="238.75" y1="696.50" x2="241.75" y2="696.50" stroke="#222" stroke-width="1.0"/>
<text x="235.15" y="699.56" font-size="8.5" text-anchor="end" fill="#2a2a2a" stroke="#2a2a2a" stroke-width="0.2" textLength="4.25" lengthAdjust="spacingAndGlyphs">0</text>
<line x1="238.75" y1="677.00" x2="241.75" y2="677.00" stroke="#222" stroke-width="1.0"/>
<text x="235.15" y="680.06" font-size="8.5" text-anchor="end" fill="#2a2a2a" stroke="#2a2a2a" stroke-width="0.2" textLength="4.25" lengthAdjust="spacingAndGlyphs">5</text>
<line x1="238.75" y1="657.50" x2="241.75" y2="657.50" stroke="#222" stroke-width="1.0"/>
<text x="235.15" y="660.56" font-size="8.5" text-anchor="end" fill="#2a2a2a" stroke="#2a2a2a" stroke-width="0.2" textLength="8.50" lengthAdjust="spacingAndGlyphs">10</text>
<line x1="238.75" y1="638.00" x2="241.75" y2="638.00" stroke="#222" stroke-width="1.0"/>
<text x="235.15" y="641.06" font-size="8.5" text-anchor="end" fill="#2a2a2a" stroke="#2a2a2a" stroke-width="0.2" textLength="8.50" lengthAdjust="spacingAndGlyphs">15</text>
<line x1="238.75" y1="618.50" x2="241.75" y2="618.50" stroke="#222" stroke-width="1.0"/>
<text x="235.15" y="621.56" font-size="8.5" text-anchor="end" fill="#2a2a2a" stroke="#2a2a2a" stroke-width="0.2" textLength="8.50" lengthAdjust="spacingAndGlyphs">20</text>
<line x1="238.75" y1="599.00" x2="241.75" y2="599.00" stroke="#222" stroke-width="1.0"/>
<text x="235.15" y="602.06" font-size="8.5" text-anchor="end" fill="#2a2a2a" stroke="#2a2a2a" stroke-width="0.2" textLength="8.50" lengthAdjust="spacingAndGlyphs">25</text>
<line x1="241.75" y1="696.50" x2="394.50" y2="696.50" stroke="#222" stroke-width="1.3"/>
<line x1="264.70" y1="696.50" x2="264.70" y2="699.50" stroke="#222" stroke-width="1.0"/>
<circle cx="264.70" cy="666.08" r="1.8" fill="#1d4f8a"/>
<circle cx="256.70" cy="671.93" r="1.8" fill="#1d4f8a"/>
<circle cx="260.70" cy="670.76" r="1.8" fill="#1d4f8a"/>
<circle cx="264.70" cy="671.15" r="1.8" fill="#1d4f8a"/>
<circle cx="268.70" cy="669.98" r="1.8" fill="#1d4f8a"/>
<circle cx="272.70" cy="671.15" r="1.8" fill="#1d4f8a"/>
<circle cx="255.70" cy="674.66" r="1.8" fill="#1d4f8a"/>
<circle cx="259.70" cy="675.44" r="1.8" fill="#1d4f8a"/>
<circle cx="263.70" cy="673.88" r="1.8" fill="#1d4f8a"/>
<circle cx="267.70" cy="675.05" r="1.8" fill="#1d4f8a"/>
<circle cx="271.70" cy="673.49" r="1.8" fill="#1d4f8a"/>
<circle cx="257.70" cy="677.78" r="1.8" fill="#1d4f8a"/>
<circle cx="261.70" cy="678.56" r="1.8" fill="#1d4f8a"/>
<circle cx="265.70" cy="677.39" r="1.8" fill="#1d4f8a"/>
<circle cx="269.70" cy="678.95" r="1.8" fill="#1d4f8a"/>
<circle cx="273.70" cy="677.39" r="1.8" fill="#1d4f8a"/>
<circle cx="256.70" cy="680.12" r="1.8" fill="#1d4f8a"/>
<circle cx="266.70" cy="680.51" r="1.8" fill="#1d4f8a"/>
<circle cx="270.70" cy="676.22" r="1.8" fill="#1d4f8a"/>
<line x1="260.20" y1="675.05" x2="269.20" y2="675.05" stroke="#1d4f8a" stroke-width="1.0"/>
<line x1="264.70" y1="671.15" x2="264.70" y2="678.95" stroke="#1d4f8a" stroke-width="1.0"/>
<line x1="260.20" y1="671.15" x2="269.20" y2="671.15" stroke="#1d4f8a" stroke-width="1.0"/>
<line x1="260.20" y1="678.95" x2="269.20" y2="678.95" stroke="#1d4f8a" stroke-width="1.0"/>
<line x1="300.20" y1="696.50" x2="300.20" y2="699.50" stroke="#222" stroke-width="1.0"/>
<rect x="298.40" y="605.78" width="3.60" height="3.60" fill="#c8173e"/>
<rect x="289.30" y="618.65" width="3.60" height="3.60" fill="#c8173e"/>
<rect x="301.40" y="619.43" width="3.60" height="3.60" fill="#c8173e"/>
<rect x="307.90" y="620.60" width="3.60" height="3.60" fill="#c8173e"/>
<rect x="295.40" y="622.16" width="3.60" height="3.60" fill="#c8173e"/>
<rect x="301.40" y="624.89" width="3.60" height="3.60" fill="#c8173e"/>
<rect x="298.40" y="629.18" width="3.60" height="3.60" fill="#c8173e"/>
<rect x="289.30" y="632.30" width="3.60" height="3.60" fill="#c8173e"/>
<rect x="307.90" y="632.30" width="3.60" height="3.60" fill="#c8173e"/>
<rect x="295.40" y="636.20" width="3.60" height="3.60" fill="#c8173e"/>
<rect x="301.40" y="635.42" width="3.60" height="3.60" fill="#c8173e"/>
<rect x="289.30" y="639.32" width="3.60" height="3.60" fill="#c8173e"/>
<rect x="295.40" y="642.44" width="3.60" height="3.60" fill="#c8173e"/>
<rect x="301.40" y="644.39" width="3.60" height="3.60" fill="#c8173e"/>
<rect x="307.90" y="645.56" width="3.60" height="3.60" fill="#c8173e"/>
<rect x="295.40" y="647.12" width="3.60" height="3.60" fill="#c8173e"/>
<rect x="301.40" y="648.68" width="3.60" height="3.60" fill="#c8173e"/>
<rect x="298.40" y="654.53" width="3.60" height="3.60" fill="#c8173e"/>
<line x1="295.70" y1="634.88" x2="304.70" y2="634.88" stroke="#c8173e" stroke-width="1.0"/>
<line x1="300.20" y1="622.40" x2="300.20" y2="647.36" stroke="#c8173e" stroke-width="1.0"/>
<line x1="295.70" y1="622.40" x2="304.70" y2="622.40" stroke="#c8173e" stroke-width="1.0"/>
<line x1="295.70" y1="647.36" x2="304.70" y2="647.36" stroke="#c8173e" stroke-width="1.0"/>
<line x1="335.70" y1="696.50" x2="335.70" y2="699.50" stroke="#222" stroke-width="1.0"/>
<path d="M335.70 631.34L337.50 634.76L333.90 634.76Z" fill="#3aa63a"/>
<path d="M340.70 635.63L342.50 639.05L338.90 639.05Z" fill="#3aa63a"/>
<path d="M331.30 640.31L333.10 643.73L329.50 643.73Z" fill="#3aa63a"/>
<path d="M340.70 640.31L342.50 643.73L338.90 643.73Z" fill="#3aa63a"/>
<path d="M326.40 643.04L328.20 646.46L324.60 646.46Z" fill="#3aa63a"/>
<path d="M335.70 643.04L337.50 646.46L333.90 646.46Z" fill="#3aa63a"/>
<path d="M340.70 645.77L342.50 649.19L338.90 649.19Z" fill="#3aa63a"/>
<path d="M331.30 647.33L333.10 650.75L329.50 650.75Z" fill="#3aa63a"/>
<path d="M335.70 647.33L337.50 650.75L333.90 650.75Z" fill="#3aa63a"/>
<path d="M326.40 652.79L328.20 656.21L324.60 656.21Z" fill="#3aa63a"/>
<path d="M331.30 652.79L333.10 656.21L329.50 656.21Z" fill="#3aa63a"/>
<path d="M335.70 655.52L337.50 658.94L333.90 658.94Z" fill="#3aa63a"/>
<path d="M340.70 655.52L342.50 658.94L338.90 658.94Z" fill="#3aa63a"/>
<path d="M345.10 654.74L346.90 658.16L343.30 658.16Z" fill="#3aa63a"/>
<path d="M335.70 660.78L337.50 664.21L333.90 664.21Z" fill="#3aa63a"/>
<path d="M335.70 666.83L337.50 670.25L333.90 670.25Z" fill="#3aa63a"/>
<line x1="331.20" y1="650.48" x2="340.20" y2="650.48" stroke="#3aa63a" stroke-width="1.0"/>
<line x1="335.70" y1="640.34" x2="335.70" y2="660.62" stroke="#3aa63a" stroke-width="1.0"/>
<line x1="331.20" y1="640.34" x2="340.20" y2="640.34" stroke="#3aa63a" stroke-width="1.0"/>
<line x1="331.20" y1="660.62" x2="340.20" y2="660.62" stroke="#3aa63a" stroke-width="1.0"/>
<line x1="371.00" y1="696.50" x2="371.00" y2="699.50" stroke="#222" stroke-width="1.0"/>
<path d="M371.00 637.64L372.80 634.22L369.20 634.22Z" fill="#55235f"/>
<path d="M371.00 645.44L372.80 642.02L369.20 642.02Z" fill="#55235f"/>
<path d="M365.70 648.56L367.50 645.14L363.90 645.14Z" fill="#55235f"/>
<path d="M375.20 648.56L377.00 645.14L373.40 645.14Z" fill="#55235f"/>
<path d="M375.20 658.70L377.00 655.28L373.40 655.28Z" fill="#55235f"/>
<path d="M361.00 661.82L362.80 658.40L359.20 658.40Z" fill="#55235f"/>
<path d="M365.70 662.99L367.50 659.57L363.90 659.57Z" fill="#55235f"/>
<path d="M371.00 661.04L372.80 657.62L369.20 657.62Z" fill="#55235f"/>
<path d="M380.00 661.82L381.80 658.40L378.20 658.40Z" fill="#55235f"/>
<path d="M361.00 666.50L362.80 663.08L359.20 663.08Z" fill="#55235f"/>
<path d="M365.70 668.06L367.50 664.64L363.90 664.64Z" fill="#55235f"/>
<path d="M375.20 664.94L377.00 661.52L373.40 661.52Z" fill="#55235f"/>
<path d="M380.00 666.50L381.80 663.08L378.20 663.08Z" fill="#55235f"/>
<path d="M365.70 671.96L367.50 668.54L363.90 668.54Z" fill="#55235f"/>
<path d="M371.00 671.57L372.80 668.15L369.20 668.15Z" fill="#55235f"/>
<path d="M375.20 673.13L377.00 669.71L373.40 669.71Z" fill="#55235f"/>
<path d="M369.00 679.96L370.80 676.53L367.20 676.53Z" fill="#55235f"/>
<path d="M373.20 679.96L375.00 676.53L371.40 676.53Z" fill="#55235f"/>
<line x1="366.50" y1="662.38" x2="375.50" y2="662.38" stroke="#55235f" stroke-width="1.0"/>
<line x1="371.00" y1="650.28" x2="371.00" y2="674.47" stroke="#55235f" stroke-width="1.0"/>
<line x1="366.50" y1="650.28" x2="375.50" y2="650.28" stroke="#55235f" stroke-width="1.0"/>
<line x1="366.50" y1="674.47" x2="375.50" y2="674.47" stroke="#55235f" stroke-width="1.0"/>
<text x="264.70" y="710.00" font-size="8.4" text-anchor="middle" fill="#2a2a2a" stroke="#2a2a2a" stroke-width="0.2">a</text>
<text x="300.20" y="710.00" font-size="8.4" text-anchor="middle" fill="#2a2a2a" stroke="#2a2a2a" stroke-width="0.2">b</text>
<text x="335.70" y="710.00" font-size="8.4" text-anchor="middle" fill="#2a2a2a" stroke="#2a2a2a" stroke-width="0.2">c</text>
<text x="371.00" y="710.00" font-size="8.4" text-anchor="middle" fill="#2a2a2a" stroke="#2a2a2a" stroke-width="0.2">d</text>
<line x1="301.20" y1="595.10" x2="335.50" y2="595.10" stroke="#333" stroke-width="1.0"/>
<text x="318.30" y="595.50" font-size="10.5" text-anchor="middle" fill="#222" stroke="#2a2a2a" stroke-width="0.2">***</text>
<line x1="337.80" y1="607.70" x2="372.10" y2="607.70" stroke="#333" stroke-width="1.0"/>
<text x="355.00" y="607.70" font-size="10.5" text-anchor="middle" fill="#222" stroke="#2a2a2a" stroke-width="0.2">***</text>
<text x="218.00" y="644.50" font-size="9.0" text-anchor="middle" fill="#2a2a2a" stroke="#2a2a2a" stroke-width="0.2" textLength="107.5" lengthAdjust="spacingAndGlyphs" transform="rotate(-90 218.00 644.50)">Percentage of  PLT apoptosis (%)</text>
<text x="415.30" y="581.60" font-size="11.5" text-anchor="start" fill="#111" font-weight="bold">N</text>
<line x1="450.80" y1="600.00" x2="450.80" y2="695.40" stroke="#222" stroke-width="1.3"/>
<line x1="447.80" y1="695.40" x2="450.80" y2="695.40" stroke="#222" stroke-width="1.0"/>
<text x="444.20" y="698.46" font-size="8.5" text-anchor="end" fill="#2a2a2a" stroke="#2a2a2a" stroke-width="0.2" textLength="4.25" lengthAdjust="spacingAndGlyphs">0</text>
<line x1="447.80" y1="672.05" x2="450.80" y2="672.05" stroke="#222" stroke-width="1.0"/>
<text x="444.20" y="675.11" font-size="8.5" text-anchor="end" fill="#2a2a2a" stroke="#2a2a2a" stroke-width="0.2" textLength="4.25" lengthAdjust="spacingAndGlyphs">5</text>
<line x1="447.80" y1="648.70" x2="450.80" y2="648.70" stroke="#222" stroke-width="1.0"/>
<text x="444.20" y="651.76" font-size="8.5" text-anchor="end" fill="#2a2a2a" stroke="#2a2a2a" stroke-width="0.2" textLength="8.50" lengthAdjust="spacingAndGlyphs">10</text>
<line x1="447.80" y1="625.35" x2="450.80" y2="625.35" stroke="#222" stroke-width="1.0"/>
<text x="444.20" y="628.41" font-size="8.5" text-anchor="end" fill="#2a2a2a" stroke="#2a2a2a" stroke-width="0.2" textLength="8.50" lengthAdjust="spacingAndGlyphs">15</text>
<line x1="447.80" y1="602.00" x2="450.80" y2="602.00" stroke="#222" stroke-width="1.0"/>
<text x="444.20" y="605.06" font-size="8.5" text-anchor="end" fill="#2a2a2a" stroke="#2a2a2a" stroke-width="0.2" textLength="8.50" lengthAdjust="spacingAndGlyphs">20</text>
<line x1="450.80" y1="695.40" x2="517.70" y2="695.40" stroke="#222" stroke-width="1.1"/>
<line x1="470.40" y1="695.40" x2="470.40" y2="697.90" stroke="#222" stroke-width="0.9"/>
<line x1="499.20" y1="695.40" x2="499.20" y2="697.90" stroke="#222" stroke-width="0.9"/>
<line x1="470.40" y1="618.35" x2="499.20" y2="631.19" stroke="#1a1a1a" stroke-width="1.05"/>
<line x1="470.40" y1="622.55" x2="499.20" y2="636.09" stroke="#1a1a1a" stroke-width="1.05"/>
<line x1="470.40" y1="626.75" x2="499.20" y2="648.00" stroke="#1a1a1a" stroke-width="1.05"/>
<line x1="470.40" y1="628.62" x2="499.20" y2="651.03" stroke="#1a1a1a" stroke-width="1.05"/>
<line x1="470.40" y1="630.49" x2="499.20" y2="654.77" stroke="#1a1a1a" stroke-width="1.05"/>
<line x1="470.40" y1="632.36" x2="499.20" y2="648.00" stroke="#1a1a1a" stroke-width="1.05"/>
<line x1="470.40" y1="634.22" x2="499.20" y2="658.51" stroke="#1a1a1a" stroke-width="1.05"/>
<line x1="470.40" y1="636.09" x2="499.20" y2="651.03" stroke="#1a1a1a" stroke-width="1.05"/>
<line x1="470.40" y1="637.96" x2="499.20" y2="663.64" stroke="#1a1a1a" stroke-width="1.05"/>
<line x1="470.40" y1="639.83" x2="499.20" y2="672.98" stroke="#1a1a1a" stroke-width="1.05"/>
<line x1="470.40" y1="641.69" x2="499.20" y2="622.08" stroke="#1a1a1a" stroke-width="1.05"/>
<line x1="470.40" y1="643.56" x2="499.20" y2="666.91" stroke="#1a1a1a" stroke-width="1.05"/>
<line x1="470.40" y1="645.43" x2="499.20" y2="654.77" stroke="#1a1a1a" stroke-width="1.05"/>
<line x1="470.40" y1="647.30" x2="499.20" y2="672.98" stroke="#1a1a1a" stroke-width="1.05"/>
<line x1="470.40" y1="649.17" x2="499.20" y2="658.51" stroke="#1a1a1a" stroke-width="1.05"/>
<line x1="470.40" y1="651.03" x2="499.20" y2="663.64" stroke="#1a1a1a" stroke-width="1.05"/>
<line x1="470.40" y1="653.37" x2="499.20" y2="672.98" stroke="#1a1a1a" stroke-width="1.05"/>
<line x1="470.40" y1="661.31" x2="499.20" y2="672.98" stroke="#1a1a1a" stroke-width="1.05"/>
<circle cx="470.40" cy="618.35" r="1.6" fill="#c8173e"/>
<circle cx="499.20" cy="631.19" r="1.6" fill="#55235f"/>
<circle cx="470.40" cy="622.55" r="1.6" fill="#c8173e"/>
<circle cx="499.20" cy="636.09" r="1.6" fill="#55235f"/>
<circle cx="470.40" cy="626.75" r="1.6" fill="#c8173e"/>
<circle cx="499.20" cy="648.00" r="1.6" fill="#55235f"/>
<circle cx="470.40" cy="628.62" r="1.6" fill="#c8173e"/>
<circle cx="499.20" cy="651.03" r="1.6" fill="#55235f"/>
<circle cx="470.40" cy="630.49" r="1.6" fill="#c8173e"/>
<circle cx="499.20" cy="654.77" r="1.6" fill="#55235f"/>
<circle cx="470.40" cy="632.36" r="1.6" fill="#c8173e"/>
<circle cx="499.20" cy="648.00" r="1.6" fill="#55235f"/>
<circle cx="470.40" cy="634.22" r="1.6" fill="#c8173e"/>
<circle cx="499.20" cy="658.51" r="1.6" fill="#55235f"/>
<circle cx="470.40" cy="636.09" r="1.6" fill="#c8173e"/>
<circle cx="499.20" cy="651.03" r="1.6" fill="#55235f"/>
<circle cx="470.40" cy="637.96" r="1.6" fill="#c8173e"/>
<circle cx="499.20" cy="663.64" r="1.6" fill="#55235f"/>
<circle cx="470.40" cy="639.83" r="1.6" fill="#c8173e"/>
<circle cx="499.20" cy="672.98" r="1.6" fill="#55235f"/>
<circle cx="470.40" cy="641.69" r="1.6" fill="#c8173e"/>
<circle cx="499.20" cy="622.08" r="1.6" fill="#55235f"/>
<circle cx="470.40" cy="643.56" r="1.6" fill="#c8173e"/>
<circle cx="499.20" cy="666.91" r="1.6" fill="#55235f"/>
<circle cx="470.40" cy="645.43" r="1.6" fill="#c8173e"/>
<circle cx="499.20" cy="654.77" r="1.6" fill="#55235f"/>
<circle cx="470.40" cy="647.30" r="1.6" fill="#c8173e"/>
<circle cx="499.20" cy="672.98" r="1.6" fill="#55235f"/>
<circle cx="470.40" cy="649.17" r="1.6" fill="#c8173e"/>
<circle cx="499.20" cy="658.51" r="1.6" fill="#55235f"/>
<circle cx="470.40" cy="651.03" r="1.6" fill="#c8173e"/>
<circle cx="499.20" cy="663.64" r="1.6" fill="#55235f"/>
<circle cx="470.40" cy="653.37" r="1.6" fill="#c8173e"/>
<circle cx="499.20" cy="672.98" r="1.6" fill="#55235f"/>
<circle cx="470.40" cy="661.31" r="1.6" fill="#c8173e"/>
<circle cx="499.20" cy="672.98" r="1.6" fill="#55235f"/>
<line x1="470.40" y1="606.50" x2="499.20" y2="606.50" stroke="#333" stroke-width="1.0"/>
<text x="484.00" y="607.20" font-size="10.5" text-anchor="middle" fill="#222" stroke="#2a2a2a" stroke-width="0.2">***</text>
<text x="470.40" y="708.50" font-size="7.8" text-anchor="middle" fill="#2a2a2a" stroke="#2a2a2a" stroke-width="0.2">c</text>
<text x="499.20" y="708.50" font-size="7.8" text-anchor="middle" fill="#2a2a2a" stroke="#2a2a2a" stroke-width="0.2">d</text>
<text x="432.50" y="647.10" font-size="9.2" text-anchor="middle" fill="#2a2a2a" stroke="#2a2a2a" stroke-width="0.2" textLength="109" lengthAdjust="spacingAndGlyphs" transform="rotate(-90 432.50 647.10)">Percentage of  PLT apoptosis (%)</text>
</svg>
</body></html>
